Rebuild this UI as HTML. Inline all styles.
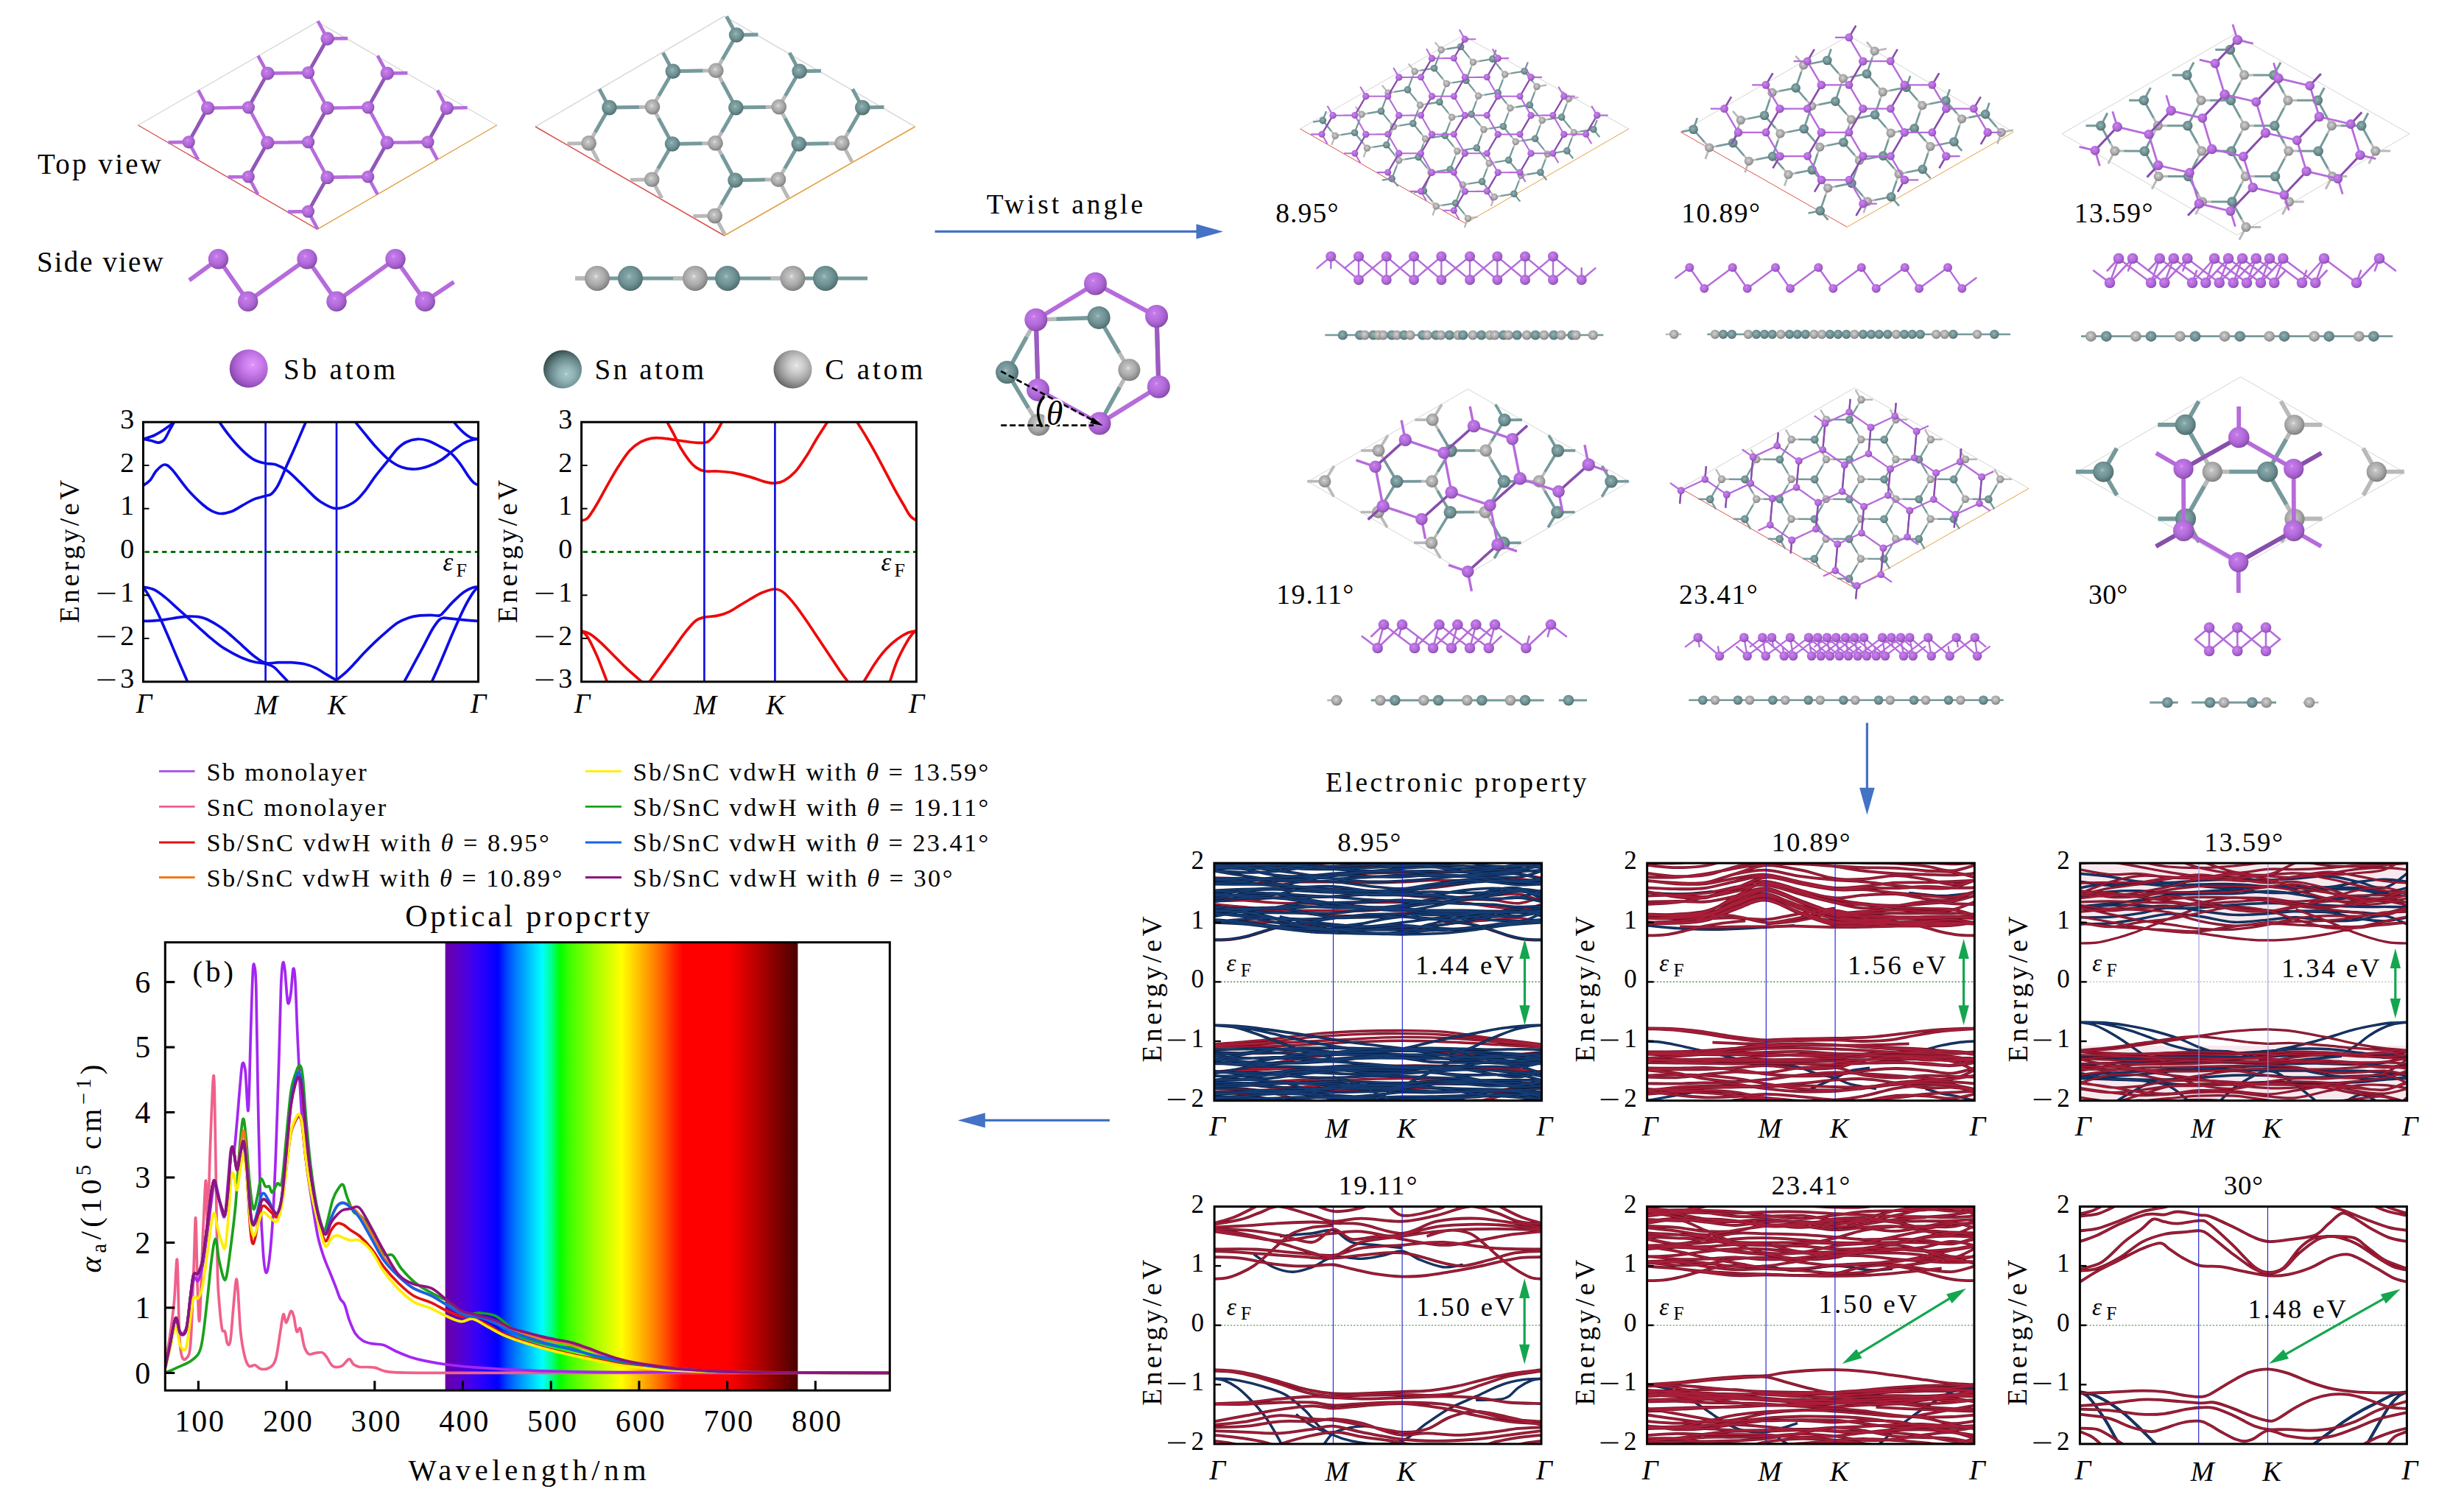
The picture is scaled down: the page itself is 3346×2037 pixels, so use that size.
<!DOCTYPE html>
<html><head><meta charset="utf-8"><title>Figure</title>
<style>html,body{margin:0;padding:0;background:#fff}svg{display:block}text{font-family:"Liberation Serif",serif;fill:#000}</style></head>
<body><svg width="3346" height="2037" viewBox="0 0 3346 2037"><defs>
<radialGradient id="gSb" cx="0.42" cy="0.40" r="0.62" fx="0.40" fy="0.36">
<stop offset="0" stop-color="#e6a8f8"/><stop offset="0.12" stop-color="#c47be8"/><stop offset="0.55" stop-color="#b36bdc"/><stop offset="0.85" stop-color="#9a58c0"/><stop offset="1" stop-color="#7e479f"/></radialGradient>
<radialGradient id="gSn" cx="0.45" cy="0.42" r="0.62" fx="0.45" fy="0.42">
<stop offset="0" stop-color="#a9c4c6"/><stop offset="0.15" stop-color="#86a6a8"/><stop offset="0.55" stop-color="#6f9294"/><stop offset="0.85" stop-color="#587678"/><stop offset="1" stop-color="#435c5e"/></radialGradient>
<radialGradient id="gC" cx="0.45" cy="0.42" r="0.62" fx="0.45" fy="0.42">
<stop offset="0" stop-color="#e8e8e8"/><stop offset="0.15" stop-color="#c4c4c4"/><stop offset="0.55" stop-color="#aaaaaa"/><stop offset="0.85" stop-color="#8a8a8a"/><stop offset="1" stop-color="#6c6c6c"/></radialGradient>

<radialGradient id="gSbL" cx="0.6" cy="0.4" r="0.66" fx="0.6" fy="0.4">
<stop offset="0" stop-color="#fff"/><stop offset="0.04" stop-color="#e092fa"/><stop offset="0.3" stop-color="#cf80f0"/><stop offset="0.6" stop-color="#b368d8"/><stop offset="0.85" stop-color="#9550ba"/><stop offset="1" stop-color="#7a3c9c"/></radialGradient>
<radialGradient id="gSnL" cx="0.6" cy="0.62" r="0.67" fx="0.6" fy="0.62">
<stop offset="0" stop-color="#fff"/><stop offset="0.04" stop-color="#a4c6c8"/><stop offset="0.3" stop-color="#8fb2b4"/><stop offset="0.6" stop-color="#6b8c8e"/><stop offset="0.85" stop-color="#46605f"/><stop offset="1" stop-color="#2c4042"/></radialGradient>
<radialGradient id="gCL" cx="0.6" cy="0.4" r="0.66" fx="0.6" fy="0.4">
<stop offset="0" stop-color="#fff"/><stop offset="0.04" stop-color="#e2e2e2"/><stop offset="0.3" stop-color="#cbcbcb"/><stop offset="0.6" stop-color="#a4a4a4"/><stop offset="0.85" stop-color="#7a7a7a"/><stop offset="1" stop-color="#585858"/></radialGradient>
</defs>
<rect width="3346" height="2037" fill="#fff"/>
<line x1="431" y1="29.7" x2="187.5" y2="170" stroke="#d8d8d8" stroke-width="1.4" stroke-linecap="butt" />
<line x1="674.7" y1="170" x2="431" y2="29.7" stroke="#d8d8d8" stroke-width="1.4" stroke-linecap="butt" />
<line x1="187.5" y1="170" x2="431" y2="311.3" stroke="#d9534f" stroke-width="1.4" stroke-linecap="butt" />
<line x1="431" y1="311.3" x2="674.7" y2="170" stroke="#e0a040" stroke-width="1.4" stroke-linecap="butt" />
<path d="M444.5 240.9L431.4 264.2M444.5 240.9L431.4 216.7M444.5 240.9L472.4 240.4M525.7 193.8L512.6 217.1M525.7 193.8L512.6 169.6M525.7 193.8L553.6 193.3M606.9 146.7L593.8 170M606.9 146.7L594 122.7M606.9 146.7L634.6 146.3M363.3 193.8L350.2 217.1M363.3 193.8L350.2 169.6M363.3 193.8L391.2 193.3M444.5 146.7L431.4 170M444.5 146.7L431.5 122.5M444.5 146.7L472.4 146.2M525.8 99.6L512.7 122.9M525.8 99.6L512.8 75.6M525.8 99.6L553.4 99.1M282.1 146.7L269 170M282.1 146.7L269.2 122.7M282.1 146.7L310 146.2M363.4 99.6L350.3 122.9M363.4 99.6L350.4 75.6M363.4 99.6L391.3 99.1M444.6 52.5L431.5 75.8M444.6 52.5L431.6 28.5M444.6 52.5L472.2 52.1M418.5 287.1L431.6 263.8M418.5 287.1L431.4 311.1M418.5 287.1L390.9 287.6M499.7 240L512.8 216.7M499.7 240L512.7 264M499.7 240L471.8 240.5M581 192.9L594.1 169.6M581 192.9L593.9 216.9M581 192.9L553.1 193.4M337.3 240L350.4 216.7M337.3 240L350.3 264M337.3 240L309.7 240.4M418.6 192.9L431.7 169.6M418.6 192.9L431.6 217.1M418.6 192.9L390.7 193.4M499.8 145.8L512.9 122.5M499.8 145.8L512.9 170M499.8 145.8L471.9 146.3M256.2 192.9L269.3 169.6M256.2 192.9L269.1 216.9M256.2 192.9L228.5 193.4M337.4 145.8L350.5 122.5M337.4 145.8L350.5 170M337.4 145.8L309.5 146.3M418.6 98.7L431.7 75.4M418.6 98.7L431.7 122.9M418.6 98.7L390.7 99.2" stroke="#b66bdb" stroke-width="4.6" fill="none" stroke-linecap="butt"/>
<path d="M444.5 240.9L431.4 264.2M525.7 193.8L512.6 217.1M606.9 146.7L593.8 170M363.3 193.8L350.2 217.1M444.5 146.7L431.4 170M525.8 99.6L512.7 122.9M282.1 146.7L269 170M363.4 99.6L350.3 122.9M444.6 52.5L431.5 75.8M418.5 287.1L431.6 263.8M499.7 240L512.8 216.7M581 192.9L594.1 169.6M337.3 240L350.4 216.7M418.6 192.9L431.7 169.6M499.8 145.8L512.9 122.5M256.2 192.9L269.3 169.6M337.4 145.8L350.5 122.5M418.6 98.7L431.7 75.4" stroke="#9058b6" stroke-width="4.6" fill="none"/>
<circle cx="418.5" cy="287.1" r="8.6" fill="url(#gSb)"/>
<circle cx="499.7" cy="240" r="8.6" fill="url(#gSb)"/>
<circle cx="581" cy="192.9" r="8.6" fill="url(#gSb)"/>
<circle cx="337.3" cy="240" r="8.6" fill="url(#gSb)"/>
<circle cx="418.6" cy="192.9" r="8.6" fill="url(#gSb)"/>
<circle cx="499.8" cy="145.8" r="8.6" fill="url(#gSb)"/>
<circle cx="256.2" cy="192.9" r="8.6" fill="url(#gSb)"/>
<circle cx="337.4" cy="145.8" r="8.6" fill="url(#gSb)"/>
<circle cx="418.6" cy="98.7" r="8.6" fill="url(#gSb)"/>
<circle cx="444.5" cy="240.9" r="9.2" fill="url(#gSb)"/>
<circle cx="525.7" cy="193.8" r="9.2" fill="url(#gSb)"/>
<circle cx="606.9" cy="146.7" r="9.2" fill="url(#gSb)"/>
<circle cx="363.3" cy="193.8" r="9.2" fill="url(#gSb)"/>
<circle cx="444.5" cy="146.7" r="9.2" fill="url(#gSb)"/>
<circle cx="525.8" cy="99.6" r="9.2" fill="url(#gSb)"/>
<circle cx="282.1" cy="146.7" r="9.2" fill="url(#gSb)"/>
<circle cx="363.4" cy="99.6" r="9.2" fill="url(#gSb)"/>
<circle cx="444.6" cy="52.5" r="9.2" fill="url(#gSb)"/>
<line x1="983.6" y1="22" x2="727" y2="172" stroke="#dcdcdc" stroke-width="1.6" stroke-linecap="butt" />
<line x1="1242.6" y1="172" x2="983.6" y2="22" stroke="#dcdcdc" stroke-width="1.6" stroke-linecap="butt" />
<line x1="727" y1="172" x2="983.6" y2="320" stroke="#d9534f" stroke-width="1.6" stroke-linecap="butt" />
<line x1="983.6" y1="320" x2="1242.6" y2="172" stroke="#e0a040" stroke-width="1.6" stroke-linecap="butt" />
<path d="M998.5 244.8L979 278.6M998.5 244.8L979.6 209.5M998.5 244.8L1039.5 244.1M1084.8 195.5L1065.4 229.3M1084.8 195.5L1065.9 160.2M1084.8 195.5L1125.8 194.7M1171.2 146.1L1151.7 179.9M1171.2 146.1L1157.7 120.9M1171.2 146.1L1200.4 145.6M913 195.5L893.5 229.3M913 195.5L894.1 160.2M913 195.5L953.9 194.7M999.3 146.1L979.8 179.9M999.3 146.1L980.4 110.9M999.3 146.1L1040.3 145.4M1085.6 96.8L1066.2 130.6M1085.6 96.8L1072.1 71.6M1085.6 96.8L1114.9 96.3M827.4 146.1L808 179.9M827.4 146.1L813.9 120.9M827.4 146.1L868.4 145.4M913.8 96.8L894.3 130.6M913.8 96.8L900.3 71.6M913.8 96.8L954.7 96.1M1000.1 47.5L980.6 81.3M1000.1 47.5L986.6 22.3M1000.1 47.5L1029.4 46.9" stroke="#769a9c" stroke-width="5" fill="none" stroke-linecap="butt"/>
<path d="M970.7 293.1L979.3 278.1M970.7 293.1L984.2 318.3M970.7 293.1L941.4 293.6M1057 243.8L1065.7 228.8M1057 243.8L1070.5 269M1057 243.8L1038.9 244.1M1143.4 194.4L1152 179.5M1143.4 194.4L1156.9 219.6M1143.4 194.4L1125.2 194.8M885.2 243.8L893.8 228.8M885.2 243.8L898.7 269M885.2 243.8L855.9 244.3M971.5 194.4L980.1 179.5M971.5 194.4L979.9 210M971.5 194.4L953.4 194.8M1057.8 145.1L1066.5 130.1M1057.8 145.1L1066.2 160.7M1057.8 145.1L1039.7 145.4M799.6 194.4L808.3 179.5M799.6 194.4L813.1 219.6M799.6 194.4L770.4 194.9M886 145.1L894.6 130.1M886 145.1L894.3 160.7M886 145.1L867.8 145.4M972.3 95.8L980.9 80.8M972.3 95.8L980.7 111.4M972.3 95.8L954.2 96.1" stroke="#b9b9b9" stroke-width="5" fill="none" stroke-linecap="butt"/>
<circle cx="970.7" cy="293.1" r="10.3" fill="url(#gC)"/>
<circle cx="1057" cy="243.8" r="10.3" fill="url(#gC)"/>
<circle cx="1143.4" cy="194.4" r="10.3" fill="url(#gC)"/>
<circle cx="885.2" cy="243.8" r="10.3" fill="url(#gC)"/>
<circle cx="971.5" cy="194.4" r="10.3" fill="url(#gC)"/>
<circle cx="1057.8" cy="145.1" r="10.3" fill="url(#gC)"/>
<circle cx="799.6" cy="194.4" r="10.3" fill="url(#gC)"/>
<circle cx="886" cy="145.1" r="10.3" fill="url(#gC)"/>
<circle cx="972.3" cy="95.8" r="10.3" fill="url(#gC)"/>
<circle cx="998.5" cy="244.8" r="10.3" fill="url(#gSn)"/>
<circle cx="1084.8" cy="195.5" r="10.3" fill="url(#gSn)"/>
<circle cx="1171.2" cy="146.1" r="10.3" fill="url(#gSn)"/>
<circle cx="913" cy="195.5" r="10.3" fill="url(#gSn)"/>
<circle cx="999.3" cy="146.1" r="10.3" fill="url(#gSn)"/>
<circle cx="1085.6" cy="96.8" r="10.3" fill="url(#gSn)"/>
<circle cx="827.4" cy="146.1" r="10.3" fill="url(#gSn)"/>
<circle cx="913.8" cy="96.8" r="10.3" fill="url(#gSn)"/>
<circle cx="1000.1" cy="47.5" r="10.3" fill="url(#gSn)"/>
<polyline points="257,380.7 296.5,351.7 336.7,409.2 417,351.7 457,409.2 537,351.7 577.3,409.2 616.4,382.8" fill="none" stroke="#b66bdb" stroke-width="5.8" stroke-linejoin="round"/>
<circle cx="336.7" cy="409.2" r="13.7" fill="url(#gSb)"/>
<circle cx="457" cy="409.2" r="13.7" fill="url(#gSb)"/>
<circle cx="577.3" cy="409.2" r="13.7" fill="url(#gSb)"/>
<circle cx="296.5" cy="351.7" r="13.7" fill="url(#gSb)"/>
<circle cx="417" cy="351.7" r="13.7" fill="url(#gSb)"/>
<circle cx="537" cy="351.7" r="13.7" fill="url(#gSb)"/>
<line x1="781" y1="378" x2="1178" y2="378" stroke="#769a9c" stroke-width="5" stroke-linecap="butt" />
<line x1="781" y1="378" x2="811" y2="378" stroke="#b9b9b9" stroke-width="5" stroke-linecap="butt" />
<line x1="914" y1="378" x2="944" y2="378" stroke="#b9b9b9" stroke-width="5" stroke-linecap="butt" />
<line x1="1046.5" y1="378" x2="1076.5" y2="378" stroke="#b9b9b9" stroke-width="5" stroke-linecap="butt" />
<line x1="781" y1="378" x2="811" y2="378" stroke="#b9b9b9" stroke-width="5" stroke-linecap="butt" />
<circle cx="811" cy="378" r="17" fill="url(#gC)"/>
<circle cx="944" cy="378" r="17" fill="url(#gC)"/>
<circle cx="1076.5" cy="378" r="17" fill="url(#gC)"/>
<circle cx="856" cy="378" r="17" fill="url(#gSn)"/>
<circle cx="988" cy="378" r="17" fill="url(#gSn)"/>
<circle cx="1121" cy="378" r="17" fill="url(#gSn)"/>
<circle cx="337.7" cy="500.5" r="26" fill="url(#gSbL)"/>
<circle cx="764" cy="501.6" r="26" fill="url(#gSnL)"/>
<circle cx="1076.5" cy="501.6" r="26" fill="url(#gCL)"/>
<text x="51" y="236" font-size="39" textLength="168" lengthAdjust="spacing" >Top view</text>
<text x="50" y="369" font-size="39" textLength="171.6" lengthAdjust="spacing" >Side view</text>
<text x="385" y="515" font-size="39" textLength="152" lengthAdjust="spacing" >Sb atom</text>
<text x="807.4" y="515" font-size="39" textLength="148.8" lengthAdjust="spacing" >Sn atom</text>
<text x="1120.3" y="515" font-size="39" textLength="133" lengthAdjust="spacing" >C atom</text>
<clipPath id="cpA"><rect x="194.5" y="573.2" width="455" height="352.6"/></clipPath>
<g clip-path="url(#cpA)" fill="none" stroke="#0d0de6" stroke-width="3.7">
<path d="M194.5 659.2C196 658.1 200.5 655.9 203.5 652.6C206.5 649.2 209.3 642.7 212.5 639.1C215.8 635.5 219.5 631.3 223 631C226.5 630.8 228.3 632 233.5 637.6C238.8 643.2 247.6 656.6 254.6 664.6C261.6 672.6 270.1 680.6 275.6 685.5C281.1 690.4 283.6 691.9 287.6 693.9C291.6 695.9 295.1 697.4 299.6 697.5C304.1 697.6 309.6 696.4 314.6 694.5C319.6 692.6 324.6 688.9 329.6 686.1C334.7 683.4 339.6 680.1 344.7 678.1C349.8 676 356.3 674.8 360.3 673.6C364.3 672.3 365.8 673.1 368.7 670.6C371.6 668.1 374.2 665.1 377.7 658.6C381.2 652.1 385.7 640.6 389.7 631.6C393.7 622.6 397.5 614.4 401.7 604.7C406 594.9 412.2 580.2 415.2 573.2C418.2 566.2 419 564.5 419.7 562.7"/>
<path d="M293.6 562.7C294.4 564.5 294.6 567.7 298.1 573.2C301.6 578.7 309.4 589.2 314.6 595.7C319.9 602.2 324.6 607.4 329.6 612.1C334.7 616.9 339.6 621.3 344.7 624.1C349.8 627 355.3 628.1 360.3 629.2C365.3 630.4 369.8 629.4 374.7 631C379.6 632.7 384.7 635.5 389.7 639.1C394.7 642.7 399.7 647.8 404.7 652.6C409.7 657.3 414.7 662.8 419.7 667.6C424.8 672.3 428.6 677.2 434.8 681C440.9 684.9 449.2 690.4 456.7 690.6C464.2 690.9 473.5 686.4 479.8 682.5C486.2 678.7 489.8 673.6 494.8 667.6C499.8 661.6 504.3 653.8 509.8 646.6C515.4 639.4 522.9 630.4 527.9 624.1C532.9 617.9 535.9 613.1 539.9 609.1C543.9 605.2 547.4 602.3 551.9 600.2C556.4 598 561.9 596.5 566.9 596.3C571.9 596 576.4 596.8 581.9 598.7C587.4 600.6 594.9 604.9 599.9 607.7C605 610.4 608 611.6 612 615.1C616 618.6 620 623.4 624 628.6C628 633.9 632.7 642.1 636 646.6C639.2 651.1 641.2 653.6 643.5 655.6C645.7 657.6 648.5 658.1 649.5 658.6"/>
<path d="M476.8 562.7C477.8 564.5 479.8 569 482.8 573.2C485.8 577.4 490.3 582.7 494.8 588.2C499.3 593.7 504.3 600.2 509.8 606.2C515.4 612.1 521.9 619.4 527.9 624.1C533.9 628.9 539.9 632.5 545.9 634.6C551.9 636.8 557.9 637.3 563.9 637C569.9 636.8 575.9 635.3 581.9 633.1C587.9 631 594.4 627.6 599.9 624.1C605.5 620.6 610 615.9 615 612.1C620 608.4 625.5 604.2 630 601.7C634.5 599.2 638.7 598.1 642 597.2C645.2 596.3 648.2 596.4 649.5 596.3"/>
<path d="M610.5 562.7C611.5 564.5 613.7 569.5 616.5 573.2C619.2 576.9 623.2 581.7 627 585.2C630.7 588.7 635.2 592.3 639 594.2C642.7 596 647.7 595.9 649.5 596.3"/>
<path d="M194.5 596.3C197 595.4 204.5 593.5 209.5 591.2C214.5 588.8 220 585.2 224.5 582.2C229 579.2 233.5 575.7 236.5 573.2C239.5 570.7 241.6 568.2 242.6 567.2"/>
<path d="M194.5 596.3C196.5 596.7 203 597.9 206.5 598.7C210 599.5 212.8 601.3 215.5 601.1C218.3 600.8 220.5 600.1 223 597.2C225.5 594.3 228.3 587.7 230.5 583.7C232.8 579.7 235 575.9 236.5 573.2C238 570.5 239 568.2 239.5 567.2"/>
<path d="M194.5 797C197 797.6 204.5 798.5 209.5 800.9C214.5 803.3 219.5 807.4 224.5 811.4C229.5 815.4 234.5 820.3 239.5 824.8C244.6 829.3 249.6 833.8 254.6 838.3C259.6 842.8 264.6 847.3 269.6 851.8C274.6 856.3 279.6 861 284.6 865.3C289.6 869.5 294.6 873.8 299.6 877.3C304.6 880.8 309.6 883.5 314.6 886.3C319.6 889 324.6 891.6 329.6 893.7C334.7 895.8 339.6 897.6 344.7 898.8C349.8 900.1 355.8 900.1 360.3 901.2C364.8 902.4 368.3 903.5 371.7 905.7C375.1 908 377.5 911.4 380.7 914.7C384 918.1 388.7 923.1 391.2 925.8C393.7 928.5 395 930.3 395.7 931.2"/>
<path d="M194.5 797C196 799.4 200 805 203.5 811.4C207 817.8 211.5 826.8 215.5 835.3C219.5 843.8 223.5 853.1 227.5 862.3C231.5 871.5 235 880.2 239.5 890.7C244.1 901.3 251.6 918.8 254.6 925.8C257.6 932.8 257.1 931.5 257.6 932.7"/>
<path d="M194.5 843.4C197 843.3 204.5 843.2 209.5 842.8C214.5 842.5 219.5 842 224.5 841.3C229.5 840.7 234.5 839.6 239.5 838.9C244.6 838.2 249.6 837.3 254.6 837.1C259.6 836.9 265.1 837 269.6 837.7C274.1 838.4 276.6 839 281.6 841.3C286.6 843.7 294.1 848.1 299.6 851.8C305.1 855.5 309.6 859.5 314.6 863.8C319.6 868 324.6 872.8 329.6 877.3C334.7 881.8 339.6 886.9 344.7 890.7C349.8 894.6 354.8 898.8 360.3 900.3C365.8 901.8 371.8 899.8 377.7 899.7C383.6 899.6 389.7 899.4 395.7 899.7C401.7 900.1 408.2 900.6 413.7 901.8C419.2 903.1 423.8 904.8 428.8 907.2C433.8 909.6 439.1 913.5 443.8 916.2C448.4 919 454.5 922.5 456.7 923.7"/>
<path d="M456.7 923.7C458.5 922.2 463.9 918.2 467.8 914.7C471.7 911.2 475.3 907.5 479.8 902.7C484.3 898 489.8 891.5 494.8 886.3C499.8 881 504.8 876 509.8 871.3C514.9 866.5 519.9 862 524.9 857.8C529.9 853.6 534.9 849 539.9 845.8C544.9 842.7 549.9 840.6 554.9 838.9C559.9 837.3 564.9 836.5 569.9 835.9C574.9 835.3 580.4 835.3 584.9 835.3C589.4 835.3 593.9 836.7 596.9 835.9C599.9 835.2 599.9 833.9 602.9 830.8C606 827.7 610.5 821.8 615 817.4C619.5 812.9 625.5 807.1 630 803.9C634.5 800.6 638.7 799 642 797.9C645.2 796.7 648.2 797.1 649.5 797"/>
<path d="M545.9 932.7C546.4 931.5 545.9 931.5 548.9 925.8C551.9 920.1 559.4 906.6 563.9 898.2C568.4 889.9 571.9 883.3 575.9 875.8C579.9 868.3 584.4 859 587.9 853.3C591.4 847.6 594.4 843.7 596.9 841.3C599.4 839 599.9 839.4 602.9 839.2C606 839.1 610.5 840 615 840.4C619.5 840.9 624.2 841.4 630 841.9C635.7 842.4 646.2 843.2 649.5 843.4"/>
<path d="M583.4 932.7C583.9 931.5 583.7 932 586.4 925.8C589.2 919.6 595.2 906.3 599.9 895.2C604.7 884.2 610 870.8 615 859.3C620 847.8 625.5 835.3 630 826.3C634.5 817.4 638.7 810.3 642 805.4C645.2 800.5 648.2 798.4 649.5 797"/>
</g>
<line x1="360.6" y1="573.2" x2="360.6" y2="925.8" stroke="#1010e0" stroke-width="2.7" stroke-linecap="butt" />
<line x1="457" y1="573.2" x2="457" y2="925.8" stroke="#1010e0" stroke-width="2.7" stroke-linecap="butt" />
<line x1="196.5" y1="749.5" x2="649.5" y2="749.5" stroke="#0a6e0a" stroke-width="3" stroke-dasharray="6.4 5.4"/>
<rect x="194.5" y="573.2" width="455" height="352.6" fill="none" stroke="#000" stroke-width="3"/>
<clipPath id="cpB"><rect x="789.6" y="573.2" width="454.8" height="352.6"/></clipPath>
<g clip-path="url(#cpB)" fill="none" stroke="#ee0a0a" stroke-width="3.7">
<path d="M789.6 707.1C791 706.5 794.6 707.1 798 703.5C801.4 699.9 805.5 693 810 685.5C814.5 678.1 820 667.3 825 658.6C830 649.8 835 640.9 840 633.1C845 625.4 850 617.6 855 612.1C860 606.7 865 603 870 600.2C875 597.3 880 595.9 885 595.1C890 594.2 895 594.7 900 595.1C905 595.4 910 596.5 915 597.2C920 597.9 925 598.6 930 599.3C935 599.9 940.6 600.8 945 601.1C949.4 601.4 953.4 601.5 956.4 601.1C959.4 600.7 960.4 600.8 963 598.7C965.6 596.5 969.1 592.4 972 588.2C974.9 583.9 978.4 576.9 980.4 573.2C982.4 569.5 983.4 567 984 565.7"/>
<path d="M902.4 565.7C903 567 903.9 569.2 906 573.2C908.1 577.2 912 583.9 915 589.7C918 595.4 920.5 601.7 924 607.7C927.5 613.6 932.5 621.1 936 625.6C939.5 630.1 941.6 632.3 945 634.6C948.4 637 951.4 638.8 956.4 639.7C961.4 640.6 968.4 639.6 975 640C981.6 640.4 988.5 640.8 996 642.1C1003.5 643.5 1013 646.1 1020 648.1C1027 650.1 1032.6 652.7 1038 654.1C1043.4 655.4 1047.9 656.4 1052.4 656.2C1056.9 655.9 1060.4 655.2 1065 652.6C1069.6 650 1075 646.1 1080 640.6C1085 635.1 1090 627.4 1095 619.6C1100 611.9 1105.2 601.9 1110 594.2C1114.8 586.4 1120.5 577.9 1123.5 573.2C1126.5 568.5 1127.2 567 1128 565.7"/>
<path d="M1160.4 565.7C1161 567 1161.4 568.7 1164 573.2C1166.6 577.7 1172 585.9 1176 592.7C1180 599.4 1184 606.4 1188 613.6C1192 620.9 1195.5 627.6 1200 636.1C1204.5 644.6 1210.5 656.3 1215 664.6C1219.5 672.8 1223.5 679.5 1227 685.5C1230.5 691.5 1233.1 696.9 1236 700.5C1238.9 704.1 1243 706 1244.4 707.1"/>
<path d="M789.6 856.9C791.5 857.5 796.6 858.1 801 860.8C805.4 863.4 810.5 867.8 816 872.8C821.5 877.8 828 884.8 834 890.7C840 896.7 845.8 902.9 852 908.7C858.2 914.6 867 921.8 871.5 925.8C876 929.8 877.8 931.5 879 932.7"/>
<path d="M789.6 856.9C791 858.3 794.6 859.9 798 865.3C801.4 870.7 806.5 881.5 810 889.3C813.5 897 816.6 905.6 819 911.7C821.4 917.8 823.1 922.3 824.4 925.8C825.7 929.3 826.4 931.5 826.8 932.7"/>
<path d="M877.5 932.7C878.2 931.5 878.2 931 882 925.8C885.8 920.6 894.5 908.8 900 901.2C905.5 893.6 910 887.3 915 880.3C920 873.3 925 865.5 930 859.3C935 853.1 940.6 846.3 945 842.8C949.4 839.3 951.4 839.5 956.4 838.3C961.4 837.2 969.4 837.2 975 835.9C980.6 834.7 985 833.2 990 830.8C995 828.5 1000 824.8 1005 821.8C1010 818.9 1015 815.7 1020 812.9C1025 810 1029.6 806.9 1035 804.8C1040.4 802.6 1047.4 799.9 1052.4 800C1057.4 800.1 1060.4 801.7 1065 805.4C1069.6 809 1075 815.6 1080 821.8C1085 828.1 1090 835.6 1095 842.8C1100 850.1 1105 857.8 1110 865.3C1115 872.8 1120 880.3 1125 887.8C1130 895.2 1135.6 903.9 1140 910.2C1144.4 916.6 1148.7 922.1 1151.4 925.8C1154.2 929.5 1155.7 931.5 1156.5 932.7"/>
<path d="M1168.5 932.7C1169.2 931.5 1169.8 931 1173 925.8C1176.2 920.6 1183 908.6 1188 901.2C1193 893.9 1198 887.3 1203 881.8C1208 876.3 1213 872 1218 868.3C1223 864.5 1228.6 861.2 1233 859.3C1237.4 857.4 1242.5 857.3 1244.4 856.9"/>
<path d="M1206 932.7C1206.4 931.5 1206.4 931.5 1208.4 925.8C1210.4 920.1 1214.4 906.8 1218 898.2C1221.6 889.7 1226.5 880.5 1230 874.3C1233.5 868 1236.6 863.7 1239 860.8C1241.4 857.9 1243.5 857.5 1244.4 856.9"/>
</g>
<line x1="956.4" y1="573.2" x2="956.4" y2="925.8" stroke="#1010e0" stroke-width="2.7" stroke-linecap="butt" />
<line x1="1052.4" y1="573.2" x2="1052.4" y2="925.8" stroke="#1010e0" stroke-width="2.7" stroke-linecap="butt" />
<line x1="791.6" y1="749.5" x2="1244.4" y2="749.5" stroke="#0a6e0a" stroke-width="3" stroke-dasharray="6.4 5.4"/>
<rect x="789.6" y="573.2" width="454.8" height="352.6" fill="none" stroke="#000" stroke-width="3"/>
<text x="182.2" y="581.8" font-size="38" text-anchor="end" >3</text>
<text x="182.2" y="640.6" font-size="38" text-anchor="end" >2</text>
<line x1="194.5" y1="632" x2="202.5" y2="632" stroke="#000" stroke-width="2" stroke-linecap="butt" />
<text x="182.2" y="699.3" font-size="38" text-anchor="end" >1</text>
<line x1="194.5" y1="690.7" x2="202.5" y2="690.7" stroke="#000" stroke-width="2" stroke-linecap="butt" />
<text x="182.2" y="758.1" font-size="38" text-anchor="end" >0</text>
<text x="182.2" y="816.9" font-size="38" text-anchor="end" >1</text>
<line x1="132.5" y1="805.8" x2="156.5" y2="805.8" stroke="#000" stroke-width="1.8" stroke-linecap="butt" />
<line x1="194.5" y1="808.3" x2="202.5" y2="808.3" stroke="#000" stroke-width="2" stroke-linecap="butt" />
<text x="182.2" y="875.6" font-size="38" text-anchor="end" >2</text>
<line x1="132.5" y1="864.5" x2="156.5" y2="864.5" stroke="#000" stroke-width="1.8" stroke-linecap="butt" />
<line x1="194.5" y1="867" x2="202.5" y2="867" stroke="#000" stroke-width="2" stroke-linecap="butt" />
<text x="182.2" y="934.4" font-size="38" text-anchor="end" >3</text>
<line x1="132.5" y1="923.3" x2="156.5" y2="923.3" stroke="#000" stroke-width="1.8" stroke-linecap="butt" />
<text x="195.5" y="968.3" font-size="37.8" text-anchor="middle" font-style="italic" >Γ</text>
<text x="361.6" y="970" font-size="37.8" text-anchor="middle" font-style="italic" >M</text>
<text x="457.5" y="970" font-size="37.8" text-anchor="middle" font-style="italic" >K</text>
<text x="649.5" y="968.3" font-size="37.8" text-anchor="middle" font-style="italic" >Γ</text>
<text transform="translate(106.5 749) rotate(-90)" font-size="37.5" text-anchor="middle" textLength="194" lengthAdjust="spacing">Energy/eV</text>
<text x="601.5" y="775" font-size="35" font-style="italic" >ε</text>
<text x="619.5" y="782.5" font-size="26" >F</text>
<text x="777.3" y="581.8" font-size="38" text-anchor="end" >3</text>
<text x="777.3" y="640.6" font-size="38" text-anchor="end" >2</text>
<line x1="789.6" y1="632" x2="797.6" y2="632" stroke="#000" stroke-width="2" stroke-linecap="butt" />
<text x="777.3" y="699.3" font-size="38" text-anchor="end" >1</text>
<line x1="789.6" y1="690.7" x2="797.6" y2="690.7" stroke="#000" stroke-width="2" stroke-linecap="butt" />
<text x="777.3" y="758.1" font-size="38" text-anchor="end" >0</text>
<text x="777.3" y="816.9" font-size="38" text-anchor="end" >1</text>
<line x1="727.6" y1="805.8" x2="751.6" y2="805.8" stroke="#000" stroke-width="1.8" stroke-linecap="butt" />
<line x1="789.6" y1="808.3" x2="797.6" y2="808.3" stroke="#000" stroke-width="2" stroke-linecap="butt" />
<text x="777.3" y="875.6" font-size="38" text-anchor="end" >2</text>
<line x1="727.6" y1="864.5" x2="751.6" y2="864.5" stroke="#000" stroke-width="1.8" stroke-linecap="butt" />
<line x1="789.6" y1="867" x2="797.6" y2="867" stroke="#000" stroke-width="2" stroke-linecap="butt" />
<text x="777.3" y="934.4" font-size="38" text-anchor="end" >3</text>
<line x1="727.6" y1="923.3" x2="751.6" y2="923.3" stroke="#000" stroke-width="1.8" stroke-linecap="butt" />
<text x="790.6" y="968.3" font-size="37.8" text-anchor="middle" font-style="italic" >Γ</text>
<text x="957.4" y="970" font-size="37.8" text-anchor="middle" font-style="italic" >M</text>
<text x="1052.9" y="970" font-size="37.8" text-anchor="middle" font-style="italic" >K</text>
<text x="1244.4" y="968.3" font-size="37.8" text-anchor="middle" font-style="italic" >Γ</text>
<text transform="translate(701.6 749) rotate(-90)" font-size="37.5" text-anchor="middle" textLength="194" lengthAdjust="spacing">Energy/eV</text>
<text x="1196.4" y="775" font-size="35" font-style="italic" >ε</text>
<text x="1214.4" y="782.5" font-size="26" >F</text>
<text x="1339.7" y="289.9" font-size="37.4" textLength="212.3" lengthAdjust="spacing" >Twist angle</text>
<line x1="1269.6" y1="314.4" x2="1628" y2="314.4" stroke="#4472c4" stroke-width="3.2" stroke-linecap="butt" />
<polygon points="1624.5,304.3 1661,314.4 1624.5,324.5" fill="#4472c4"/>
<line x1="1492.2" y1="431.4" x2="1434.2" y2="433.3" stroke="#769a9c" stroke-width="5.6" stroke-linecap="butt" />
<line x1="1434.2" y1="433.3" x2="1406.8" y2="434.2" stroke="#b9b9b9" stroke-width="5.6" stroke-linecap="butt" />
<line x1="1492.2" y1="431.4" x2="1520.2" y2="479.6" stroke="#769a9c" stroke-width="5.6" stroke-linecap="butt" />
<line x1="1520.2" y1="479.6" x2="1533.4" y2="502.3" stroke="#b9b9b9" stroke-width="5.6" stroke-linecap="butt" />
<line x1="1493.1" y1="575.1" x2="1520.5" y2="525.6" stroke="#769a9c" stroke-width="5.6" stroke-linecap="butt" />
<line x1="1520.5" y1="525.6" x2="1533.4" y2="502.3" stroke="#b9b9b9" stroke-width="5.6" stroke-linecap="butt" />
<line x1="1367.6" y1="505.6" x2="1394.3" y2="457.1" stroke="#769a9c" stroke-width="5.6" stroke-linecap="butt" />
<line x1="1394.3" y1="457.1" x2="1406.8" y2="434.2" stroke="#b9b9b9" stroke-width="5.6" stroke-linecap="butt" />
<line x1="1367.6" y1="505.6" x2="1396.7" y2="554.2" stroke="#769a9c" stroke-width="5.6" stroke-linecap="butt" />
<line x1="1396.7" y1="554.2" x2="1410.5" y2="577" stroke="#b9b9b9" stroke-width="5.6" stroke-linecap="butt" />
<circle cx="1533.4" cy="502.3" r="15" fill="url(#gC)"/>
<circle cx="1410.5" cy="577" r="15" fill="url(#gC)"/>
<circle cx="1492.2" cy="431.4" r="15.5" fill="url(#gSn)"/>
<circle cx="1367.6" cy="505.6" r="15.5" fill="url(#gSn)"/>
<polygon points="1487.5,385.2 1406.8,434.2 1409.6,529.4 1493.1,575.1 1573.4,525.2 1570.6,429.5" fill="none" stroke="#b66bdb" stroke-width="6" stroke-linejoin="round"/>
<line x1="1406.8" y1="434.2" x2="1409.6" y2="529.4" stroke="#9a5cc0" stroke-width="6" stroke-linecap="butt" />
<line x1="1573.4" y1="525.2" x2="1570.6" y2="429.5" stroke="#9a5cc0" stroke-width="6" stroke-linecap="butt" />
<circle cx="1487.5" cy="385.2" r="15.5" fill="url(#gSb)"/>
<circle cx="1406.8" cy="434.2" r="15.5" fill="url(#gSb)"/>
<circle cx="1409.6" cy="529.4" r="15.5" fill="url(#gSb)"/>
<circle cx="1493.1" cy="575.1" r="15.5" fill="url(#gSb)"/>
<circle cx="1573.4" cy="525.2" r="15.5" fill="url(#gSb)"/>
<circle cx="1570.6" cy="429.5" r="15.5" fill="url(#gSb)"/>
<polygon points="1418,535.6 1493.1,576.2 1418,577.6" fill="#ffffff" fill-opacity="0.75"/>
<line x1="1359.2" y1="504.2" x2="1488" y2="572.8" stroke="#000" stroke-width="2.6" stroke-dasharray="8 4"/>
<line x1="1359.2" y1="577.6" x2="1485.2" y2="577.6" stroke="#000" stroke-width="2.6" stroke-dasharray="8 4"/>
<polygon points="1497.8,577.9 1483.8,566.7 1480.2,575.1" fill="#000"/>
<path d="M1418 537.8Q1402.6 556 1415.2 579.8" fill="none" stroke="#000" stroke-width="3.4"/>
<text x="1432" y="577" font-size="46" font-style="italic" text-anchor="middle" stroke="#fff" stroke-width="5" stroke-linejoin="round">θ</text>
<text x="1432" y="577" font-size="46" font-style="italic" text-anchor="middle">θ</text>
<line x1="1986.7" y1="48.3" x2="1765.7" y2="175" stroke="#d4d4d4" stroke-width="1" stroke-linecap="butt" />
<line x1="2211.7" y1="175" x2="1986.7" y2="48.3" stroke="#d4d4d4" stroke-width="1" stroke-linecap="butt" />
<line x1="1765.7" y1="175" x2="1990" y2="303.3" stroke="#d9534f" stroke-width="1" stroke-linecap="butt" />
<line x1="1990" y1="303.3" x2="2211.7" y2="175" stroke="#e0a040" stroke-width="1" stroke-linecap="butt" />
<path d="M1796.3 163.6L1801 151.2M1796.3 163.6L1783 165.7M1796.3 163.6L1808 178.2M1839.5 180.2L1846.2 162.8M1839.5 180.2L1821 183.2M1839.5 180.2L1851.3 194.8M1875.5 151L1882.2 133.6M1875.5 151L1857 154M1875.5 151L1887.3 165.6M1911.5 121.9L1918.2 104.4M1911.5 121.9L1893 124.9M1911.5 121.9L1923.3 136.5M1947.5 92.7L1954.2 75.3M1947.5 92.7L1929 95.7M1947.5 92.7L1959.3 107.3M1983.5 63.5L1988.3 51.1M1983.5 63.5L1965 66.5M1983.5 63.5L1995.3 78.1M1882.8 196.8L1889.5 179.4M1882.8 196.8L1864.3 199.8M1882.8 196.8L1894.6 211.4M1918.8 167.6L1925.5 150.2M1918.8 167.6L1900.3 170.6M1918.8 167.6L1930.6 182.2M1954.8 138.5L1961.5 121M1954.8 138.5L1936.3 141.5M1954.8 138.5L1966.6 153.1M1990.8 109.3L1997.5 91.9M1990.8 109.3L1972.3 112.3M1990.8 109.3L2002.6 123.9M2026.8 80.1L2031.6 67.7M2026.8 80.1L2008.3 83.1M2026.8 80.1L2038.6 94.7M1890.1 242.6L1896.8 225.1M1890.1 242.6L1876.8 244.7M1890.1 242.6L1898.5 253M1926.1 213.4L1932.8 196M1926.1 213.4L1907.6 216.4M1926.1 213.4L1937.8 228M1962.1 184.2L1968.8 166.8M1962.1 184.2L1943.6 187.2M1962.1 184.2L1973.8 198.8M1998.1 155.1L2004.8 137.6M1998.1 155.1L1979.6 158.1M1998.1 155.1L2009.8 169.7M2034.1 125.9L2040.8 108.5M2034.1 125.9L2015.6 128.9M2034.1 125.9L2045.8 140.5M2070.1 96.7L2074.8 84.3M2070.1 96.7L2051.6 99.7M2070.1 96.7L2081.8 111.3M1933.3 259.2L1940 241.7M1933.3 259.2L1920.1 261.3M1933.3 259.2L1945.1 273.8M1969.3 230L1976 212.6M1969.3 230L1950.8 233M1969.3 230L1981.1 244.6M2005.3 200.8L2012 183.4M2005.3 200.8L1986.8 203.8M2005.3 200.8L2017.1 215.4M2041.3 171.7L2048 154.2M2041.3 171.7L2022.8 174.7M2041.3 171.7L2053.1 186.3M2077.3 142.5L2084 125.1M2077.3 142.5L2058.8 145.5M2077.3 142.5L2089.1 157.1M1976.6 275.8L1983.3 258.3M1976.6 275.8L1958.1 278.8M1976.6 275.8L1988.4 290.4M2012.6 246.6L2019.3 229.2M2012.6 246.6L1994.1 249.6M2012.6 246.6L2024.4 261.2M2048.6 217.4L2055.3 200M2048.6 217.4L2030.1 220.4M2048.6 217.4L2060.4 232M2084.6 188.3L2091.3 170.8M2084.6 188.3L2066.1 191.3M2084.6 188.3L2096.4 202.9M2120.6 159.1L2127.3 141.7M2120.6 159.1L2102.1 162.1M2120.6 159.1L2132.4 173.7M2055.9 263.2L2062.6 245.8M2055.9 263.2L2037.4 266.2M2055.9 263.2L2064.3 273.6M2091.9 234L2098.6 216.6M2091.9 234L2073.4 237M2091.9 234L2100.3 244.5M2127.9 204.9L2134.6 187.4M2127.9 204.9L2109.4 207.9M2127.9 204.9L2136.3 215.3M2163.9 175.7L2168.7 163.2M2163.9 175.7L2145.4 178.7M2163.9 175.7L2172.3 186.1" stroke="#769a9c" stroke-width="2.3" fill="none" stroke-linecap="butt"/>
<path d="M1813.1 184.5L1808.3 196.9M1813.1 184.5L1821.3 183.1M1813.1 184.5L1807.9 178M1849.1 155.3L1846.1 163M1849.1 155.3L1857.3 154M1849.1 155.3L1840.7 144.9M1885.1 126.1L1882.1 133.9M1885.1 126.1L1893.3 124.8M1885.1 126.1L1876.7 115.7M1921.1 97L1918.1 104.7M1921.1 97L1929.3 95.6M1921.1 97L1912.7 86.5M1957.1 67.8L1954.1 75.5M1957.1 67.8L1965.3 66.5M1957.1 67.8L1948.7 57.4M1856.4 201.1L1851.6 213.5M1856.4 201.1L1864.6 199.7M1856.4 201.1L1851.1 194.6M1892.4 171.9L1889.4 179.6M1892.4 171.9L1900.6 170.6M1892.4 171.9L1887.1 165.4M1928.4 142.7L1925.4 150.5M1928.4 142.7L1936.6 141.4M1928.4 142.7L1923.1 136.3M1964.4 113.6L1961.4 121.3M1964.4 113.6L1972.6 112.2M1964.4 113.6L1959.1 107.1M2000.4 84.4L1997.4 92.1M2000.4 84.4L2008.6 83.1M2000.4 84.4L1995.1 77.9M1899.6 217.7L1896.7 225.4M1899.6 217.7L1907.8 216.3M1899.6 217.7L1894.4 211.2M1935.6 188.5L1932.7 196.2M1935.6 188.5L1943.8 187.2M1935.6 188.5L1930.4 182M1971.6 159.3L1968.7 167.1M1971.6 159.3L1979.8 158M1971.6 159.3L1966.4 152.9M2007.6 130.2L2004.7 137.9M2007.6 130.2L2015.8 128.8M2007.6 130.2L2002.4 123.7M2043.6 101L2040.7 108.7M2043.6 101L2051.8 99.7M2043.6 101L2038.4 94.5M1942.9 234.3L1939.9 242M1942.9 234.3L1951.1 232.9M1942.9 234.3L1937.7 227.8M1978.9 205.1L1975.9 212.8M1978.9 205.1L1987.1 203.8M1978.9 205.1L1973.7 198.6M2014.9 175.9L2011.9 183.7M2014.9 175.9L2023.1 174.6M2014.9 175.9L2009.7 169.5M2050.9 146.8L2047.9 154.5M2050.9 146.8L2059.1 145.4M2050.9 146.8L2045.7 140.3M2086.9 117.6L2083.9 125.3M2086.9 117.6L2100.1 115.5M2086.9 117.6L2081.7 111.1M1950.2 280L1945.4 292.5M1950.2 280L1958.4 278.7M1950.2 280L1944.9 273.6M1986.2 250.9L1983.2 258.6M1986.2 250.9L1994.4 249.5M1986.2 250.9L1980.9 244.4M2022.2 221.7L2019.2 229.4M2022.2 221.7L2030.4 220.4M2022.2 221.7L2016.9 215.2M2058.2 192.5L2055.2 200.3M2058.2 192.5L2066.4 191.2M2058.2 192.5L2052.9 186.1M2094.2 163.4L2091.2 171.1M2094.2 163.4L2102.4 162M2094.2 163.4L2088.9 156.9M2130.2 134.2L2127.2 141.9M2130.2 134.2L2143.4 132.1M2130.2 134.2L2121.8 123.8M1993.4 296.6L1988.7 309.1M1993.4 296.6L2006.7 294.5M1993.4 296.6L1988.2 290.2M2029.4 267.5L2024.7 279.9M2029.4 267.5L2037.6 266.1M2029.4 267.5L2024.2 261M2065.4 238.3L2062.5 246M2065.4 238.3L2073.6 237M2065.4 238.3L2060.2 231.8M2101.4 209.1L2098.5 216.9M2101.4 209.1L2109.6 207.8M2101.4 209.1L2096.2 202.7M2137.4 180L2134.5 187.7M2137.4 180L2145.6 178.6M2137.4 180L2132.2 173.5" stroke="#b9b9b9" stroke-width="2.3" fill="none" stroke-linecap="butt"/>
<circle cx="1813.1" cy="184.5" r="4.7" fill="url(#gC)"/>
<circle cx="1849.1" cy="155.3" r="4.7" fill="url(#gC)"/>
<circle cx="1885.1" cy="126.1" r="4.7" fill="url(#gC)"/>
<circle cx="1921.1" cy="97" r="4.7" fill="url(#gC)"/>
<circle cx="1957.1" cy="67.8" r="4.7" fill="url(#gC)"/>
<circle cx="1856.4" cy="201.1" r="4.7" fill="url(#gC)"/>
<circle cx="1892.4" cy="171.9" r="4.7" fill="url(#gC)"/>
<circle cx="1928.4" cy="142.7" r="4.7" fill="url(#gC)"/>
<circle cx="1964.4" cy="113.6" r="4.7" fill="url(#gC)"/>
<circle cx="2000.4" cy="84.4" r="4.7" fill="url(#gC)"/>
<circle cx="1899.6" cy="217.7" r="4.7" fill="url(#gC)"/>
<circle cx="1935.6" cy="188.5" r="4.7" fill="url(#gC)"/>
<circle cx="1971.6" cy="159.3" r="4.7" fill="url(#gC)"/>
<circle cx="2007.6" cy="130.2" r="4.7" fill="url(#gC)"/>
<circle cx="2043.6" cy="101" r="4.7" fill="url(#gC)"/>
<circle cx="1942.9" cy="234.3" r="4.7" fill="url(#gC)"/>
<circle cx="1978.9" cy="205.1" r="4.7" fill="url(#gC)"/>
<circle cx="2014.9" cy="175.9" r="4.7" fill="url(#gC)"/>
<circle cx="2050.9" cy="146.8" r="4.7" fill="url(#gC)"/>
<circle cx="2086.9" cy="117.6" r="4.7" fill="url(#gC)"/>
<circle cx="1950.2" cy="280" r="4.7" fill="url(#gC)"/>
<circle cx="1986.2" cy="250.9" r="4.7" fill="url(#gC)"/>
<circle cx="2022.2" cy="221.7" r="4.7" fill="url(#gC)"/>
<circle cx="2058.2" cy="192.5" r="4.7" fill="url(#gC)"/>
<circle cx="2094.2" cy="163.4" r="4.7" fill="url(#gC)"/>
<circle cx="2130.2" cy="134.2" r="4.7" fill="url(#gC)"/>
<circle cx="1993.4" cy="296.6" r="4.7" fill="url(#gC)"/>
<circle cx="2029.4" cy="267.5" r="4.7" fill="url(#gC)"/>
<circle cx="2065.4" cy="238.3" r="4.7" fill="url(#gC)"/>
<circle cx="2101.4" cy="209.1" r="4.7" fill="url(#gC)"/>
<circle cx="2137.4" cy="180" r="4.7" fill="url(#gC)"/>
<circle cx="1796.3" cy="163.6" r="4.8" fill="url(#gSn)"/>
<circle cx="1839.5" cy="180.2" r="4.8" fill="url(#gSn)"/>
<circle cx="1875.5" cy="151" r="4.8" fill="url(#gSn)"/>
<circle cx="1911.5" cy="121.9" r="4.8" fill="url(#gSn)"/>
<circle cx="1947.5" cy="92.7" r="4.8" fill="url(#gSn)"/>
<circle cx="1983.5" cy="63.5" r="4.8" fill="url(#gSn)"/>
<circle cx="1882.8" cy="196.8" r="4.8" fill="url(#gSn)"/>
<circle cx="1918.8" cy="167.6" r="4.8" fill="url(#gSn)"/>
<circle cx="1954.8" cy="138.5" r="4.8" fill="url(#gSn)"/>
<circle cx="1990.8" cy="109.3" r="4.8" fill="url(#gSn)"/>
<circle cx="2026.8" cy="80.1" r="4.8" fill="url(#gSn)"/>
<circle cx="1890.1" cy="242.6" r="4.8" fill="url(#gSn)"/>
<circle cx="1926.1" cy="213.4" r="4.8" fill="url(#gSn)"/>
<circle cx="1962.1" cy="184.2" r="4.8" fill="url(#gSn)"/>
<circle cx="1998.1" cy="155.1" r="4.8" fill="url(#gSn)"/>
<circle cx="2034.1" cy="125.9" r="4.8" fill="url(#gSn)"/>
<circle cx="2070.1" cy="96.7" r="4.8" fill="url(#gSn)"/>
<circle cx="1933.3" cy="259.2" r="4.8" fill="url(#gSn)"/>
<circle cx="1969.3" cy="230" r="4.8" fill="url(#gSn)"/>
<circle cx="2005.3" cy="200.8" r="4.8" fill="url(#gSn)"/>
<circle cx="2041.3" cy="171.7" r="4.8" fill="url(#gSn)"/>
<circle cx="2077.3" cy="142.5" r="4.8" fill="url(#gSn)"/>
<circle cx="1976.6" cy="275.8" r="4.8" fill="url(#gSn)"/>
<circle cx="2012.6" cy="246.6" r="4.8" fill="url(#gSn)"/>
<circle cx="2048.6" cy="217.4" r="4.8" fill="url(#gSn)"/>
<circle cx="2084.6" cy="188.3" r="4.8" fill="url(#gSn)"/>
<circle cx="2120.6" cy="159.1" r="4.8" fill="url(#gSn)"/>
<circle cx="2055.9" cy="263.2" r="4.8" fill="url(#gSn)"/>
<circle cx="2091.9" cy="234" r="4.8" fill="url(#gSn)"/>
<circle cx="2127.9" cy="204.9" r="4.8" fill="url(#gSn)"/>
<circle cx="2163.9" cy="175.7" r="4.8" fill="url(#gSn)"/>
<path d="M1989.3 260L1981.8 273M1989.3 260L2004.4 259.9M1989.3 260L1981.8 246.9M2034.2 234.2L2026.6 247.1M2034.2 234.2L2049.2 234.1M2034.2 234.2L2026.6 221M2079 208.3L2071.4 221.3M2079 208.3L2094.1 208.2M2079 208.3L2071.4 195.2M2123.8 182.5L2116.3 195.5M2123.8 182.5L2138.9 182.4M2123.8 182.5L2116.3 169.4M2168.7 156.7L2161.1 169.6M2168.7 156.7L2183.6 156.6M2168.7 156.7L2161.2 143.7M1944.5 234.2L1936.9 247.1M1944.5 234.2L1959.6 234.1M1944.5 234.2L1936.9 221M1989.3 208.3L1981.8 221.3M1989.3 208.3L2004.4 208.2M1989.3 208.3L1981.8 195.2M2034.2 182.5L2026.6 195.5M2034.2 182.5L2049.2 182.4M2034.2 182.5L2026.6 169.4M2079 156.7L2071.4 169.6M2079 156.7L2094.1 156.6M2079 156.7L2071.4 143.5M2123.8 130.8L2116.3 143.8M2123.8 130.8L2138.8 130.7M2123.8 130.8L2116.3 117.8M1899.7 208.3L1892.1 221.3M1899.7 208.3L1914.7 208.2M1899.7 208.3L1892.1 195.2M1944.5 182.5L1936.9 195.5M1944.5 182.5L1959.6 182.4M1944.5 182.5L1936.9 169.4M1989.3 156.7L1981.8 169.6M1989.3 156.7L2004.4 156.6M1989.3 156.7L1981.8 143.5M2034.2 130.8L2026.6 143.8M2034.2 130.8L2049.2 130.7M2034.2 130.8L2026.6 117.7M2079 105L2071.4 118M2079 105L2093.9 104.9M2079 105L2071.5 92M1854.8 182.5L1847.3 195.5M1854.8 182.5L1869.9 182.4M1854.8 182.5L1847.3 169.4M1899.7 156.7L1892.1 169.6M1899.7 156.7L1914.7 156.6M1899.7 156.7L1892.1 143.5M1944.5 130.8L1936.9 143.8M1944.5 130.8L1959.6 130.7M1944.5 130.8L1936.9 117.7M1989.3 105L1981.8 118M1989.3 105L2004.4 104.9M1989.3 105L1981.8 91.9M2034.2 79.2L2026.6 92.1M2034.2 79.2L2049.1 79.1M2034.2 79.2L2026.7 66.2M1810 156.7L1802.4 169.6M1810 156.7L1825.1 156.6M1810 156.7L1802.5 143.7M1854.8 130.8L1847.3 143.8M1854.8 130.8L1869.9 130.7M1854.8 130.8L1847.3 117.8M1899.7 105L1892.1 118M1899.7 105L1914.7 104.9M1899.7 105L1892.2 92M1944.5 79.2L1936.9 92.1M1944.5 79.2L1959.6 79.1M1944.5 79.2L1937 66.2M1989.3 53.3L1981.8 66.3M1989.3 53.3L2004.2 53.3M1989.3 53.3L1981.8 40.3M1974.3 285.7L1981.9 272.7M1974.3 285.7L1959.4 285.8M1974.3 285.7L1981.8 298.7M2019.2 259.8L2026.7 246.9M2019.2 259.8L2004.1 259.9M2019.2 259.8L2026.7 272.8M2064 234L2071.6 221M2064 234L2048.9 234.1M2064 234L2071.5 247M2108.8 208.2L2116.4 195.2M2108.8 208.2L2093.8 208.3M2108.8 208.2L2116.3 221.2M2153.7 182.3L2161.2 169.4M2153.7 182.3L2138.6 182.4M2153.7 182.3L2161.2 195.3M1929.5 259.8L1937.1 246.9M1929.5 259.8L1914.6 259.9M1929.5 259.8L1937 272.8M1974.3 234L1981.9 221M1974.3 234L1959.3 234.1M1974.3 234L1981.9 247.1M2019.2 208.2L2026.7 195.2M2019.2 208.2L2004.1 208.3M2019.2 208.2L2026.7 221.3M2064 182.3L2071.6 169.4M2064 182.3L2048.9 182.4M2064 182.3L2071.6 195.5M2108.8 156.5L2116.4 143.5M2108.8 156.5L2093.8 156.6M2108.8 156.5L2116.4 169.6M1884.7 234L1892.2 221M1884.7 234L1869.7 234.1M1884.7 234L1892.2 247M1929.5 208.2L1937.1 195.2M1929.5 208.2L1914.4 208.3M1929.5 208.2L1937.1 221.3M1974.3 182.3L1981.9 169.4M1974.3 182.3L1959.3 182.4M1974.3 182.3L1981.9 195.5M2019.2 156.5L2026.7 143.5M2019.2 156.5L2004.1 156.6M2019.2 156.5L2026.7 169.6M2064 130.7L2071.6 117.7M2064 130.7L2048.9 130.8M2064 130.7L2071.6 143.8M1839.8 208.2L1847.4 195.2M1839.8 208.2L1824.9 208.2M1839.8 208.2L1847.3 221.2M1884.7 182.3L1892.2 169.4M1884.7 182.3L1869.6 182.4M1884.7 182.3L1892.2 195.5M1929.5 156.5L1937.1 143.5M1929.5 156.5L1914.4 156.6M1929.5 156.5L1937.1 169.6M1974.3 130.7L1981.9 117.7M1974.3 130.7L1959.3 130.8M1974.3 130.7L1981.9 143.8M2019.2 104.8L2026.7 91.9M2019.2 104.8L2004.1 104.9M2019.2 104.8L2026.7 118M1795 182.3L1802.6 169.4M1795 182.3L1780.1 182.4M1795 182.3L1802.5 195.3M1839.8 156.5L1847.4 143.5M1839.8 156.5L1824.8 156.6M1839.8 156.5L1847.4 169.6M1884.7 130.7L1892.2 117.7M1884.7 130.7L1869.6 130.8M1884.7 130.7L1892.2 143.8M1929.5 104.8L1937.1 91.9M1929.5 104.8L1914.4 104.9M1929.5 104.8L1937.1 118M1974.3 79L1981.9 66M1974.3 79L1959.3 79.1M1974.3 79L1981.9 92.1" stroke="#b66bdb" stroke-width="2.1" fill="none" stroke-linecap="butt"/>
<path d="M1989.3 260L1981.8 273M2034.2 234.2L2026.6 247.1M2079 208.3L2071.4 221.3M2123.8 182.5L2116.3 195.5M2168.7 156.7L2161.1 169.6M1944.5 234.2L1936.9 247.1M1989.3 208.3L1981.8 221.3M2034.2 182.5L2026.6 195.5M2079 156.7L2071.4 169.6M2123.8 130.8L2116.3 143.8M1899.7 208.3L1892.1 221.3M1944.5 182.5L1936.9 195.5M1989.3 156.7L1981.8 169.6M2034.2 130.8L2026.6 143.8M2079 105L2071.4 118M1854.8 182.5L1847.3 195.5M1899.7 156.7L1892.1 169.6M1944.5 130.8L1936.9 143.8M1989.3 105L1981.8 118M2034.2 79.2L2026.6 92.1M1810 156.7L1802.4 169.6M1854.8 130.8L1847.3 143.8M1899.7 105L1892.1 118M1944.5 79.2L1936.9 92.1M1989.3 53.3L1981.8 66.3M1974.3 285.7L1981.9 272.7M2019.2 259.8L2026.7 246.9M2064 234L2071.6 221M2108.8 208.2L2116.4 195.2M2153.7 182.3L2161.2 169.4M1929.5 259.8L1937.1 246.9M1974.3 234L1981.9 221M2019.2 208.2L2026.7 195.2M2064 182.3L2071.6 169.4M2108.8 156.5L2116.4 143.5M1884.7 234L1892.2 221M1929.5 208.2L1937.1 195.2M1974.3 182.3L1981.9 169.4M2019.2 156.5L2026.7 143.5M2064 130.7L2071.6 117.7M1839.8 208.2L1847.4 195.2M1884.7 182.3L1892.2 169.4M1929.5 156.5L1937.1 143.5M1974.3 130.7L1981.9 117.7M2019.2 104.8L2026.7 91.9M1795 182.3L1802.6 169.4M1839.8 156.5L1847.4 143.5M1884.7 130.7L1892.2 117.7M1929.5 104.8L1937.1 91.9M1974.3 79L1981.9 66" stroke="#8650aa" stroke-width="2.1" fill="none"/>
<circle cx="1974.3" cy="285.7" r="4.5" fill="url(#gSb)"/>
<circle cx="2019.2" cy="259.8" r="4.5" fill="url(#gSb)"/>
<circle cx="2064" cy="234" r="4.5" fill="url(#gSb)"/>
<circle cx="2108.8" cy="208.2" r="4.5" fill="url(#gSb)"/>
<circle cx="2153.7" cy="182.3" r="4.5" fill="url(#gSb)"/>
<circle cx="1929.5" cy="259.8" r="4.5" fill="url(#gSb)"/>
<circle cx="1974.3" cy="234" r="4.5" fill="url(#gSb)"/>
<circle cx="2019.2" cy="208.2" r="4.5" fill="url(#gSb)"/>
<circle cx="2064" cy="182.3" r="4.5" fill="url(#gSb)"/>
<circle cx="2108.8" cy="156.5" r="4.5" fill="url(#gSb)"/>
<circle cx="1884.7" cy="234" r="4.5" fill="url(#gSb)"/>
<circle cx="1929.5" cy="208.2" r="4.5" fill="url(#gSb)"/>
<circle cx="1974.3" cy="182.3" r="4.5" fill="url(#gSb)"/>
<circle cx="2019.2" cy="156.5" r="4.5" fill="url(#gSb)"/>
<circle cx="2064" cy="130.7" r="4.5" fill="url(#gSb)"/>
<circle cx="1839.8" cy="208.2" r="4.5" fill="url(#gSb)"/>
<circle cx="1884.7" cy="182.3" r="4.5" fill="url(#gSb)"/>
<circle cx="1929.5" cy="156.5" r="4.5" fill="url(#gSb)"/>
<circle cx="1974.3" cy="130.7" r="4.5" fill="url(#gSb)"/>
<circle cx="2019.2" cy="104.8" r="4.5" fill="url(#gSb)"/>
<circle cx="1795" cy="182.3" r="4.5" fill="url(#gSb)"/>
<circle cx="1839.8" cy="156.5" r="4.5" fill="url(#gSb)"/>
<circle cx="1884.7" cy="130.7" r="4.5" fill="url(#gSb)"/>
<circle cx="1929.5" cy="104.8" r="4.5" fill="url(#gSb)"/>
<circle cx="1974.3" cy="79" r="4.5" fill="url(#gSb)"/>
<circle cx="1989.3" cy="260" r="4.7" fill="url(#gSb)"/>
<circle cx="2034.2" cy="234.2" r="4.7" fill="url(#gSb)"/>
<circle cx="2079" cy="208.3" r="4.7" fill="url(#gSb)"/>
<circle cx="2123.8" cy="182.5" r="4.7" fill="url(#gSb)"/>
<circle cx="2168.7" cy="156.7" r="4.7" fill="url(#gSb)"/>
<circle cx="1944.5" cy="234.2" r="4.7" fill="url(#gSb)"/>
<circle cx="1989.3" cy="208.3" r="4.7" fill="url(#gSb)"/>
<circle cx="2034.2" cy="182.5" r="4.7" fill="url(#gSb)"/>
<circle cx="2079" cy="156.7" r="4.7" fill="url(#gSb)"/>
<circle cx="2123.8" cy="130.8" r="4.7" fill="url(#gSb)"/>
<circle cx="1899.7" cy="208.3" r="4.7" fill="url(#gSb)"/>
<circle cx="1944.5" cy="182.5" r="4.7" fill="url(#gSb)"/>
<circle cx="1989.3" cy="156.7" r="4.7" fill="url(#gSb)"/>
<circle cx="2034.2" cy="130.8" r="4.7" fill="url(#gSb)"/>
<circle cx="2079" cy="105" r="4.7" fill="url(#gSb)"/>
<circle cx="1854.8" cy="182.5" r="4.7" fill="url(#gSb)"/>
<circle cx="1899.7" cy="156.7" r="4.7" fill="url(#gSb)"/>
<circle cx="1944.5" cy="130.8" r="4.7" fill="url(#gSb)"/>
<circle cx="1989.3" cy="105" r="4.7" fill="url(#gSb)"/>
<circle cx="2034.2" cy="79.2" r="4.7" fill="url(#gSb)"/>
<circle cx="1810" cy="156.7" r="4.7" fill="url(#gSb)"/>
<circle cx="1854.8" cy="130.8" r="4.7" fill="url(#gSb)"/>
<circle cx="1899.7" cy="105" r="4.7" fill="url(#gSb)"/>
<circle cx="1944.5" cy="79.2" r="4.7" fill="url(#gSb)"/>
<circle cx="1989.3" cy="53.3" r="4.7" fill="url(#gSb)"/>
<path d="M1807.3 348.3L1807.3 364.2M1807.3 348.3L1845 380M1807.3 348.3L1788.5 364.2M1845 348.3L1845 380M1845 348.3L1882.7 380M1845 348.3L1826.2 364.2M1882.7 348.3L1882.7 380M1882.7 348.3L1920 380M1882.7 348.3L1845 380M1920 348.3L1920 380M1920 348.3L1957.3 380M1920 348.3L1882.7 380M1957.3 348.3L1957.3 380M1957.3 348.3L1996 380M1957.3 348.3L1920 380M1996 348.3L1996 380M1996 348.3L2033.3 380M1996 348.3L1957.3 380M2033.3 348.3L2033.3 380M2033.3 348.3L2071 380M2033.3 348.3L1996 380M2071 348.3L2071 380M2071 348.3L2109 380M2071 348.3L2033.3 380M2109 348.3L2109 380M2109 348.3L2147.7 380M2109 348.3L2071 380M2109 380L2127.8 364.2M2147.7 380L2147.7 364.2M2147.7 380L2166.5 364.2" stroke="#b66bdb" stroke-width="2.4" fill="none" stroke-linecap="round"/>
<circle cx="1845" cy="380" r="7" fill="url(#gSb)"/>
<circle cx="1882.7" cy="380" r="7" fill="url(#gSb)"/>
<circle cx="1920" cy="380" r="7" fill="url(#gSb)"/>
<circle cx="1957.3" cy="380" r="7" fill="url(#gSb)"/>
<circle cx="1996" cy="380" r="7" fill="url(#gSb)"/>
<circle cx="2033.3" cy="380" r="7" fill="url(#gSb)"/>
<circle cx="2071" cy="380" r="7" fill="url(#gSb)"/>
<circle cx="2109" cy="380" r="7" fill="url(#gSb)"/>
<circle cx="2147.7" cy="380" r="7" fill="url(#gSb)"/>
<circle cx="1807.3" cy="348.3" r="7" fill="url(#gSb)"/>
<circle cx="1845" cy="348.3" r="7" fill="url(#gSb)"/>
<circle cx="1882.7" cy="348.3" r="7" fill="url(#gSb)"/>
<circle cx="1920" cy="348.3" r="7" fill="url(#gSb)"/>
<circle cx="1957.3" cy="348.3" r="7" fill="url(#gSb)"/>
<circle cx="1996" cy="348.3" r="7" fill="url(#gSb)"/>
<circle cx="2033.3" cy="348.3" r="7" fill="url(#gSb)"/>
<circle cx="2071" cy="348.3" r="7" fill="url(#gSb)"/>
<circle cx="2109" cy="348.3" r="7" fill="url(#gSb)"/>
<line x1="1799.3" y1="455" x2="2177.3" y2="455" stroke="#769a9c" stroke-width="2.4" stroke-linecap="butt" />
<circle cx="1823.3" cy="455" r="6.6" fill="url(#gSn)"/>
<circle cx="1846.7" cy="455" r="6.6" fill="url(#gSn)"/>
<circle cx="1853.3" cy="455" r="6.6" fill="url(#gC)"/>
<circle cx="1865" cy="455" r="6.6" fill="url(#gSn)"/>
<circle cx="1871.7" cy="455" r="6.6" fill="url(#gC)"/>
<circle cx="1878.3" cy="455" r="6.6" fill="url(#gC)"/>
<circle cx="1890" cy="455" r="6.6" fill="url(#gSn)"/>
<circle cx="1896.7" cy="455" r="6.6" fill="url(#gC)"/>
<circle cx="1906.7" cy="455" r="6.6" fill="url(#gSn)"/>
<circle cx="1915" cy="455" r="6.6" fill="url(#gC)"/>
<circle cx="1931.7" cy="455" r="6.6" fill="url(#gSn)"/>
<circle cx="1938.3" cy="455" r="6.6" fill="url(#gC)"/>
<circle cx="1950" cy="455" r="6.6" fill="url(#gSn)"/>
<circle cx="1956.7" cy="455" r="6.6" fill="url(#gC)"/>
<circle cx="1968.3" cy="455" r="6.6" fill="url(#gSn)"/>
<circle cx="1980" cy="455" r="6.6" fill="url(#gC)"/>
<circle cx="1986.7" cy="455" r="6.6" fill="url(#gSn)"/>
<circle cx="2000" cy="455" r="6.6" fill="url(#gC)"/>
<circle cx="2011.7" cy="455" r="6.6" fill="url(#gSn)"/>
<circle cx="2023.3" cy="455" r="6.6" fill="url(#gC)"/>
<circle cx="2030" cy="455" r="6.6" fill="url(#gC)"/>
<circle cx="2041.7" cy="455" r="6.6" fill="url(#gSn)"/>
<circle cx="2048.3" cy="455" r="6.6" fill="url(#gC)"/>
<circle cx="2060" cy="455" r="6.6" fill="url(#gSn)"/>
<circle cx="2073.3" cy="455" r="6.6" fill="url(#gC)"/>
<circle cx="2085" cy="455" r="6.6" fill="url(#gSn)"/>
<circle cx="2096.7" cy="455" r="6.6" fill="url(#gC)"/>
<circle cx="2110" cy="455" r="6.6" fill="url(#gSn)"/>
<circle cx="2120" cy="455" r="6.6" fill="url(#gC)"/>
<circle cx="2135" cy="455" r="6.6" fill="url(#gSn)"/>
<circle cx="2140" cy="455" r="6.6" fill="url(#gC)"/>
<circle cx="2163.3" cy="455" r="6.6" fill="url(#gC)"/>
<text x="1732.2" y="301.6" font-size="37.5" textLength="85.2" lengthAdjust="spacing" >8.95°</text>
<line x1="2510.7" y1="48.3" x2="2282.3" y2="179.3" stroke="#d4d4d4" stroke-width="1" stroke-linecap="butt" />
<line x1="2734" y1="179.3" x2="2510.7" y2="48.3" stroke="#d4d4d4" stroke-width="1" stroke-linecap="butt" />
<line x1="2282.3" y1="179.3" x2="2508.3" y2="308.3" stroke="#d9534f" stroke-width="1" stroke-linecap="butt" />
<line x1="2508.3" y1="308.3" x2="2734" y2="179.3" stroke="#e0a040" stroke-width="1" stroke-linecap="butt" />
<path d="M2299.6 175.8L2283.5 179M2299.6 175.8L2304.8 160.3M2299.6 175.8L2314.7 193.1M2353.3 194.1L2330.8 198.6M2353.3 194.1L2360.7 172.4M2353.3 194.1L2368.4 211.4M2396 156.7L2373.5 161.2M2396 156.7L2403.3 135M2396 156.7L2411.1 174M2438.6 119.4L2416.2 123.8M2438.6 119.4L2446 97.7M2438.6 119.4L2453.7 136.6M2481.3 82L2458.8 86.5M2481.3 82L2486.6 66.5M2481.3 82L2496.4 99.3M2407 212.4L2384.5 216.8M2407 212.4L2414.4 190.7M2407 212.4L2422.1 229.6M2449.7 175L2427.2 179.5M2449.7 175L2457 153.3M2449.7 175L2464.8 192.3M2492.3 137.6L2469.9 142.1M2492.3 137.6L2499.7 115.9M2492.3 137.6L2507.4 154.9M2535 100.3L2512.5 104.7M2535 100.3L2542.4 78.6M2535 100.3L2550.1 117.5M2460.7 230.7L2438.2 235.1M2460.7 230.7L2468.1 209M2460.7 230.7L2475.8 247.9M2503.4 193.3L2480.9 197.8M2503.4 193.3L2510.7 171.6M2503.4 193.3L2518.5 210.6M2546 155.9L2523.6 160.4M2546 155.9L2553.4 134.2M2546 155.9L2561.1 173.2M2588.7 118.6L2566.2 123M2588.7 118.6L2594 103.1M2588.7 118.6L2603.8 135.8M2471.7 286.3L2455.6 289.5M2471.7 286.3L2479.1 264.6M2471.7 286.3L2482.5 298.6M2514.4 248.9L2491.9 253.4M2514.4 248.9L2521.8 227.2M2514.4 248.9L2529.5 266.2M2557.1 211.6L2534.6 216M2557.1 211.6L2564.4 189.9M2557.1 211.6L2572.2 228.8M2599.7 174.2L2577.3 178.7M2599.7 174.2L2607.1 152.5M2599.7 174.2L2614.8 191.5M2642.4 136.8L2619.9 141.3M2642.4 136.8L2647.7 121.3M2642.4 136.8L2657.5 154.1M2568.1 267.2L2545.6 271.7M2568.1 267.2L2575.5 245.5M2568.1 267.2L2578.9 279.6M2610.8 229.9L2588.3 234.3M2610.8 229.9L2618.1 208.2M2610.8 229.9L2621.5 242.2M2653.4 192.5L2631 197M2653.4 192.5L2660.8 170.8M2653.4 192.5L2664.2 204.8M2696.1 155.1L2673.6 159.6M2696.1 155.1L2701.4 139.6M2696.1 155.1L2711.2 172.4" stroke="#769a9c" stroke-width="2.7" fill="none" stroke-linecap="butt"/>
<path d="M2321.1 200.5L2331.1 198.5M2321.1 200.5L2315.9 216M2321.1 200.5L2314.5 192.8M2363.8 163.1L2373.8 161.1M2363.8 163.1L2360.6 172.7M2363.8 163.1L2353 150.8M2406.5 125.7L2416.5 123.8M2406.5 125.7L2403.2 135.3M2406.5 125.7L2395.7 113.4M2449.2 88.4L2459.2 86.4M2449.2 88.4L2445.9 98M2449.2 88.4L2438.4 76M2374.8 218.8L2384.8 216.8M2374.8 218.8L2369.6 234.2M2374.8 218.8L2368.2 211.1M2417.5 181.4L2427.5 179.4M2417.5 181.4L2414.3 191M2417.5 181.4L2410.8 173.7M2460.2 144L2470.2 142M2460.2 144L2456.9 153.6M2460.2 144L2453.5 136.4M2502.9 106.6L2512.9 104.7M2502.9 106.6L2499.6 116.3M2502.9 106.6L2496.2 99M2545.6 69.3L2561.7 66.1M2545.6 69.3L2542.3 78.9M2545.6 69.3L2534.8 57M2428.5 237L2438.5 235.1M2428.5 237L2423.3 252.5M2428.5 237L2421.9 229.4M2471.2 199.7L2481.2 197.7M2471.2 199.7L2468 209.3M2471.2 199.7L2464.5 192M2513.9 162.3L2523.9 160.3M2513.9 162.3L2510.6 171.9M2513.9 162.3L2507.2 154.7M2556.6 124.9L2566.6 123M2556.6 124.9L2553.3 134.5M2556.6 124.9L2549.9 117.3M2482.2 255.3L2492.2 253.3M2482.2 255.3L2479 264.9M2482.2 255.3L2475.6 247.7M2524.9 217.9L2534.9 216M2524.9 217.9L2521.7 227.6M2524.9 217.9L2518.2 210.3M2567.6 180.6L2577.6 178.6M2567.6 180.6L2564.3 190.2M2567.6 180.6L2560.9 172.9M2610.3 143.2L2620.3 141.2M2610.3 143.2L2607 152.8M2610.3 143.2L2603.6 135.6M2535.9 273.6L2545.9 271.6M2535.9 273.6L2530.7 289.1M2535.9 273.6L2529.3 266M2578.6 236.2L2588.6 234.3M2578.6 236.2L2575.4 245.8M2578.6 236.2L2571.9 228.6M2621.3 198.9L2631.3 196.9M2621.3 198.9L2618 208.5M2621.3 198.9L2614.6 191.2M2664 161.5L2674 159.5M2664 161.5L2660.7 171.1M2664 161.5L2657.3 153.9M2717.7 179.8L2733.8 176.6M2717.7 179.8L2712.4 195.3M2717.7 179.8L2711 172.1" stroke="#b9b9b9" stroke-width="2.7" fill="none" stroke-linecap="butt"/>
<circle cx="2321.1" cy="200.5" r="6.1" fill="url(#gC)"/>
<circle cx="2363.8" cy="163.1" r="6.1" fill="url(#gC)"/>
<circle cx="2406.5" cy="125.7" r="6.1" fill="url(#gC)"/>
<circle cx="2449.2" cy="88.4" r="6.1" fill="url(#gC)"/>
<circle cx="2374.8" cy="218.8" r="6.1" fill="url(#gC)"/>
<circle cx="2417.5" cy="181.4" r="6.1" fill="url(#gC)"/>
<circle cx="2460.2" cy="144" r="6.1" fill="url(#gC)"/>
<circle cx="2502.9" cy="106.6" r="6.1" fill="url(#gC)"/>
<circle cx="2545.6" cy="69.3" r="6.1" fill="url(#gC)"/>
<circle cx="2428.5" cy="237" r="6.1" fill="url(#gC)"/>
<circle cx="2471.2" cy="199.7" r="6.1" fill="url(#gC)"/>
<circle cx="2513.9" cy="162.3" r="6.1" fill="url(#gC)"/>
<circle cx="2556.6" cy="124.9" r="6.1" fill="url(#gC)"/>
<circle cx="2482.2" cy="255.3" r="6.1" fill="url(#gC)"/>
<circle cx="2524.9" cy="217.9" r="6.1" fill="url(#gC)"/>
<circle cx="2567.6" cy="180.6" r="6.1" fill="url(#gC)"/>
<circle cx="2610.3" cy="143.2" r="6.1" fill="url(#gC)"/>
<circle cx="2535.9" cy="273.6" r="6.1" fill="url(#gC)"/>
<circle cx="2578.6" cy="236.2" r="6.1" fill="url(#gC)"/>
<circle cx="2621.3" cy="198.9" r="6.1" fill="url(#gC)"/>
<circle cx="2664" cy="161.5" r="6.1" fill="url(#gC)"/>
<circle cx="2717.7" cy="179.8" r="6.1" fill="url(#gC)"/>
<circle cx="2299.6" cy="175.8" r="6.3" fill="url(#gSn)"/>
<circle cx="2353.3" cy="194.1" r="6.3" fill="url(#gSn)"/>
<circle cx="2396" cy="156.7" r="6.3" fill="url(#gSn)"/>
<circle cx="2438.6" cy="119.4" r="6.3" fill="url(#gSn)"/>
<circle cx="2481.3" cy="82" r="6.3" fill="url(#gSn)"/>
<circle cx="2407" cy="212.4" r="6.3" fill="url(#gSn)"/>
<circle cx="2449.7" cy="175" r="6.3" fill="url(#gSn)"/>
<circle cx="2492.3" cy="137.6" r="6.3" fill="url(#gSn)"/>
<circle cx="2535" cy="100.3" r="6.3" fill="url(#gSn)"/>
<circle cx="2460.7" cy="230.7" r="6.3" fill="url(#gSn)"/>
<circle cx="2503.4" cy="193.3" r="6.3" fill="url(#gSn)"/>
<circle cx="2546" cy="155.9" r="6.3" fill="url(#gSn)"/>
<circle cx="2588.7" cy="118.6" r="6.3" fill="url(#gSn)"/>
<circle cx="2471.7" cy="286.3" r="6.3" fill="url(#gSn)"/>
<circle cx="2514.4" cy="248.9" r="6.3" fill="url(#gSn)"/>
<circle cx="2557.1" cy="211.6" r="6.3" fill="url(#gSn)"/>
<circle cx="2599.7" cy="174.2" r="6.3" fill="url(#gSn)"/>
<circle cx="2642.4" cy="136.8" r="6.3" fill="url(#gSn)"/>
<circle cx="2568.1" cy="267.2" r="6.3" fill="url(#gSn)"/>
<circle cx="2610.8" cy="229.9" r="6.3" fill="url(#gSn)"/>
<circle cx="2653.4" cy="192.5" r="6.3" fill="url(#gSn)"/>
<circle cx="2696.1" cy="155.1" r="6.3" fill="url(#gSn)"/>
<path d="M2530 276.7L2520.5 292.8M2530 276.7L2548.8 276.6M2530 276.7L2520.4 260.3M2586.4 244.4L2577 260.5M2586.4 244.4L2605.2 244.4M2586.4 244.4L2576.8 228.1M2642.8 212.2L2633.4 228.3M2642.8 212.2L2661.6 212.1M2642.8 212.2L2633.2 195.8M2699.2 179.9L2689.8 196M2699.2 179.9L2718 179.9M2699.2 179.9L2689.7 163.6M2473.5 244.4L2464 260.5M2473.5 244.4L2492.4 244.4M2473.5 244.4L2463.9 228.1M2529.9 212.2L2520.4 228.4M2529.9 212.2L2548.9 212.1M2529.9 212.2L2520.3 195.8M2586.3 179.9L2576.8 196.2M2586.3 179.9L2605.3 179.9M2586.3 179.9L2576.7 163.6M2642.8 147.7L2633.2 163.9M2642.8 147.7L2661.7 147.6M2642.8 147.7L2633.2 131.3M2417 212.2L2407.5 228.3M2417 212.2L2435.9 212.1M2417 212.2L2407.4 195.8M2473.4 179.9L2463.9 196.2M2473.4 179.9L2492.4 179.9M2473.4 179.9L2463.8 163.6M2529.8 147.7L2520.3 163.9M2529.8 147.7L2548.8 147.6M2529.8 147.7L2520.2 131.3M2586.2 115.4L2576.7 131.7M2586.2 115.4L2605.2 115.4M2586.2 115.4L2576.7 99.1M2360.5 179.9L2351 196M2360.5 179.9L2379.4 179.9M2360.5 179.9L2350.9 163.6M2416.9 147.7L2407.4 163.9M2416.9 147.7L2435.9 147.6M2416.9 147.7L2407.3 131.3M2473.3 115.4L2463.8 131.7M2473.3 115.4L2492.3 115.4M2473.3 115.4L2463.7 99.1M2529.8 83.2L2520.2 99.4M2529.8 83.2L2548.7 83.1M2529.8 83.2L2520.2 66.8M2511 244.3L2520.6 228.1M2511 244.3L2492.1 244.4M2511 244.3L2520.6 260.7M2567.4 212.1L2577 195.8M2567.4 212.1L2548.5 212.1M2567.4 212.1L2577 228.4M2623.8 179.8L2633.4 163.6M2623.8 179.8L2604.9 179.9M2623.8 179.8L2633.4 196.2M2680.2 147.6L2689.7 131.5M2680.2 147.6L2661.3 147.6M2680.2 147.6L2689.8 163.9M2454.5 212.1L2464.1 195.8M2454.5 212.1L2435.6 212.1M2454.5 212.1L2464.1 228.4M2510.9 179.8L2520.5 163.6M2510.9 179.8L2492 179.9M2510.9 179.8L2520.5 196.2M2567.3 147.6L2576.9 131.3M2567.3 147.6L2548.4 147.6M2567.3 147.6L2576.9 163.9M2623.8 115.3L2633.2 99.3M2623.8 115.3L2604.8 115.4M2623.8 115.3L2633.3 131.7M2398 179.8L2407.6 163.6M2398 179.8L2379.1 179.9M2398 179.8L2407.6 196.2M2454.4 147.6L2464 131.3M2454.4 147.6L2435.5 147.6M2454.4 147.6L2464 163.9M2510.8 115.3L2520.4 99.1M2510.8 115.3L2491.9 115.4M2510.8 115.3L2520.4 131.7M2567.2 83.1L2576.7 67M2567.2 83.1L2548.3 83.1M2567.2 83.1L2576.8 99.4M2341.5 147.6L2351 131.5M2341.5 147.6L2322.8 147.6M2341.5 147.6L2351.1 163.9M2397.9 115.3L2407.4 99.3M2397.9 115.3L2379.2 115.4M2397.9 115.3L2407.5 131.7M2454.3 83.1L2463.8 67M2454.3 83.1L2435.6 83.1M2454.3 83.1L2463.9 99.4M2510.8 50.8L2520.2 34.8M2510.8 50.8L2492 50.9M2510.8 50.8L2520.3 67.2" stroke="#b66bdb" stroke-width="2.4" fill="none" stroke-linecap="butt"/>
<path d="M2530 276.7L2520.5 292.8M2586.4 244.4L2577 260.5M2642.8 212.2L2633.4 228.3M2699.2 179.9L2689.8 196M2473.5 244.4L2464 260.5M2529.9 212.2L2520.4 228.4M2586.3 179.9L2576.8 196.2M2642.8 147.7L2633.2 163.9M2417 212.2L2407.5 228.3M2473.4 179.9L2463.9 196.2M2529.8 147.7L2520.3 163.9M2586.2 115.4L2576.7 131.7M2360.5 179.9L2351 196M2416.9 147.7L2407.4 163.9M2473.3 115.4L2463.8 131.7M2529.8 83.2L2520.2 99.4M2511 244.3L2520.6 228.1M2567.4 212.1L2577 195.8M2623.8 179.8L2633.4 163.6M2680.2 147.6L2689.7 131.5M2454.5 212.1L2464.1 195.8M2510.9 179.8L2520.5 163.6M2567.3 147.6L2576.9 131.3M2623.8 115.3L2633.2 99.3M2398 179.8L2407.6 163.6M2454.4 147.6L2464 131.3M2510.8 115.3L2520.4 99.1M2567.2 83.1L2576.7 67M2341.5 147.6L2351 131.5M2397.9 115.3L2407.4 99.3M2454.3 83.1L2463.8 67M2510.8 50.8L2520.2 34.8" stroke="#8650aa" stroke-width="2.4" fill="none"/>
<circle cx="2511" cy="244.3" r="5.5" fill="url(#gSb)"/>
<circle cx="2567.4" cy="212.1" r="5.5" fill="url(#gSb)"/>
<circle cx="2623.8" cy="179.8" r="5.5" fill="url(#gSb)"/>
<circle cx="2680.2" cy="147.6" r="5.5" fill="url(#gSb)"/>
<circle cx="2454.5" cy="212.1" r="5.5" fill="url(#gSb)"/>
<circle cx="2510.9" cy="179.8" r="5.5" fill="url(#gSb)"/>
<circle cx="2567.3" cy="147.6" r="5.5" fill="url(#gSb)"/>
<circle cx="2623.8" cy="115.3" r="5.5" fill="url(#gSb)"/>
<circle cx="2398" cy="179.8" r="5.5" fill="url(#gSb)"/>
<circle cx="2454.4" cy="147.6" r="5.5" fill="url(#gSb)"/>
<circle cx="2510.8" cy="115.3" r="5.5" fill="url(#gSb)"/>
<circle cx="2567.2" cy="83.1" r="5.5" fill="url(#gSb)"/>
<circle cx="2341.5" cy="147.6" r="5.5" fill="url(#gSb)"/>
<circle cx="2397.9" cy="115.3" r="5.5" fill="url(#gSb)"/>
<circle cx="2454.3" cy="83.1" r="5.5" fill="url(#gSb)"/>
<circle cx="2510.8" cy="50.8" r="5.5" fill="url(#gSb)"/>
<circle cx="2530" cy="276.7" r="5.8" fill="url(#gSb)"/>
<circle cx="2586.4" cy="244.4" r="5.8" fill="url(#gSb)"/>
<circle cx="2642.8" cy="212.2" r="5.8" fill="url(#gSb)"/>
<circle cx="2699.2" cy="179.9" r="5.8" fill="url(#gSb)"/>
<circle cx="2473.5" cy="244.4" r="5.8" fill="url(#gSb)"/>
<circle cx="2529.9" cy="212.2" r="5.8" fill="url(#gSb)"/>
<circle cx="2586.3" cy="179.9" r="5.8" fill="url(#gSb)"/>
<circle cx="2642.8" cy="147.7" r="5.8" fill="url(#gSb)"/>
<circle cx="2417" cy="212.2" r="5.8" fill="url(#gSb)"/>
<circle cx="2473.4" cy="179.9" r="5.8" fill="url(#gSb)"/>
<circle cx="2529.8" cy="147.7" r="5.8" fill="url(#gSb)"/>
<circle cx="2586.2" cy="115.4" r="5.8" fill="url(#gSb)"/>
<circle cx="2360.5" cy="179.9" r="5.8" fill="url(#gSb)"/>
<circle cx="2416.9" cy="147.7" r="5.8" fill="url(#gSb)"/>
<circle cx="2473.3" cy="115.4" r="5.8" fill="url(#gSb)"/>
<circle cx="2529.8" cy="83.2" r="5.8" fill="url(#gSb)"/>
<path d="M2294.3 363.3L2314.3 391.7M2294.3 363.3L2275.2 377.5M2352.7 363.3L2372.7 391.7M2352.7 363.3L2314.3 391.7M2411 363.3L2431 391.7M2411 363.3L2372.7 391.7M2469.3 363.3L2489.3 391.7M2469.3 363.3L2431 391.7M2527.7 363.3L2547.7 391.7M2527.7 363.3L2489.3 391.7M2586.7 363.3L2606 391.7M2586.7 363.3L2547.7 391.7M2645 363.3L2664.3 391.7M2645 363.3L2606 391.7M2664.3 391.7L2683.5 377.5" stroke="#b66bdb" stroke-width="2.4" fill="none" stroke-linecap="round"/>
<circle cx="2314.3" cy="391.7" r="6" fill="url(#gSb)"/>
<circle cx="2372.7" cy="391.7" r="6" fill="url(#gSb)"/>
<circle cx="2431" cy="391.7" r="6" fill="url(#gSb)"/>
<circle cx="2489.3" cy="391.7" r="6" fill="url(#gSb)"/>
<circle cx="2547.7" cy="391.7" r="6" fill="url(#gSb)"/>
<circle cx="2606" cy="391.7" r="6" fill="url(#gSb)"/>
<circle cx="2664.3" cy="391.7" r="6" fill="url(#gSb)"/>
<circle cx="2294.3" cy="363.3" r="6" fill="url(#gSb)"/>
<circle cx="2352.7" cy="363.3" r="6" fill="url(#gSb)"/>
<circle cx="2411" cy="363.3" r="6" fill="url(#gSb)"/>
<circle cx="2469.3" cy="363.3" r="6" fill="url(#gSb)"/>
<circle cx="2527.7" cy="363.3" r="6" fill="url(#gSb)"/>
<circle cx="2586.7" cy="363.3" r="6" fill="url(#gSb)"/>
<circle cx="2645" cy="363.3" r="6" fill="url(#gSb)"/>
<line x1="2261.7" y1="454" x2="2283.3" y2="454" stroke="#b9b9b9" stroke-width="2.4" stroke-linecap="butt" />
<line x1="2318.3" y1="454" x2="2730" y2="454" stroke="#769a9c" stroke-width="2.4" stroke-linecap="butt" />
<circle cx="2273.3" cy="454" r="6.2" fill="url(#gC)"/>
<circle cx="2329" cy="454" r="6.2" fill="url(#gC)"/>
<circle cx="2340" cy="454" r="6.2" fill="url(#gSn)"/>
<circle cx="2351.7" cy="454" r="6.2" fill="url(#gSn)"/>
<circle cx="2374" cy="454" r="6.2" fill="url(#gC)"/>
<circle cx="2385" cy="454" r="6.2" fill="url(#gSn)"/>
<circle cx="2396" cy="454" r="6.2" fill="url(#gSn)"/>
<circle cx="2406.7" cy="454" r="6.2" fill="url(#gSn)"/>
<circle cx="2418.3" cy="454" r="6.2" fill="url(#gC)"/>
<circle cx="2430" cy="454" r="6.2" fill="url(#gSn)"/>
<circle cx="2440.7" cy="454" r="6.2" fill="url(#gSn)"/>
<circle cx="2451.7" cy="454" r="6.2" fill="url(#gSn)"/>
<circle cx="2463.3" cy="454" r="6.2" fill="url(#gC)"/>
<circle cx="2474" cy="454" r="6.2" fill="url(#gC)"/>
<circle cx="2485" cy="454" r="6.2" fill="url(#gSn)"/>
<circle cx="2496" cy="454" r="6.2" fill="url(#gSn)"/>
<circle cx="2507.3" cy="454" r="6.2" fill="url(#gSn)"/>
<circle cx="2518.3" cy="454" r="6.2" fill="url(#gC)"/>
<circle cx="2530" cy="454" r="6.2" fill="url(#gSn)"/>
<circle cx="2541" cy="454" r="6.2" fill="url(#gSn)"/>
<circle cx="2551.7" cy="454" r="6.2" fill="url(#gSn)"/>
<circle cx="2563.3" cy="454" r="6.2" fill="url(#gSn)"/>
<circle cx="2575" cy="454" r="6.2" fill="url(#gC)"/>
<circle cx="2586" cy="454" r="6.2" fill="url(#gSn)"/>
<circle cx="2596.7" cy="454" r="6.2" fill="url(#gSn)"/>
<circle cx="2607.7" cy="454" r="6.2" fill="url(#gSn)"/>
<circle cx="2629.3" cy="454" r="6.2" fill="url(#gC)"/>
<circle cx="2640.7" cy="454" r="6.2" fill="url(#gC)"/>
<circle cx="2652.3" cy="454" r="6.2" fill="url(#gSn)"/>
<circle cx="2685" cy="454" r="6.2" fill="url(#gC)"/>
<circle cx="2708.3" cy="454" r="6.2" fill="url(#gSn)"/>
<text x="2283.3" y="301.6" font-size="37.5" textLength="106.7" lengthAdjust="spacing" >10.89°</text>
<line x1="3034.3" y1="46.7" x2="2800" y2="181.7" stroke="#d4d4d4" stroke-width="1" stroke-linecap="butt" />
<line x1="3272" y1="181.7" x2="3034.3" y2="46.7" stroke="#d4d4d4" stroke-width="1" stroke-linecap="butt" />
<line x1="2800" y1="181.7" x2="3037.7" y2="319.3" stroke="#d4d4d4" stroke-width="1" stroke-linecap="butt" />
<line x1="3037.7" y1="319.3" x2="3272" y2="181.7" stroke="#d4d4d4" stroke-width="1" stroke-linecap="butt" />
<path d="M3031 274L3043.7 249.8M3031 274L3044.3 298M3031 274L3002.7 273.9M3089.6 239.6L3102.3 215.4M3089.6 239.6L3102.9 263.6M3089.6 239.6L3061.3 239.5M3148.2 205.2L3160.9 181M3148.2 205.2L3161.5 229.2M3148.2 205.2L3119.9 205.1M3206.8 170.8L3215.8 153.5M3206.8 170.8L3220.1 194.8M3206.8 170.8L3178.5 170.7M2971.6 239.6L2984.3 215.4M2971.6 239.6L2984.9 263.6M2971.6 239.6L2943.3 239.5M3030.2 205.2L3042.9 181M3030.2 205.2L3043.5 229.2M3030.2 205.2L3001.9 205.1M3088.8 170.8L3101.5 146.6M3088.8 170.8L3102.1 194.8M3088.8 170.8L3060.5 170.7M3147.3 136.3L3156.4 119.1M3147.3 136.3L3160.6 160.4M3147.3 136.3L3119 136.3M2912.2 205.2L2924.9 181M2912.2 205.2L2925.5 229.2M2912.2 205.2L2883.9 205.1M2970.8 170.8L2983.5 146.6M2970.8 170.8L2984.1 194.8M2970.8 170.8L2942.5 170.7M3029.3 136.3L3042 112.2M3029.3 136.3L3042.6 160.4M3029.3 136.3L3001 136.3M3087.9 101.9L3097 84.7M3087.9 101.9L3101.2 126M3087.9 101.9L3059.6 101.9M2852.8 170.8L2861.8 153.5M2852.8 170.8L2866.1 194.8M2852.8 170.8L2832.5 170.7M2911.3 136.3L2920.4 119.1M2911.3 136.3L2924.6 160.4M2911.3 136.3L2891.1 136.3M2969.9 101.9L2979 84.7M2969.9 101.9L2983.2 126M2969.9 101.9L2949.7 101.9M3028.5 67.5L3037.6 50.2M3028.5 67.5L3041.8 91.5M3028.5 67.5L3008.3 67.5" stroke="#769a9c" stroke-width="3" fill="none" stroke-linecap="butt"/>
<path d="M3050 308.3L3040.9 325.6M3050 308.3L3044.1 297.7M3050 308.3L3070.2 308.4M3108.6 273.9L3099.5 291.2M3108.6 273.9L3102.7 263.3M3108.6 273.9L3128.8 274M3167.2 239.5L3158.1 256.8M3167.2 239.5L3161.3 228.9M3167.2 239.5L3187.4 239.5M3225.8 205.1L3216.7 222.3M3225.8 205.1L3219.9 194.4M3225.8 205.1L3246 205.1M2990.6 273.9L2981.5 291.2M2990.6 273.9L2984.7 263.3M2990.6 273.9L3003.1 273.9M3049.2 239.5L3043.5 250.2M3049.2 239.5L3043.3 228.9M3049.2 239.5L3061.7 239.5M3107.8 205.1L3102.1 215.8M3107.8 205.1L3101.9 194.4M3107.8 205.1L3120.3 205.1M3166.3 170.7L3160.7 181.4M3166.3 170.7L3160.4 160M3166.3 170.7L3178.9 170.7M2931.2 239.5L2922.1 256.8M2931.2 239.5L2925.3 228.9M2931.2 239.5L2943.7 239.5M2989.8 205.1L2984.1 215.8M2989.8 205.1L2983.9 194.4M2989.8 205.1L3002.3 205.1M3048.3 170.7L3042.7 181.4M3048.3 170.7L3042.4 160M3048.3 170.7L3060.9 170.7M3106.9 136.3L3101.3 146.9M3106.9 136.3L3101 125.6M3106.9 136.3L3119.4 136.3M2871.8 205.1L2862.7 222.3M2871.8 205.1L2865.9 194.4M2871.8 205.1L2884.3 205.1M2930.3 170.7L2924.7 181.4M2930.3 170.7L2924.4 160M2930.3 170.7L2942.9 170.7M2988.9 136.2L2983.3 146.9M2988.9 136.2L2983 125.6M2988.9 136.2L3001.4 136.3M3047.5 101.8L3041.9 112.5M3047.5 101.8L3041.6 91.2M3047.5 101.8L3060 101.9" stroke="#b9b9b9" stroke-width="3" fill="none" stroke-linecap="butt"/>
<circle cx="3050" cy="308.3" r="6.5" fill="url(#gC)"/>
<circle cx="3108.6" cy="273.9" r="6.5" fill="url(#gC)"/>
<circle cx="3167.2" cy="239.5" r="6.5" fill="url(#gC)"/>
<circle cx="3225.8" cy="205.1" r="6.5" fill="url(#gC)"/>
<circle cx="2990.6" cy="273.9" r="6.5" fill="url(#gC)"/>
<circle cx="3049.2" cy="239.5" r="6.5" fill="url(#gC)"/>
<circle cx="3107.8" cy="205.1" r="6.5" fill="url(#gC)"/>
<circle cx="3166.3" cy="170.7" r="6.5" fill="url(#gC)"/>
<circle cx="2931.2" cy="239.5" r="6.5" fill="url(#gC)"/>
<circle cx="2989.8" cy="205.1" r="6.5" fill="url(#gC)"/>
<circle cx="3048.3" cy="170.7" r="6.5" fill="url(#gC)"/>
<circle cx="3106.9" cy="136.3" r="6.5" fill="url(#gC)"/>
<circle cx="2871.8" cy="205.1" r="6.5" fill="url(#gC)"/>
<circle cx="2930.3" cy="170.7" r="6.5" fill="url(#gC)"/>
<circle cx="2988.9" cy="136.2" r="6.5" fill="url(#gC)"/>
<circle cx="3047.5" cy="101.8" r="6.5" fill="url(#gC)"/>
<circle cx="3031" cy="274" r="6.7" fill="url(#gSn)"/>
<circle cx="3089.6" cy="239.6" r="6.7" fill="url(#gSn)"/>
<circle cx="3148.2" cy="205.2" r="6.7" fill="url(#gSn)"/>
<circle cx="3206.8" cy="170.8" r="6.7" fill="url(#gSn)"/>
<circle cx="2971.6" cy="239.6" r="6.7" fill="url(#gSn)"/>
<circle cx="3030.2" cy="205.2" r="6.7" fill="url(#gSn)"/>
<circle cx="3088.8" cy="170.8" r="6.7" fill="url(#gSn)"/>
<circle cx="3147.3" cy="136.3" r="6.7" fill="url(#gSn)"/>
<circle cx="2912.2" cy="205.2" r="6.7" fill="url(#gSn)"/>
<circle cx="2970.8" cy="170.8" r="6.7" fill="url(#gSn)"/>
<circle cx="3029.3" cy="136.3" r="6.7" fill="url(#gSn)"/>
<circle cx="3087.9" cy="101.9" r="6.7" fill="url(#gSn)"/>
<circle cx="2852.8" cy="170.8" r="6.7" fill="url(#gSn)"/>
<circle cx="2911.3" cy="136.3" r="6.7" fill="url(#gSn)"/>
<circle cx="2969.9" cy="101.9" r="6.7" fill="url(#gSn)"/>
<circle cx="3028.5" cy="67.5" r="6.7" fill="url(#gSn)"/>
<path d="M3038.4 54.2L3059.7 59.2M3038.4 54.2L3023.1 70.4M3038.4 54.2L3031.9 33.1M2875.2 172.3L2896.7 177.4M2875.2 172.3L2859.9 188.5M2875.2 172.3L2868.8 151.3M2948.1 150.3L2969.6 155.4M2948.1 150.3L2932.8 166.5M2948.1 150.3L2941.7 129.3M3021 128.3L3042.5 133.4M3021 128.3L3005.7 144.5M3021 128.3L3014.5 107.1M3093.9 106.3L3115.4 111.4M3093.9 106.3L3078.6 122.5M3093.9 106.3L3087.5 85.3M2930.7 224.5L2952.3 229.5M2930.7 224.5L2915.6 240.5M2930.7 224.5L2924.2 203.2M3003.6 202.5L3025.2 207.5M3003.6 202.5L2988.4 218.6M3003.6 202.5L2997.1 181.2M3076.5 180.5L3098.1 185.5M3076.5 180.5L3061.3 196.6M3076.5 180.5L3070 159.2M3149.4 158.5L3171 163.5M3149.4 158.5L3134.2 174.6M3149.4 158.5L3142.9 137.2M2986.3 276.6L3007.8 281.7M2986.3 276.6L2971.1 292.6M2986.3 276.6L2979.8 255.3M3059.2 254.6L3080.7 259.7M3059.2 254.6L3043.9 270.8M3059.2 254.6L3052.7 233.3M3132.1 232.6L3153.6 237.7M3132.1 232.6L3116.8 248.8M3132.1 232.6L3125.6 211.3M3205 210.6L3226.3 215.6M3205 210.6L3189.7 226.8M3205 210.6L3198.5 189.3M3008.1 86.2L2986.8 81.2M3008.1 86.2L3023.4 70M3008.1 86.2L3014.6 107.5M2845 204.3L2823.6 199.3M2845 204.3L2860.2 188.2M2845 204.3L2851.4 225.4M2917.9 182.3L2896.3 177.3M2917.9 182.3L2933.1 166.2M2917.9 182.3L2924.4 203.6M2990.8 160.3L2969.2 155.3M2990.8 160.3L3006 144.2M2990.8 160.3L2997.3 181.6M3063.7 138.3L3042.1 133.3M3063.7 138.3L3078.9 122.2M3063.7 138.3L3070.2 159.6M3136.6 116.3L3115 111.3M3136.6 116.3L3151.7 100.3M3136.6 116.3L3143.1 137.6M2973.4 234.5L2951.9 229.4M2973.4 234.5L2988.7 218.3M2973.4 234.5L2979.9 255.7M3046.3 212.5L3024.8 207.4M3046.3 212.5L3061.6 196.3M3046.3 212.5L3052.8 233.7M3119.2 190.5L3097.7 185.4M3119.2 190.5L3134.5 174.3M3119.2 190.5L3125.7 211.7M3192.1 168.5L3170.6 163.4M3192.1 168.5L3207.2 152.5M3192.1 168.5L3198.6 189.7M3028.9 286.6L3007.4 281.6M3028.9 286.6L3044.2 270.4M3028.9 286.6L3035.4 307.7M3101.8 264.6L3080.3 259.6M3101.8 264.6L3117.1 248.4M3101.8 264.6L3108.3 285.7M3174.7 242.6L3153.2 237.6M3174.7 242.6L3190 226.4M3174.7 242.6L3181.2 263.7" stroke="#b66bdb" stroke-width="2.8" fill="none" stroke-linecap="butt"/>
<path d="M3038.4 54.2L3023.1 70.4M2875.2 172.3L2859.9 188.5M2948.1 150.3L2932.8 166.5M3021 128.3L3005.7 144.5M3093.9 106.3L3078.6 122.5M2930.7 224.5L2915.6 240.5M3003.6 202.5L2988.4 218.6M3076.5 180.5L3061.3 196.6M3149.4 158.5L3134.2 174.6M2986.3 276.6L2971.1 292.6M3059.2 254.6L3043.9 270.8M3132.1 232.6L3116.8 248.8M3205 210.6L3189.7 226.8M3008.1 86.2L3023.4 70M2845 204.3L2860.2 188.2M2917.9 182.3L2933.1 166.2M2990.8 160.3L3006 144.2M3063.7 138.3L3078.9 122.2M3136.6 116.3L3151.7 100.3M2973.4 234.5L2988.7 218.3M3046.3 212.5L3061.6 196.3M3119.2 190.5L3134.5 174.3M3192.1 168.5L3207.2 152.5M3028.9 286.6L3044.2 270.4M3101.8 264.6L3117.1 248.4M3174.7 242.6L3190 226.4" stroke="#8650aa" stroke-width="2.8" fill="none"/>
<circle cx="3008.1" cy="86.2" r="6.4" fill="url(#gSb)"/>
<circle cx="2845" cy="204.3" r="6.4" fill="url(#gSb)"/>
<circle cx="2917.9" cy="182.3" r="6.4" fill="url(#gSb)"/>
<circle cx="2990.8" cy="160.3" r="6.4" fill="url(#gSb)"/>
<circle cx="3063.7" cy="138.3" r="6.4" fill="url(#gSb)"/>
<circle cx="3136.6" cy="116.3" r="6.4" fill="url(#gSb)"/>
<circle cx="2973.4" cy="234.5" r="6.4" fill="url(#gSb)"/>
<circle cx="3046.3" cy="212.5" r="6.4" fill="url(#gSb)"/>
<circle cx="3119.2" cy="190.5" r="6.4" fill="url(#gSb)"/>
<circle cx="3192.1" cy="168.5" r="6.4" fill="url(#gSb)"/>
<circle cx="3028.9" cy="286.6" r="6.4" fill="url(#gSb)"/>
<circle cx="3101.8" cy="264.6" r="6.4" fill="url(#gSb)"/>
<circle cx="3174.7" cy="242.6" r="6.4" fill="url(#gSb)"/>
<circle cx="3038.4" cy="54.2" r="6.7" fill="url(#gSb)"/>
<circle cx="2875.2" cy="172.3" r="6.7" fill="url(#gSb)"/>
<circle cx="2948.1" cy="150.3" r="6.7" fill="url(#gSb)"/>
<circle cx="3021" cy="128.3" r="6.7" fill="url(#gSb)"/>
<circle cx="3093.9" cy="106.3" r="6.7" fill="url(#gSb)"/>
<circle cx="2930.7" cy="224.5" r="6.7" fill="url(#gSb)"/>
<circle cx="3003.6" cy="202.5" r="6.7" fill="url(#gSb)"/>
<circle cx="3076.5" cy="180.5" r="6.7" fill="url(#gSb)"/>
<circle cx="3149.4" cy="158.5" r="6.7" fill="url(#gSb)"/>
<circle cx="2986.3" cy="276.6" r="6.7" fill="url(#gSb)"/>
<circle cx="3059.2" cy="254.6" r="6.7" fill="url(#gSb)"/>
<circle cx="3132.1" cy="232.6" r="6.7" fill="url(#gSb)"/>
<circle cx="3205" cy="210.6" r="6.7" fill="url(#gSb)"/>
<path d="M2877 351L2865 384M2877 351L2921 384M2877 351L2861.7 367.5M2896 351L2890 367.5M2896 351L2939.3 384M2896 351L2865 384M2932.7 351L2921 384M2932.7 351L2977 384M2932.7 351L2917.3 367.5M2951.7 351L2939.3 384M2951.7 351L2995.3 384M2951.7 351L2921 384M2970.3 351L2964.3 367.5M2970.3 351L3013.7 384M2970.3 351L2939.3 384M3007 351L2995.3 384M3007 351L3051 384M3007 351L2977 384M3026 351L3013.7 384M3026 351L3070 384M3026 351L2995.3 384M3045 351L3032.7 384M3045 351L3088.3 384M3045 351L3013.7 384M3063.7 351L3051 384M3063.7 351L3085.7 367.5M3063.7 351L3032.7 384M3082 351L3070 384M3082 351L3126 384M3082 351L3051 384M3100.3 351L3088.3 384M3100.3 351L3144.3 384M3100.3 351L3070 384M3156 351L3144.3 384M3156 351L3200 384M3156 351L3126 384M3231 351L3225 367.5M3231 351L3253 367.5M3231 351L3200 384M2865 384L2843 367.5M2977 384L2983 367.5M3032.7 384L3010.7 367.5M3088.3 384L3103.7 367.5M3126 384L3132 367.5M3144.3 384L3159.7 367.5M3200 384L3206 367.5" stroke="#b66bdb" stroke-width="2.6" fill="none" stroke-linecap="round"/>
<circle cx="2865" cy="384" r="7.3" fill="url(#gSb)"/>
<circle cx="2921" cy="384" r="7.3" fill="url(#gSb)"/>
<circle cx="2939.3" cy="384" r="7.3" fill="url(#gSb)"/>
<circle cx="2977" cy="384" r="7.3" fill="url(#gSb)"/>
<circle cx="2995.3" cy="384" r="7.3" fill="url(#gSb)"/>
<circle cx="3013.7" cy="384" r="7.3" fill="url(#gSb)"/>
<circle cx="3032.7" cy="384" r="7.3" fill="url(#gSb)"/>
<circle cx="3051" cy="384" r="7.3" fill="url(#gSb)"/>
<circle cx="3070" cy="384" r="7.3" fill="url(#gSb)"/>
<circle cx="3088.3" cy="384" r="7.3" fill="url(#gSb)"/>
<circle cx="3126" cy="384" r="7.3" fill="url(#gSb)"/>
<circle cx="3144.3" cy="384" r="7.3" fill="url(#gSb)"/>
<circle cx="3200" cy="384" r="7.3" fill="url(#gSb)"/>
<circle cx="2877" cy="351" r="7.3" fill="url(#gSb)"/>
<circle cx="2896" cy="351" r="7.3" fill="url(#gSb)"/>
<circle cx="2932.7" cy="351" r="7.3" fill="url(#gSb)"/>
<circle cx="2951.7" cy="351" r="7.3" fill="url(#gSb)"/>
<circle cx="2970.3" cy="351" r="7.3" fill="url(#gSb)"/>
<circle cx="3007" cy="351" r="7.3" fill="url(#gSb)"/>
<circle cx="3026" cy="351" r="7.3" fill="url(#gSb)"/>
<circle cx="3045" cy="351" r="7.3" fill="url(#gSb)"/>
<circle cx="3063.7" cy="351" r="7.3" fill="url(#gSb)"/>
<circle cx="3082" cy="351" r="7.3" fill="url(#gSb)"/>
<circle cx="3100.3" cy="351" r="7.3" fill="url(#gSb)"/>
<circle cx="3156" cy="351" r="7.3" fill="url(#gSb)"/>
<circle cx="3231" cy="351" r="7.3" fill="url(#gSb)"/>
<line x1="2826" y1="456.7" x2="3249.3" y2="456.7" stroke="#769a9c" stroke-width="2.8" stroke-linecap="butt" />
<circle cx="2839.3" cy="456.7" r="7.3" fill="url(#gC)"/>
<circle cx="2860.3" cy="456.7" r="7.3" fill="url(#gSn)"/>
<circle cx="2900.3" cy="456.7" r="7.3" fill="url(#gC)"/>
<circle cx="2921" cy="456.7" r="7.3" fill="url(#gSn)"/>
<circle cx="2960.3" cy="456.7" r="7.3" fill="url(#gC)"/>
<circle cx="2981" cy="456.7" r="7.3" fill="url(#gSn)"/>
<circle cx="3021" cy="456.7" r="7.3" fill="url(#gC)"/>
<circle cx="3041.7" cy="456.7" r="7.3" fill="url(#gSn)"/>
<circle cx="3081.7" cy="456.7" r="7.3" fill="url(#gC)"/>
<circle cx="3102" cy="456.7" r="7.3" fill="url(#gSn)"/>
<circle cx="3142.7" cy="456.7" r="7.3" fill="url(#gC)"/>
<circle cx="3162.7" cy="456.7" r="7.3" fill="url(#gSn)"/>
<circle cx="3203.3" cy="456.7" r="7.3" fill="url(#gC)"/>
<circle cx="3223.3" cy="456.7" r="7.3" fill="url(#gSn)"/>
<text x="2816.7" y="301.6" font-size="37.5" textLength="106.7" lengthAdjust="spacing" >13.59°</text>
<line x1="1993.3" y1="528.3" x2="1776" y2="654" stroke="#d4d4d4" stroke-width="1" stroke-linecap="butt" />
<line x1="2212.7" y1="654" x2="1993.3" y2="528.3" stroke="#d4d4d4" stroke-width="1" stroke-linecap="butt" />
<line x1="1776" y1="654" x2="1993.3" y2="779.3" stroke="#d4d4d4" stroke-width="1" stroke-linecap="butt" />
<line x1="1993.3" y1="779.3" x2="2212.7" y2="654" stroke="#d4d4d4" stroke-width="1" stroke-linecap="butt" />
<path d="M2041.7 737.3L2065.6 737.2M2041.7 737.3L2029 758.1M2041.7 737.3L2024.4 707.9M2114.8 695.6L2138.7 695.5M2114.8 695.6L2102.1 716.3M2114.8 695.6L2097.5 666.2M2187.9 653.8L2211.8 653.7M2187.9 653.8L2175.2 674.6M2187.9 653.8L2175.5 632.8M1969.2 695.6L2002.7 695.4M1969.2 695.6L1951.5 724.6M1969.2 695.6L1952 666.2M2042.3 653.8L2075.8 653.6M2042.3 653.8L2024.6 682.9M2042.3 653.8L2025.1 624.4M2115.4 612L2139.3 611.9M2115.4 612L2097.7 641.1M2115.4 612L2103.1 591M1896.8 653.8L1930.2 653.6M1896.8 653.8L1879.1 682.9M1896.8 653.8L1879.5 624.4M1969.9 612L2003.3 611.9M1969.9 612L1952.2 641.1M1969.9 612L1952.6 582.6M2043 570.3L2066.9 570.2M2043 570.3L2025.3 599.3M2043 570.3L2030.7 549.3" stroke="#769a9c" stroke-width="3.7" fill="none" stroke-linecap="butt"/>
<path d="M1943.9 737.1L1920 737.2M1943.9 737.1L1951.8 724.2M1943.9 737.1L1956.2 758.1M2017 695.3L2002.2 695.4M2017 695.3L2024.9 682.5M2017 695.3L2024.6 708.4M2090.1 653.6L2075.3 653.6M2090.1 653.6L2098 640.7M2090.1 653.6L2097.7 666.6M1871.5 695.3L1847.6 695.5M1871.5 695.3L1879.3 682.5M1871.5 695.3L1883.8 716.3M1944.6 653.6L1929.8 653.6M1944.6 653.6L1952.4 640.7M1944.6 653.6L1952.2 666.6M2017.7 611.8L2002.9 611.9M2017.7 611.8L2025.5 598.9M2017.7 611.8L2025.3 624.8M1799 653.6L1775.2 653.7M1799 653.6L1811.7 632.8M1799 653.6L1811.4 674.6M1872.1 611.8L1848.2 611.9M1872.1 611.8L1884.8 591M1872.1 611.8L1879.8 624.8M1945.2 570L1921.3 570.2M1945.2 570L1957.9 549.3M1945.2 570L1952.9 583.1" stroke="#b9b9b9" stroke-width="3.7" fill="none" stroke-linecap="butt"/>
<circle cx="1943.9" cy="737.1" r="8.4" fill="url(#gC)"/>
<circle cx="2017" cy="695.3" r="8.4" fill="url(#gC)"/>
<circle cx="2090.1" cy="653.6" r="8.4" fill="url(#gC)"/>
<circle cx="1871.5" cy="695.3" r="8.4" fill="url(#gC)"/>
<circle cx="1944.6" cy="653.6" r="8.4" fill="url(#gC)"/>
<circle cx="2017.7" cy="611.8" r="8.4" fill="url(#gC)"/>
<circle cx="1799" cy="653.6" r="8.4" fill="url(#gC)"/>
<circle cx="1872.1" cy="611.8" r="8.4" fill="url(#gC)"/>
<circle cx="1945.2" cy="570" r="8.4" fill="url(#gC)"/>
<circle cx="2041.7" cy="737.3" r="8.7" fill="url(#gSn)"/>
<circle cx="2114.8" cy="695.6" r="8.7" fill="url(#gSn)"/>
<circle cx="2187.9" cy="653.8" r="8.7" fill="url(#gSn)"/>
<circle cx="1969.2" cy="695.6" r="8.7" fill="url(#gSn)"/>
<circle cx="2042.3" cy="653.8" r="8.7" fill="url(#gSn)"/>
<circle cx="2115.4" cy="612" r="8.7" fill="url(#gSn)"/>
<circle cx="1896.8" cy="653.8" r="8.7" fill="url(#gSn)"/>
<circle cx="1969.9" cy="612" r="8.7" fill="url(#gSn)"/>
<circle cx="2043" cy="570.3" r="8.7" fill="url(#gSn)"/>
<path d="M1908.3 597.3L1903.1 570.6M1908.3 597.3L1887.8 615.7M1908.3 597.3L1934.8 606.3M2001.4 578.6L1996.1 551.8M2001.4 578.6L1980.8 597M2001.4 578.6L2027.8 587.5M1878.1 687.3L1872.8 660.3M1878.1 687.3L1857.7 705.5M1878.1 687.3L1904.5 696.2M1971.1 668.5L1965.8 641.5M1971.1 668.5L1950.5 686.9M1971.1 668.5L1997.5 677.5M2064.1 649.8L2058.9 622.7M2064.1 649.8L2043.6 668.2M2064.1 649.8L2090.6 658.7M2157.2 631L2151.9 604.2M2157.2 631L2136.6 649.4M2157.2 631L2183.3 639.8M2033.9 739.7L2028.6 712.7M2033.9 739.7L2013.3 758.1M2033.9 739.7L2060 748.6M1867.6 633.8L1872.9 660.8M1867.6 633.8L1888.2 615.4M1867.6 633.8L1841.5 624.9M1960.7 615L1965.9 642M1960.7 615L1981.2 596.6M1960.7 615L1934.2 606.1M2053.7 596.2L2059 623.3M2053.7 596.2L2074 578M2053.7 596.2L2027.3 587.3M1930.4 705L1935.6 731.7M1930.4 705L1951 686.6M1930.4 705L1904 696M2023.4 686.2L2028.7 713.2M2023.4 686.2L2044 667.8M2023.4 686.2L1997 677.3M2116.5 667.4L2121.7 694.2M2116.5 667.4L2137 649M2116.5 667.4L2090 658.5M1993.2 776.2L1998.4 802.9M1993.2 776.2L2013.7 757.8M1993.2 776.2L1967 767.3" stroke="#b66bdb" stroke-width="3.4" fill="none" stroke-linecap="butt"/>
<path d="M1908.3 597.3L1887.8 615.7M2001.4 578.6L1980.8 597M1878.1 687.3L1857.7 705.5M1971.1 668.5L1950.5 686.9M2064.1 649.8L2043.6 668.2M2157.2 631L2136.6 649.4M2033.9 739.7L2013.3 758.1M1867.6 633.8L1888.2 615.4M1960.7 615L1981.2 596.6M2053.7 596.2L2074 578M1930.4 705L1951 686.6M2023.4 686.2L2044 667.8M2116.5 667.4L2137 649M1993.2 776.2L2013.7 757.8" stroke="#8650aa" stroke-width="3.4" fill="none"/>
<circle cx="1867.6" cy="633.8" r="8.3" fill="url(#gSb)"/>
<circle cx="1960.7" cy="615" r="8.3" fill="url(#gSb)"/>
<circle cx="2053.7" cy="596.2" r="8.3" fill="url(#gSb)"/>
<circle cx="1930.4" cy="705" r="8.3" fill="url(#gSb)"/>
<circle cx="2023.4" cy="686.2" r="8.3" fill="url(#gSb)"/>
<circle cx="2116.5" cy="667.4" r="8.3" fill="url(#gSb)"/>
<circle cx="1993.2" cy="776.2" r="8.3" fill="url(#gSb)"/>
<circle cx="1908.3" cy="597.3" r="8.7" fill="url(#gSb)"/>
<circle cx="2001.4" cy="578.6" r="8.7" fill="url(#gSb)"/>
<circle cx="1878.1" cy="687.3" r="8.7" fill="url(#gSb)"/>
<circle cx="1971.1" cy="668.5" r="8.7" fill="url(#gSb)"/>
<circle cx="2064.1" cy="649.8" r="8.7" fill="url(#gSb)"/>
<circle cx="2157.2" cy="631" r="8.7" fill="url(#gSb)"/>
<circle cx="2033.9" cy="739.7" r="8.7" fill="url(#gSb)"/>
<path d="M1879 848.3L1870.7 880M1879 848.3L1921 880M1879 848.3L1862.2 864.2M1904 848.3L1899.8 864.2M1904 848.3L1946 880M1904 848.3L1870.7 880M1954.3 848.3L1946 880M1954.3 848.3L1996 880M1954.3 848.3L1921 880M1979.3 848.3L1971 880M1979.3 848.3L2021.7 880M1979.3 848.3L1946 880M2004.3 848.3L1996 880M2004.3 848.3L2025.3 864.2M2004.3 848.3L1971 880M2030 848.3L2021.7 880M2030 848.3L2072.3 880M2030 848.3L1996 880M2106 848.3L2101.8 864.2M2106 848.3L2127 864.2M2106 848.3L2072.3 880M1870.7 880L1849.7 864.2M1921 880L1925.2 864.2M1971 880L1950 864.2M2021.7 880L2038.5 864.2M2072.3 880L2076.5 864.2" stroke="#b66bdb" stroke-width="2.6" fill="none" stroke-linecap="round"/>
<circle cx="1870.7" cy="880" r="7.3" fill="url(#gSb)"/>
<circle cx="1921" cy="880" r="7.3" fill="url(#gSb)"/>
<circle cx="1946" cy="880" r="7.3" fill="url(#gSb)"/>
<circle cx="1971" cy="880" r="7.3" fill="url(#gSb)"/>
<circle cx="1996" cy="880" r="7.3" fill="url(#gSb)"/>
<circle cx="2021.7" cy="880" r="7.3" fill="url(#gSb)"/>
<circle cx="2072.3" cy="880" r="7.3" fill="url(#gSb)"/>
<circle cx="1879" cy="848.3" r="7.3" fill="url(#gSb)"/>
<circle cx="1904" cy="848.3" r="7.3" fill="url(#gSb)"/>
<circle cx="1954.3" cy="848.3" r="7.3" fill="url(#gSb)"/>
<circle cx="1979.3" cy="848.3" r="7.3" fill="url(#gSb)"/>
<circle cx="2004.3" cy="848.3" r="7.3" fill="url(#gSb)"/>
<circle cx="2030" cy="848.3" r="7.3" fill="url(#gSb)"/>
<circle cx="2106" cy="848.3" r="7.3" fill="url(#gSb)"/>
<line x1="1802.3" y1="951" x2="1823.3" y2="951" stroke="#b9b9b9" stroke-width="2.8" stroke-linecap="butt" />
<line x1="1861.7" y1="951" x2="2096.7" y2="951" stroke="#769a9c" stroke-width="2.8" stroke-linecap="butt" />
<line x1="2116.7" y1="951" x2="2155" y2="951" stroke="#769a9c" stroke-width="2.8" stroke-linecap="butt" />
<circle cx="1815" cy="951" r="7.3" fill="url(#gC)"/>
<circle cx="1874.3" cy="951" r="7.3" fill="url(#gC)"/>
<circle cx="1894.3" cy="951" r="7.3" fill="url(#gSn)"/>
<circle cx="1933.3" cy="951" r="7.3" fill="url(#gC)"/>
<circle cx="1953.3" cy="951" r="7.3" fill="url(#gSn)"/>
<circle cx="1992.3" cy="951" r="7.3" fill="url(#gC)"/>
<circle cx="2012.3" cy="951" r="7.3" fill="url(#gSn)"/>
<circle cx="2051" cy="951" r="7.3" fill="url(#gC)"/>
<circle cx="2071" cy="951" r="7.3" fill="url(#gSn)"/>
<circle cx="2130" cy="951" r="7.3" fill="url(#gSn)"/>
<text x="1733.3" y="819.6" font-size="37.5" textLength="105" lengthAdjust="spacing" >19.11°</text>
<line x1="2518.3" y1="526.7" x2="2282.3" y2="663.3" stroke="#d4d4d4" stroke-width="1" stroke-linecap="butt" />
<line x1="2755" y1="663.3" x2="2518.3" y2="526.7" stroke="#d4d4d4" stroke-width="1" stroke-linecap="butt" />
<line x1="2282.3" y1="663.3" x2="2518.3" y2="798.3" stroke="#d9534f" stroke-width="1" stroke-linecap="butt" />
<line x1="2518.3" y1="798.3" x2="2755" y2="663.3" stroke="#e0a040" stroke-width="1" stroke-linecap="butt" />
<path d="M2511 786L2518.8 799.3M2511 786L2495.2 785.8M2511 786L2522.1 766.9M2558.3 759L2566.2 772.3M2558.3 759L2536.3 758.8M2558.3 759L2569.4 739.9M2605.7 732L2613.5 745.3M2605.7 732L2583.6 731.8M2605.7 732L2616.8 712.9M2653 705L2660.8 718.3M2653 705L2630.9 704.8M2653 705L2664.1 685.9M2700.3 678L2708.2 691.3M2700.3 678L2678.3 677.8M2700.3 678L2711.4 658.9M2463.8 759L2471.7 772.3M2463.8 759L2448.1 758.8M2463.8 759L2474.9 739.9M2511.1 732L2522.1 750.7M2511.1 732L2489.1 731.8M2511.1 732L2522.2 712.9M2558.5 705L2569.5 723.7M2558.5 705L2536.4 704.8M2558.5 705L2569.6 685.9M2605.8 678L2616.8 696.7M2605.8 678L2583.8 677.8M2605.8 678L2616.9 658.9M2653.1 651L2664.1 669.7M2653.1 651L2631.1 650.8M2653.1 651L2664.2 631.9M2416.6 732L2424.4 745.3M2416.6 732L2400.8 731.8M2416.6 732L2427.7 712.9M2463.9 705L2474.9 723.7M2463.9 705L2441.9 704.8M2463.9 705L2475 685.9M2511.3 678L2522.3 696.7M2511.3 678L2489.2 677.8M2511.3 678L2522.3 658.9M2558.6 651L2569.6 669.7M2558.6 651L2536.5 650.8M2558.6 651L2569.7 631.9M2605.9 624L2616.9 642.7M2605.9 624L2583.9 623.8M2605.9 624L2617 604.9M2369.4 705L2377.2 718.3M2369.4 705L2353.7 704.8M2369.4 705L2380.5 685.9M2416.7 678L2427.7 696.7M2416.7 678L2394.7 677.8M2416.7 678L2427.8 658.9M2464.1 651L2475.1 669.7M2464.1 651L2442 650.8M2464.1 651L2475.2 631.9M2511.4 624L2522.4 642.7M2511.4 624L2489.3 623.8M2511.4 624L2522.5 604.9M2558.7 597L2569.7 615.7M2558.7 597L2536.7 596.8M2558.7 597L2569.8 577.9M2322.2 678L2330 691.3M2322.2 678L2306.4 677.8M2322.2 678L2333.3 658.9M2369.5 651L2380.5 669.7M2369.5 651L2347.5 650.8M2369.5 651L2380.6 631.9M2416.9 624L2427.9 642.7M2416.9 624L2394.8 623.8M2416.9 624L2427.9 604.9M2464.2 597L2475.2 615.7M2464.2 597L2442.1 596.8M2464.2 597L2475.3 577.9M2511.5 570L2522.5 588.7M2511.5 570L2489.5 569.8M2511.5 570L2522.6 550.9" stroke="#769a9c" stroke-width="2.4" fill="none" stroke-linecap="butt"/>
<path d="M2526.8 758.7L2522 750.4M2526.8 758.7L2536.6 758.8M2526.8 758.7L2521.9 767.1M2574.2 731.7L2569.3 723.4M2574.2 731.7L2583.9 731.8M2574.2 731.7L2569.3 740.1M2621.5 704.7L2616.6 696.4M2621.5 704.7L2631.3 704.8M2621.5 704.7L2616.6 713.1M2668.8 677.7L2664 669.4M2668.8 677.7L2678.6 677.8M2668.8 677.7L2663.9 686.1M2716.2 650.7L2708.3 637.3M2716.2 650.7L2731.9 650.8M2716.2 650.7L2711.3 659.1M2479.6 731.7L2474.8 723.4M2479.6 731.7L2489.4 731.8M2479.6 731.7L2474.7 740.1M2527 704.7L2522.1 696.4M2527 704.7L2536.7 704.8M2527 704.7L2522.1 713.1M2574.3 677.7L2569.4 669.4M2574.3 677.7L2584.1 677.8M2574.3 677.7L2569.4 686.1M2621.6 650.7L2616.8 642.4M2621.6 650.7L2631.4 650.8M2621.6 650.7L2616.7 659.1M2669 623.7L2661.1 610.3M2669 623.7L2684.7 623.8M2669 623.7L2664.1 632.1M2432.4 704.7L2427.6 696.4M2432.4 704.7L2442.2 704.8M2432.4 704.7L2427.5 713.1M2479.8 677.7L2474.9 669.4M2479.8 677.7L2489.5 677.8M2479.8 677.7L2474.9 686.1M2527.1 650.7L2522.2 642.4M2527.1 650.7L2536.9 650.8M2527.1 650.7L2522.2 659.1M2574.4 623.7L2569.6 615.4M2574.4 623.7L2584.2 623.8M2574.4 623.7L2569.5 632.1M2621.8 596.7L2613.9 583.3M2621.8 596.7L2637.5 596.8M2621.8 596.7L2616.9 605.1M2385.2 677.7L2380.4 669.4M2385.2 677.7L2395 677.8M2385.2 677.7L2380.3 686.1M2432.6 650.7L2427.7 642.4M2432.6 650.7L2442.3 650.8M2432.6 650.7L2427.7 659.1M2479.9 623.7L2475 615.4M2479.9 623.7L2489.7 623.8M2479.9 623.7L2475 632.1M2527.2 596.7L2522.4 588.4M2527.2 596.7L2537 596.8M2527.2 596.7L2522.3 605.1M2574.6 569.7L2566.7 556.3M2574.6 569.7L2590.3 569.8M2574.6 569.7L2569.7 578.1M2338 650.7L2330.2 637.3M2338 650.7L2347.8 650.8M2338 650.7L2333.1 659.1M2385.4 623.7L2377.5 610.3M2385.4 623.7L2395.1 623.8M2385.4 623.7L2380.5 632.1M2432.7 596.7L2424.8 583.3M2432.7 596.7L2442.5 596.8M2432.7 596.7L2427.8 605.1M2480 569.7L2472.2 556.3M2480 569.7L2489.8 569.8M2480 569.7L2475.1 578.1M2527.4 542.7L2519.5 529.3M2527.4 542.7L2543.1 542.8M2527.4 542.7L2522.5 551.1" stroke="#b9b9b9" stroke-width="2.4" fill="none" stroke-linecap="butt"/>
<circle cx="2526.8" cy="758.7" r="5.2" fill="url(#gC)"/>
<circle cx="2574.2" cy="731.7" r="5.2" fill="url(#gC)"/>
<circle cx="2621.5" cy="704.7" r="5.2" fill="url(#gC)"/>
<circle cx="2668.8" cy="677.7" r="5.2" fill="url(#gC)"/>
<circle cx="2716.2" cy="650.7" r="5.2" fill="url(#gC)"/>
<circle cx="2479.6" cy="731.7" r="5.2" fill="url(#gC)"/>
<circle cx="2527" cy="704.7" r="5.2" fill="url(#gC)"/>
<circle cx="2574.3" cy="677.7" r="5.2" fill="url(#gC)"/>
<circle cx="2621.6" cy="650.7" r="5.2" fill="url(#gC)"/>
<circle cx="2669" cy="623.7" r="5.2" fill="url(#gC)"/>
<circle cx="2432.4" cy="704.7" r="5.2" fill="url(#gC)"/>
<circle cx="2479.8" cy="677.7" r="5.2" fill="url(#gC)"/>
<circle cx="2527.1" cy="650.7" r="5.2" fill="url(#gC)"/>
<circle cx="2574.4" cy="623.7" r="5.2" fill="url(#gC)"/>
<circle cx="2621.8" cy="596.7" r="5.2" fill="url(#gC)"/>
<circle cx="2385.2" cy="677.7" r="5.2" fill="url(#gC)"/>
<circle cx="2432.6" cy="650.7" r="5.2" fill="url(#gC)"/>
<circle cx="2479.9" cy="623.7" r="5.2" fill="url(#gC)"/>
<circle cx="2527.2" cy="596.7" r="5.2" fill="url(#gC)"/>
<circle cx="2574.6" cy="569.7" r="5.2" fill="url(#gC)"/>
<circle cx="2338" cy="650.7" r="5.2" fill="url(#gC)"/>
<circle cx="2385.4" cy="623.7" r="5.2" fill="url(#gC)"/>
<circle cx="2432.7" cy="596.7" r="5.2" fill="url(#gC)"/>
<circle cx="2480" cy="569.7" r="5.2" fill="url(#gC)"/>
<circle cx="2527.4" cy="542.7" r="5.2" fill="url(#gC)"/>
<circle cx="2511" cy="786" r="5.4" fill="url(#gSn)"/>
<circle cx="2558.3" cy="759" r="5.4" fill="url(#gSn)"/>
<circle cx="2605.7" cy="732" r="5.4" fill="url(#gSn)"/>
<circle cx="2653" cy="705" r="5.4" fill="url(#gSn)"/>
<circle cx="2700.3" cy="678" r="5.4" fill="url(#gSn)"/>
<circle cx="2463.8" cy="759" r="5.4" fill="url(#gSn)"/>
<circle cx="2511.1" cy="732" r="5.4" fill="url(#gSn)"/>
<circle cx="2558.5" cy="705" r="5.4" fill="url(#gSn)"/>
<circle cx="2605.8" cy="678" r="5.4" fill="url(#gSn)"/>
<circle cx="2653.1" cy="651" r="5.4" fill="url(#gSn)"/>
<circle cx="2416.6" cy="732" r="5.4" fill="url(#gSn)"/>
<circle cx="2463.9" cy="705" r="5.4" fill="url(#gSn)"/>
<circle cx="2511.3" cy="678" r="5.4" fill="url(#gSn)"/>
<circle cx="2558.6" cy="651" r="5.4" fill="url(#gSn)"/>
<circle cx="2605.9" cy="624" r="5.4" fill="url(#gSn)"/>
<circle cx="2369.4" cy="705" r="5.4" fill="url(#gSn)"/>
<circle cx="2416.7" cy="678" r="5.4" fill="url(#gSn)"/>
<circle cx="2464.1" cy="651" r="5.4" fill="url(#gSn)"/>
<circle cx="2511.4" cy="624" r="5.4" fill="url(#gSn)"/>
<circle cx="2558.7" cy="597" r="5.4" fill="url(#gSn)"/>
<circle cx="2322.2" cy="678" r="5.4" fill="url(#gSn)"/>
<circle cx="2369.5" cy="651" r="5.4" fill="url(#gSn)"/>
<circle cx="2416.9" cy="624" r="5.4" fill="url(#gSn)"/>
<circle cx="2464.2" cy="597" r="5.4" fill="url(#gSn)"/>
<circle cx="2511.5" cy="570" r="5.4" fill="url(#gSn)"/>
<path d="M2282.7 666.2L2268 655.9M2282.7 666.2L2299.2 658.5M2282.7 666.2L2281.1 684.1M2344.8 671.6L2329.9 661.2M2344.8 671.6L2361.3 664M2344.8 671.6L2343.2 689.6M2380.6 620.6L2365.8 610.2M2380.6 620.6L2397 612.9M2380.6 620.6L2379 638.7M2406.9 677.1L2392 666.6M2406.9 677.1L2423.4 669.4M2406.9 677.1L2405.3 695.2M2442.7 626L2427.8 615.6M2442.7 626L2459.1 618.3M2442.7 626L2441.1 644.1M2478.4 574.9L2463.7 564.6M2478.4 574.9L2494.9 567.3M2478.4 574.9L2476.9 593M2433.2 733.6L2418.4 723.1M2433.2 733.6L2449.7 725.9M2433.2 733.6L2431.7 751.5M2469 682.5L2454.1 672.1M2469 682.5L2485.5 674.8M2469 682.5L2467.4 700.6M2504.8 631.4L2489.9 621M2504.8 631.4L2521.2 623.8M2504.8 631.4L2503.2 649.5M2540.5 580.4L2525.7 569.9M2540.5 580.4L2557 572.7M2540.5 580.4L2539 598.5M2495.3 739L2480.5 728.6M2495.3 739L2511.8 731.3M2495.3 739L2493.8 757.1M2531.1 687.9L2516.2 677.5M2531.1 687.9L2547.6 680.3M2531.1 687.9L2529.5 706M2566.9 636.9L2552 626.4M2566.9 636.9L2583.3 629.2M2566.9 636.9L2565.3 655M2602.6 585.8L2587.8 575.4M2602.6 585.8L2618.9 578.2M2602.6 585.8L2601.1 603.9M2521.7 795.5L2506.8 785.1M2521.7 795.5L2538.1 787.8M2521.7 795.5L2520.1 813.4M2557.4 744.4L2542.6 734M2557.4 744.4L2573.9 736.8M2557.4 744.4L2555.9 762.5M2593.2 693.4L2578.3 682.9M2593.2 693.4L2609.7 685.7M2593.2 693.4L2591.6 711.5M2629 642.3L2614.1 631.9M2629 642.3L2645.4 634.6M2629 642.3L2627.4 660.4M2655.3 698.8L2640.4 688.4M2655.3 698.8L2671.8 691.1M2655.3 698.8L2653.7 716.7M2691.1 647.7L2676.2 637.3M2691.1 647.7L2707.4 640.1M2691.1 647.7L2689.5 665.8M2315.3 651L2330.2 661.4M2315.3 651L2298.9 658.7M2315.3 651L2316.9 633.1M2377.4 656.4L2392.3 666.9M2377.4 656.4L2361 664.1M2377.4 656.4L2379 638.3M2413.2 605.4L2428.1 615.8M2413.2 605.4L2396.7 613M2413.2 605.4L2414.8 587.4M2403.8 712.9L2418.6 723.4M2403.8 712.9L2387.4 720.5M2403.8 712.9L2405.3 694.8M2439.5 661.9L2454.4 672.3M2439.5 661.9L2423.1 669.5M2439.5 661.9L2441.1 643.8M2475.3 610.8L2490.2 621.2M2475.3 610.8L2458.8 618.5M2475.3 610.8L2476.9 592.7M2511.1 559.7L2525.9 570.2M2511.1 559.7L2494.6 567.4M2511.1 559.7L2512.6 541.8M2465.9 718.4L2480.7 728.8M2465.9 718.4L2449.4 726M2465.9 718.4L2467.4 700.3M2501.6 667.3L2516.5 677.7M2501.6 667.3L2485.2 675M2501.6 667.3L2503.2 649.2M2537.4 616.2L2552.3 626.7M2537.4 616.2L2520.9 623.9M2537.4 616.2L2539 598.1M2573.2 565.2L2588 575.6M2573.2 565.2L2556.7 572.8M2573.2 565.2L2574.7 547.2M2492.2 774.9L2507.1 785.3M2492.2 774.9L2475.9 782.5M2492.2 774.9L2493.8 756.8M2528 723.8L2542.8 734.2M2528 723.8L2511.5 731.5M2528 723.8L2529.5 705.7M2563.7 672.7L2578.6 683.2M2563.7 672.7L2547.3 680.4M2563.7 672.7L2565.3 654.6M2599.5 621.7L2614.4 632.1M2599.5 621.7L2583 629.3M2599.5 621.7L2601.1 603.6M2554.3 780.3L2569 790.6M2554.3 780.3L2537.8 788M2554.3 780.3L2555.9 762.2M2590.1 729.2L2604.8 739.5M2590.1 729.2L2573.6 736.9M2590.1 729.2L2591.6 711.1M2625.8 678.2L2640.7 688.6M2625.8 678.2L2609.4 685.8M2625.8 678.2L2627.4 660.1M2661.6 627.1L2676.5 637.5M2661.6 627.1L2645.1 634.8M2661.6 627.1L2663.2 609.2M2687.9 683.6L2702.7 693.9M2687.9 683.6L2671.5 691.3M2687.9 683.6L2689.5 665.5" stroke="#b66bdb" stroke-width="2.3" fill="none" stroke-linecap="butt"/>
<path d="M2282.7 666.2L2281.1 684.1M2344.8 671.6L2343.2 689.6M2380.6 620.6L2379 638.7M2406.9 677.1L2405.3 695.2M2442.7 626L2441.1 644.1M2478.4 574.9L2476.9 593M2433.2 733.6L2431.7 751.5M2469 682.5L2467.4 700.6M2504.8 631.4L2503.2 649.5M2540.5 580.4L2539 598.5M2495.3 739L2493.8 757.1M2531.1 687.9L2529.5 706M2566.9 636.9L2565.3 655M2602.6 585.8L2601.1 603.9M2521.7 795.5L2520.1 813.4M2557.4 744.4L2555.9 762.5M2593.2 693.4L2591.6 711.5M2629 642.3L2627.4 660.4M2655.3 698.8L2653.7 716.7M2691.1 647.7L2689.5 665.8M2315.3 651L2316.9 633.1M2377.4 656.4L2379 638.3M2413.2 605.4L2414.8 587.4M2403.8 712.9L2405.3 694.8M2439.5 661.9L2441.1 643.8M2475.3 610.8L2476.9 592.7M2511.1 559.7L2512.6 541.8M2465.9 718.4L2467.4 700.3M2501.6 667.3L2503.2 649.2M2537.4 616.2L2539 598.1M2573.2 565.2L2574.7 547.2M2492.2 774.9L2493.8 756.8M2528 723.8L2529.5 705.7M2563.7 672.7L2565.3 654.6M2599.5 621.7L2601.1 603.6M2554.3 780.3L2555.9 762.2M2590.1 729.2L2591.6 711.1M2625.8 678.2L2627.4 660.1M2661.6 627.1L2663.2 609.2M2687.9 683.6L2689.5 665.5" stroke="#8650aa" stroke-width="2.3" fill="none"/>
<circle cx="2315.3" cy="651" r="4.8" fill="url(#gSb)"/>
<circle cx="2377.4" cy="656.4" r="4.8" fill="url(#gSb)"/>
<circle cx="2413.2" cy="605.4" r="4.8" fill="url(#gSb)"/>
<circle cx="2403.8" cy="712.9" r="4.8" fill="url(#gSb)"/>
<circle cx="2439.5" cy="661.9" r="4.8" fill="url(#gSb)"/>
<circle cx="2475.3" cy="610.8" r="4.8" fill="url(#gSb)"/>
<circle cx="2511.1" cy="559.7" r="4.8" fill="url(#gSb)"/>
<circle cx="2465.9" cy="718.4" r="4.8" fill="url(#gSb)"/>
<circle cx="2501.6" cy="667.3" r="4.8" fill="url(#gSb)"/>
<circle cx="2537.4" cy="616.2" r="4.8" fill="url(#gSb)"/>
<circle cx="2573.2" cy="565.2" r="4.8" fill="url(#gSb)"/>
<circle cx="2492.2" cy="774.9" r="4.8" fill="url(#gSb)"/>
<circle cx="2528" cy="723.8" r="4.8" fill="url(#gSb)"/>
<circle cx="2563.7" cy="672.7" r="4.8" fill="url(#gSb)"/>
<circle cx="2599.5" cy="621.7" r="4.8" fill="url(#gSb)"/>
<circle cx="2554.3" cy="780.3" r="4.8" fill="url(#gSb)"/>
<circle cx="2590.1" cy="729.2" r="4.8" fill="url(#gSb)"/>
<circle cx="2625.8" cy="678.2" r="4.8" fill="url(#gSb)"/>
<circle cx="2661.6" cy="627.1" r="4.8" fill="url(#gSb)"/>
<circle cx="2687.9" cy="683.6" r="4.8" fill="url(#gSb)"/>
<circle cx="2282.7" cy="666.2" r="5" fill="url(#gSb)"/>
<circle cx="2344.8" cy="671.6" r="5" fill="url(#gSb)"/>
<circle cx="2380.6" cy="620.6" r="5" fill="url(#gSb)"/>
<circle cx="2406.9" cy="677.1" r="5" fill="url(#gSb)"/>
<circle cx="2442.7" cy="626" r="5" fill="url(#gSb)"/>
<circle cx="2478.4" cy="574.9" r="5" fill="url(#gSb)"/>
<circle cx="2433.2" cy="733.6" r="5" fill="url(#gSb)"/>
<circle cx="2469" cy="682.5" r="5" fill="url(#gSb)"/>
<circle cx="2504.8" cy="631.4" r="5" fill="url(#gSb)"/>
<circle cx="2540.5" cy="580.4" r="5" fill="url(#gSb)"/>
<circle cx="2495.3" cy="739" r="5" fill="url(#gSb)"/>
<circle cx="2531.1" cy="687.9" r="5" fill="url(#gSb)"/>
<circle cx="2566.9" cy="636.9" r="5" fill="url(#gSb)"/>
<circle cx="2602.6" cy="585.8" r="5" fill="url(#gSb)"/>
<circle cx="2521.7" cy="795.5" r="5" fill="url(#gSb)"/>
<circle cx="2557.4" cy="744.4" r="5" fill="url(#gSb)"/>
<circle cx="2593.2" cy="693.4" r="5" fill="url(#gSb)"/>
<circle cx="2629" cy="642.3" r="5" fill="url(#gSb)"/>
<circle cx="2655.3" cy="698.8" r="5" fill="url(#gSb)"/>
<circle cx="2691.1" cy="647.7" r="5" fill="url(#gSb)"/>
<path d="M2305.7 865.7L2335 890.7M2305.7 865.7L2289 878.2M2305.7 865.7L2307.7 878.2M2368.3 865.7L2397.7 890.7M2368.3 865.7L2335 890.7M2368.3 865.7L2372.7 890.7M2393.3 865.7L2422.7 890.7M2393.3 865.7L2376.7 878.2M2393.3 865.7L2397.7 890.7M2406 865.7L2435 890.7M2406 865.7L2372.7 890.7M2406 865.7L2408 878.2M2431 865.7L2460 890.7M2431 865.7L2397.7 890.7M2431 865.7L2435 890.7M2456 865.7L2485 890.7M2456 865.7L2422.7 890.7M2456 865.7L2460 890.7M2468.3 865.7L2497.7 890.7M2468.3 865.7L2435 890.7M2468.3 865.7L2472.7 890.7M2481 865.7L2510 890.7M2481 865.7L2464.3 878.2M2481 865.7L2485 890.7M2493.3 865.7L2522.7 890.7M2493.3 865.7L2460 890.7M2493.3 865.7L2497.7 890.7M2506 865.7L2535 890.7M2506 865.7L2472.7 890.7M2506 865.7L2510 890.7M2518.3 865.7L2547.7 890.7M2518.3 865.7L2485 890.7M2518.3 865.7L2522.7 890.7M2531 865.7L2560 890.7M2531 865.7L2497.7 890.7M2531 865.7L2535 890.7M2556 865.7L2585 890.7M2556 865.7L2522.7 890.7M2556 865.7L2560 890.7M2568.3 865.7L2597.7 890.7M2568.3 865.7L2535 890.7M2568.3 865.7L2570.3 878.2M2581 865.7L2595.7 878.2M2581 865.7L2547.7 890.7M2581 865.7L2585 890.7M2593.3 865.7L2622.7 890.7M2593.3 865.7L2560 890.7M2593.3 865.7L2597.7 890.7M2618.3 865.7L2647.7 890.7M2618.3 865.7L2585 890.7M2618.3 865.7L2622.7 890.7M2656.7 865.7L2685 890.7M2656.7 865.7L2622.7 890.7M2656.7 865.7L2658.7 878.2M2681.7 865.7L2696.3 878.2M2681.7 865.7L2647.7 890.7M2681.7 865.7L2685 890.7M2335 890.7L2333 878.2M2372.7 890.7L2358 878.2M2422.7 890.7L2420.7 878.2M2472.7 890.7L2458 878.2M2510 890.7L2526.7 878.2M2547.7 890.7L2545.7 878.2M2597.7 890.7L2614.3 878.2M2647.7 890.7L2645.7 878.2M2685 890.7L2701.7 878.2" stroke="#b66bdb" stroke-width="2.3" fill="none" stroke-linecap="round"/>
<circle cx="2335" cy="890.7" r="6.3" fill="url(#gSb)"/>
<circle cx="2372.7" cy="890.7" r="6.3" fill="url(#gSb)"/>
<circle cx="2397.7" cy="890.7" r="6.3" fill="url(#gSb)"/>
<circle cx="2422.7" cy="890.7" r="6.3" fill="url(#gSb)"/>
<circle cx="2435" cy="890.7" r="6.3" fill="url(#gSb)"/>
<circle cx="2460" cy="890.7" r="6.3" fill="url(#gSb)"/>
<circle cx="2472.7" cy="890.7" r="6.3" fill="url(#gSb)"/>
<circle cx="2485" cy="890.7" r="6.3" fill="url(#gSb)"/>
<circle cx="2497.7" cy="890.7" r="6.3" fill="url(#gSb)"/>
<circle cx="2510" cy="890.7" r="6.3" fill="url(#gSb)"/>
<circle cx="2522.7" cy="890.7" r="6.3" fill="url(#gSb)"/>
<circle cx="2535" cy="890.7" r="6.3" fill="url(#gSb)"/>
<circle cx="2547.7" cy="890.7" r="6.3" fill="url(#gSb)"/>
<circle cx="2560" cy="890.7" r="6.3" fill="url(#gSb)"/>
<circle cx="2585" cy="890.7" r="6.3" fill="url(#gSb)"/>
<circle cx="2597.7" cy="890.7" r="6.3" fill="url(#gSb)"/>
<circle cx="2622.7" cy="890.7" r="6.3" fill="url(#gSb)"/>
<circle cx="2647.7" cy="890.7" r="6.3" fill="url(#gSb)"/>
<circle cx="2685" cy="890.7" r="6.3" fill="url(#gSb)"/>
<circle cx="2305.7" cy="865.7" r="6.3" fill="url(#gSb)"/>
<circle cx="2368.3" cy="865.7" r="6.3" fill="url(#gSb)"/>
<circle cx="2393.3" cy="865.7" r="6.3" fill="url(#gSb)"/>
<circle cx="2406" cy="865.7" r="6.3" fill="url(#gSb)"/>
<circle cx="2431" cy="865.7" r="6.3" fill="url(#gSb)"/>
<circle cx="2456" cy="865.7" r="6.3" fill="url(#gSb)"/>
<circle cx="2468.3" cy="865.7" r="6.3" fill="url(#gSb)"/>
<circle cx="2481" cy="865.7" r="6.3" fill="url(#gSb)"/>
<circle cx="2493.3" cy="865.7" r="6.3" fill="url(#gSb)"/>
<circle cx="2506" cy="865.7" r="6.3" fill="url(#gSb)"/>
<circle cx="2518.3" cy="865.7" r="6.3" fill="url(#gSb)"/>
<circle cx="2531" cy="865.7" r="6.3" fill="url(#gSb)"/>
<circle cx="2556" cy="865.7" r="6.3" fill="url(#gSb)"/>
<circle cx="2568.3" cy="865.7" r="6.3" fill="url(#gSb)"/>
<circle cx="2581" cy="865.7" r="6.3" fill="url(#gSb)"/>
<circle cx="2593.3" cy="865.7" r="6.3" fill="url(#gSb)"/>
<circle cx="2618.3" cy="865.7" r="6.3" fill="url(#gSb)"/>
<circle cx="2656.7" cy="865.7" r="6.3" fill="url(#gSb)"/>
<circle cx="2681.7" cy="865.7" r="6.3" fill="url(#gSb)"/>
<line x1="2293.3" y1="950.7" x2="2720.7" y2="950.7" stroke="#769a9c" stroke-width="2.4" stroke-linecap="butt" />
<circle cx="2312.3" cy="950.7" r="6.3" fill="url(#gSn)"/>
<circle cx="2329" cy="950.7" r="6.3" fill="url(#gC)"/>
<circle cx="2360" cy="950.7" r="6.3" fill="url(#gSn)"/>
<circle cx="2376" cy="950.7" r="6.3" fill="url(#gC)"/>
<circle cx="2407.3" cy="950.7" r="6.3" fill="url(#gSn)"/>
<circle cx="2424.3" cy="950.7" r="6.3" fill="url(#gC)"/>
<circle cx="2455.7" cy="950.7" r="6.3" fill="url(#gSn)"/>
<circle cx="2471.7" cy="950.7" r="6.3" fill="url(#gC)"/>
<circle cx="2503.3" cy="950.7" r="6.3" fill="url(#gSn)"/>
<circle cx="2519.3" cy="950.7" r="6.3" fill="url(#gC)"/>
<circle cx="2551" cy="950.7" r="6.3" fill="url(#gSn)"/>
<circle cx="2566.7" cy="950.7" r="6.3" fill="url(#gC)"/>
<circle cx="2599" cy="950.7" r="6.3" fill="url(#gSn)"/>
<circle cx="2615" cy="950.7" r="6.3" fill="url(#gC)"/>
<circle cx="2646" cy="950.7" r="6.3" fill="url(#gSn)"/>
<circle cx="2662.3" cy="950.7" r="6.3" fill="url(#gC)"/>
<circle cx="2693.3" cy="950.7" r="6.3" fill="url(#gSn)"/>
<circle cx="2710" cy="950.7" r="6.3" fill="url(#gC)"/>
<text x="2280" y="819.6" font-size="37.5" textLength="106.7" lengthAdjust="spacing" >23.41°</text>
<line x1="3042.7" y1="511.7" x2="2819.3" y2="641.7" stroke="#d4d4d4" stroke-width="1" stroke-linecap="butt" />
<line x1="3265.3" y1="641.7" x2="3042.7" y2="511.7" stroke="#d4d4d4" stroke-width="1" stroke-linecap="butt" />
<line x1="2819.3" y1="641.7" x2="3042.7" y2="769.3" stroke="#d4d4d4" stroke-width="1" stroke-linecap="butt" />
<line x1="3042.7" y1="769.3" x2="3265.3" y2="641.7" stroke="#d4d4d4" stroke-width="1" stroke-linecap="butt" />
<path d="M2968 704.5L2993.4 659.8M2968 704.5L2986.3 736.4M2968 704.5L2930.5 704.5M3079.3 640.7L3104.8 596M3079.3 640.7L3105 685.3M3079.3 640.7L3026.8 640.7M2856.3 640.7L2874.5 608.8M2856.3 640.7L2874.7 672.6M2856.3 640.7L2818.8 640.7M2967.7 576.8L2985.8 544.9M2967.7 576.8L2993.3 621.5M2967.7 576.8L2930.2 576.8" stroke="#769a9c" stroke-width="5.8" fill="none" stroke-linecap="butt"/>
<path d="M3116 704.5L3097.8 736.4M3116 704.5L3104.6 684.7M3116 704.5L3153.5 704.5M3227.3 640.7L3209.2 672.6M3227.3 640.7L3209 608.8M3227.3 640.7L3264.8 640.7M3004.3 640.7L2993.1 660.5M3004.3 640.7L2993 620.9M3004.3 640.7L3027.6 640.7M3115.7 576.8L3104.4 596.6M3115.7 576.8L3097.3 544.9M3115.7 576.8L3153.2 576.8" stroke="#b9b9b9" stroke-width="5.8" fill="none" stroke-linecap="butt"/>
<circle cx="3116" cy="704.5" r="13.6" fill="url(#gC)"/>
<circle cx="3227.3" cy="640.7" r="13.6" fill="url(#gC)"/>
<circle cx="3004.3" cy="640.7" r="13.6" fill="url(#gC)"/>
<circle cx="3115.7" cy="576.8" r="13.6" fill="url(#gC)"/>
<circle cx="2968" cy="704.5" r="14" fill="url(#gSn)"/>
<circle cx="3079.3" cy="640.7" r="14" fill="url(#gSn)"/>
<circle cx="2856.3" cy="640.7" r="14" fill="url(#gSn)"/>
<circle cx="2967.7" cy="576.8" r="14" fill="url(#gSn)"/>
<path d="M3040.3 594L3040.2 552M3040.3 594L3077.9 615.5M3040.3 594L3002.3 615.5M2965.3 720.7L2965.2 678.2M2965.3 720.7L3002.9 742.2M2965.3 720.7L2927.7 742M3115 720.7L3114.8 678.2M3115 720.7L3152.2 742M3115 720.7L3077 742.2M2965 636.7L2965.2 679.1M2965 636.7L2927.8 615.3M2965 636.7L3003 615.1M3114.7 636.7L3114.8 679.1M3114.7 636.7L3077.1 615.1M3114.7 636.7L3152.3 615.3M3039.7 763.3L3039.8 805.3M3039.7 763.3L3002.1 741.8M3039.7 763.3L3077.7 741.8" stroke="#b66bdb" stroke-width="5.8" fill="none" stroke-linecap="butt"/>
<path d="M3040.3 594L3002.3 615.5M2965.3 720.7L2927.7 742M3115 720.7L3077 742.2M2965 636.7L3003 615.1M3114.7 636.7L3152.3 615.3M3039.7 763.3L3077.7 741.8" stroke="#8650aa" stroke-width="5.8" fill="none"/>
<circle cx="2965" cy="636.7" r="13.6" fill="url(#gSb)"/>
<circle cx="3114.7" cy="636.7" r="13.6" fill="url(#gSb)"/>
<circle cx="3039.7" cy="763.3" r="13.6" fill="url(#gSb)"/>
<circle cx="3040.3" cy="594" r="14.3" fill="url(#gSb)"/>
<circle cx="2965.3" cy="720.7" r="14.3" fill="url(#gSb)"/>
<circle cx="3115" cy="720.7" r="14.3" fill="url(#gSb)"/>
<path d="M3000 852.3L3000 884M3000 852.3L3038.3 884M3000 852.3L2980.8 868.2M3038.3 852.3L3038.3 884M3038.3 852.3L3077 884M3038.3 852.3L3000 884M3077 852.3L3077 884M3077 852.3L3096.2 868.2M3077 852.3L3038.3 884M3000 884L2980.8 868.2M3077 884L3096.2 868.2" stroke="#b66bdb" stroke-width="2.6" fill="none" stroke-linecap="round"/>
<circle cx="3000" cy="884" r="7.3" fill="url(#gSb)"/>
<circle cx="3038.3" cy="884" r="7.3" fill="url(#gSb)"/>
<circle cx="3077" cy="884" r="7.3" fill="url(#gSb)"/>
<circle cx="3000" cy="852.3" r="7.3" fill="url(#gSb)"/>
<circle cx="3038.3" cy="852.3" r="7.3" fill="url(#gSb)"/>
<circle cx="3077" cy="852.3" r="7.3" fill="url(#gSb)"/>
<line x1="2919.3" y1="954" x2="2957.7" y2="954" stroke="#769a9c" stroke-width="2.8" stroke-linecap="butt" />
<line x1="2976" y1="954" x2="3091" y2="954" stroke="#769a9c" stroke-width="2.8" stroke-linecap="butt" />
<line x1="3127.7" y1="954" x2="3148.7" y2="954" stroke="#b9b9b9" stroke-width="2.8" stroke-linecap="butt" />
<circle cx="2943.3" cy="954" r="7.3" fill="url(#gSn)"/>
<circle cx="3001" cy="954" r="7.3" fill="url(#gSn)"/>
<circle cx="3020" cy="954" r="7.3" fill="url(#gC)"/>
<circle cx="3058.3" cy="954" r="7.3" fill="url(#gSn)"/>
<circle cx="3077.7" cy="954" r="7.3" fill="url(#gC)"/>
<circle cx="3136" cy="954" r="7.3" fill="url(#gC)"/>
<text x="2836" y="819.6" font-size="37.5" textLength="53.3" lengthAdjust="spacing" >30°</text>
<text x="1800" y="1075" font-size="37.4" textLength="354.4" lengthAdjust="spacing" >Electronic property</text>
<line x1="2535.4" y1="981.6" x2="2535.4" y2="1072" stroke="#4472c4" stroke-width="3.2" stroke-linecap="butt" />
<polygon points="2525.1,1069.8 2545.7,1069.8 2535.4,1106.5" fill="#4472c4"/>
<line x1="1506.9" y1="1521.4" x2="1336" y2="1521.4" stroke="#4472c4" stroke-width="3.2" stroke-linecap="butt" />
<polygon points="1337.8,1511.3 1337.8,1531.4 1300.6,1521.4" fill="#4472c4"/>
<clipPath id="cp1"><rect x="1648.9" y="1172.1" width="444.6" height="322.6"/></clipPath>
<g clip-path="url(#cp1)" fill="none"><g stroke="#6e1226" stroke-width="3.4"><path id="b1_0" d="M1648.9 1252.9C1655.6 1252.7 1675.6 1251.8 1688.9 1251.7C1702.3 1251.6 1715.6 1252 1728.9 1252.5C1742.3 1253 1755.4 1253.6 1768.9 1254.6C1782.5 1255.5 1795.6 1256.9 1810.5 1258.2C1825.3 1259.4 1842.2 1261.2 1857.9 1261.9C1873.5 1262.5 1890.2 1262.6 1904.3 1261.9C1918.4 1261.2 1928.6 1259.3 1942.3 1257.7C1956.1 1256.1 1972.7 1253.8 1986.8 1252.4C2000.9 1251 2014.2 1250.3 2026.8 1249.4C2039.4 1248.4 2051.3 1246 2062.4 1246.6C2073.5 1247.2 2088.3 1251.8 2093.5 1252.9M1648.9 1228C1655.6 1228.6 1675.6 1230.6 1688.9 1231.8C1702.3 1233.1 1715.6 1234.1 1728.9 1235.5C1742.3 1236.8 1755.4 1238.7 1768.9 1240C1782.5 1241.4 1795.6 1243.1 1810.5 1243.6C1825.3 1244.1 1842.2 1243.5 1857.9 1242.9C1873.5 1242.4 1890.2 1241.1 1904.3 1240.5C1918.4 1239.9 1928.6 1239.9 1942.3 1239.5C1956.1 1239.2 1972.7 1238.7 1986.8 1238.3C2000.9 1237.9 2014.2 1237.4 2026.8 1237.2C2039.4 1236.9 2051.3 1238.3 2062.4 1236.8C2073.5 1235.3 2088.3 1229.5 2093.5 1228M1648.9 1231.9C1655.6 1232.4 1675.6 1234.3 1688.9 1235C1702.3 1235.8 1715.6 1236.3 1728.9 1236.5C1742.3 1236.8 1755.4 1236.5 1768.9 1236.5C1782.5 1236.5 1795.6 1236.5 1810.5 1236.6C1825.3 1236.6 1842.2 1237.5 1857.9 1236.8C1873.5 1236.1 1890.2 1234.3 1904.3 1232.4C1918.4 1230.5 1928.6 1226.4 1942.3 1225.3C1956.1 1224.2 1972.7 1225 1986.8 1226C2000.9 1227 2014.2 1230.1 2026.8 1231.4C2039.4 1232.8 2051.3 1234.2 2062.4 1234.2C2073.5 1234.3 2088.3 1232.3 2093.5 1231.9M1648.9 1218.2C1655.6 1218.9 1675.6 1221.2 1688.9 1222.5C1702.3 1223.7 1715.6 1225.2 1728.9 1225.9C1742.3 1226.6 1755.4 1226.5 1768.9 1226.8C1782.5 1227.1 1795.6 1227.7 1810.5 1227.5C1825.3 1227.3 1842.2 1226 1857.9 1225.6C1873.5 1225.3 1890.2 1225.2 1904.3 1225.2C1918.4 1225.3 1928.6 1226.3 1942.3 1225.8C1956.1 1225.2 1972.7 1222.6 1986.8 1222C2000.9 1221.4 2014.2 1221.5 2026.8 1222.3C2039.4 1223.1 2051.3 1227.3 2062.4 1226.7C2073.5 1226 2088.3 1219.6 2093.5 1218.2M1648.9 1223.8C1655.6 1223.6 1675.6 1223.3 1688.9 1222.6C1702.3 1221.9 1715.6 1220.1 1728.9 1219.4C1742.3 1218.8 1755.4 1218.9 1768.9 1218.6C1782.5 1218.3 1795.6 1218.4 1810.5 1217.6C1825.3 1216.9 1842.2 1214.6 1857.9 1214.3C1873.5 1213.9 1890.2 1215 1904.3 1215.8C1918.4 1216.5 1928.6 1218.4 1942.3 1218.8C1956.1 1219.2 1972.7 1218.7 1986.8 1218.3C2000.9 1217.8 2014.2 1216.6 2026.8 1216C2039.4 1215.3 2051.3 1213 2062.4 1214.3C2073.5 1215.6 2088.3 1222.2 2093.5 1223.8M1648.9 1199C1655.6 1198.9 1675.6 1198.1 1688.9 1198.5C1702.3 1198.8 1715.6 1199.9 1728.9 1201C1742.3 1202 1755.4 1203.8 1768.9 1205C1782.5 1206.2 1795.6 1207.2 1810.5 1208C1825.3 1208.8 1842.2 1209.8 1857.9 1210C1873.5 1210.2 1890.2 1209.7 1904.3 1209.1C1918.4 1208.4 1928.6 1207.6 1942.3 1206.1C1956.1 1204.6 1972.7 1202.1 1986.8 1200.2C2000.9 1198.2 2014.2 1195.1 2026.8 1194.4C2039.4 1193.6 2051.3 1194.7 2062.4 1195.5C2073.5 1196.2 2088.3 1198.4 2093.5 1199M1648.9 1198.3C1655.6 1197.7 1675.6 1195.1 1688.9 1194.7C1702.3 1194.3 1715.6 1195.4 1728.9 1196C1742.3 1196.5 1755.4 1197.5 1768.9 1197.8C1782.5 1198.2 1795.6 1197.6 1810.5 1197.8C1825.3 1198 1842.2 1199 1857.9 1199C1873.5 1199 1890.2 1198.4 1904.3 1197.8C1918.4 1197.2 1928.6 1195.9 1942.3 1195.5C1956.1 1195.1 1972.7 1195.6 1986.8 1195.4C2000.9 1195.2 2014.2 1194.7 2026.8 1194.4C2039.4 1194 2051.3 1192.7 2062.4 1193.4C2073.5 1194 2088.3 1197.5 2093.5 1198.3M1648.9 1192C1655.6 1192.2 1675.6 1193 1688.9 1193.1C1702.3 1193.3 1715.6 1193.3 1728.9 1192.7C1742.3 1192 1755.4 1190.1 1768.9 1189.2C1782.5 1188.4 1795.6 1188.3 1810.5 1187.7C1825.3 1187.2 1842.2 1186.4 1857.9 1186C1873.5 1185.5 1890.2 1185.1 1904.3 1185C1918.4 1184.9 1928.6 1185.7 1942.3 1185.5C1956.1 1185.2 1972.7 1183.9 1986.8 1183.5C2000.9 1183.1 2014.2 1182.5 2026.8 1183.1C2039.4 1183.7 2051.3 1185.6 2062.4 1187.1C2073.5 1188.6 2088.3 1191.2 2093.5 1192M1648.9 1166.5C1655.6 1166.5 1675.6 1166.5 1688.9 1166.6C1702.3 1166.7 1715.6 1166.2 1728.9 1167.1C1742.3 1168.1 1755.4 1170.7 1768.9 1172.3C1782.5 1174 1795.6 1176.3 1810.5 1177.1C1825.3 1177.9 1842.2 1177.5 1857.9 1177.2C1873.5 1176.8 1890.2 1175.8 1904.3 1175C1918.4 1174.2 1928.6 1173.2 1942.3 1172.4C1956.1 1171.6 1972.7 1170.6 1986.8 1170.1C2000.9 1169.6 2014.2 1169.5 2026.8 1169.5C2039.4 1169.4 2051.3 1170.3 2062.4 1169.8C2073.5 1169.3 2088.3 1167.1 2093.5 1166.5M1648.9 1165.7C1655.6 1165.5 1675.6 1164.7 1688.9 1164.5C1702.3 1164.3 1715.6 1164.6 1728.9 1164.5C1742.3 1164.5 1755.4 1164.7 1768.9 1164.1C1782.5 1163.5 1795.6 1162.1 1810.5 1161.1C1825.3 1160.1 1842.2 1158.3 1857.9 1158.1C1873.5 1157.9 1890.2 1159 1904.3 1160C1918.4 1161.1 1928.6 1163.8 1942.3 1164.4C1956.1 1165 1972.7 1164.2 1986.8 1163.6C2000.9 1163 2014.2 1161 2026.8 1160.9C2039.4 1160.8 2051.3 1162.3 2062.4 1163.1C2073.5 1163.9 2088.3 1165.3 2093.5 1165.7M1648.9 1501.1C1655.6 1501.2 1675.6 1502 1688.9 1502C1702.3 1502 1715.6 1501.8 1728.9 1501C1742.3 1500.2 1755.4 1498.3 1768.9 1497.2C1782.5 1496 1795.6 1495 1810.5 1494.2C1825.3 1493.3 1842.2 1492.1 1857.9 1491.9C1873.5 1491.7 1890.2 1491.9 1904.3 1493C1918.4 1494.2 1928.6 1497.1 1942.3 1498.8C1956.1 1500.4 1972.7 1502.1 1986.8 1503C2000.9 1503.9 2014.2 1504 2026.8 1504.3C2039.4 1504.5 2051.3 1504.9 2062.4 1504.3C2073.5 1503.8 2088.3 1501.6 2093.5 1501.1M1648.9 1489.3C1655.6 1489.8 1675.6 1491.6 1688.9 1492.4C1702.3 1493.1 1715.6 1493.3 1728.9 1493.9C1742.3 1494.4 1755.4 1494.8 1768.9 1495.6C1782.5 1496.4 1795.6 1497.9 1810.5 1498.6C1825.3 1499.2 1842.2 1499.6 1857.9 1499.6C1873.5 1499.7 1890.2 1499.2 1904.3 1498.9C1918.4 1498.5 1928.6 1498.1 1942.3 1497.4C1956.1 1496.7 1972.7 1495.2 1986.8 1494.6C2000.9 1494 2014.2 1493.9 2026.8 1494C2039.4 1494 2051.3 1495.8 2062.4 1495C2073.5 1494.2 2088.3 1490.3 2093.5 1489.3M1648.9 1482.6C1655.6 1482.5 1675.6 1482.7 1688.9 1482.2C1702.3 1481.7 1715.6 1480.1 1728.9 1479.6C1742.3 1479 1755.4 1478.8 1768.9 1479C1782.5 1479.3 1795.6 1480.6 1810.5 1480.8C1825.3 1481 1842.2 1480.7 1857.9 1480.2C1873.5 1479.8 1890.2 1478.5 1904.3 1478.1C1918.4 1477.7 1928.6 1477.5 1942.3 1477.8C1956.1 1478.1 1972.7 1479 1986.8 1479.9C2000.9 1480.8 2014.2 1482.4 2026.8 1483.1C2039.4 1483.7 2051.3 1484 2062.4 1483.9C2073.5 1483.8 2088.3 1482.8 2093.5 1482.6M1648.9 1471.2C1655.6 1471.4 1675.6 1471.8 1688.9 1472.7C1702.3 1473.5 1715.6 1475.7 1728.9 1476.3C1742.3 1476.8 1755.4 1476.6 1768.9 1476.1C1782.5 1475.5 1795.6 1473.3 1810.5 1473C1825.3 1472.7 1842.2 1474 1857.9 1474.3C1873.5 1474.5 1890.2 1474.8 1904.3 1474.4C1918.4 1474 1928.6 1472.3 1942.3 1472C1956.1 1471.7 1972.7 1472.3 1986.8 1472.3C2000.9 1472.4 2014.2 1472.4 2026.8 1472.1C2039.4 1471.8 2051.3 1470.8 2062.4 1470.6C2073.5 1470.5 2088.3 1471.1 2093.5 1471.2M1648.9 1474.6C1655.6 1474.3 1675.6 1473.9 1688.9 1473C1702.3 1472 1715.6 1469.9 1728.9 1468.8C1742.3 1467.8 1755.4 1466.7 1768.9 1466.4C1782.5 1466.1 1795.6 1467.2 1810.5 1467.1C1825.3 1466.9 1842.2 1466 1857.9 1465.5C1873.5 1465.1 1890.2 1464.4 1904.3 1464.5C1918.4 1464.6 1928.6 1465.4 1942.3 1465.9C1956.1 1466.4 1972.7 1466.8 1986.8 1467.5C2000.9 1468.1 2014.2 1469 2026.8 1469.9C2039.4 1470.7 2051.3 1471.6 2062.4 1472.4C2073.5 1473.2 2088.3 1474.2 2093.5 1474.6M1648.9 1455.4C1655.6 1455.2 1675.6 1454.8 1688.9 1454.2C1702.3 1453.6 1715.6 1452.3 1728.9 1451.7C1742.3 1451.1 1755.4 1451 1768.9 1450.7C1782.5 1450.5 1795.6 1450.2 1810.5 1450.1C1825.3 1450 1842.2 1450.2 1857.9 1450.3C1873.5 1450.3 1890.2 1450.9 1904.3 1450.5C1918.4 1450.1 1928.6 1448.1 1942.3 1447.6C1956.1 1447.2 1972.7 1447.1 1986.8 1448C2000.9 1448.9 2014.2 1452 2026.8 1453.2C2039.4 1454.3 2051.3 1454.3 2062.4 1454.7C2073.5 1455.1 2088.3 1455.2 2093.5 1455.4M1648.9 1455.8C1655.6 1455.1 1675.6 1452.7 1688.9 1451.7C1702.3 1450.7 1715.6 1450.1 1728.9 1449.9C1742.3 1449.7 1755.4 1450.5 1768.9 1450.3C1782.5 1450.2 1795.6 1449.3 1810.5 1448.9C1825.3 1448.4 1842.2 1448.1 1857.9 1447.8C1873.5 1447.5 1890.2 1447.2 1904.3 1447.1C1918.4 1447 1928.6 1446.9 1942.3 1447.2C1956.1 1447.4 1972.7 1448.2 1986.8 1448.7C2000.9 1449.3 2014.2 1450 2026.8 1450.6C2039.4 1451.1 2051.3 1451 2062.4 1451.9C2073.5 1452.7 2088.3 1455.1 2093.5 1455.8M1648.9 1441.9C1655.6 1442.6 1675.6 1445.6 1688.9 1445.9C1702.3 1446.2 1715.6 1445 1728.9 1443.5C1742.3 1442.1 1755.4 1438.9 1768.9 1437.1C1782.5 1435.3 1795.6 1433.6 1810.5 1432.6C1825.3 1431.7 1842.2 1431.4 1857.9 1431.3C1873.5 1431.2 1890.2 1431.4 1904.3 1432.1C1918.4 1432.8 1928.6 1434.1 1942.3 1435.5C1956.1 1437 1972.7 1439.4 1986.8 1440.7C2000.9 1441.9 2014.2 1442.5 2026.8 1443C2039.4 1443.5 2051.3 1443.7 2062.4 1443.6C2073.5 1443.4 2088.3 1442.2 2093.5 1441.9M1648.9 1428.5C1655.6 1428.8 1675.6 1430.3 1688.9 1430.5C1702.3 1430.8 1715.6 1430.7 1728.9 1430C1742.3 1429.3 1755.4 1427.6 1768.9 1426.4C1782.5 1425.3 1795.6 1423.6 1810.5 1423.3C1825.3 1422.9 1842.2 1423.6 1857.9 1424.2C1873.5 1424.7 1890.2 1426 1904.3 1426.6C1918.4 1427.3 1928.6 1427 1942.3 1427.9C1956.1 1428.7 1972.7 1430.8 1986.8 1431.7C2000.9 1432.7 2014.2 1433.5 2026.8 1433.5C2039.4 1433.6 2051.3 1432.8 2062.4 1432C2073.5 1431.1 2088.3 1429 2093.5 1428.5M1648.9 1418.1C1660 1417.1 1693.4 1414.7 1715.6 1412.4C1737.8 1410.2 1760 1406.4 1782.3 1404.4C1804.5 1402.4 1828.6 1401.1 1849 1400.3C1869.3 1399.5 1885.8 1399.4 1904.3 1399.5C1922.8 1399.7 1939.7 1399.4 1960.1 1401.1C1980.5 1402.9 2004.6 1407.2 2026.8 1410C2049 1412.8 2082.4 1416.7 2093.5 1418.1M1648.9 1419.7C1660 1419 1693.4 1417.5 1715.6 1415.7C1737.8 1413.8 1760 1410.3 1782.3 1408.4C1804.5 1406.5 1828.6 1405.2 1849 1404.4C1869.3 1403.6 1885.8 1403.4 1904.3 1403.6C1922.8 1403.7 1939.7 1403.7 1960.1 1405.2C1980.5 1406.7 2004.6 1410 2026.8 1412.4C2049 1414.9 2082.4 1418.5 2093.5 1419.7M1648.9 1420.5C1663.7 1419.8 1708.2 1417.9 1737.8 1416.5C1767.5 1415 1799 1413 1826.7 1411.6C1854.5 1410.3 1878.4 1408.5 1904.3 1408.4C1930.3 1408.3 1958.2 1409.5 1982.3 1410.8C2006.5 1412.2 2030.5 1414.9 2049 1416.5C2067.6 1418.1 2086.1 1419.8 2093.5 1420.5M1648.9 1422.1C1663.7 1421.8 1708.2 1421.6 1737.8 1420.5C1767.5 1419.4 1799 1416.9 1826.7 1415.7C1854.5 1414.5 1878.4 1413.2 1904.3 1413.2C1930.3 1413.2 1958.2 1414.6 1982.3 1415.7C2006.5 1416.7 2030.5 1418.6 2049 1419.7C2067.6 1420.8 2086.1 1421.7 2093.5 1422.1M1648.9 1276.9C1652.6 1276.8 1663.7 1276.9 1671.1 1276.1C1678.5 1275.3 1685.2 1274.1 1693.4 1272.1C1701.5 1270.1 1711.1 1266.6 1720 1264C1728.9 1261.5 1736.3 1258.7 1746.7 1256.8C1757.1 1254.9 1776.4 1253.4 1782.3 1252.8M2093.5 1276.9C2089.8 1276.8 2078.7 1277.1 2071.3 1276.1C2063.9 1275.2 2057.2 1273.6 2049 1271.3C2040.9 1269 2031.3 1265.1 2022.4 1262.4C2013.5 1259.7 2006.1 1257.1 1995.7 1255.2C1985.3 1253.3 1966 1251.8 1960.1 1251.1M1648.9 1477C1656.3 1477.2 1678.5 1477 1693.4 1478.6C1708.2 1480.2 1723 1483.3 1737.8 1486.6C1752.6 1490 1774.9 1496.7 1782.3 1498.7M1648.9 1483.4C1656.3 1483.9 1678.5 1484.5 1693.4 1486.6C1708.2 1488.8 1726.7 1493.6 1737.8 1496.3C1748.9 1499 1756.3 1501.7 1760.1 1502.8M2093.5 1477C2086.1 1477.2 2063.9 1477 2049 1478.6C2034.2 1480.2 2019.4 1483.3 2004.6 1486.6C1989.8 1490 1967.5 1496.7 1960.1 1498.7M2093.5 1483.4C2086.1 1483.9 2063.9 1484.5 2049 1486.6C2034.2 1488.8 2015.7 1493.6 2004.6 1496.3C1993.5 1499 1986.1 1501.7 1982.3 1502.8"/></g><use href="#b1_0" stroke="#a91d38" stroke-width="1.7"/></g>
<g clip-path="url(#cp1)" fill="none"><g stroke="#0b2146" stroke-width="3.6"><path id="b1_1" d="M1648.9 1249.5C1655.6 1250.1 1675.6 1251.5 1688.9 1253.1C1702.3 1254.7 1715.6 1257.7 1728.9 1259C1742.3 1260.3 1755.4 1260.5 1768.9 1261.1C1782.5 1261.7 1795.6 1261.7 1810.5 1262.6C1825.3 1263.6 1842.2 1266 1857.9 1266.7C1873.5 1267.4 1890.2 1267.4 1904.3 1266.9C1918.4 1266.3 1928.6 1264.5 1942.3 1263.5C1956.1 1262.5 1972.7 1262 1986.8 1260.8C2000.9 1259.6 2014.2 1257.5 2026.8 1256.1C2039.4 1254.7 2051.3 1253.4 2062.4 1252.3C2073.5 1251.3 2088.3 1250 2093.5 1249.5M1648.9 1240.1C1655.6 1240.9 1675.6 1242.9 1688.9 1244.8C1702.3 1246.8 1715.6 1249.8 1728.9 1252.1C1742.3 1254.4 1755.4 1257.2 1768.9 1258.7C1782.5 1260.3 1795.6 1261.6 1810.5 1261.5C1825.3 1261.5 1842.2 1259.5 1857.9 1258.6C1873.5 1257.8 1890.2 1256.3 1904.3 1256.5C1918.4 1256.7 1928.6 1259.2 1942.3 1260C1956.1 1260.9 1972.7 1262.3 1986.8 1261.6C2000.9 1261 2014.2 1257.6 2026.8 1256.2C2039.4 1254.7 2051.3 1255.8 2062.4 1253.2C2073.5 1250.5 2088.3 1242.3 2093.5 1240.1M1648.9 1238.2C1655.6 1238.2 1675.6 1236.8 1688.9 1238.1C1702.3 1239.4 1715.6 1243.1 1728.9 1246.2C1742.3 1249.4 1755.4 1254.3 1768.9 1257C1782.5 1259.8 1795.6 1261.9 1810.5 1262.7C1825.3 1263.5 1842.2 1262.4 1857.9 1261.8C1873.5 1261.2 1890.2 1259.5 1904.3 1258.8C1918.4 1258.2 1928.6 1259.2 1942.3 1258C1956.1 1256.7 1972.7 1253.3 1986.8 1251.1C2000.9 1249 2014.2 1246.2 2026.8 1245C2039.4 1243.9 2051.3 1245.2 2062.4 1244.1C2073.5 1243 2088.3 1239.2 2093.5 1238.2M1648.9 1241.1C1655.6 1241.4 1675.6 1241.8 1688.9 1242.9C1702.3 1244 1715.6 1246.4 1728.9 1247.7C1742.3 1248.9 1755.4 1249.1 1768.9 1250.3C1782.5 1251.6 1795.6 1254 1810.5 1255.3C1825.3 1256.6 1842.2 1258.4 1857.9 1258C1873.5 1257.6 1890.2 1254.5 1904.3 1252.8C1918.4 1251.1 1928.6 1249.6 1942.3 1247.9C1956.1 1246.2 1972.7 1243.9 1986.8 1242.5C2000.9 1241 2014.2 1239.9 2026.8 1239.2C2039.4 1238.4 2051.3 1237.7 2062.4 1238.1C2073.5 1238.4 2088.3 1240.6 2093.5 1241.1M1648.9 1236.6C1655.6 1237 1675.6 1237 1688.9 1238.9C1702.3 1240.7 1715.6 1244.6 1728.9 1247.6C1742.3 1250.6 1755.4 1254.3 1768.9 1256.7C1782.5 1259.1 1795.6 1260.3 1810.5 1262.1C1825.3 1263.9 1842.2 1266.7 1857.9 1267.3C1873.5 1267.9 1890.2 1267.5 1904.3 1265.5C1918.4 1263.4 1928.6 1258.4 1942.3 1255.1C1956.1 1251.8 1972.7 1247.8 1986.8 1245.8C2000.9 1243.9 2014.2 1243.8 2026.8 1243.4C2039.4 1243.1 2051.3 1244.8 2062.4 1243.7C2073.5 1242.5 2088.3 1237.8 2093.5 1236.6M1648.9 1252.2C1655.6 1251.6 1675.6 1249.3 1688.9 1248.4C1702.3 1247.6 1715.6 1247.1 1728.9 1247.1C1742.3 1247 1755.4 1248.2 1768.9 1248.2C1782.5 1248.1 1795.6 1247.9 1810.5 1246.9C1825.3 1245.8 1842.2 1242.8 1857.9 1241.9C1873.5 1241 1890.2 1241.4 1904.3 1241.5C1918.4 1241.6 1928.6 1242.1 1942.3 1242.4C1956.1 1242.7 1972.7 1242 1986.8 1243.2C2000.9 1244.4 2014.2 1248.3 2026.8 1249.5C2039.4 1250.7 2051.3 1250.2 2062.4 1250.7C2073.5 1251.2 2088.3 1252 2093.5 1252.2M1648.9 1244.3C1655.6 1243.1 1675.6 1239.3 1688.9 1237.3C1702.3 1235.3 1715.6 1232.1 1728.9 1232.3C1742.3 1232.5 1755.4 1236.1 1768.9 1238.4C1782.5 1240.7 1795.6 1244.7 1810.5 1245.9C1825.3 1247.1 1842.2 1245.8 1857.9 1245.7C1873.5 1245.6 1890.2 1244.6 1904.3 1245C1918.4 1245.4 1928.6 1247.9 1942.3 1248.2C1956.1 1248.6 1972.7 1248.6 1986.8 1247.3C2000.9 1245.9 2014.2 1242.2 2026.8 1240.1C2039.4 1238 2051.3 1234 2062.4 1234.7C2073.5 1235.4 2088.3 1242.7 2093.5 1244.3M1648.9 1235.8C1655.6 1236.3 1675.6 1238.2 1688.9 1238.8C1702.3 1239.5 1715.6 1239.3 1728.9 1239.5C1742.3 1239.7 1755.4 1239.8 1768.9 1239.9C1782.5 1240 1795.6 1240.9 1810.5 1240.1C1825.3 1239.3 1842.2 1236.3 1857.9 1235.2C1873.5 1234.1 1890.2 1233.2 1904.3 1233.6C1918.4 1234 1928.6 1236.9 1942.3 1237.6C1956.1 1238.4 1972.7 1237.9 1986.8 1238.1C2000.9 1238.3 2014.2 1237.9 2026.8 1238.9C2039.4 1239.9 2051.3 1244.7 2062.4 1244.2C2073.5 1243.7 2088.3 1237.2 2093.5 1235.8M1648.9 1232.3C1655.6 1232.5 1675.6 1233.7 1688.9 1233.6C1702.3 1233.6 1715.6 1232.6 1728.9 1232.2C1742.3 1231.7 1755.4 1230.9 1768.9 1230.9C1782.5 1231 1795.6 1232.2 1810.5 1232.6C1825.3 1233.1 1842.2 1233 1857.9 1233.4C1873.5 1233.8 1890.2 1234.5 1904.3 1235C1918.4 1235.5 1928.6 1236.1 1942.3 1236.3C1956.1 1236.5 1972.7 1236.1 1986.8 1236.3C2000.9 1236.5 2014.2 1237.4 2026.8 1237.7C2039.4 1238 2051.3 1239 2062.4 1238.1C2073.5 1237.2 2088.3 1233.2 2093.5 1232.3M1648.9 1236C1655.6 1235.8 1675.6 1234.8 1688.9 1234.5C1702.3 1234.2 1715.6 1234.8 1728.9 1234.4C1742.3 1234 1755.4 1232.8 1768.9 1232.1C1782.5 1231.4 1795.6 1230.3 1810.5 1230.3C1825.3 1230.3 1842.2 1231.3 1857.9 1232.3C1873.5 1233.3 1890.2 1235.2 1904.3 1236.5C1918.4 1237.8 1928.6 1239.4 1942.3 1240C1956.1 1240.7 1972.7 1240.5 1986.8 1240.3C2000.9 1240.1 2014.2 1238.9 2026.8 1238.7C2039.4 1238.5 2051.3 1239.8 2062.4 1239.3C2073.5 1238.9 2088.3 1236.6 2093.5 1236M1648.9 1230.6C1655.6 1231.5 1675.6 1235.6 1688.9 1235.9C1702.3 1236.3 1715.6 1234.4 1728.9 1232.8C1742.3 1231.2 1755.4 1227.6 1768.9 1226.5C1782.5 1225.3 1795.6 1226 1810.5 1225.7C1825.3 1225.4 1842.2 1225.1 1857.9 1224.6C1873.5 1224 1890.2 1222.2 1904.3 1222.2C1918.4 1222.3 1928.6 1223.9 1942.3 1224.7C1956.1 1225.6 1972.7 1226.7 1986.8 1227.3C2000.9 1227.9 2014.2 1227.6 2026.8 1228.3C2039.4 1229.1 2051.3 1231.3 2062.4 1231.6C2073.5 1232 2088.3 1230.8 2093.5 1230.6M1648.9 1224.6C1655.6 1223.7 1675.6 1220.1 1688.9 1219.1C1702.3 1218.2 1715.6 1218.1 1728.9 1219C1742.3 1219.8 1755.4 1222.2 1768.9 1224C1782.5 1225.9 1795.6 1228.6 1810.5 1230.1C1825.3 1231.5 1842.2 1233 1857.9 1232.9C1873.5 1232.7 1890.2 1231 1904.3 1229.2C1918.4 1227.4 1928.6 1223.6 1942.3 1221.9C1956.1 1220.3 1972.7 1219.4 1986.8 1219.3C2000.9 1219.2 2014.2 1221.8 2026.8 1221.6C2039.4 1221.4 2051.3 1217.7 2062.4 1218.2C2073.5 1218.7 2088.3 1223.6 2093.5 1224.6M1648.9 1216.3C1655.6 1216.5 1675.6 1216.9 1688.9 1217.4C1702.3 1217.9 1715.6 1218.6 1728.9 1219.5C1742.3 1220.4 1755.4 1221.5 1768.9 1222.7C1782.5 1223.9 1795.6 1224.9 1810.5 1226.7C1825.3 1228.5 1842.2 1231.7 1857.9 1233.4C1873.5 1235.1 1890.2 1237 1904.3 1236.7C1918.4 1236.3 1928.6 1233.8 1942.3 1231.3C1956.1 1228.9 1972.7 1224.7 1986.8 1222.1C2000.9 1219.5 2014.2 1217.7 2026.8 1215.8C2039.4 1213.8 2051.3 1210.4 2062.4 1210.5C2073.5 1210.6 2088.3 1215.4 2093.5 1216.3M1648.9 1210.7C1655.6 1210.8 1675.6 1210.5 1688.9 1211C1702.3 1211.5 1715.6 1212.4 1728.9 1213.9C1742.3 1215.5 1755.4 1218.2 1768.9 1220.3C1782.5 1222.4 1795.6 1224.7 1810.5 1226.6C1825.3 1228.5 1842.2 1230.9 1857.9 1231.7C1873.5 1232.4 1890.2 1232 1904.3 1231.2C1918.4 1230.4 1928.6 1228.4 1942.3 1226.9C1956.1 1225.3 1972.7 1224.1 1986.8 1221.8C2000.9 1219.6 2014.2 1215.8 2026.8 1213.4C2039.4 1211 2051.3 1208.1 2062.4 1207.7C2073.5 1207.2 2088.3 1210.2 2093.5 1210.7M1648.9 1223.9C1655.6 1223.3 1675.6 1220.7 1688.9 1219.9C1702.3 1219.1 1715.6 1219.5 1728.9 1219.3C1742.3 1219.1 1755.4 1219.2 1768.9 1218.8C1782.5 1218.5 1795.6 1217.9 1810.5 1217.2C1825.3 1216.5 1842.2 1215.3 1857.9 1214.7C1873.5 1214.1 1890.2 1213.3 1904.3 1213.6C1918.4 1213.9 1928.6 1215.4 1942.3 1216.4C1956.1 1217.5 1972.7 1219.3 1986.8 1220C2000.9 1220.7 2014.2 1221 2026.8 1220.9C2039.4 1220.7 2051.3 1218.7 2062.4 1219.2C2073.5 1219.7 2088.3 1223.2 2093.5 1223.9M1648.9 1221.1C1655.6 1219.9 1675.6 1215.2 1688.9 1213.8C1702.3 1212.5 1715.6 1212.7 1728.9 1213C1742.3 1213.4 1755.4 1215.1 1768.9 1215.9C1782.5 1216.7 1795.6 1216.9 1810.5 1217.9C1825.3 1218.9 1842.2 1220.8 1857.9 1221.8C1873.5 1222.8 1890.2 1223.3 1904.3 1224C1918.4 1224.7 1928.6 1226.5 1942.3 1226C1956.1 1225.5 1972.7 1223.7 1986.8 1220.8C2000.9 1218 2014.2 1211.6 2026.8 1209.2C2039.4 1206.7 2051.3 1204.2 2062.4 1206.2C2073.5 1208.2 2088.3 1218.6 2093.5 1221.1M1648.9 1215.9C1655.6 1214.8 1675.6 1211.1 1688.9 1209.7C1702.3 1208.4 1715.6 1207.6 1728.9 1207.6C1742.3 1207.6 1755.4 1209.2 1768.9 1209.9C1782.5 1210.7 1795.6 1211.4 1810.5 1212C1825.3 1212.7 1842.2 1213.6 1857.9 1213.7C1873.5 1213.9 1890.2 1213.7 1904.3 1213.2C1918.4 1212.7 1928.6 1211.1 1942.3 1211C1956.1 1210.9 1972.7 1212.4 1986.8 1212.5C2000.9 1212.7 2014.2 1212.5 2026.8 1211.9C2039.4 1211.3 2051.3 1208.4 2062.4 1209C2073.5 1209.7 2088.3 1214.7 2093.5 1215.9M1648.9 1213.7C1655.6 1214.1 1675.6 1215.9 1688.9 1216.1C1702.3 1216.3 1715.6 1216.4 1728.9 1215.1C1742.3 1213.7 1755.4 1208.6 1768.9 1207.9C1782.5 1207.2 1795.6 1209.6 1810.5 1210.8C1825.3 1212 1842.2 1214.3 1857.9 1215.1C1873.5 1215.9 1890.2 1215.4 1904.3 1215.5C1918.4 1215.6 1928.6 1216.8 1942.3 1215.7C1956.1 1214.6 1972.7 1210.7 1986.8 1209.1C2000.9 1207.6 2014.2 1206.3 2026.8 1206.3C2039.4 1206.3 2051.3 1208.1 2062.4 1209.3C2073.5 1210.5 2088.3 1213 2093.5 1213.7M1648.9 1209.2C1655.6 1209 1675.6 1208 1688.9 1207.5C1702.3 1207 1715.6 1206.9 1728.9 1206.4C1742.3 1205.9 1755.4 1205.1 1768.9 1204.6C1782.5 1204.2 1795.6 1203.1 1810.5 1203.9C1825.3 1204.8 1842.2 1207.9 1857.9 1209.6C1873.5 1211.4 1890.2 1213.4 1904.3 1214.3C1918.4 1215.2 1928.6 1214.3 1942.3 1215.1C1956.1 1216 1972.7 1218.5 1986.8 1219.3C2000.9 1220.2 2014.2 1220.3 2026.8 1220.2C2039.4 1220.2 2051.3 1220.6 2062.4 1218.8C2073.5 1217 2088.3 1210.8 2093.5 1209.2M1648.9 1200.7C1655.6 1200.7 1675.6 1200.8 1688.9 1201C1702.3 1201.1 1715.6 1200.9 1728.9 1201.6C1742.3 1202.3 1755.4 1204 1768.9 1205.1C1782.5 1206.2 1795.6 1207.3 1810.5 1208.1C1825.3 1208.9 1842.2 1209.4 1857.9 1209.8C1873.5 1210.3 1890.2 1211.6 1904.3 1210.7C1918.4 1209.8 1928.6 1206.9 1942.3 1204.4C1956.1 1202 1972.7 1197.1 1986.8 1196C2000.9 1194.9 2014.2 1196.7 2026.8 1197.7C2039.4 1198.6 2051.3 1201.2 2062.4 1201.7C2073.5 1202.2 2088.3 1200.8 2093.5 1200.7M1648.9 1193.7C1655.6 1193.6 1675.6 1192.1 1688.9 1193C1702.3 1193.9 1715.6 1197.2 1728.9 1199.2C1742.3 1201.2 1755.4 1203.3 1768.9 1204.9C1782.5 1206.5 1795.6 1207.8 1810.5 1208.8C1825.3 1209.7 1842.2 1210.9 1857.9 1210.7C1873.5 1210.4 1890.2 1208.6 1904.3 1207.4C1918.4 1206.3 1928.6 1205.1 1942.3 1203.8C1956.1 1202.4 1972.7 1200.7 1986.8 1199.4C2000.9 1198.1 2014.2 1196.7 2026.8 1196.1C2039.4 1195.6 2051.3 1196.5 2062.4 1196.1C2073.5 1195.7 2088.3 1194.1 2093.5 1193.7M1648.9 1182.8C1655.6 1183.8 1675.6 1187.2 1688.9 1189.2C1702.3 1191.2 1715.6 1193.6 1728.9 1194.8C1742.3 1196 1755.4 1196 1768.9 1196.4C1782.5 1196.8 1795.6 1195.9 1810.5 1197.1C1825.3 1198.2 1842.2 1201.6 1857.9 1203.2C1873.5 1204.8 1890.2 1207.1 1904.3 1206.7C1918.4 1206.3 1928.6 1202.9 1942.3 1201C1956.1 1199.1 1972.7 1196.8 1986.8 1195.1C2000.9 1193.5 2014.2 1191.8 2026.8 1191.1C2039.4 1190.5 2051.3 1192.6 2062.4 1191.3C2073.5 1189.9 2088.3 1184.2 2093.5 1182.8M1648.9 1194.9C1655.6 1195.1 1675.6 1196.9 1688.9 1196.5C1702.3 1196 1715.6 1193 1728.9 1192.1C1742.3 1191.1 1755.4 1190.4 1768.9 1190.5C1782.5 1190.7 1795.6 1193.1 1810.5 1193.2C1825.3 1193.3 1842.2 1191.9 1857.9 1191.2C1873.5 1190.4 1890.2 1188.8 1904.3 1188.4C1918.4 1188.1 1928.6 1189 1942.3 1189.3C1956.1 1189.5 1972.7 1189.7 1986.8 1190.2C2000.9 1190.7 2014.2 1191.2 2026.8 1192.3C2039.4 1193.5 2051.3 1196.7 2062.4 1197.1C2073.5 1197.5 2088.3 1195.2 2093.5 1194.9M1648.9 1199.1C1655.6 1199 1675.6 1197.7 1688.9 1198.2C1702.3 1198.8 1715.6 1202.7 1728.9 1202.4C1742.3 1202.2 1755.4 1199 1768.9 1196.7C1782.5 1194.4 1795.6 1189.8 1810.5 1188.6C1825.3 1187.5 1842.2 1189.7 1857.9 1190C1873.5 1190.4 1890.2 1191.2 1904.3 1190.9C1918.4 1190.6 1928.6 1188.5 1942.3 1188.2C1956.1 1188 1972.7 1188.3 1986.8 1189.5C2000.9 1190.7 2014.2 1193.9 2026.8 1195.4C2039.4 1196.8 2051.3 1197.5 2062.4 1198.1C2073.5 1198.7 2088.3 1199 2093.5 1199.1M1648.9 1194.7C1655.6 1194.5 1675.6 1193.6 1688.9 1193.6C1702.3 1193.6 1715.6 1194.6 1728.9 1194.7C1742.3 1194.7 1755.4 1194.8 1768.9 1193.9C1782.5 1193 1795.6 1191 1810.5 1189.4C1825.3 1187.8 1842.2 1185.2 1857.9 1184.1C1873.5 1183 1890.2 1182.3 1904.3 1182.7C1918.4 1183.2 1928.6 1185.7 1942.3 1186.8C1956.1 1187.9 1972.7 1189 1986.8 1189.2C2000.9 1189.5 2014.2 1188.6 2026.8 1188.1C2039.4 1187.7 2051.3 1185.5 2062.4 1186.6C2073.5 1187.7 2088.3 1193.3 2093.5 1194.7M1648.9 1175.3C1655.6 1175.7 1675.6 1176.4 1688.9 1177.5C1702.3 1178.5 1715.6 1180 1728.9 1181.6C1742.3 1183.2 1755.4 1185 1768.9 1187C1782.5 1188.9 1795.6 1191.6 1810.5 1193.3C1825.3 1195 1842.2 1196.7 1857.9 1197.2C1873.5 1197.7 1890.2 1196.8 1904.3 1196.2C1918.4 1195.6 1928.6 1194.7 1942.3 1193.5C1956.1 1192.3 1972.7 1190.3 1986.8 1188.9C2000.9 1187.5 2014.2 1186.2 2026.8 1185C2039.4 1183.8 2051.3 1183.3 2062.4 1181.7C2073.5 1180.1 2088.3 1176.4 2093.5 1175.3M1648.9 1176.2C1655.6 1176.9 1675.6 1178.3 1688.9 1180.2C1702.3 1182.2 1715.6 1186.4 1728.9 1188.1C1742.3 1189.8 1755.4 1190.8 1768.9 1190.5C1782.5 1190.2 1795.6 1187.4 1810.5 1186.3C1825.3 1185.3 1842.2 1184.8 1857.9 1184.3C1873.5 1183.8 1890.2 1183.7 1904.3 1183.4C1918.4 1183.2 1928.6 1182.8 1942.3 1182.9C1956.1 1183 1972.7 1184.3 1986.8 1184.1C2000.9 1183.9 2014.2 1182.2 2026.8 1181.5C2039.4 1180.8 2051.3 1180.8 2062.4 1179.9C2073.5 1179 2088.3 1176.8 2093.5 1176.2M1648.9 1181.9C1655.6 1182.4 1675.6 1184.6 1688.9 1184.9C1702.3 1185.2 1715.6 1184.5 1728.9 1183.5C1742.3 1182.4 1755.4 1180 1768.9 1178.8C1782.5 1177.6 1795.6 1177 1810.5 1176.3C1825.3 1175.6 1842.2 1175.1 1857.9 1174.4C1873.5 1173.8 1890.2 1172 1904.3 1172.4C1918.4 1172.7 1928.6 1174.6 1942.3 1176.5C1956.1 1178.4 1972.7 1182.3 1986.8 1183.8C2000.9 1185.3 2014.2 1185.6 2026.8 1185.6C2039.4 1185.6 2051.3 1184.2 2062.4 1183.6C2073.5 1183 2088.3 1182.2 2093.5 1181.9M1648.9 1178.8C1655.6 1179 1675.6 1179.8 1688.9 1179.8C1702.3 1179.7 1715.6 1178.9 1728.9 1178.3C1742.3 1177.8 1755.4 1176.1 1768.9 1176.4C1782.5 1176.7 1795.6 1179.1 1810.5 1180.2C1825.3 1181.3 1842.2 1183 1857.9 1182.8C1873.5 1182.7 1890.2 1180.2 1904.3 1179.3C1918.4 1178.4 1928.6 1177.5 1942.3 1177.5C1956.1 1177.6 1972.7 1179.5 1986.8 1179.8C2000.9 1180.2 2014.2 1180.4 2026.8 1179.4C2039.4 1178.5 2051.3 1174.3 2062.4 1174.2C2073.5 1174.1 2088.3 1178.1 2093.5 1178.8M1648.9 1167.6C1655.6 1169.1 1675.6 1174.8 1688.9 1176.7C1702.3 1178.7 1715.6 1179.7 1728.9 1179.4C1742.3 1179 1755.4 1175.9 1768.9 1174.6C1782.5 1173.4 1795.6 1172 1810.5 1171.8C1825.3 1171.7 1842.2 1172.9 1857.9 1173.5C1873.5 1174 1890.2 1175.4 1904.3 1175.1C1918.4 1174.7 1928.6 1171.9 1942.3 1171.2C1956.1 1170.5 1972.7 1170.2 1986.8 1171C2000.9 1171.8 2014.2 1175.1 2026.8 1176C2039.4 1176.9 2051.3 1177.8 2062.4 1176.4C2073.5 1175 2088.3 1169.1 2093.5 1167.6M1648.9 1173.6C1655.6 1173.7 1675.6 1173.4 1688.9 1174C1702.3 1174.7 1715.6 1176.6 1728.9 1177.6C1742.3 1178.5 1755.4 1179.4 1768.9 1179.9C1782.5 1180.3 1795.6 1180.5 1810.5 1180.2C1825.3 1180 1842.2 1179.1 1857.9 1178.4C1873.5 1177.7 1890.2 1176.8 1904.3 1176.2C1918.4 1175.6 1928.6 1174.7 1942.3 1174.6C1956.1 1174.5 1972.7 1175.2 1986.8 1175.7C2000.9 1176.3 2014.2 1178.3 2026.8 1178.1C2039.4 1178 2051.3 1175.7 2062.4 1174.9C2073.5 1174.2 2088.3 1173.8 2093.5 1173.6M1648.9 1178.8C1655.6 1178.3 1675.6 1176.1 1688.9 1175.5C1702.3 1174.9 1715.6 1175.4 1728.9 1175.1C1742.3 1174.8 1755.4 1174.8 1768.9 1173.7C1782.5 1172.7 1795.6 1169.9 1810.5 1169C1825.3 1168.1 1842.2 1168.1 1857.9 1168.5C1873.5 1168.8 1890.2 1170.8 1904.3 1171C1918.4 1171.2 1928.6 1170.7 1942.3 1169.6C1956.1 1168.6 1972.7 1165.8 1986.8 1164.8C2000.9 1163.7 2014.2 1163.3 2026.8 1163.4C2039.4 1163.6 2051.3 1163.2 2062.4 1165.8C2073.5 1168.3 2088.3 1176.7 2093.5 1178.8M1648.9 1169.4C1655.6 1169.7 1675.6 1171.5 1688.9 1171.4C1702.3 1171.3 1715.6 1169.5 1728.9 1168.6C1742.3 1167.7 1755.4 1165.8 1768.9 1165.9C1782.5 1165.9 1795.6 1167.9 1810.5 1168.9C1825.3 1169.9 1842.2 1171.4 1857.9 1171.9C1873.5 1172.3 1890.2 1171.4 1904.3 1171.5C1918.4 1171.7 1928.6 1173.3 1942.3 1173C1956.1 1172.8 1972.7 1171.6 1986.8 1170.1C2000.9 1168.5 2014.2 1164.4 2026.8 1163.9C2039.4 1163.4 2051.3 1166.2 2062.4 1167.1C2073.5 1168 2088.3 1169 2093.5 1169.4M1648.9 1165.7C1655.6 1166.4 1675.6 1169.4 1688.9 1169.8C1702.3 1170.1 1715.6 1168.9 1728.9 1168C1742.3 1167 1755.4 1164.1 1768.9 1164.3C1782.5 1164.4 1795.6 1167.6 1810.5 1168.7C1825.3 1169.9 1842.2 1171.2 1857.9 1171.2C1873.5 1171.2 1890.2 1169.6 1904.3 1168.7C1918.4 1167.9 1928.6 1167.1 1942.3 1166C1956.1 1165 1972.7 1162.6 1986.8 1162.3C2000.9 1162 2014.2 1163.7 2026.8 1164.4C2039.4 1165 2051.3 1166.1 2062.4 1166.3C2073.5 1166.5 2088.3 1165.8 2093.5 1165.7M1648.9 1276.1C1652.6 1276 1663.7 1276.1 1671.1 1275.3C1678.5 1274.5 1685.2 1273.3 1693.4 1271.3C1701.5 1269.3 1711.1 1265.8 1720 1263.2C1728.9 1260.7 1736.3 1258 1746.7 1256C1757.1 1254 1768.9 1253 1782.3 1251.1C1795.6 1249.3 1819.3 1245.8 1826.7 1244.7M2093.5 1276.1C2089.8 1276 2078.7 1276.3 2071.3 1275.3C2063.9 1274.4 2057.2 1272.8 2049 1270.5C2040.9 1268.2 2031.3 1264.3 2022.4 1261.6C2013.5 1258.9 2006.1 1256.4 1995.7 1254.4C1985.3 1252.3 1973.5 1251.1 1960.1 1249.5C1946.8 1247.9 1923.1 1245.5 1915.7 1244.7M1648.9 1252.8C1656.3 1253.2 1678.5 1253.8 1693.4 1255.2C1708.2 1256.5 1723 1259.1 1737.8 1260.8C1752.6 1262.6 1767.5 1264.6 1782.3 1265.7C1797.1 1266.7 1811.9 1266.9 1826.7 1267.3C1841.6 1267.7 1858.3 1267.8 1871.2 1268.1C1884.1 1268.3 1889.5 1269 1904.3 1268.9C1919.1 1268.7 1943.4 1268.3 1960.1 1267.3C1976.8 1266.2 1989.8 1264.3 2004.6 1262.4C2019.4 1260.5 2034.2 1257.6 2049 1256C2063.9 1254.4 2086.1 1253.3 2093.5 1252.8M1648.9 1248.7C1656.3 1249.4 1678.5 1251.1 1693.4 1252.8C1708.2 1254.4 1723 1256.8 1737.8 1258.4C1752.6 1260 1767.5 1261.6 1782.3 1262.4C1797.1 1263.2 1806.4 1263.2 1826.7 1263.2C1847.1 1263.2 1882.1 1262.4 1904.3 1262.4C1926.6 1262.4 1943.4 1263.8 1960.1 1263.2C1976.8 1262.7 1989.8 1260.9 2004.6 1259.2C2019.4 1257.5 2034.2 1254.5 2049 1252.8C2063.9 1251 2086.1 1249.4 2093.5 1248.7M1737.8 1244.7C1745.2 1246.3 1770.2 1252.2 1782.3 1254.4C1794.4 1256.5 1799.4 1257.6 1810.5 1257.6C1821.6 1257.6 1837.4 1256 1849 1254.4C1860.6 1252.7 1870.9 1249.5 1880.1 1247.9C1889.3 1246.3 1900.3 1245.2 1904.3 1244.7M1648.9 1507.2C1655.6 1506.4 1675.6 1504.2 1688.9 1502.8C1702.3 1501.4 1715.6 1499.6 1728.9 1498.5C1742.3 1497.5 1755.4 1496.6 1768.9 1496.4C1782.5 1496.1 1795.6 1496.5 1810.5 1496.9C1825.3 1497.2 1842.2 1498.2 1857.9 1498.5C1873.5 1498.8 1890.2 1498.5 1904.3 1498.7C1918.4 1499 1928.6 1499.3 1942.3 1500C1956.1 1500.8 1972.7 1502.4 1986.8 1502.9C2000.9 1503.5 2014.2 1503.1 2026.8 1503.1C2039.4 1503.1 2051.3 1502.3 2062.4 1503C2073.5 1503.7 2088.3 1506.5 2093.5 1507.2M1648.9 1504.7C1655.6 1504.6 1675.6 1504.6 1688.9 1504C1702.3 1503.5 1715.6 1501.8 1728.9 1501.6C1742.3 1501.3 1755.4 1501.9 1768.9 1502.6C1782.5 1503.3 1795.6 1505.3 1810.5 1505.7C1825.3 1506 1842.2 1505.1 1857.9 1504.6C1873.5 1504.2 1890.2 1503.5 1904.3 1503.2C1918.4 1502.8 1928.6 1503.1 1942.3 1502.6C1956.1 1502 1972.7 1500.7 1986.8 1500.1C2000.9 1499.4 2014.2 1498.9 2026.8 1498.5C2039.4 1498.1 2051.3 1496.7 2062.4 1497.8C2073.5 1498.8 2088.3 1503.5 2093.5 1504.7M1648.9 1498.5C1655.6 1498.4 1675.6 1498 1688.9 1497.8C1702.3 1497.6 1715.6 1497.6 1728.9 1497.3C1742.3 1497 1755.4 1496.2 1768.9 1496.1C1782.5 1496 1795.6 1496 1810.5 1496.7C1825.3 1497.3 1842.2 1499.1 1857.9 1500C1873.5 1500.9 1890.2 1501.8 1904.3 1502C1918.4 1502.2 1928.6 1501.4 1942.3 1501.1C1956.1 1500.8 1972.7 1500.9 1986.8 1500.3C2000.9 1499.7 2014.2 1498 2026.8 1497.5C2039.4 1496.9 2051.3 1496.8 2062.4 1497C2073.5 1497.2 2088.3 1498.2 2093.5 1498.5M1648.9 1494.8C1655.6 1495.2 1675.6 1497 1688.9 1497.3C1702.3 1497.6 1715.6 1497.4 1728.9 1496.5C1742.3 1495.6 1755.4 1493.2 1768.9 1492C1782.5 1490.9 1795.6 1489.4 1810.5 1489.5C1825.3 1489.6 1842.2 1491.9 1857.9 1492.7C1873.5 1493.5 1890.2 1494.3 1904.3 1494.5C1918.4 1494.6 1928.6 1493.4 1942.3 1493.8C1956.1 1494.1 1972.7 1496.1 1986.8 1496.6C2000.9 1497 2014.2 1496.8 2026.8 1496.6C2039.4 1496.3 2051.3 1495.1 2062.4 1494.8C2073.5 1494.5 2088.3 1494.8 2093.5 1494.8M1648.9 1492C1655.6 1491.7 1675.6 1489.8 1688.9 1489.9C1702.3 1489.9 1715.6 1491.1 1728.9 1492.5C1742.3 1494 1755.4 1497.3 1768.9 1498.8C1782.5 1500.3 1795.6 1501.1 1810.5 1501.5C1825.3 1501.8 1842.2 1501.4 1857.9 1500.8C1873.5 1500.2 1890.2 1498.7 1904.3 1497.8C1918.4 1496.9 1928.6 1496.3 1942.3 1495.2C1956.1 1494.1 1972.7 1492.2 1986.8 1491C2000.9 1489.8 2014.2 1488.2 2026.8 1488.1C2039.4 1488 2051.3 1489.8 2062.4 1490.5C2073.5 1491.1 2088.3 1491.8 2093.5 1492M1648.9 1493.8C1655.6 1493.5 1675.6 1492.9 1688.9 1492.5C1702.3 1492.1 1715.6 1491.9 1728.9 1491.5C1742.3 1491.1 1755.4 1490.2 1768.9 1490.1C1782.5 1490 1795.6 1490.3 1810.5 1490.9C1825.3 1491.5 1842.2 1493.3 1857.9 1493.6C1873.5 1493.9 1890.2 1493.1 1904.3 1492.8C1918.4 1492.5 1928.6 1492.2 1942.3 1491.7C1956.1 1491.3 1972.7 1491 1986.8 1490.1C2000.9 1489.3 2014.2 1487.3 2026.8 1486.7C2039.4 1486.1 2051.3 1485.4 2062.4 1486.6C2073.5 1487.8 2088.3 1492.6 2093.5 1493.8M1648.9 1490.1C1655.6 1489.9 1675.6 1489.3 1688.9 1488.6C1702.3 1487.8 1715.6 1485.9 1728.9 1485.5C1742.3 1485.1 1755.4 1485.1 1768.9 1485.9C1782.5 1486.7 1795.6 1489.8 1810.5 1490.2C1825.3 1490.5 1842.2 1488.9 1857.9 1487.8C1873.5 1486.7 1890.2 1484 1904.3 1483.3C1918.4 1482.7 1928.6 1483.8 1942.3 1483.7C1956.1 1483.6 1972.7 1483.1 1986.8 1482.7C2000.9 1482.4 2014.2 1481.6 2026.8 1481.7C2039.4 1481.7 2051.3 1481.8 2062.4 1483.2C2073.5 1484.6 2088.3 1489 2093.5 1490.1M1648.9 1484.3C1655.6 1484.3 1675.6 1484.3 1688.9 1484.3C1702.3 1484.3 1715.6 1484.4 1728.9 1484.4C1742.3 1484.4 1755.4 1483.8 1768.9 1484.2C1782.5 1484.7 1795.6 1486.3 1810.5 1487.2C1825.3 1488.2 1842.2 1489.8 1857.9 1490.1C1873.5 1490.5 1890.2 1489.6 1904.3 1489.4C1918.4 1489.2 1928.6 1489.4 1942.3 1489.1C1956.1 1488.8 1972.7 1488.7 1986.8 1487.6C2000.9 1486.4 2014.2 1483.4 2026.8 1482.1C2039.4 1480.8 2051.3 1479.2 2062.4 1479.6C2073.5 1480 2088.3 1483.6 2093.5 1484.3M1648.9 1486.7C1655.6 1486 1675.6 1483.6 1688.9 1482.6C1702.3 1481.6 1715.6 1481.2 1728.9 1481C1742.3 1480.8 1755.4 1480.8 1768.9 1481.2C1782.5 1481.6 1795.6 1482.9 1810.5 1483.1C1825.3 1483.3 1842.2 1482.9 1857.9 1482.4C1873.5 1481.9 1890.2 1480.3 1904.3 1480.2C1918.4 1480.1 1928.6 1481.7 1942.3 1482C1956.1 1482.3 1972.7 1482 1986.8 1481.8C2000.9 1481.6 2014.2 1480.7 2026.8 1480.7C2039.4 1480.7 2051.3 1480.8 2062.4 1481.8C2073.5 1482.8 2088.3 1485.9 2093.5 1486.7M1648.9 1486.6C1655.6 1486.2 1675.6 1484.5 1688.9 1484C1702.3 1483.5 1715.6 1484 1728.9 1483.6C1742.3 1483.2 1755.4 1483.1 1768.9 1481.7C1782.5 1480.3 1795.6 1476.7 1810.5 1475.3C1825.3 1473.8 1842.2 1473.1 1857.9 1473C1873.5 1472.9 1890.2 1474.2 1904.3 1474.7C1918.4 1475.3 1928.6 1474.9 1942.3 1476.2C1956.1 1477.6 1972.7 1480.9 1986.8 1482.9C2000.9 1484.9 2014.2 1487.6 2026.8 1488.1C2039.4 1488.7 2051.3 1486.6 2062.4 1486.3C2073.5 1486.1 2088.3 1486.6 2093.5 1486.6M1648.9 1478.4C1655.6 1478.6 1675.6 1479.4 1688.9 1479.8C1702.3 1480.2 1715.6 1480.8 1728.9 1481.1C1742.3 1481.4 1755.4 1482.1 1768.9 1481.6C1782.5 1481.2 1795.6 1479.9 1810.5 1478.5C1825.3 1477.1 1842.2 1474.1 1857.9 1473.3C1873.5 1472.5 1890.2 1473.3 1904.3 1473.9C1918.4 1474.5 1928.6 1476.1 1942.3 1476.9C1956.1 1477.6 1972.7 1478 1986.8 1478.5C2000.9 1478.9 2014.2 1479.2 2026.8 1479.4C2039.4 1479.7 2051.3 1480.3 2062.4 1480.1C2073.5 1480 2088.3 1478.7 2093.5 1478.4M1648.9 1474C1655.6 1473.8 1675.6 1472.2 1688.9 1472.5C1702.3 1472.8 1715.6 1475.1 1728.9 1476C1742.3 1477 1755.4 1478 1768.9 1478.2C1782.5 1478.5 1795.6 1477.4 1810.5 1477.5C1825.3 1477.7 1842.2 1479 1857.9 1479.1C1873.5 1479.1 1890.2 1478.8 1904.3 1477.8C1918.4 1476.7 1928.6 1474 1942.3 1472.7C1956.1 1471.4 1972.7 1470.2 1986.8 1470C2000.9 1469.8 2014.2 1470.6 2026.8 1471.6C2039.4 1472.7 2051.3 1475.9 2062.4 1476.3C2073.5 1476.7 2088.3 1474.4 2093.5 1474M1648.9 1470C1655.6 1470.1 1675.6 1470.5 1688.9 1470.7C1702.3 1470.9 1715.6 1471 1728.9 1471.1C1742.3 1471.3 1755.4 1470.9 1768.9 1471.4C1782.5 1471.8 1795.6 1473.1 1810.5 1474.1C1825.3 1475 1842.2 1476.8 1857.9 1477.1C1873.5 1477.4 1890.2 1476.9 1904.3 1476.1C1918.4 1475.2 1928.6 1472.7 1942.3 1472C1956.1 1471.4 1972.7 1471.5 1986.8 1472C2000.9 1472.5 2014.2 1474.6 2026.8 1474.8C2039.4 1475 2051.3 1474.1 2062.4 1473.3C2073.5 1472.5 2088.3 1470.5 2093.5 1470M1648.9 1476.2C1655.6 1475.9 1675.6 1475.1 1688.9 1474.5C1702.3 1473.8 1715.6 1472.9 1728.9 1472.1C1742.3 1471.3 1755.4 1469.9 1768.9 1469.8C1782.5 1469.7 1795.6 1470.5 1810.5 1471.3C1825.3 1472.2 1842.2 1474.4 1857.9 1474.6C1873.5 1474.9 1890.2 1473.8 1904.3 1472.8C1918.4 1471.8 1928.6 1469.2 1942.3 1468.6C1956.1 1468 1972.7 1468.8 1986.8 1469.1C2000.9 1469.4 2014.2 1470.2 2026.8 1470.4C2039.4 1470.6 2051.3 1469.4 2062.4 1470.3C2073.5 1471.3 2088.3 1475.2 2093.5 1476.2M1648.9 1466.6C1655.6 1466.5 1675.6 1465.2 1688.9 1465.6C1702.3 1465.9 1715.6 1468 1728.9 1468.7C1742.3 1469.5 1755.4 1470.2 1768.9 1470.1C1782.5 1470.1 1795.6 1468.5 1810.5 1468.4C1825.3 1468.3 1842.2 1469.3 1857.9 1469.6C1873.5 1470 1890.2 1470.8 1904.3 1470.6C1918.4 1470.4 1928.6 1469.1 1942.3 1468.6C1956.1 1468.1 1972.7 1467.7 1986.8 1467.4C2000.9 1467.1 2014.2 1466.9 2026.8 1466.9C2039.4 1466.8 2051.3 1466.9 2062.4 1466.9C2073.5 1466.9 2088.3 1466.7 2093.5 1466.6M1648.9 1466.9C1655.6 1465.9 1675.6 1462.1 1688.9 1460.9C1702.3 1459.7 1715.6 1459.2 1728.9 1459.5C1742.3 1459.8 1755.4 1462 1768.9 1462.7C1782.5 1463.4 1795.6 1463.8 1810.5 1463.6C1825.3 1463.4 1842.2 1461.9 1857.9 1461.5C1873.5 1461.2 1890.2 1461.2 1904.3 1461.5C1918.4 1461.8 1928.6 1462.6 1942.3 1463.2C1956.1 1463.8 1972.7 1463.9 1986.8 1465C2000.9 1466 2014.2 1468 2026.8 1469.5C2039.4 1471 2051.3 1474.5 2062.4 1474C2073.5 1473.6 2088.3 1468.1 2093.5 1466.9M1648.9 1467.3C1655.6 1467 1675.6 1466.7 1688.9 1465.3C1702.3 1463.8 1715.6 1460.6 1728.9 1458.4C1742.3 1456.2 1755.4 1452.9 1768.9 1451.9C1782.5 1450.9 1795.6 1451.6 1810.5 1452.4C1825.3 1453.2 1842.2 1455.8 1857.9 1456.6C1873.5 1457.4 1890.2 1457.1 1904.3 1457.1C1918.4 1457.1 1928.6 1455.5 1942.3 1456.4C1956.1 1457.2 1972.7 1460 1986.8 1462.3C2000.9 1464.6 2014.2 1468.2 2026.8 1470.1C2039.4 1472 2051.3 1474.2 2062.4 1473.7C2073.5 1473.3 2088.3 1468.4 2093.5 1467.3M1648.9 1467.1C1655.6 1467 1675.6 1466.7 1688.9 1466.2C1702.3 1465.6 1715.6 1465.2 1728.9 1463.9C1742.3 1462.6 1755.4 1460.3 1768.9 1458.6C1782.5 1457 1795.6 1455 1810.5 1454.1C1825.3 1453.2 1842.2 1453.1 1857.9 1453.1C1873.5 1453.1 1890.2 1453.6 1904.3 1454.1C1918.4 1454.6 1928.6 1455.2 1942.3 1456.2C1956.1 1457.1 1972.7 1459.1 1986.8 1459.7C2000.9 1460.2 2014.2 1459.6 2026.8 1459.5C2039.4 1459.5 2051.3 1458.2 2062.4 1459.4C2073.5 1460.7 2088.3 1465.9 2093.5 1467.1M1648.9 1461.2C1655.6 1461.2 1675.6 1461.4 1688.9 1461.1C1702.3 1460.7 1715.6 1460 1728.9 1459.2C1742.3 1458.4 1755.4 1456.4 1768.9 1456.1C1782.5 1455.9 1795.6 1457.1 1810.5 1457.6C1825.3 1458.1 1842.2 1459.1 1857.9 1459.2C1873.5 1459.3 1890.2 1458.6 1904.3 1458C1918.4 1457.4 1928.6 1456.6 1942.3 1455.7C1956.1 1454.8 1972.7 1453.1 1986.8 1452.8C2000.9 1452.5 2014.2 1453.1 2026.8 1453.7C2039.4 1454.3 2051.3 1455.3 2062.4 1456.5C2073.5 1457.8 2088.3 1460.5 2093.5 1461.2M1648.9 1454.5C1655.6 1455.1 1675.6 1457.8 1688.9 1458.6C1702.3 1459.4 1715.6 1459.9 1728.9 1459.3C1742.3 1458.7 1755.4 1456.2 1768.9 1455C1782.5 1453.7 1795.6 1452.6 1810.5 1451.8C1825.3 1451 1842.2 1450.9 1857.9 1450.3C1873.5 1449.8 1890.2 1448.7 1904.3 1448.4C1918.4 1448 1928.6 1447.7 1942.3 1448.3C1956.1 1448.9 1972.7 1450.3 1986.8 1452C2000.9 1453.7 2014.2 1456.8 2026.8 1458.5C2039.4 1460.3 2051.3 1463.3 2062.4 1462.7C2073.5 1462 2088.3 1455.8 2093.5 1454.5M1648.9 1455.5C1655.6 1455.7 1675.6 1456.7 1688.9 1456.8C1702.3 1457 1715.6 1457 1728.9 1456.2C1742.3 1455.4 1755.4 1453.3 1768.9 1451.9C1782.5 1450.6 1795.6 1449.1 1810.5 1448.2C1825.3 1447.4 1842.2 1446.7 1857.9 1446.8C1873.5 1447 1890.2 1448.2 1904.3 1449.1C1918.4 1450 1928.6 1451.6 1942.3 1452.2C1956.1 1452.7 1972.7 1452.2 1986.8 1452.5C2000.9 1452.7 2014.2 1453 2026.8 1453.7C2039.4 1454.4 2051.3 1456.5 2062.4 1456.7C2073.5 1457 2088.3 1455.7 2093.5 1455.5M1648.9 1443.6C1655.6 1444.1 1675.6 1445.9 1688.9 1446.6C1702.3 1447.4 1715.6 1447.7 1728.9 1448.1C1742.3 1448.5 1755.4 1448.9 1768.9 1449.1C1782.5 1449.4 1795.6 1449.4 1810.5 1449.5C1825.3 1449.6 1842.2 1449.4 1857.9 1449.6C1873.5 1449.8 1890.2 1450.5 1904.3 1450.7C1918.4 1451 1928.6 1451.3 1942.3 1451C1956.1 1450.8 1972.7 1449.8 1986.8 1449.4C2000.9 1448.9 2014.2 1448.5 2026.8 1448.5C2039.4 1448.4 2051.3 1449.9 2062.4 1449.1C2073.5 1448.3 2088.3 1444.5 2093.5 1443.6M1648.9 1439C1655.6 1439.4 1675.6 1440.9 1688.9 1441.7C1702.3 1442.5 1715.6 1443.6 1728.9 1443.6C1742.3 1443.7 1755.4 1442.5 1768.9 1442.1C1782.5 1441.8 1795.6 1441.2 1810.5 1441.6C1825.3 1442.1 1842.2 1443.7 1857.9 1444.9C1873.5 1446 1890.2 1447.5 1904.3 1448.5C1918.4 1449.5 1928.6 1450.8 1942.3 1450.6C1956.1 1450.4 1972.7 1448.8 1986.8 1447.3C2000.9 1445.8 2014.2 1442.7 2026.8 1441.5C2039.4 1440.3 2051.3 1440.6 2062.4 1440.1C2073.5 1439.7 2088.3 1439.2 2093.5 1439M1648.9 1458C1655.6 1456.7 1675.6 1452.5 1688.9 1450.3C1702.3 1448 1715.6 1445.6 1728.9 1444.5C1742.3 1443.3 1755.4 1443.9 1768.9 1443.4C1782.5 1442.8 1795.6 1442.1 1810.5 1440.9C1825.3 1439.8 1842.2 1437 1857.9 1436.3C1873.5 1435.6 1890.2 1435.9 1904.3 1436.9C1918.4 1437.9 1928.6 1441.1 1942.3 1442.1C1956.1 1443.1 1972.7 1442.7 1986.8 1442.9C2000.9 1443.1 2014.2 1442.7 2026.8 1443.4C2039.4 1444.2 2051.3 1445.1 2062.4 1447.5C2073.5 1450 2088.3 1456.2 2093.5 1458M1648.9 1443.3C1655.6 1443.5 1675.6 1444.5 1688.9 1444.7C1702.3 1444.9 1715.6 1445.1 1728.9 1444.6C1742.3 1444.1 1755.4 1442.8 1768.9 1441.7C1782.5 1440.6 1795.6 1439.1 1810.5 1438C1825.3 1436.8 1842.2 1435.7 1857.9 1434.8C1873.5 1433.9 1890.2 1432.4 1904.3 1432.5C1918.4 1432.6 1928.6 1434.1 1942.3 1435.3C1956.1 1436.5 1972.7 1439 1986.8 1439.6C2000.9 1440.1 2014.2 1438.3 2026.8 1438.6C2039.4 1439 2051.3 1440.9 2062.4 1441.6C2073.5 1442.4 2088.3 1443 2093.5 1443.3M1648.9 1434.5C1655.6 1434.9 1675.6 1436.5 1688.9 1436.9C1702.3 1437.3 1715.6 1436.7 1728.9 1436.9C1742.3 1437.1 1755.4 1437.8 1768.9 1438.1C1782.5 1438.4 1795.6 1439 1810.5 1438.8C1825.3 1438.6 1842.2 1437.2 1857.9 1436.9C1873.5 1436.6 1890.2 1436.8 1904.3 1437C1918.4 1437.1 1928.6 1437.8 1942.3 1437.7C1956.1 1437.5 1972.7 1436.6 1986.8 1436C2000.9 1435.4 2014.2 1434 2026.8 1434.1C2039.4 1434.2 2051.3 1436.5 2062.4 1436.5C2073.5 1436.6 2088.3 1434.8 2093.5 1434.5M1648.9 1444.4C1655.6 1444.2 1675.6 1444.4 1688.9 1443.3C1702.3 1442.2 1715.6 1439.9 1728.9 1437.9C1742.3 1435.8 1755.4 1432.2 1768.9 1431.1C1782.5 1430 1795.6 1430.8 1810.5 1431C1825.3 1431.3 1842.2 1432.2 1857.9 1432.4C1873.5 1432.6 1890.2 1432.3 1904.3 1432.3C1918.4 1432.3 1928.6 1432.1 1942.3 1432.4C1956.1 1432.7 1972.7 1432.9 1986.8 1434.1C2000.9 1435.3 2014.2 1438 2026.8 1439.7C2039.4 1441.4 2051.3 1443.7 2062.4 1444.5C2073.5 1445.3 2088.3 1444.4 2093.5 1444.4M1648.9 1439.9C1655.6 1439.5 1675.6 1438.1 1688.9 1437.5C1702.3 1436.8 1715.6 1436.4 1728.9 1435.9C1742.3 1435.4 1755.4 1435.6 1768.9 1434.6C1782.5 1433.5 1795.6 1431.1 1810.5 1429.5C1825.3 1427.8 1842.2 1425.2 1857.9 1424.5C1873.5 1423.9 1890.2 1424.8 1904.3 1425.6C1918.4 1426.4 1928.6 1428 1942.3 1429.6C1956.1 1431.2 1972.7 1434.1 1986.8 1435.2C2000.9 1436.3 2014.2 1435.8 2026.8 1436C2039.4 1436.2 2051.3 1435.6 2062.4 1436.3C2073.5 1436.9 2088.3 1439.3 2093.5 1439.9M1648.9 1429.8C1655.6 1429.9 1675.6 1430.3 1688.9 1430.3C1702.3 1430.3 1715.6 1429.5 1728.9 1429.8C1742.3 1430 1755.4 1431.3 1768.9 1431.6C1782.5 1432 1795.6 1431.9 1810.5 1432C1825.3 1432.1 1842.2 1431.8 1857.9 1432.4C1873.5 1433.1 1890.2 1435 1904.3 1435.8C1918.4 1436.6 1928.6 1437.2 1942.3 1437.4C1956.1 1437.5 1972.7 1436.9 1986.8 1436.7C2000.9 1436.5 2014.2 1436.6 2026.8 1436.1C2039.4 1435.6 2051.3 1434.8 2062.4 1433.7C2073.5 1432.7 2088.3 1430.5 2093.5 1429.8M1648.9 1438.8C1655.6 1437.7 1675.6 1434.4 1688.9 1432.2C1702.3 1430 1715.6 1427.2 1728.9 1425.7C1742.3 1424.1 1755.4 1423.5 1768.9 1423.1C1782.5 1422.7 1795.6 1423 1810.5 1423.2C1825.3 1423.3 1842.2 1423.7 1857.9 1424C1873.5 1424.3 1890.2 1424.8 1904.3 1425C1918.4 1425.2 1928.6 1424.6 1942.3 1425.2C1956.1 1425.9 1972.7 1427.7 1986.8 1429C2000.9 1430.3 2014.2 1432.4 2026.8 1432.9C2039.4 1433.4 2051.3 1431 2062.4 1432C2073.5 1433 2088.3 1437.7 2093.5 1438.8M1648.9 1433.5C1655.6 1432.8 1675.6 1431.2 1688.9 1429.8C1702.3 1428.5 1715.6 1426.1 1728.9 1425.3C1742.3 1424.6 1755.4 1424.9 1768.9 1425.4C1782.5 1426 1795.6 1427.9 1810.5 1428.5C1825.3 1429.1 1842.2 1429.3 1857.9 1429.1C1873.5 1428.9 1890.2 1427.6 1904.3 1427.3C1918.4 1427 1928.6 1427.2 1942.3 1427.2C1956.1 1427.3 1972.7 1427.4 1986.8 1427.8C2000.9 1428.1 2014.2 1428.6 2026.8 1429.2C2039.4 1429.8 2051.3 1430.6 2062.4 1431.3C2073.5 1432 2088.3 1433.1 2093.5 1433.5M1648.9 1425.4C1655.6 1425.3 1675.6 1425 1688.9 1424.8C1702.3 1424.5 1715.6 1423.4 1728.9 1423.8C1742.3 1424.2 1755.4 1426.3 1768.9 1427.3C1782.5 1428.4 1795.6 1430.1 1810.5 1430.2C1825.3 1430.2 1842.2 1428.6 1857.9 1427.6C1873.5 1426.6 1890.2 1425 1904.3 1424.3C1918.4 1423.6 1928.6 1423.4 1942.3 1423.4C1956.1 1423.4 1972.7 1423.9 1986.8 1424.2C2000.9 1424.5 2014.2 1425.2 2026.8 1425.3C2039.4 1425.4 2051.3 1424.8 2062.4 1424.8C2073.5 1424.8 2088.3 1425.3 2093.5 1425.4M1648.9 1392.3C1652.6 1392.4 1662.2 1392.1 1671.1 1393.1C1680 1394 1691.1 1395.8 1702.3 1397.9C1713.4 1400.1 1726 1403.3 1737.8 1406C1749.7 1408.7 1761.3 1411.6 1773.4 1414C1785.5 1416.5 1797.9 1418.5 1810.5 1420.5C1823.1 1422.5 1842.6 1425.2 1849 1426.1M1648.9 1392.3C1653.3 1392.7 1666.7 1392.9 1675.6 1394.7C1684.5 1396.4 1693.4 1399.8 1702.3 1402.8C1711.1 1405.7 1720 1409.2 1728.9 1412.4C1737.8 1415.7 1746.7 1419.2 1755.6 1422.1C1764.5 1425.1 1773.4 1427.8 1782.3 1430.2C1791.2 1432.6 1804.5 1435.6 1809 1436.6M1648.9 1392.3C1654.8 1392.5 1672.6 1392.9 1684.5 1393.9C1696.3 1394.8 1706.7 1396.2 1720 1397.9C1733.4 1399.7 1749.4 1402.1 1764.5 1404.4C1779.6 1406.7 1796.4 1409.5 1810.5 1411.6C1824.5 1413.8 1833.3 1415.3 1849 1417.3C1864.6 1419.3 1895.1 1422.7 1904.3 1423.7M2093.5 1392.3C2089.8 1392.4 2080.2 1392.4 2071.3 1393.1C2062.4 1393.8 2051.3 1394.7 2040.1 1396.3C2029 1397.9 2017.9 1400.2 2004.6 1402.8C1991.2 1405.3 1973.5 1408.8 1960.1 1411.6C1946.8 1414.5 1933.9 1417.5 1924.6 1419.7C1915.3 1421.8 1907.7 1423.7 1904.3 1424.5M2093.5 1392.3C2090.5 1392.5 2081.6 1392.9 2075.7 1393.9C2069.8 1394.8 2064.6 1395.9 2057.9 1397.9C2051.3 1399.9 2043.1 1403 2035.7 1406C2028.3 1408.9 2020.1 1412.7 2013.5 1415.7C2006.8 1418.6 2003.1 1421.3 1995.7 1423.7C1988.3 1426.1 1973.5 1429.1 1969 1430.2M1849 1502.8C1854.2 1500.1 1870.9 1491.3 1880.1 1486.6C1889.3 1481.9 1894.7 1479.2 1904.3 1474.5C1914 1469.8 1927.1 1463.8 1937.9 1458.4C1948.7 1453 1959.4 1447 1969 1442.3C1978.6 1437.6 1991.2 1432.2 1995.7 1430.2M1810.5 1462.4C1816.9 1464.5 1837.4 1469.8 1849 1474.5C1860.6 1479.2 1870.9 1486.6 1880.1 1490.7C1889.3 1494.7 1900.3 1497.4 1904.3 1498.7M1810.5 1494.7C1805.8 1492.7 1792.9 1486.6 1782.3 1482.6C1771.7 1478.6 1752.6 1472.5 1746.7 1470.5"/></g><use href="#b1_1" stroke="#153c74" stroke-width="1.8"/></g>
<line x1="1810.5" y1="1172.1" x2="1810.5" y2="1494.7" stroke="#1a1ad0" stroke-width="1.1" stroke-linecap="butt" />
<line x1="1904.3" y1="1172.1" x2="1904.3" y2="1494.7" stroke="#1a1ad0" stroke-width="1.1" stroke-linecap="butt" />
<line x1="1648.9" y1="1333.4" x2="2093.5" y2="1333.4" stroke="#2a7a2a" stroke-width="1.1" stroke-dasharray="2 2.4"/>
<rect x="1648.9" y="1172.1" width="444.6" height="322.6" fill="none" stroke="#000" stroke-width="3"/>
<text x="1634.9" y="1180.1" font-size="35" text-anchor="end" >2</text>
<text x="1634.9" y="1260.8" font-size="35" text-anchor="end" >1</text>
<line x1="1648.9" y1="1252.8" x2="1657.9" y2="1252.8" stroke="#000" stroke-width="2.4" stroke-linecap="butt" />
<text x="1634.9" y="1341.4" font-size="35" text-anchor="end" >0</text>
<line x1="1648.9" y1="1333.4" x2="1657.9" y2="1333.4" stroke="#000" stroke-width="2.4" stroke-linecap="butt" />
<text x="1634.9" y="1422" font-size="35" text-anchor="end" >1</text>
<line x1="1585.9" y1="1412.5" x2="1609.9" y2="1412.5" stroke="#000" stroke-width="1.9" stroke-linecap="butt" />
<line x1="1648.9" y1="1414" x2="1657.9" y2="1414" stroke="#000" stroke-width="2.4" stroke-linecap="butt" />
<text x="1634.9" y="1502.7" font-size="35" text-anchor="end" >2</text>
<line x1="1585.9" y1="1493.2" x2="1609.9" y2="1493.2" stroke="#000" stroke-width="1.9" stroke-linecap="butt" />
<text x="1652.9" y="1542.3" font-size="38.3" text-anchor="middle" font-style="italic" >Γ</text>
<text x="1815.5" y="1545.2" font-size="38.3" text-anchor="middle" font-style="italic" >M</text>
<text x="1909.8" y="1545.2" font-size="38.3" text-anchor="middle" font-style="italic" >K</text>
<text x="2097.5" y="1542.3" font-size="38.3" text-anchor="middle" font-style="italic" >Γ</text>
<text transform="translate(1576.9 1343.4) rotate(-90)" font-size="37.5" text-anchor="middle" textLength="198" lengthAdjust="spacing">Energy/eV</text>
<text x="1665.5" y="1319.3" font-size="33" font-style="italic" >ε</text>
<text x="1684.7" y="1325.7" font-size="25.4" >F</text>
<text x="1859.2" y="1155.6" font-size="36.8" text-anchor="middle" textLength="85.8" lengthAdjust="spacing" >8.95°</text>
<line x1="2070.5" y1="1296.6" x2="2070.5" y2="1370.7" stroke="#14a64f" stroke-width="3.2" stroke-linecap="butt" />
<polygon points="2070.5,1275 2063.3,1302 2077.7,1302" fill="#14a64f"/>
<polygon points="2070.5,1392.3 2063.3,1365.3 2077.7,1365.3" fill="#14a64f"/>
<text x="1922.1" y="1323.3" font-size="36.5" textLength="133.3" lengthAdjust="spacing" >1.44 eV</text>
<clipPath id="cp2"><rect x="2236.7" y="1172.1" width="444.6" height="322.6"/></clipPath>
<g clip-path="url(#cp2)" fill="none"><g stroke="#0b2146" stroke-width="3.4"><path id="b2_0" d="M2236.7 1256.8C2244.1 1257.5 2266.3 1259.9 2281.2 1260.8C2296 1261.8 2310.8 1262.4 2325.6 1262.4C2340.4 1262.4 2358 1261.4 2370.1 1260.8C2382.2 1260.3 2387.2 1259.9 2398.3 1259.2C2409.4 1258.5 2430.4 1257.2 2436.8 1256.8M2236.7 1414C2240.4 1414.3 2250 1414.3 2258.9 1415.7C2267.8 1417 2278.9 1419.7 2290.1 1422.1C2301.2 1424.5 2312.3 1427.1 2325.6 1430.2C2339 1433.3 2358 1438 2370.1 1440.7C2382.2 1443.4 2387.2 1445.1 2398.3 1446.3C2409.4 1447.5 2425.2 1445.9 2436.8 1447.9C2448.4 1449.9 2458.7 1455.7 2467.9 1458.4C2477.1 1461.1 2484.7 1461.8 2492.1 1464.1C2499.5 1466.3 2503.1 1469.7 2512.4 1472.1C2521.7 1474.5 2542 1477.5 2547.9 1478.6M2681.3 1414C2677.6 1414.3 2666.5 1414.7 2659.1 1415.7C2651.7 1416.6 2645 1417.9 2636.8 1419.7C2628.7 1421.4 2619.1 1424.4 2610.2 1426.1C2601.3 1427.9 2587.9 1429.5 2583.5 1430.2M2459 1478.6C2464.5 1476.2 2483.2 1468.1 2492.1 1464.1C2501 1460 2504.5 1456.7 2512.4 1454.4C2520.2 1452.1 2534.6 1451 2539 1450.3M2236.7 1494.7C2240.4 1494 2251.5 1492 2258.9 1490.7C2266.3 1489.3 2273.8 1488 2281.2 1486.6C2288.6 1485.3 2299.7 1483.3 2303.4 1482.6M2681.3 1494.7C2677.6 1493.8 2666.5 1490.7 2659.1 1489.1C2651.7 1487.4 2644.2 1486.8 2636.8 1485C2629.4 1483.3 2618.3 1479.6 2614.6 1478.6M2236.7 1212.4C2244.1 1212.7 2266.3 1214.3 2281.2 1214C2296 1213.8 2318.2 1211.3 2325.6 1210.8M2681.3 1212.4C2673.9 1213.1 2651.7 1216.5 2636.8 1216.5C2622 1216.5 2599.8 1213.1 2592.4 1212.4"/></g><use href="#b2_0" stroke="#153c74" stroke-width="1.6"/></g>
<g clip-path="url(#cp2)" fill="none"><g stroke="#6e1226" stroke-width="3.8"><path id="b2_1" d="M2236.7 1253.7C2243.4 1253.6 2263.4 1254 2276.7 1253.3C2290.1 1252.6 2303.4 1252.7 2316.7 1249.6C2330.1 1246.5 2343.2 1239.4 2356.7 1234.9C2370.3 1230.3 2383.4 1221.4 2398.3 1222.4C2413.1 1223.5 2430 1235.7 2445.7 1241.3C2461.3 1247 2478 1253.9 2492.1 1256.3C2506.2 1258.8 2516.4 1256.6 2530.1 1256.2C2543.9 1255.7 2560.5 1254.1 2574.6 1253.5C2588.7 1252.8 2602 1252.3 2614.6 1252.2C2627.2 1252.1 2639.1 1252.4 2650.2 1252.7C2661.3 1252.9 2676.1 1253.5 2681.3 1253.7M2236.7 1252.8C2243.4 1252.9 2263.4 1254.2 2276.7 1253.4C2290.1 1252.6 2303.4 1251.3 2316.7 1247.9C2330.1 1244.5 2343.2 1237.1 2356.7 1232.9C2370.3 1228.7 2383.4 1221.4 2398.3 1222.5C2413.1 1223.7 2430 1234.9 2445.7 1239.7C2461.3 1244.6 2478 1249.4 2492.1 1251.8C2506.2 1254.2 2516.4 1253.1 2530.1 1254C2543.9 1254.9 2560.5 1256.8 2574.6 1257.4C2588.7 1258 2602 1257.6 2614.6 1257.5C2627.2 1257.4 2639.1 1257.5 2650.2 1256.8C2661.3 1256 2676.1 1253.5 2681.3 1252.9M2236.7 1254.7C2243.4 1254.5 2263.4 1254.5 2276.7 1253.4C2290.1 1252.3 2303.4 1251.5 2316.7 1247.9C2330.1 1244.4 2343.2 1236.6 2356.7 1232.1C2370.3 1227.6 2383.4 1219.5 2398.3 1220.8C2413.1 1222.2 2430 1234.6 2445.7 1240C2461.3 1245.5 2478 1251.3 2492.1 1253.6C2506.2 1255.9 2516.4 1253.8 2530.1 1253.8C2543.9 1253.8 2560.5 1253.7 2574.6 1253.8C2588.7 1253.9 2602 1254.5 2614.6 1254.5C2627.2 1254.6 2639.1 1253.8 2650.2 1253.8C2661.3 1253.9 2676.1 1254.6 2681.3 1254.7M2236.7 1252C2243.4 1252.2 2263.4 1254 2276.7 1253.7C2290.1 1253.4 2303.4 1253.3 2316.7 1250C2330.1 1246.7 2343.2 1238.3 2356.7 1233.6C2370.3 1228.9 2383.4 1220.7 2398.3 1221.7C2413.1 1222.7 2430 1234.5 2445.7 1239.5C2461.3 1244.4 2478 1249.5 2492.1 1251.6C2506.2 1253.8 2516.4 1252 2530.1 1252.4C2543.9 1252.7 2560.5 1253.4 2574.6 1253.8C2588.7 1254.2 2602 1254.7 2614.6 1255C2627.2 1255.3 2639.1 1256 2650.2 1255.5C2661.3 1255 2676.1 1252.6 2681.3 1252M2236.7 1252.7C2243.4 1252.5 2263.4 1252.3 2276.7 1251C2290.1 1249.7 2303.4 1248.5 2316.7 1244.8C2330.1 1241.1 2343.2 1233.7 2356.7 1228.8C2370.3 1224 2383.4 1215.6 2398.3 1215.8C2413.1 1216.1 2430 1225.7 2445.7 1230.3C2461.3 1235 2478 1240.6 2492.1 1243.8C2506.2 1247 2516.4 1248 2530.1 1249.4C2543.9 1250.8 2560.5 1251.8 2574.6 1252.1C2588.7 1252.3 2602 1251.3 2614.6 1250.8C2627.2 1250.3 2639.1 1248.6 2650.2 1249C2661.3 1249.3 2676.1 1252.1 2681.3 1252.8M2236.7 1247.1C2243.4 1247 2263.4 1246.9 2276.7 1246.2C2290.1 1245.4 2303.4 1245.7 2316.7 1242.5C2330.1 1239.2 2343.2 1231.5 2356.7 1226.7C2370.3 1222 2383.4 1213 2398.3 1214C2413.1 1215 2430 1226.8 2445.7 1232.5C2461.3 1238.2 2478 1245.2 2492.1 1248.2C2506.2 1251.2 2516.4 1250.6 2530.1 1250.5C2543.9 1250.5 2560.5 1248.8 2574.6 1247.8C2588.7 1246.8 2602 1245.3 2614.6 1244.8C2627.2 1244.2 2639.1 1244.2 2650.2 1244.5C2661.3 1244.9 2676.1 1246.7 2681.3 1247.1M2236.7 1247.2C2243.4 1246.9 2263.4 1246.2 2276.7 1245.2C2290.1 1244.3 2303.4 1244.3 2316.7 1241.4C2330.1 1238.4 2343.2 1231.5 2356.7 1227.6C2370.3 1223.6 2383.4 1216.3 2398.3 1217.5C2413.1 1218.7 2430 1229.8 2445.7 1234.8C2461.3 1239.7 2478 1244.8 2492.1 1247.1C2506.2 1249.3 2516.4 1248.2 2530.1 1248.3C2543.9 1248.4 2560.5 1247.8 2574.6 1247.6C2588.7 1247.5 2602 1247.7 2614.6 1247.4C2627.2 1247 2639.1 1245.6 2650.2 1245.6C2661.3 1245.6 2676.1 1247 2681.3 1247.2M2236.7 1246.8C2243.4 1246.8 2263.4 1247.8 2276.7 1247.1C2290.1 1246.4 2303.4 1246.3 2316.7 1242.6C2330.1 1238.8 2343.2 1230.2 2356.7 1224.7C2370.3 1219.2 2383.4 1209.4 2398.3 1209.6C2413.1 1209.9 2430 1220.6 2445.7 1225.9C2461.3 1231.2 2478 1238.2 2492.1 1241.4C2506.2 1244.6 2516.4 1244.3 2530.1 1245C2543.9 1245.6 2560.5 1245.4 2574.6 1245.5C2588.7 1245.5 2602 1245.2 2614.6 1245.3C2627.2 1245.3 2639.1 1245.4 2650.2 1245.7C2661.3 1246 2676.1 1246.6 2681.3 1246.8M2236.7 1243.5C2243.4 1243.2 2263.4 1242.5 2276.7 1241.5C2290.1 1240.4 2303.4 1240.6 2316.7 1237.2C2330.1 1233.8 2343.2 1226.1 2356.7 1221.2C2370.3 1216.3 2383.4 1207 2398.3 1207.7C2413.1 1208.3 2430 1219.8 2445.7 1225.2C2461.3 1230.5 2478 1237 2492.1 1239.8C2506.2 1242.7 2516.4 1241.4 2530.1 1242.3C2543.9 1243.2 2560.5 1244.2 2574.6 1245.1C2588.7 1245.9 2602 1247 2614.6 1247.1C2627.2 1247.3 2639.1 1246.5 2650.2 1245.9C2661.3 1245.3 2676.1 1243.9 2681.3 1243.5M2236.7 1241.5C2243.4 1241.6 2263.4 1242.7 2276.7 1242C2290.1 1241.4 2303.4 1241.4 2316.7 1237.7C2330.1 1234.1 2343.2 1225.3 2356.7 1220.1C2370.3 1214.9 2383.4 1205.8 2398.3 1206.6C2413.1 1207.3 2430 1219.3 2445.7 1224.7C2461.3 1230 2478 1236 2492.1 1238.6C2506.2 1241.1 2516.4 1239.5 2530.1 1239.8C2543.9 1240 2560.5 1240.2 2574.6 1240.2C2588.7 1240.3 2602 1240.2 2614.6 1240.1C2627.2 1240.1 2639.1 1239.9 2650.2 1240.1C2661.3 1240.3 2676.1 1241.3 2681.3 1241.5M2236.7 1242.7C2243.4 1242.8 2263.4 1244.2 2276.7 1243.6C2290.1 1243 2303.4 1243.4 2316.7 1239C2330.1 1234.7 2343.2 1224.1 2356.7 1217.3C2370.3 1210.6 2383.4 1199.5 2398.3 1198.6C2413.1 1197.8 2430 1207.7 2445.7 1212.1C2461.3 1216.5 2478 1222.2 2492.1 1224.9C2506.2 1227.7 2516.4 1227.5 2530.1 1228.7C2543.9 1230 2560.5 1231.4 2574.6 1232.2C2588.7 1233.1 2602 1233.6 2614.6 1234C2627.2 1234.5 2639.1 1233.4 2650.2 1234.9C2661.3 1236.3 2676.1 1241.4 2681.3 1242.7M2236.7 1224.7C2243.4 1224.6 2263.4 1224 2276.7 1223.9C2290.1 1223.9 2303.4 1225.7 2316.7 1224.5C2330.1 1223.3 2343.2 1219.9 2356.7 1216.9C2370.3 1213.8 2383.4 1205.1 2398.3 1206.2C2413.1 1207.3 2430 1218 2445.7 1223.4C2461.3 1228.8 2478 1236.4 2492.1 1238.8C2506.2 1241.3 2516.4 1238.4 2530.1 1237.9C2543.9 1237.3 2560.5 1235.5 2574.6 1235.5C2588.7 1235.5 2602 1237.6 2614.6 1237.7C2627.2 1237.7 2639.1 1238 2650.2 1235.8C2661.3 1233.6 2676.1 1226.5 2681.3 1224.7M2236.7 1227.9C2243.4 1227.5 2263.4 1227 2276.7 1225.4C2290.1 1223.8 2303.4 1221.4 2316.7 1218.4C2330.1 1215.3 2343.2 1209.5 2356.7 1206.8C2370.3 1204.1 2383.4 1200.8 2398.3 1202.1C2413.1 1203.3 2430 1210.4 2445.7 1214.4C2461.3 1218.4 2478 1222.8 2492.1 1226C2506.2 1229.2 2516.4 1232.6 2530.1 1233.3C2543.9 1234.1 2560.5 1231.7 2574.6 1230.2C2588.7 1228.7 2602 1224.9 2614.6 1224.3C2627.2 1223.8 2639.1 1226.4 2650.2 1227C2661.3 1227.6 2676.1 1227.8 2681.3 1228M2236.7 1216.6C2243.4 1216.4 2263.4 1215.8 2276.7 1215.2C2290.1 1214.5 2303.4 1214.5 2316.7 1212.7C2330.1 1211 2343.2 1207.3 2356.7 1204.7C2370.3 1202.1 2383.4 1196.3 2398.3 1197C2413.1 1197.8 2430 1205.3 2445.7 1209.3C2461.3 1213.3 2478 1218.1 2492.1 1221.1C2506.2 1224.1 2516.4 1225.8 2530.1 1227.2C2543.9 1228.6 2560.5 1229.7 2574.6 1229.7C2588.7 1229.7 2602 1228 2614.6 1227.1C2627.2 1226.2 2639.1 1226.1 2650.2 1224.4C2661.3 1222.6 2676.1 1217.9 2681.3 1216.6M2236.7 1211.4C2243.4 1212.2 2263.4 1215 2276.7 1216.1C2290.1 1217.1 2303.4 1218.6 2316.7 1217.6C2330.1 1216.7 2343.2 1213.3 2356.7 1210.5C2370.3 1207.6 2383.4 1200.3 2398.3 1200.3C2413.1 1200.4 2430 1207.6 2445.7 1210.8C2461.3 1213.9 2478 1218.5 2492.1 1219.3C2506.2 1220.1 2516.4 1216.5 2530.1 1215.7C2543.9 1214.8 2560.5 1213.4 2574.6 1214.2C2588.7 1215 2602 1219.2 2614.6 1220.5C2627.2 1221.8 2639.1 1223.5 2650.2 1222C2661.3 1220.5 2676.1 1213.2 2681.3 1211.4M2236.7 1210.8C2243.4 1212 2263.4 1216.7 2276.7 1218.1C2290.1 1219.5 2303.4 1221.1 2316.7 1219.1C2330.1 1217.1 2343.2 1210.8 2356.7 1206.2C2370.3 1201.6 2383.4 1192.5 2398.3 1191.5C2413.1 1190.6 2430 1197.6 2445.7 1200.4C2461.3 1203.2 2478 1206.9 2492.1 1208.2C2506.2 1209.5 2516.4 1207.4 2530.1 1208.2C2543.9 1208.9 2560.5 1211.4 2574.6 1212.7C2588.7 1214 2602 1215.1 2614.6 1216C2627.2 1217 2639.1 1219.2 2650.2 1218.4C2661.3 1217.5 2676.1 1212.1 2681.3 1210.8M2236.7 1205.5C2243.4 1205.8 2263.4 1207.1 2276.7 1207.2C2290.1 1207.3 2303.4 1207.6 2316.7 1205.8C2330.1 1204.1 2343.2 1199.4 2356.7 1196.8C2370.3 1194.2 2383.4 1189.5 2398.3 1190.1C2413.1 1190.7 2430 1197.5 2445.7 1200.3C2461.3 1203.1 2478 1205.9 2492.1 1206.8C2506.2 1207.7 2516.4 1205.6 2530.1 1205.5C2543.9 1205.4 2560.5 1206.4 2574.6 1206.1C2588.7 1205.9 2602 1204.1 2614.6 1204C2627.2 1203.9 2639.1 1205.4 2650.2 1205.7C2661.3 1205.9 2676.1 1205.6 2681.3 1205.5M2236.7 1195.7C2243.4 1196.4 2263.4 1199.5 2276.7 1200.3C2290.1 1201 2303.4 1201.3 2316.7 1200C2330.1 1198.8 2343.2 1194.7 2356.7 1192.7C2370.3 1190.6 2383.4 1186.9 2398.3 1187.8C2413.1 1188.6 2430 1194.8 2445.7 1197.8C2461.3 1200.8 2478 1204.8 2492.1 1205.8C2506.2 1206.8 2516.4 1204.8 2530.1 1203.6C2543.9 1202.4 2560.5 1199.6 2574.6 1198.7C2588.7 1197.9 2602 1198.6 2614.6 1198.4C2627.2 1198.1 2639.1 1197.6 2650.2 1197.2C2661.3 1196.7 2676.1 1195.9 2681.3 1195.7M2236.7 1195.7C2243.4 1196.3 2263.4 1199.2 2276.7 1199.6C2290.1 1200.1 2303.4 1200.6 2316.7 1198.4C2330.1 1196.3 2343.2 1189.6 2356.7 1186.8C2370.3 1184 2383.4 1181.1 2398.3 1181.7C2413.1 1182.3 2430 1188 2445.7 1190.2C2461.3 1192.5 2478 1193.8 2492.1 1195C2506.2 1196.2 2516.4 1196.1 2530.1 1197.4C2543.9 1198.6 2560.5 1201.1 2574.6 1202.6C2588.7 1204 2602 1205.7 2614.6 1206.2C2627.2 1206.7 2639.1 1207.2 2650.2 1205.5C2661.3 1203.7 2676.1 1197.3 2681.3 1195.7M2236.7 1196C2243.4 1196.5 2263.4 1198.6 2276.7 1199C2290.1 1199.4 2303.4 1200.7 2316.7 1198.6C2330.1 1196.5 2343.2 1190.4 2356.7 1186.5C2370.3 1182.6 2383.4 1175.9 2398.3 1175.1C2413.1 1174.3 2430 1178.7 2445.7 1181.7C2461.3 1184.7 2478 1191.2 2492.1 1193.2C2506.2 1195.3 2516.4 1194.6 2530.1 1193.9C2543.9 1193.2 2560.5 1189.1 2574.6 1189.1C2588.7 1189.1 2602 1191.9 2614.6 1193.8C2627.2 1195.8 2639.1 1200.7 2650.2 1201.1C2661.3 1201.4 2676.1 1196.8 2681.3 1196M2236.7 1186C2243.4 1186.7 2263.4 1189.8 2276.7 1190.1C2290.1 1190.5 2303.4 1190.4 2316.7 1188.2C2330.1 1186.1 2343.2 1180.4 2356.7 1177.1C2370.3 1173.8 2383.4 1169.6 2398.3 1168.6C2413.1 1167.5 2430 1169.4 2445.7 1170.8C2461.3 1172.2 2478 1174.8 2492.1 1176.7C2506.2 1178.7 2516.4 1180.9 2530.1 1182.5C2543.9 1184.2 2560.5 1185.6 2574.6 1186.5C2588.7 1187.3 2602 1187.1 2614.6 1187.5C2627.2 1187.8 2639.1 1188.6 2650.2 1188.4C2661.3 1188.1 2676.1 1186.4 2681.3 1186M2236.7 1191.1C2243.4 1191.2 2263.4 1192 2276.7 1191.3C2290.1 1190.5 2303.4 1188.7 2316.7 1186.7C2330.1 1184.7 2343.2 1181.3 2356.7 1179.1C2370.3 1176.9 2383.4 1174.3 2398.3 1173.3C2413.1 1172.4 2430 1172.9 2445.7 1173.3C2461.3 1173.8 2478 1175.5 2492.1 1176.3C2506.2 1177.1 2516.4 1177.7 2530.1 1178.1C2543.9 1178.6 2560.5 1178 2574.6 1178.8C2588.7 1179.5 2602 1181.5 2614.6 1182.5C2627.2 1183.4 2639.1 1182.8 2650.2 1184.2C2661.3 1185.7 2676.1 1190 2681.3 1191.2M2236.7 1174.9C2243.4 1175.4 2263.4 1178.1 2276.7 1178.2C2290.1 1178.3 2303.4 1177.8 2316.7 1175.5C2330.1 1173.1 2343.2 1167.4 2356.7 1164.2C2370.3 1161.1 2383.4 1157.3 2398.3 1156.5C2413.1 1155.7 2430 1157.6 2445.7 1159.4C2461.3 1161.1 2478 1165 2492.1 1167C2506.2 1169.1 2516.4 1170.7 2530.1 1171.6C2543.9 1172.5 2560.5 1171.8 2574.6 1172.6C2588.7 1173.3 2602 1174.4 2614.6 1176.1C2627.2 1177.7 2639.1 1182.7 2650.2 1182.5C2661.3 1182.3 2676.1 1176.1 2681.3 1174.9M2236.7 1171.5C2243.4 1171.4 2263.4 1171.6 2276.7 1171.1C2290.1 1170.6 2303.4 1169.2 2316.7 1168.6C2330.1 1168.1 2343.2 1168.1 2356.7 1167.7C2370.3 1167.2 2383.4 1165.9 2398.3 1166C2413.1 1166 2430 1167.1 2445.7 1167.8C2461.3 1168.5 2478 1170.2 2492.1 1170.3C2506.2 1170.5 2516.4 1168.9 2530.1 1168.6C2543.9 1168.3 2560.5 1167.9 2574.6 1168.3C2588.7 1168.7 2602 1170.2 2614.6 1171C2627.2 1171.9 2639.1 1173.4 2650.2 1173.4C2661.3 1173.5 2676.1 1171.8 2681.3 1171.5M2236.7 1172C2243.4 1172 2263.4 1172.9 2276.7 1172.1C2290.1 1171.3 2303.4 1168.7 2316.7 1167C2330.1 1165.3 2343.2 1162.8 2356.7 1161.8C2370.3 1160.9 2383.4 1161.1 2398.3 1161.2C2413.1 1161.3 2430 1162.2 2445.7 1162.3C2461.3 1162.5 2478 1162.2 2492.1 1162.1C2506.2 1162 2516.4 1161.3 2530.1 1161.8C2543.9 1162.3 2560.5 1164.1 2574.6 1165.1C2588.7 1166 2602 1167.3 2614.6 1167.5C2627.2 1167.8 2639.1 1165.8 2650.2 1166.5C2661.3 1167.3 2676.1 1171.1 2681.3 1172M2236.7 1270.5C2240.4 1270.4 2251.5 1270.5 2258.9 1269.7C2266.3 1268.9 2273 1267.4 2281.2 1265.7C2289.3 1263.9 2298.9 1261.1 2307.8 1259.2C2316.7 1257.3 2324.1 1255.8 2334.5 1254.4C2344.9 1252.9 2364.2 1251 2370.1 1250.3M2681.3 1270.5C2677.6 1270.4 2666.5 1270.5 2659.1 1269.7C2651.7 1268.9 2645 1267.5 2636.8 1265.7C2628.7 1263.8 2619.1 1260.5 2610.2 1258.4C2601.3 1256.2 2593.9 1254.4 2583.5 1252.8C2573.1 1251.1 2553.8 1249.4 2547.9 1248.7M2281.2 1258.4C2288.6 1258.5 2310.8 1259.2 2325.6 1259.2C2340.4 1259.2 2358 1258.5 2370.1 1258.4C2382.2 1258.3 2387.2 1258.5 2398.3 1258.4C2409.4 1258.3 2421.1 1257.5 2436.8 1257.6C2452.4 1257.7 2473.6 1259.1 2492.1 1259.2C2510.6 1259.3 2531.2 1258.8 2547.9 1258.4C2564.6 1258 2577.6 1257.5 2592.4 1256.8C2607.2 1256.1 2629.4 1254.8 2636.8 1254.4M2303.4 1248.7C2310.8 1248.3 2332 1246.3 2347.8 1246.3C2363.7 1246.3 2385.7 1249 2398.3 1248.7C2410.9 1248.4 2413.3 1246.4 2423.4 1244.7C2433.6 1242.9 2447.6 1240.1 2459 1238.2C2470.4 1236.4 2486.6 1234.2 2492.1 1233.4M2303.4 1244.7C2310.8 1244.4 2332 1241.7 2347.8 1243.1C2363.7 1244.4 2385.7 1251.5 2398.3 1252.8C2410.9 1254 2413.3 1251.9 2423.4 1250.3C2433.6 1248.7 2447.6 1245.6 2459 1243.1C2470.4 1240.5 2486.6 1236.4 2492.1 1235M2398.3 1254.4C2404.7 1253.8 2425.2 1252.8 2436.8 1251.1C2448.4 1249.5 2458.7 1247.1 2467.9 1244.7C2477.1 1242.3 2482.5 1236.6 2492.1 1236.6C2501.8 1236.6 2514.9 1242 2525.7 1244.7C2536.5 1247.4 2545.7 1251 2556.8 1252.8C2567.9 1254.5 2586.5 1254.8 2592.4 1255.2M2236.7 1443.2C2243.4 1443.3 2263.4 1443.5 2276.7 1443.6C2290.1 1443.7 2303.4 1443.9 2316.7 1444C2330.1 1444.2 2343.2 1444.6 2356.7 1444.5C2370.3 1444.5 2383.4 1443.9 2398.3 1443.8C2413.1 1443.8 2430 1444.1 2445.7 1444.5C2461.3 1444.8 2478 1445.9 2492.1 1445.8C2506.2 1445.7 2516.4 1444.4 2530.1 1443.8C2543.9 1443.1 2560.5 1441.6 2574.6 1441.9C2588.7 1442.1 2602 1444.4 2614.6 1445.3C2627.2 1446.2 2639.1 1447.5 2650.2 1447.2C2661.3 1446.8 2676.1 1443.9 2681.3 1443.2M2236.7 1439.3C2243.4 1439.2 2263.4 1438.5 2276.7 1438.6C2290.1 1438.7 2303.4 1439.3 2316.7 1439.8C2330.1 1440.2 2343.2 1441.2 2356.7 1441.3C2370.3 1441.3 2383.4 1440.4 2398.3 1440.1C2413.1 1439.8 2430 1439.1 2445.7 1439.4C2461.3 1439.7 2478 1441.2 2492.1 1441.9C2506.2 1442.6 2516.4 1443.4 2530.1 1443.6C2543.9 1443.8 2560.5 1443.2 2574.6 1443.2C2588.7 1443.2 2602 1443.2 2614.6 1443.8C2627.2 1444.4 2639.1 1447.4 2650.2 1446.7C2661.3 1445.9 2676.1 1440.6 2681.3 1439.3M2236.7 1440C2243.4 1439.9 2263.4 1439.7 2276.7 1439.6C2290.1 1439.6 2303.4 1439.7 2316.7 1439.9C2330.1 1440 2343.2 1440.3 2356.7 1440.4C2370.3 1440.6 2383.4 1440.5 2398.3 1440.7C2413.1 1440.8 2430 1441.3 2445.7 1441.3C2461.3 1441.3 2478 1441.1 2492.1 1440.7C2506.2 1440.4 2516.4 1439.6 2530.1 1439.2C2543.9 1438.8 2560.5 1438.5 2574.6 1438.3C2588.7 1438.1 2602 1437.9 2614.6 1438.2C2627.2 1438.5 2639.1 1440 2650.2 1440.3C2661.3 1440.6 2676.1 1440 2681.3 1440M2236.7 1439.7C2243.4 1439.7 2263.4 1440 2276.7 1439.8C2290.1 1439.6 2303.4 1438.8 2316.7 1438.5C2330.1 1438.2 2343.2 1437.9 2356.7 1438C2370.3 1438.1 2383.4 1438.9 2398.3 1439C2413.1 1439.1 2430 1439 2445.7 1438.6C2461.3 1438.3 2478 1437.7 2492.1 1437.1C2506.2 1436.4 2516.4 1435.5 2530.1 1434.8C2543.9 1434.1 2560.5 1433 2574.6 1432.9C2588.7 1432.8 2602 1433.9 2614.6 1434.2C2627.2 1434.5 2639.1 1433.9 2650.2 1434.8C2661.3 1435.7 2676.1 1438.9 2681.3 1439.7M2236.7 1437.4C2243.4 1438.2 2263.4 1440.9 2276.7 1441.7C2290.1 1442.5 2303.4 1442.9 2316.7 1442.3C2330.1 1441.7 2343.2 1439.4 2356.7 1438C2370.3 1436.7 2383.4 1435.2 2398.3 1434.2C2413.1 1433.2 2430 1432.5 2445.7 1432C2461.3 1431.5 2478 1431.3 2492.1 1431.2C2506.2 1431.2 2516.4 1430.9 2530.1 1431.6C2543.9 1432.2 2560.5 1433.8 2574.6 1435.1C2588.7 1436.4 2602 1438.7 2614.6 1439.4C2627.2 1440.1 2639.1 1439.6 2650.2 1439.3C2661.3 1439 2676.1 1437.8 2681.3 1437.4M2236.7 1437.1C2243.4 1436.6 2263.4 1435.2 2276.7 1434.3C2290.1 1433.4 2303.4 1432.3 2316.7 1431.6C2330.1 1431 2343.2 1430.9 2356.7 1430.4C2370.3 1429.9 2383.4 1429.2 2398.3 1428.8C2413.1 1428.4 2430 1427.7 2445.7 1428C2461.3 1428.4 2478 1430.1 2492.1 1430.8C2506.2 1431.5 2516.4 1431.9 2530.1 1432.5C2543.9 1433 2560.5 1433.4 2574.6 1434.1C2588.7 1434.8 2602 1436.1 2614.6 1436.5C2627.2 1436.9 2639.1 1436.3 2650.2 1436.4C2661.3 1436.5 2676.1 1437 2681.3 1437.1M2236.7 1430.1C2243.4 1430.3 2263.4 1430.9 2276.7 1431.2C2290.1 1431.6 2303.4 1431.9 2316.7 1432.1C2330.1 1432.3 2343.2 1432.4 2356.7 1432.3C2370.3 1432.2 2383.4 1431.5 2398.3 1431.7C2413.1 1431.9 2430 1433 2445.7 1433.4C2461.3 1433.9 2478 1434.8 2492.1 1434.5C2506.2 1434.1 2516.4 1432.2 2530.1 1431.3C2543.9 1430.5 2560.5 1429.6 2574.6 1429.1C2588.7 1428.6 2602 1428.7 2614.6 1428.4C2627.2 1428.2 2639.1 1427.4 2650.2 1427.6C2661.3 1427.9 2676.1 1429.7 2681.3 1430.1M2236.7 1429.1C2243.4 1429.2 2263.4 1429.5 2276.7 1429.6C2290.1 1429.8 2303.4 1430.4 2316.7 1430C2330.1 1429.6 2343.2 1428.2 2356.7 1427.2C2370.3 1426.2 2383.4 1424.5 2398.3 1423.9C2413.1 1423.2 2430 1423.2 2445.7 1423.3C2461.3 1423.5 2478 1424.2 2492.1 1424.7C2506.2 1425.3 2516.4 1425.6 2530.1 1426.4C2543.9 1427.1 2560.5 1428.3 2574.6 1429.1C2588.7 1429.9 2602 1430.7 2614.6 1431C2627.2 1431.3 2639.1 1431.2 2650.2 1430.9C2661.3 1430.6 2676.1 1429.4 2681.3 1429.1M2236.7 1428.5C2243.4 1428.4 2263.4 1428.5 2276.7 1428.2C2290.1 1427.9 2303.4 1427.5 2316.7 1426.7C2330.1 1426 2343.2 1424.5 2356.7 1423.6C2370.3 1422.7 2383.4 1421.8 2398.3 1421.2C2413.1 1420.5 2430 1419.9 2445.7 1419.6C2461.3 1419.3 2478 1419 2492.1 1419.4C2506.2 1419.7 2516.4 1420.8 2530.1 1421.8C2543.9 1422.7 2560.5 1424 2574.6 1424.9C2588.7 1425.9 2602 1426.5 2614.6 1427.5C2627.2 1428.5 2639.1 1430.6 2650.2 1430.8C2661.3 1430.9 2676.1 1428.8 2681.3 1428.5M2236.7 1431.8C2243.4 1431.9 2263.4 1432.5 2276.7 1432.1C2290.1 1431.7 2303.4 1430.7 2316.7 1429.3C2330.1 1427.9 2343.2 1425.3 2356.7 1423.6C2370.3 1421.8 2383.4 1419.9 2398.3 1418.9C2413.1 1417.8 2430 1417.3 2445.7 1417.4C2461.3 1417.4 2478 1418.5 2492.1 1419.2C2506.2 1419.8 2516.4 1420.8 2530.1 1421.5C2543.9 1422.1 2560.5 1422.4 2574.6 1423C2588.7 1423.6 2602 1424.2 2614.6 1425C2627.2 1425.9 2639.1 1426.9 2650.2 1428C2661.3 1429.2 2676.1 1431.2 2681.3 1431.8M2236.7 1506.2C2243.4 1506.7 2263.4 1509.5 2276.7 1509C2290.1 1508.4 2303.4 1505.5 2316.7 1503C2330.1 1500.5 2343.2 1495.7 2356.7 1493.8C2370.3 1491.8 2383.4 1491 2398.3 1491.3C2413.1 1491.6 2430 1493.6 2445.7 1495.5C2461.3 1497.5 2478 1501.7 2492.1 1503.2C2506.2 1504.7 2516.4 1504.4 2530.1 1504.5C2543.9 1504.6 2560.5 1503.2 2574.6 1503.7C2588.7 1504.2 2602 1506.9 2614.6 1507.6C2627.2 1508.3 2639.1 1508.2 2650.2 1507.9C2661.3 1507.7 2676.1 1506.5 2681.3 1506.2M2236.7 1493.5C2243.4 1494.7 2263.4 1500 2276.7 1501C2290.1 1502 2303.4 1499.9 2316.7 1499.5C2330.1 1499.2 2343.2 1497.3 2356.7 1498.8C2370.3 1500.4 2383.4 1506.1 2398.3 1509.1C2413.1 1512 2430 1516 2445.7 1516.5C2461.3 1517 2478 1513.6 2492.1 1512C2506.2 1510.3 2516.4 1508.1 2530.1 1506.6C2543.9 1505.2 2560.5 1504.4 2574.6 1503.3C2588.7 1502.2 2602 1501.1 2614.6 1500C2627.2 1498.8 2639.1 1497.3 2650.2 1496.2C2661.3 1495.1 2676.1 1493.9 2681.3 1493.5M2236.7 1485.7C2243.4 1485.3 2263.4 1483.4 2276.7 1483.1C2290.1 1482.9 2303.4 1483.4 2316.7 1484.2C2330.1 1484.9 2343.2 1486.1 2356.7 1487.5C2370.3 1489 2383.4 1490.5 2398.3 1492.7C2413.1 1494.9 2430 1498.9 2445.7 1500.6C2461.3 1502.3 2478 1503.7 2492.1 1502.8C2506.2 1502 2516.4 1498.2 2530.1 1495.7C2543.9 1493.2 2560.5 1489.1 2574.6 1487.9C2588.7 1486.6 2602 1487.7 2614.6 1488.4C2627.2 1489 2639.1 1492 2650.2 1491.6C2661.3 1491.1 2676.1 1486.7 2681.3 1485.7M2236.7 1481.9C2243.4 1482.8 2263.4 1485.7 2276.7 1487.1C2290.1 1488.4 2303.4 1489.9 2316.7 1490.3C2330.1 1490.6 2343.2 1489.7 2356.7 1489C2370.3 1488.3 2383.4 1485.9 2398.3 1485.9C2413.1 1486 2430 1488 2445.7 1489.3C2461.3 1490.6 2478 1492.9 2492.1 1493.7C2506.2 1494.5 2516.4 1494.8 2530.1 1494.3C2543.9 1493.7 2560.5 1491.9 2574.6 1490.6C2588.7 1489.2 2602 1487.2 2614.6 1486C2627.2 1484.8 2639.1 1484.2 2650.2 1483.5C2661.3 1482.8 2676.1 1482.2 2681.3 1481.9M2236.7 1479C2243.4 1479.3 2263.4 1480.9 2276.7 1481.2C2290.1 1481.5 2303.4 1480.6 2316.7 1481C2330.1 1481.3 2343.2 1481.7 2356.7 1483.3C2370.3 1485 2383.4 1489 2398.3 1490.9C2413.1 1492.8 2430 1494.3 2445.7 1494.8C2461.3 1495.2 2478 1494.6 2492.1 1493.6C2506.2 1492.5 2516.4 1491.1 2530.1 1488.5C2543.9 1485.9 2560.5 1480.3 2574.6 1477.8C2588.7 1475.4 2602 1474.6 2614.6 1473.9C2627.2 1473.2 2639.1 1472.8 2650.2 1473.7C2661.3 1474.5 2676.1 1478.1 2681.3 1479M2236.7 1481C2243.4 1480.7 2263.4 1479.9 2276.7 1479.2C2290.1 1478.6 2303.4 1477.7 2316.7 1477.2C2330.1 1476.8 2343.2 1476.7 2356.7 1476.4C2370.3 1476.1 2383.4 1475.9 2398.3 1475.6C2413.1 1475.2 2430 1474.3 2445.7 1474.4C2461.3 1474.4 2478 1475.7 2492.1 1476C2506.2 1476.3 2516.4 1476.6 2530.1 1476.1C2543.9 1475.5 2560.5 1473.7 2574.6 1472.8C2588.7 1472 2602 1471 2614.6 1471C2627.2 1470.9 2639.1 1470.8 2650.2 1472.5C2661.3 1474.2 2676.1 1479.6 2681.3 1481M2236.7 1471.4C2243.4 1471.4 2263.4 1471.8 2276.7 1471.7C2290.1 1471.5 2303.4 1470.2 2316.7 1470.3C2330.1 1470.4 2343.2 1471 2356.7 1472.3C2370.3 1473.6 2383.4 1476.7 2398.3 1478.3C2413.1 1480 2430 1481.7 2445.7 1482.3C2461.3 1482.9 2478 1482.5 2492.1 1481.8C2506.2 1481.1 2516.4 1479.6 2530.1 1478C2543.9 1476.4 2560.5 1473.9 2574.6 1472.3C2588.7 1470.6 2602 1468.7 2614.6 1468.2C2627.2 1467.7 2639.1 1468.7 2650.2 1469.2C2661.3 1469.7 2676.1 1471 2681.3 1471.4M2236.7 1481.1C2243.4 1480.4 2263.4 1477.7 2276.7 1476.6C2290.1 1475.6 2303.4 1474.8 2316.7 1474.6C2330.1 1474.4 2343.2 1475.4 2356.7 1475.4C2370.3 1475.4 2383.4 1475.3 2398.3 1474.6C2413.1 1473.9 2430 1472.4 2445.7 1471.1C2461.3 1469.8 2478 1467.7 2492.1 1466.7C2506.2 1465.7 2516.4 1464.5 2530.1 1465.1C2543.9 1465.8 2560.5 1468.6 2574.6 1470.6C2588.7 1472.7 2602 1476.5 2614.6 1477.4C2627.2 1478.4 2639.1 1476 2650.2 1476.6C2661.3 1477.2 2676.1 1480.3 2681.3 1481.1M2236.7 1460.7C2243.4 1460.5 2263.4 1459.2 2276.7 1459.2C2290.1 1459.2 2303.4 1459.7 2316.7 1460.6C2330.1 1461.5 2343.2 1462.5 2356.7 1464.4C2370.3 1466.3 2383.4 1469.4 2398.3 1471.8C2413.1 1474.2 2430 1477.2 2445.7 1478.7C2461.3 1480.2 2478 1480.9 2492.1 1480.7C2506.2 1480.5 2516.4 1479.2 2530.1 1477.5C2543.9 1475.7 2560.5 1472.1 2574.6 1470.4C2588.7 1468.7 2602 1468.2 2614.6 1467.3C2627.2 1466.5 2639.1 1466.3 2650.2 1465.2C2661.3 1464.1 2676.1 1461.5 2681.3 1460.7M2236.7 1453.3C2243.4 1454 2263.4 1455.5 2276.7 1457.5C2290.1 1459.5 2303.4 1463.3 2316.7 1465.2C2330.1 1467.1 2343.2 1468.9 2356.7 1469C2370.3 1469.1 2383.4 1467.4 2398.3 1465.9C2413.1 1464.4 2430 1461.4 2445.7 1459.9C2461.3 1458.3 2478 1456.7 2492.1 1456.5C2506.2 1456.2 2516.4 1457.4 2530.1 1458.2C2543.9 1458.9 2560.5 1460 2574.6 1461C2588.7 1462 2602 1463.4 2614.6 1464.2C2627.2 1465 2639.1 1467.5 2650.2 1465.7C2661.3 1463.9 2676.1 1455.3 2681.3 1453.3M2236.7 1462.5C2243.4 1462.6 2263.4 1463.9 2276.7 1463.3C2290.1 1462.7 2303.4 1460.3 2316.7 1459C2330.1 1457.7 2343.2 1456 2356.7 1455.6C2370.3 1455.3 2383.4 1457.8 2398.3 1456.8C2413.1 1455.9 2430 1451.4 2445.7 1450.2C2461.3 1449 2478 1448.1 2492.1 1449.7C2506.2 1451.3 2516.4 1457.5 2530.1 1459.8C2543.9 1462.1 2560.5 1463.5 2574.6 1463.6C2588.7 1463.8 2602 1461 2614.6 1460.7C2627.2 1460.4 2639.1 1461.6 2650.2 1461.8C2661.3 1462.1 2676.1 1462.4 2681.3 1462.5M2236.7 1450.5C2243.4 1450.6 2263.4 1450.8 2276.7 1450.7C2290.1 1450.6 2303.4 1449.7 2316.7 1449.9C2330.1 1450.2 2343.2 1451 2356.7 1452.5C2370.3 1453.9 2383.4 1457 2398.3 1458.5C2413.1 1460 2430 1461.2 2445.7 1461.4C2461.3 1461.6 2478 1460.8 2492.1 1459.6C2506.2 1458.4 2516.4 1455.7 2530.1 1454.3C2543.9 1452.8 2560.5 1451.1 2574.6 1451C2588.7 1450.9 2602 1452.6 2614.6 1453.7C2627.2 1454.8 2639.1 1458.1 2650.2 1457.6C2661.3 1457.1 2676.1 1451.7 2681.3 1450.5M2236.7 1453C2243.4 1452.9 2263.4 1452.6 2276.7 1452.4C2290.1 1452.2 2303.4 1452.4 2316.7 1452C2330.1 1451.6 2343.2 1450.7 2356.7 1449.9C2370.3 1449.1 2383.4 1446.8 2398.3 1447C2413.1 1447.2 2430 1450.6 2445.7 1451.2C2461.3 1451.7 2478 1451.9 2492.1 1450.1C2506.2 1448.3 2516.4 1442.7 2530.1 1440.2C2543.9 1437.7 2560.5 1435.3 2574.6 1434.9C2588.7 1434.5 2602 1436.9 2614.6 1438C2627.2 1439 2639.1 1438.7 2650.2 1441.2C2661.3 1443.7 2676.1 1451.1 2681.3 1453M2236.7 1396.3C2242.6 1396.4 2260.4 1396.4 2272.3 1397.1C2284.1 1397.8 2295.2 1398.7 2307.8 1400.3C2320.4 1402 2336 1405 2347.8 1406.8C2359.7 1408.5 2370.6 1409.9 2379 1410.8C2387.4 1411.8 2388.6 1412.4 2398.3 1412.4C2407.9 1412.4 2421.1 1411.2 2436.8 1410.8C2452.4 1410.4 2475.1 1410.4 2492.1 1410C2509.2 1409.6 2523.8 1409.5 2539 1408.4C2554.3 1407.3 2568.7 1405.2 2583.5 1403.6C2598.3 1402 2611.6 1399.9 2627.9 1398.7C2644.3 1397.5 2672.4 1396.7 2681.3 1396.3M2236.7 1397.1C2242.6 1397.4 2260.4 1397.8 2272.3 1398.7C2284.1 1399.7 2295.2 1401 2307.8 1402.8C2320.4 1404.5 2336 1407.5 2347.8 1409.2C2359.7 1411 2370.6 1412.4 2379 1413.2C2387.4 1414 2388.6 1414 2398.3 1414C2407.9 1414 2421.1 1413.5 2436.8 1413.2C2452.4 1413 2476.6 1412.3 2492.1 1412.4C2507.7 1412.6 2517.9 1414 2530.1 1414C2542.4 1414 2553.8 1413.8 2565.7 1412.4C2577.6 1411.1 2589.4 1408 2601.3 1406C2613.1 1404 2623.5 1401.8 2636.8 1400.3C2650.2 1398.9 2673.9 1397.7 2681.3 1397.1M2325.6 1415.7C2333 1415.9 2358 1416.9 2370.1 1417.3C2382.2 1417.7 2383.4 1417.8 2398.3 1418.1C2413.1 1418.4 2443.4 1418.6 2459 1418.9C2474.6 1419.2 2477.3 1419.7 2492.1 1419.7C2506.9 1419.7 2531.2 1419.3 2547.9 1418.9C2564.6 1418.5 2585 1417.5 2592.4 1417.3"/></g><use href="#b2_1" stroke="#a91d38" stroke-width="2"/></g>
<line x1="2398.3" y1="1172.1" x2="2398.3" y2="1494.7" stroke="#1a1ad0" stroke-width="1.1" stroke-linecap="butt" />
<line x1="2492.1" y1="1172.1" x2="2492.1" y2="1494.7" stroke="#1a1ad0" stroke-width="1.1" stroke-linecap="butt" />
<line x1="2236.7" y1="1333.4" x2="2681.3" y2="1333.4" stroke="#2a7a2a" stroke-width="1.1" stroke-dasharray="2 2.4"/>
<rect x="2236.7" y="1172.1" width="444.6" height="322.6" fill="none" stroke="#000" stroke-width="3"/>
<text x="2222.7" y="1180.1" font-size="35" text-anchor="end" >2</text>
<text x="2222.7" y="1260.8" font-size="35" text-anchor="end" >1</text>
<line x1="2236.7" y1="1252.8" x2="2245.7" y2="1252.8" stroke="#000" stroke-width="2.4" stroke-linecap="butt" />
<text x="2222.7" y="1341.4" font-size="35" text-anchor="end" >0</text>
<line x1="2236.7" y1="1333.4" x2="2245.7" y2="1333.4" stroke="#000" stroke-width="2.4" stroke-linecap="butt" />
<text x="2222.7" y="1422" font-size="35" text-anchor="end" >1</text>
<line x1="2173.7" y1="1412.5" x2="2197.7" y2="1412.5" stroke="#000" stroke-width="1.9" stroke-linecap="butt" />
<line x1="2236.7" y1="1414" x2="2245.7" y2="1414" stroke="#000" stroke-width="2.4" stroke-linecap="butt" />
<text x="2222.7" y="1502.7" font-size="35" text-anchor="end" >2</text>
<line x1="2173.7" y1="1493.2" x2="2197.7" y2="1493.2" stroke="#000" stroke-width="1.9" stroke-linecap="butt" />
<text x="2240.7" y="1542.3" font-size="38.3" text-anchor="middle" font-style="italic" >Γ</text>
<text x="2403.3" y="1545.2" font-size="38.3" text-anchor="middle" font-style="italic" >M</text>
<text x="2497.6" y="1545.2" font-size="38.3" text-anchor="middle" font-style="italic" >K</text>
<text x="2685.3" y="1542.3" font-size="38.3" text-anchor="middle" font-style="italic" >Γ</text>
<text transform="translate(2164.7 1343.4) rotate(-90)" font-size="37.5" text-anchor="middle" textLength="198" lengthAdjust="spacing">Energy/eV</text>
<text x="2253.3" y="1319.3" font-size="33" font-style="italic" >ε</text>
<text x="2272.5" y="1325.7" font-size="25.4" >F</text>
<text x="2459" y="1155.6" font-size="36.8" text-anchor="middle" textLength="106.7" lengthAdjust="spacing" >10.89°</text>
<line x1="2666.6" y1="1296.6" x2="2666.6" y2="1370.7" stroke="#14a64f" stroke-width="3.2" stroke-linecap="butt" />
<polygon points="2666.6,1275 2659.4,1302 2673.8,1302" fill="#14a64f"/>
<polygon points="2666.6,1392.3 2659.4,1365.3 2673.8,1365.3" fill="#14a64f"/>
<text x="2509" y="1323" font-size="36.5" textLength="133.3" lengthAdjust="spacing" >1.56 eV</text>
<clipPath id="cp3"><rect x="2824.7" y="1172.1" width="444" height="322.6"/></clipPath>
<g clip-path="url(#cp3)"><rect x="2824" y="1172" width="445" height="78" fill="#f7e9ee"/><rect x="2824" y="1420" width="445" height="76" fill="#f7e9ee"/></g>
<g clip-path="url(#cp3)" fill="none"><g stroke="#0b2146" stroke-width="3.4"><path id="b3_0" d="M2824.7 1255C2831.4 1254.8 2851.3 1255 2864.7 1253.8C2878 1252.7 2891.3 1250.3 2904.6 1248.1C2917.9 1246 2931 1241.8 2944.6 1241.1C2958.2 1240.4 2971.2 1242.3 2986 1244.2C3000.8 1246 3017.8 1251.4 3033.4 1252.3C3049 1253.1 3065.7 1250.2 3079.8 1249.1C3093.8 1248 3104 1245.5 3117.7 1245.8C3131.5 1246 3148.1 1250 3162.1 1250.6C3176.2 1251.1 3189.5 1250.4 3202.1 1249.2C3214.7 1248 3226.5 1242.6 3237.6 1243.6C3248.7 1244.5 3263.5 1253.1 3268.7 1255M2824.7 1245.9C2831.4 1245.8 2851.3 1246.2 2864.7 1245.3C2878 1244.4 2891.3 1242.6 2904.6 1240.4C2917.9 1238.2 2931 1234.2 2944.6 1232.2C2958.2 1230.2 2971.2 1228.6 2986 1228.4C3000.8 1228.2 3017.8 1229.6 3033.4 1230.9C3049 1232.3 3065.7 1235.3 3079.8 1236.5C3093.8 1237.6 3104 1237.5 3117.7 1237.9C3131.5 1238.3 3148.1 1237.4 3162.1 1239C3176.2 1240.6 3189.5 1245.3 3202.1 1247.3C3214.7 1249.3 3226.5 1251.1 3237.6 1250.9C3248.7 1250.7 3263.5 1246.7 3268.7 1245.9M2824.7 1233.1C2831.4 1233.5 2851.3 1235.6 2864.7 1235.6C2878 1235.5 2891.3 1233.6 2904.6 1232.7C2917.9 1231.9 2931 1229.7 2944.6 1230.4C2958.2 1231.1 2971.2 1234.7 2986 1236.7C3000.8 1238.7 3017.8 1241.7 3033.4 1242.4C3049 1243.1 3065.7 1241.5 3079.8 1240.7C3093.8 1239.9 3104 1238.1 3117.7 1237.5C3131.5 1236.9 3148.1 1237 3162.1 1237.2C3176.2 1237.5 3189.5 1238.5 3202.1 1239C3214.7 1239.6 3226.5 1241.5 3237.6 1240.6C3248.7 1239.6 3263.5 1234.3 3268.7 1233.1M2824.7 1231.7C2831.4 1231.3 2851.3 1230 2864.7 1229.6C2878 1229.2 2891.3 1228.6 2904.6 1229.2C2917.9 1229.8 2931 1232.5 2944.6 1233.1C2958.2 1233.7 2971.2 1233.6 2986 1232.8C3000.8 1232.1 3017.8 1229.8 3033.4 1228.7C3049 1227.6 3065.7 1226.7 3079.8 1226.5C3093.8 1226.2 3104 1226.6 3117.7 1227.1C3131.5 1227.7 3148.1 1229 3162.1 1229.7C3176.2 1230.4 3189.5 1231 3202.1 1231.3C3214.7 1231.6 3226.5 1231.4 3237.6 1231.4C3248.7 1231.5 3263.5 1231.7 3268.7 1231.7M2824.7 1231.1C2831.4 1230.4 2851.3 1228.4 2864.7 1227C2878 1225.6 2891.3 1224.3 2904.6 1222.5C2917.9 1220.6 2931 1217.3 2944.6 1215.9C2958.2 1214.5 2971.2 1214.4 2986 1214C3000.8 1213.6 3017.8 1214.2 3033.4 1213.6C3049 1213 3065.7 1210.1 3079.8 1210.2C3093.8 1210.3 3104 1212.5 3117.7 1214.3C3131.5 1216.1 3148.1 1220.5 3162.1 1221.1C3176.2 1221.7 3189.5 1219.2 3202.1 1218.1C3214.7 1217.1 3226.5 1212.7 3237.6 1214.9C3248.7 1217 3263.5 1228.4 3268.7 1231.1M2824.7 1216.7C2831.4 1215.7 2851.3 1212.2 2864.7 1211C2878 1209.9 2891.3 1209.4 2904.6 1209.8C2917.9 1210.2 2931 1213.2 2944.6 1213.3C2958.2 1213.5 2971.2 1211.6 2986 1210.9C3000.8 1210.1 3017.8 1208.5 3033.4 1208.8C3049 1209 3065.7 1211.8 3079.8 1212.3C3093.8 1212.9 3104 1212.7 3117.7 1211.9C3131.5 1211.2 3148.1 1208.4 3162.1 1207.8C3176.2 1207.2 3189.5 1207.4 3202.1 1208.4C3214.7 1209.5 3226.5 1212.7 3237.6 1214C3248.7 1215.4 3263.5 1216.2 3268.7 1216.7M2824.7 1205.7C2831.4 1204.6 2851.3 1200.1 2864.7 1199.1C2878 1198.2 2891.3 1199.3 2904.6 1200C2917.9 1200.6 2931 1202.7 2944.6 1202.9C2958.2 1203.1 2971.2 1201.4 2986 1201C3000.8 1200.7 3017.8 1200.2 3033.4 1200.7C3049 1201.2 3065.7 1203.1 3079.8 1204C3093.8 1204.9 3104 1206.1 3117.7 1206.3C3131.5 1206.5 3148.1 1205.3 3162.1 1205.2C3176.2 1205.2 3189.5 1204.9 3202.1 1205.9C3214.7 1206.9 3226.5 1211.4 3237.6 1211.4C3248.7 1211.4 3263.5 1206.7 3268.7 1205.7M2824.7 1197.2C2831.4 1198.1 2851.3 1201.8 2864.7 1202.3C2878 1202.9 2891.3 1201 2904.6 1200.5C2917.9 1200 2931 1198.9 2944.6 1199.4C2958.2 1199.9 2971.2 1202.2 2986 1203.3C3000.8 1204.5 3017.8 1206.3 3033.4 1206.4C3049 1206.5 3065.7 1204.2 3079.8 1203.9C3093.8 1203.5 3104 1204.4 3117.7 1204.5C3131.5 1204.7 3148.1 1205.8 3162.1 1204.7C3176.2 1203.6 3189.5 1199.7 3202.1 1197.9C3214.7 1196.1 3226.5 1194.2 3237.6 1194.1C3248.7 1194 3263.5 1196.7 3268.7 1197.2M2824.7 1186.2C2831.4 1187 2851.3 1188.6 2864.7 1190.5C2878 1192.3 2891.3 1195.8 2904.6 1197.2C2917.9 1198.5 2931 1198.9 2944.6 1198.6C2958.2 1198.4 2971.2 1196.5 2986 1195.8C3000.8 1195.1 3017.8 1194.5 3033.4 1194.3C3049 1194.2 3065.7 1195.3 3079.8 1195.1C3093.8 1194.8 3104 1193.9 3117.7 1193C3131.5 1192.2 3148.1 1189.2 3162.1 1190C3176.2 1190.7 3189.5 1194.8 3202.1 1197.4C3214.7 1200.1 3226.5 1207.6 3237.6 1205.7C3248.7 1203.9 3263.5 1189.5 3268.7 1186.2M2824.7 1388.2C2828.4 1388.4 2839.5 1388.2 2846.9 1389C2854.3 1389.9 2861 1391.2 2869.1 1393.1C2877.2 1395 2886.9 1397.5 2895.7 1400.3C2904.6 1403.2 2913.5 1406.8 2922.4 1410C2931.3 1413.2 2940.9 1417.1 2949 1419.7C2957.2 1422.2 2965 1424.1 2971.2 1425.3C2977.4 1426.6 2977.2 1426.6 2986 1427C2994.9 1427.4 3012.9 1426.6 3024.5 1427.8C3036.1 1429 3046.4 1431.8 3055.6 1434.2C3064.8 1436.6 3075.7 1440.9 3079.8 1442.3M2824.7 1388.2C2830.6 1388.4 2849.1 1388.2 2860.2 1389C2871.3 1389.9 2880.9 1391.3 2891.3 1393.1C2901.7 1394.8 2911.3 1396.7 2922.4 1399.5C2933.5 1402.4 2947.3 1406.3 2957.9 1410C2968.5 1413.8 2977.2 1418.8 2986 1422.1C2994.9 1425.5 3007 1428.8 3011.2 1430.2M2824.7 1388.2C2827.7 1388.8 2836.5 1389.6 2842.5 1391.5C2848.4 1393.3 2854.3 1396.4 2860.2 1399.5C2866.1 1402.6 2872.1 1406.3 2878 1410C2883.9 1413.8 2889.8 1418.1 2895.7 1422.1C2901.7 1426.1 2906.8 1430.2 2913.5 1434.2C2920.2 1438.2 2932 1444.3 2935.7 1446.3M3268.7 1388.2C3265 1388.4 3253.9 1388.4 3246.5 1389C3239.1 1389.7 3232.4 1390.8 3224.3 1392.3C3216.2 1393.8 3206.5 1395.6 3197.7 1397.9C3188.8 1400.2 3179.9 1403.3 3171 1406C3162.1 1408.7 3153.3 1411.6 3144.4 1414C3135.5 1416.5 3126.6 1418.5 3117.7 1420.5C3108.9 1422.5 3095.5 1425.2 3091.1 1426.1M3268.7 1388.2C3265.7 1388.6 3256.9 1389.2 3250.9 1390.7C3245 1392.1 3239.1 1394.3 3233.2 1397.1C3227.3 1399.9 3220.6 1404.1 3215.4 1407.6C3210.2 1411.1 3206.5 1415 3202.1 1418.1C3197.7 1421.2 3191 1424.8 3188.8 1426.1M2869.1 1498.7C2873.5 1496 2886.9 1487.3 2895.7 1482.6C2904.6 1477.9 2913.5 1471.4 2922.4 1470.5C2931.3 1469.6 2940.1 1472.3 2949 1477C2957.9 1481.7 2971.2 1495.1 2975.7 1498.7M3011.2 1498.7C3015.6 1494.7 3026.4 1481.9 3037.8 1474.5C3049.3 1467.1 3067.2 1455 3079.8 1454.4C3092.4 1453.7 3102.5 1463.8 3113.3 1470.5C3124.1 1477.2 3139.2 1490.7 3144.4 1494.7M3179.9 1498.7C3184.3 1496.7 3197.7 1486.6 3206.5 1486.6C3215.4 1486.6 3228.7 1496.7 3233.2 1498.7M2957.9 1438.2C2969 1438.5 3004.2 1439.1 3024.5 1439.9C3044.8 1440.7 3061.3 1443.4 3079.8 1443.1C3098.3 1442.8 3118.8 1439.7 3135.5 1438.2C3152.2 1436.8 3172.5 1434.9 3179.9 1434.2M2824.7 1464.5C2831.4 1464.7 2851.3 1465.4 2864.7 1465.9C2878 1466.3 2891.3 1466.3 2904.6 1467.2C2917.9 1468.2 2931 1470.4 2944.6 1471.5C2958.2 1472.6 2971.2 1473.6 2986 1473.6C3000.8 1473.7 3017.8 1472.3 3033.4 1471.5C3049 1470.8 3065.7 1469.6 3079.8 1469.4C3093.8 1469.1 3104 1469.7 3117.7 1470C3131.5 1470.2 3148.1 1470.9 3162.1 1470.9C3176.2 1470.8 3189.5 1470.3 3202.1 1469.5C3214.7 1468.7 3226.5 1467 3237.6 1466.2C3248.7 1465.3 3263.5 1464.8 3268.7 1464.5M2824.7 1457.5C2831.4 1458.6 2851.3 1462.6 2864.7 1464C2878 1465.5 2891.3 1465.7 2904.6 1466C2917.9 1466.3 2931 1466.3 2944.6 1465.9C2958.2 1465.4 2971.2 1464.4 2986 1463.5C3000.8 1462.5 3017.8 1460.7 3033.4 1460.2C3049 1459.7 3065.7 1460 3079.8 1460.5C3093.8 1461 3104 1462.8 3117.7 1463.2C3131.5 1463.6 3148.1 1463.1 3162.1 1462.8C3176.2 1462.5 3189.5 1461.5 3202.1 1461.2C3214.7 1461 3226.5 1461.7 3237.6 1461.1C3248.7 1460.5 3263.5 1458.1 3268.7 1457.5M2824.7 1462.8C2831.4 1462.6 2851.3 1462.2 2864.7 1461.6C2878 1461 2891.3 1460.2 2904.6 1459.1C2917.9 1458 2931 1456.4 2944.6 1455.1C2958.2 1453.8 2971.2 1452.3 2986 1451.2C3000.8 1450.2 3017.8 1449.3 3033.4 1448.8C3049 1448.3 3065.7 1447.5 3079.8 1448C3093.8 1448.5 3104 1449.9 3117.7 1451.9C3131.5 1453.9 3148.1 1457.9 3162.1 1459.9C3176.2 1462 3189.5 1463.2 3202.1 1464.1C3214.7 1465 3226.5 1465.6 3237.6 1465.4C3248.7 1465.2 3263.5 1463.2 3268.7 1462.8M2824.7 1460.2C2831.4 1459.7 2851.3 1458.3 2864.7 1457.4C2878 1456.6 2891.3 1455.9 2904.6 1455.1C2917.9 1454.3 2931 1453.3 2944.6 1452.8C2958.2 1452.2 2971.2 1451.8 2986 1451.8C3000.8 1451.8 3017.8 1452.5 3033.4 1452.9C3049 1453.2 3065.7 1453.7 3079.8 1453.9C3093.8 1454.1 3104 1454 3117.7 1454.1C3131.5 1454.1 3148.1 1454.1 3162.1 1454.2C3176.2 1454.2 3189.5 1453.8 3202.1 1454.3C3214.7 1454.7 3226.5 1455.6 3237.6 1456.6C3248.7 1457.6 3263.5 1459.6 3268.7 1460.2M2824.7 1446.8C2831.4 1446.3 2851.3 1444.5 2864.7 1443.7C2878 1442.9 2891.3 1442.1 2904.6 1441.9C2917.9 1441.7 2931 1442.5 2944.6 1442.6C2958.2 1442.8 2971.2 1442.5 2986 1442.6C3000.8 1442.6 3017.8 1442.8 3033.4 1443C3049 1443.3 3065.7 1443.9 3079.8 1444.1C3093.8 1444.4 3104 1444.8 3117.7 1444.6C3131.5 1444.4 3148.1 1443.1 3162.1 1442.9C3176.2 1442.7 3189.5 1442.4 3202.1 1443.4C3214.7 1444.3 3226.5 1447.9 3237.6 1448.4C3248.7 1449 3263.5 1447.1 3268.7 1446.8M2824.7 1433.3C2831.4 1433.6 2851.3 1434.8 2864.7 1435.5C2878 1436.2 2891.3 1437.1 2904.6 1437.5C2917.9 1437.9 2931 1437.6 2944.6 1438C2958.2 1438.4 2971.2 1439.2 2986 1440C3000.8 1440.8 3017.8 1442.3 3033.4 1442.8C3049 1443.4 3065.7 1443.2 3079.8 1443.3C3093.8 1443.4 3104 1443.1 3117.7 1443.3C3131.5 1443.5 3148.1 1444.2 3162.1 1444.6C3176.2 1444.9 3189.5 1445.8 3202.1 1445.5C3214.7 1445.3 3226.5 1445.3 3237.6 1443.2C3248.7 1441.2 3263.5 1434.9 3268.7 1433.3M2824.7 1435.9C2831.4 1436.3 2851.3 1438.1 2864.7 1438.3C2878 1438.5 2891.3 1437.8 2904.6 1437.2C2917.9 1436.6 2931 1435 2944.6 1434.6C2958.2 1434.2 2971.2 1434.5 2986 1434.7C3000.8 1434.8 3017.8 1435.4 3033.4 1435.4C3049 1435.4 3065.7 1434.9 3079.8 1434.5C3093.8 1434.1 3104 1433.6 3117.7 1433.3C3131.5 1432.9 3148.1 1432.5 3162.1 1432.5C3176.2 1432.6 3189.5 1433 3202.1 1433.6C3214.7 1434.2 3226.5 1435.8 3237.6 1436.2C3248.7 1436.5 3263.5 1435.9 3268.7 1435.9M2824.7 1428.2C2831.4 1428.7 2851.3 1430.3 2864.7 1431.6C2878 1432.9 2891.3 1435.6 2904.6 1435.9C2917.9 1436.2 2931 1434.2 2944.6 1433.2C2958.2 1432.3 2971.2 1430.7 2986 1430.2C3000.8 1429.7 3017.8 1430.7 3033.4 1430.3C3049 1429.8 3065.7 1428.3 3079.8 1427.3C3093.8 1426.4 3104 1424.8 3117.7 1424.3C3131.5 1423.9 3148.1 1423.8 3162.1 1424.7C3176.2 1425.5 3189.5 1428 3202.1 1429.4C3214.7 1430.7 3226.5 1433.1 3237.6 1432.9C3248.7 1432.7 3263.5 1428.9 3268.7 1428.2"/></g><use href="#b3_0" stroke="#153c74" stroke-width="1.5"/></g>
<g clip-path="url(#cp3)" fill="none"><g stroke="#6e1226" stroke-width="3.2"><path id="b3_1" d="M2824.7 1232.2C2831.4 1233.8 2851.3 1238.4 2864.7 1241.4C2878 1244.3 2891.3 1247.4 2904.6 1249.7C2917.9 1252 2931 1253.3 2944.6 1255.2C2958.2 1257 2971.2 1259.9 2986 1261.1C3000.8 1262.2 3017.8 1263 3033.4 1262.1C3049 1261.2 3065.7 1258.1 3079.8 1255.6C3093.8 1253.1 3104 1249.2 3117.7 1247.2C3131.5 1245.2 3148.1 1244.1 3162.1 1243.6C3176.2 1243.1 3189.5 1244.9 3202.1 1244.3C3214.7 1243.8 3226.5 1242.3 3237.6 1240.3C3248.7 1238.3 3263.5 1233.6 3268.7 1232.2M2824.7 1253.1C2831.4 1254 2851.3 1258.7 2864.7 1258.7C2878 1258.6 2891.3 1254.4 2904.6 1252.6C2917.9 1250.8 2931 1250.2 2944.6 1248.1C2958.2 1246 2971.2 1242.8 2986 1240C3000.8 1237.3 3017.8 1232.2 3033.4 1231.7C3049 1231.1 3065.7 1233.8 3079.8 1236.7C3093.8 1239.5 3104 1244.8 3117.7 1248.7C3131.5 1252.6 3148.1 1258.1 3162.1 1260C3176.2 1261.9 3189.5 1260.8 3202.1 1260C3214.7 1259.1 3226.5 1255.9 3237.6 1254.8C3248.7 1253.6 3263.5 1253.3 3268.7 1253.1M2824.7 1238.2C2831.4 1237.7 2851.3 1235.3 2864.7 1234.9C2878 1234.4 2891.3 1235 2904.6 1235.7C2917.9 1236.3 2931 1236.3 2944.6 1238.8C2958.2 1241.3 2971.2 1247.6 2986 1250.6C3000.8 1253.7 3017.8 1256.7 3033.4 1257C3049 1257.3 3065.7 1253.5 3079.8 1252.6C3093.8 1251.7 3104 1252.2 3117.7 1251.7C3131.5 1251.3 3148.1 1251 3162.1 1250C3176.2 1248.9 3189.5 1247.1 3202.1 1245.3C3214.7 1243.5 3226.5 1240.4 3237.6 1239.2C3248.7 1238 3263.5 1238.4 3268.7 1238.2M2824.7 1234C2831.4 1234.5 2851.3 1236.8 2864.7 1236.7C2878 1236.6 2891.3 1234.1 2904.6 1233.2C2917.9 1232.3 2931 1232.5 2944.6 1231.2C2958.2 1230 2971.2 1228 2986 1225.9C3000.8 1223.9 3017.8 1219.2 3033.4 1218.9C3049 1218.6 3065.7 1222.2 3079.8 1224C3093.8 1225.9 3104 1228.3 3117.7 1230.1C3131.5 1232 3148.1 1233.6 3162.1 1235.1C3176.2 1236.7 3189.5 1238.4 3202.1 1239.6C3214.7 1240.8 3226.5 1243.5 3237.6 1242.6C3248.7 1241.6 3263.5 1235.4 3268.7 1234M2824.7 1229.3C2831.4 1230.1 2851.3 1234.5 2864.7 1234C2878 1233.4 2891.3 1229.2 2904.6 1226.3C2917.9 1223.5 2931 1217.2 2944.6 1216.8C2958.2 1216.4 2971.2 1220.8 2986 1223.9C3000.8 1227 3017.8 1233 3033.4 1235.3C3049 1237.6 3065.7 1238.4 3079.8 1237.6C3093.8 1236.8 3104 1232.7 3117.7 1230.4C3131.5 1228.1 3148.1 1224.8 3162.1 1223.9C3176.2 1223 3189.5 1225.1 3202.1 1225C3214.7 1225 3226.5 1222.7 3237.6 1223.4C3248.7 1224.1 3263.5 1228.4 3268.7 1229.3M2824.7 1225C2831.4 1224.8 2851.3 1223.7 2864.7 1223.8C2878 1223.8 2891.3 1224.8 2904.6 1225.2C2917.9 1225.6 2931 1225.6 2944.6 1226C2958.2 1226.4 2971.2 1227.8 2986 1227.6C3000.8 1227.3 3017.8 1225.5 3033.4 1224.6C3049 1223.8 3065.7 1221.7 3079.8 1222.2C3093.8 1222.6 3104 1225.7 3117.7 1227.3C3131.5 1228.9 3148.1 1232.1 3162.1 1232C3176.2 1231.8 3189.5 1228.2 3202.1 1226.7C3214.7 1225.2 3226.5 1223.3 3237.6 1223C3248.7 1222.7 3263.5 1224.6 3268.7 1225M2824.7 1210.6C2831.4 1210.9 2851.3 1211 2864.7 1212.3C2878 1213.5 2891.3 1216.1 2904.6 1218C2917.9 1219.9 2931 1221.8 2944.6 1223.6C2958.2 1225.5 2971.2 1227.6 2986 1229.3C3000.8 1231 3017.8 1232.5 3033.4 1233.8C3049 1235.1 3065.7 1237.5 3079.8 1237.2C3093.8 1236.9 3104 1235.1 3117.7 1232.1C3131.5 1229.2 3148.1 1222.3 3162.1 1219.6C3176.2 1216.9 3189.5 1216.8 3202.1 1216.1C3214.7 1215.4 3226.5 1216.2 3237.6 1215.3C3248.7 1214.4 3263.5 1211.4 3268.7 1210.6M2824.7 1219.7C2831.4 1219 2851.3 1216.4 2864.7 1215.7C2878 1215 2891.3 1216.7 2904.6 1215.5C2917.9 1214.2 2931 1210.2 2944.6 1208.3C2958.2 1206.3 2971.2 1204.5 2986 1203.6C3000.8 1202.8 3017.8 1203.3 3033.4 1203.4C3049 1203.5 3065.7 1203.2 3079.8 1204.2C3093.8 1205.2 3104 1206.8 3117.7 1209.6C3131.5 1212.3 3148.1 1217.6 3162.1 1220.8C3176.2 1223.9 3189.5 1227.4 3202.1 1228.3C3214.7 1229.3 3226.5 1227.7 3237.6 1226.3C3248.7 1224.8 3263.5 1220.8 3268.7 1219.7M2824.7 1213.5C2831.4 1213.6 2851.3 1213.6 2864.7 1214.4C2878 1215.2 2891.3 1217.3 2904.6 1218.3C2917.9 1219.3 2931 1220.3 2944.6 1220.3C2958.2 1220.4 2971.2 1218.6 2986 1218.4C3000.8 1218.2 3017.8 1218.7 3033.4 1219C3049 1219.2 3065.7 1219.1 3079.8 1219.9C3093.8 1220.8 3104 1224.4 3117.7 1224.3C3131.5 1224.2 3148.1 1221.9 3162.1 1219.3C3176.2 1216.7 3189.5 1211 3202.1 1208.7C3214.7 1206.4 3226.5 1204.5 3237.6 1205.3C3248.7 1206.1 3263.5 1212.1 3268.7 1213.5M2824.7 1209.3C2831.4 1210.7 2851.3 1216.8 2864.7 1218.1C2878 1219.5 2891.3 1218.5 2904.6 1217.5C2917.9 1216.4 2931 1212.7 2944.6 1211.8C2958.2 1210.9 2971.2 1212.4 2986 1212.3C3000.8 1212.1 3017.8 1212.3 3033.4 1211C3049 1209.7 3065.7 1206 3079.8 1204.4C3093.8 1202.7 3104 1199.9 3117.7 1201.1C3131.5 1202.3 3148.1 1208.1 3162.1 1211.8C3176.2 1215.4 3189.5 1221.8 3202.1 1223C3214.7 1224.2 3226.5 1221.4 3237.6 1219.1C3248.7 1216.9 3263.5 1210.9 3268.7 1209.3M2824.7 1215.5C2831.4 1215.7 2851.3 1217.5 2864.7 1216.9C2878 1216.3 2891.3 1214 2904.6 1211.9C2917.9 1209.8 2931 1207.1 2944.6 1204.1C2958.2 1201 2971.2 1196.6 2986 1193.7C3000.8 1190.9 3017.8 1186.8 3033.4 1186.9C3049 1187 3065.7 1191.3 3079.8 1194.3C3093.8 1197.4 3104 1202.2 3117.7 1205.2C3131.5 1208.2 3148.1 1210.1 3162.1 1212.4C3176.2 1214.8 3189.5 1217.8 3202.1 1219C3214.7 1220.3 3226.5 1220.4 3237.6 1219.8C3248.7 1219.2 3263.5 1216.2 3268.7 1215.5M2824.7 1215.2C2831.4 1213.7 2851.3 1208.6 2864.7 1206.1C2878 1203.7 2891.3 1202.7 2904.6 1200.7C2917.9 1198.6 2931 1195.9 2944.6 1193.7C2958.2 1191.6 2971.2 1187.8 2986 1187.8C3000.8 1187.8 3017.8 1191.8 3033.4 1193.7C3049 1195.6 3065.7 1198.6 3079.8 1199.2C3093.8 1199.8 3104 1196.2 3117.7 1197.5C3131.5 1198.8 3148.1 1203.2 3162.1 1207.1C3176.2 1210.9 3189.5 1218.1 3202.1 1220.7C3214.7 1223.3 3226.5 1223.6 3237.6 1222.7C3248.7 1221.8 3263.5 1216.5 3268.7 1215.2M2824.7 1199.1C2831.4 1199 2851.3 1198.7 2864.7 1198.5C2878 1198.3 2891.3 1199.1 2904.6 1198.1C2917.9 1197.1 2931 1193.4 2944.6 1192.3C2958.2 1191.3 2971.2 1191.2 2986 1191.8C3000.8 1192.3 3017.8 1194.8 3033.4 1195.6C3049 1196.4 3065.7 1197.3 3079.8 1196.4C3093.8 1195.5 3104 1192.1 3117.7 1190C3131.5 1187.9 3148.1 1184 3162.1 1184C3176.2 1184 3189.5 1187.9 3202.1 1189.9C3214.7 1192 3226.5 1194.9 3237.6 1196.5C3248.7 1198 3263.5 1198.7 3268.7 1199.1M2824.7 1213.1C2831.4 1210.6 2851.3 1202 2864.7 1198.1C2878 1194.1 2891.3 1190.8 2904.6 1189.6C2917.9 1188.4 2931 1190.2 2944.6 1190.9C2958.2 1191.5 2971.2 1193.2 2986 1193.7C3000.8 1194.1 3017.8 1194.5 3033.4 1193.6C3049 1192.7 3065.7 1189.6 3079.8 1188.4C3093.8 1187.1 3104 1185.2 3117.7 1186C3131.5 1186.8 3148.1 1190.6 3162.1 1193.3C3176.2 1196.1 3189.5 1199.9 3202.1 1202.6C3214.7 1205.3 3226.5 1207.7 3237.6 1209.5C3248.7 1211.2 3263.5 1212.5 3268.7 1213.1M2824.7 1180.8C2831.4 1181.9 2851.3 1186.6 2864.7 1187.5C2878 1188.5 2891.3 1185.8 2904.6 1186.5C2917.9 1187.2 2931 1190.6 2944.6 1191.6C2958.2 1192.7 2971.2 1193.2 2986 1192.6C3000.8 1192 3017.8 1188.3 3033.4 1187.8C3049 1187.4 3065.7 1189.4 3079.8 1190C3093.8 1190.6 3104 1192.1 3117.7 1191.5C3131.5 1190.8 3148.1 1188.1 3162.1 1186.3C3176.2 1184.4 3189.5 1181.4 3202.1 1180.1C3214.7 1178.8 3226.5 1178.3 3237.6 1178.4C3248.7 1178.5 3263.5 1180.4 3268.7 1180.8M2824.7 1164.2C2831.4 1165.2 2851.3 1167.9 2864.7 1170.1C2878 1172.2 2891.3 1174.7 2904.6 1177.1C2917.9 1179.5 2931 1182.3 2944.6 1184.4C2958.2 1186.6 2971.2 1188.8 2986 1190C3000.8 1191.1 3017.8 1191.9 3033.4 1191.6C3049 1191.3 3065.7 1189 3079.8 1188C3093.8 1187.1 3104 1185.7 3117.7 1185.8C3131.5 1185.8 3148.1 1188.3 3162.1 1188.3C3176.2 1188.2 3189.5 1186.7 3202.1 1185.5C3214.7 1184.3 3226.5 1184.5 3237.6 1180.9C3248.7 1177.4 3263.5 1167 3268.7 1164.2M2824.7 1172.5C2831.4 1172 2851.3 1170.7 2864.7 1169.3C2878 1167.9 2891.3 1164.9 2904.6 1164.2C2917.9 1163.5 2931 1162.9 2944.6 1165.2C2958.2 1167.6 2971.2 1174.8 2986 1178.2C3000.8 1181.6 3017.8 1185.3 3033.4 1185.7C3049 1186 3065.7 1181.1 3079.8 1180.3C3093.8 1179.5 3104 1181 3117.7 1180.7C3131.5 1180.4 3148.1 1179.5 3162.1 1178.6C3176.2 1177.7 3189.5 1175.9 3202.1 1175.2C3214.7 1174.5 3226.5 1174.9 3237.6 1174.4C3248.7 1174 3263.5 1172.8 3268.7 1172.5M2824.7 1168.7C2831.4 1168.8 2851.3 1169.3 2864.7 1169.6C2878 1169.9 2891.3 1169.4 2904.6 1170.7C2917.9 1171.9 2931 1175.7 2944.6 1177C2958.2 1178.3 2971.2 1178.8 2986 1178.7C3000.8 1178.5 3017.8 1177.4 3033.4 1176C3049 1174.7 3065.7 1171.8 3079.8 1170.6C3093.8 1169.4 3104 1168.2 3117.7 1169C3131.5 1169.9 3148.1 1174.3 3162.1 1175.6C3176.2 1176.8 3189.5 1176.6 3202.1 1176.6C3214.7 1176.5 3226.5 1176.4 3237.6 1175.1C3248.7 1173.8 3263.5 1169.8 3268.7 1168.7M2824.7 1165.2C2831.4 1165.9 2851.3 1169.2 2864.7 1169.1C2878 1169.1 2891.3 1166.2 2904.6 1164.9C2917.9 1163.6 2931 1160.9 2944.6 1161.6C2958.2 1162.3 2971.2 1165.3 2986 1169.1C3000.8 1172.9 3017.8 1181 3033.4 1184.1C3049 1187.2 3065.7 1189.9 3079.8 1187.8C3093.8 1185.7 3104 1176.8 3117.7 1171.4C3131.5 1166 3148.1 1158.6 3162.1 1155.3C3176.2 1151.9 3189.5 1151.2 3202.1 1151.2C3214.7 1151.2 3226.5 1152.9 3237.6 1155.2C3248.7 1157.5 3263.5 1163.5 3268.7 1165.2M2824.7 1150.5C2831.4 1150.7 2851.3 1150.4 2864.7 1151.7C2878 1153.1 2891.3 1157.4 2904.6 1158.7C2917.9 1160.1 2931 1161 2944.6 1159.7C2958.2 1158.4 2971.2 1152 2986 1150.9C3000.8 1149.9 3017.8 1151.2 3033.4 1153.4C3049 1155.7 3065.7 1162.7 3079.8 1164.5C3093.8 1166.3 3104 1165 3117.7 1164.2C3131.5 1163.3 3148.1 1160 3162.1 1159.5C3176.2 1159 3189.5 1159.5 3202.1 1161.1C3214.7 1162.8 3226.5 1171.3 3237.6 1169.6C3248.7 1167.8 3263.5 1153.7 3268.7 1150.5M2824.7 1281C2828.4 1280.8 2839.5 1281.1 2846.9 1280.2C2854.3 1279.2 2861 1277.5 2869.1 1275.3C2877.2 1273.2 2886.9 1270.4 2895.7 1267.3C2904.6 1264.2 2913.5 1260.3 2922.4 1256.8C2931.3 1253.3 2940.1 1249.7 2949 1246.3C2957.9 1242.9 2971.2 1238.2 2975.7 1236.6M3268.7 1281C3265 1280.8 3253.9 1281.1 3246.5 1280.2C3239.1 1279.2 3232.4 1277.6 3224.3 1275.3C3216.2 1273 3206.5 1269.8 3197.7 1266.5C3188.8 1263.1 3179.9 1258.8 3171 1255.2C3162.1 1251.5 3153.3 1248 3144.4 1244.7C3135.5 1241.3 3122.2 1236.6 3117.7 1235M2824.7 1244.7C2832.1 1246 2854.3 1250.1 2869.1 1252.8C2883.9 1255.4 2898.7 1258.7 2913.5 1260.8C2928.3 1263 2945.8 1264.6 2957.9 1265.7C2970 1266.7 2974.9 1266.1 2986 1267.3C2997.1 1268.5 3012.9 1271.4 3024.5 1272.9C3036.1 1274.4 3046.4 1275.5 3055.6 1276.1C3064.8 1276.8 3070.2 1277.1 3079.8 1276.9C3089.4 1276.8 3100.3 1276.7 3113.3 1275.3C3126.3 1274 3142.9 1271.6 3157.7 1268.9C3172.5 1266.2 3188.8 1262.2 3202.1 1259.2C3215.4 1256.2 3226.5 1253.6 3237.6 1251.1C3248.7 1248.7 3263.5 1245.8 3268.7 1244.7M2824.7 1252.8C2833.6 1253.8 2859.5 1257.6 2878 1259.2C2896.5 1260.8 2917.7 1261.5 2935.7 1262.4C2953.7 1263.4 2971.2 1265.4 2986 1264.8C3000.8 1264.3 3008.9 1260.9 3024.5 1259.2C3040.1 1257.5 3061.3 1254.8 3079.8 1254.4C3098.3 1254 3115.1 1256.1 3135.5 1256.8C3155.9 1257.5 3179.9 1259.1 3202.1 1258.4C3224.3 1257.7 3257.6 1253.7 3268.7 1252.8M2824.7 1459.6C2831.4 1458.7 2851.3 1455.9 2864.7 1454.3C2878 1452.7 2891.3 1450.8 2904.6 1450C2917.9 1449.2 2931 1449.8 2944.6 1449.6C2958.2 1449.4 2971.2 1449 2986 1448.6C3000.8 1448.3 3017.8 1447.9 3033.4 1447.5C3049 1447.1 3065.7 1446 3079.8 1446.3C3093.8 1446.7 3104 1447.7 3117.7 1449.4C3131.5 1451.2 3148.1 1455.6 3162.1 1456.7C3176.2 1457.9 3189.5 1456.7 3202.1 1456.2C3214.7 1455.8 3226.5 1453.5 3237.6 1454.1C3248.7 1454.6 3263.5 1458.7 3268.7 1459.6M2824.7 1451.3C2831.4 1451.6 2851.3 1452.4 2864.7 1452.7C2878 1452.9 2891.3 1452.5 2904.6 1452.8C2917.9 1453.2 2931 1454.4 2944.6 1454.7C2958.2 1455 2971.2 1455.1 2986 1454.7C3000.8 1454.3 3017.8 1452.9 3033.4 1452.4C3049 1451.8 3065.7 1451.7 3079.8 1451.7C3093.8 1451.6 3104 1451.8 3117.7 1451.8C3131.5 1451.9 3148.1 1452.3 3162.1 1451.9C3176.2 1451.5 3189.5 1450.1 3202.1 1449.3C3214.7 1448.6 3226.5 1447 3237.6 1447.3C3248.7 1447.7 3263.5 1450.7 3268.7 1451.3M2824.7 1448.5C2831.4 1448.5 2851.3 1448.9 2864.7 1448.4C2878 1447.9 2891.3 1446.1 2904.6 1445.6C2917.9 1445.1 2931 1445.6 2944.6 1445.3C2958.2 1445.1 2971.2 1444.8 2986 1444.1C3000.8 1443.5 3017.8 1441.8 3033.4 1441.4C3049 1440.9 3065.7 1441.8 3079.8 1441.5C3093.8 1441.3 3104 1440 3117.7 1439.8C3131.5 1439.6 3148.1 1439.3 3162.1 1440.3C3176.2 1441.3 3189.5 1444.2 3202.1 1445.7C3214.7 1447.3 3226.5 1449.2 3237.6 1449.6C3248.7 1450.1 3263.5 1448.7 3268.7 1448.5M2824.7 1444.7C2831.4 1444.6 2851.3 1443.8 2864.7 1443.7C2878 1443.7 2891.3 1444.8 2904.6 1444.5C2917.9 1444.3 2931 1442.9 2944.6 1442.2C2958.2 1441.4 2971.2 1440.9 2986 1440.2C3000.8 1439.5 3017.8 1438.4 3033.4 1438C3049 1437.6 3065.7 1437.1 3079.8 1437.7C3093.8 1438.2 3104 1440.4 3117.7 1441.5C3131.5 1442.5 3148.1 1443.5 3162.1 1443.9C3176.2 1444.3 3189.5 1443.9 3202.1 1443.7C3214.7 1443.5 3226.5 1442.5 3237.6 1442.7C3248.7 1442.8 3263.5 1444.4 3268.7 1444.7M2824.7 1437.4C2831.4 1437.7 2851.3 1438.7 2864.7 1439.2C2878 1439.7 2891.3 1440.2 2904.6 1440.2C2917.9 1440.2 2931 1439 2944.6 1438.9C2958.2 1438.9 2971.2 1439.4 2986 1439.9C3000.8 1440.4 3017.8 1441.5 3033.4 1442.1C3049 1442.6 3065.7 1443.4 3079.8 1443.4C3093.8 1443.5 3104 1442.9 3117.7 1442.5C3131.5 1442.1 3148.1 1440.9 3162.1 1440.9C3176.2 1441 3189.5 1442.7 3202.1 1442.8C3214.7 1443 3226.5 1442.9 3237.6 1442C3248.7 1441.1 3263.5 1438.2 3268.7 1437.4M2824.7 1433.3C2831.4 1433.3 2851.3 1432.7 2864.7 1433.1C2878 1433.5 2891.3 1434.7 2904.6 1435.6C2917.9 1436.6 2931 1438 2944.6 1438.8C2958.2 1439.7 2971.2 1440.1 2986 1440.6C3000.8 1441.2 3017.8 1442 3033.4 1442C3049 1442 3065.7 1441.6 3079.8 1440.5C3093.8 1439.4 3104 1437.1 3117.7 1435.7C3131.5 1434.3 3148.1 1432.3 3162.1 1432.2C3176.2 1432 3189.5 1434.2 3202.1 1434.6C3214.7 1435.1 3226.5 1435 3237.6 1434.8C3248.7 1434.6 3263.5 1433.5 3268.7 1433.3M2824.7 1438.4C2831.4 1437.9 2851.3 1435.7 2864.7 1435.1C2878 1434.5 2891.3 1434.7 2904.6 1434.9C2917.9 1435.1 2931 1435.9 2944.6 1436.2C2958.2 1436.4 2971.2 1436.4 2986 1436.6C3000.8 1436.9 3017.8 1437.9 3033.4 1437.6C3049 1437.3 3065.7 1436 3079.8 1434.7C3093.8 1433.4 3104 1430.4 3117.7 1429.6C3131.5 1428.8 3148.1 1429.3 3162.1 1429.8C3176.2 1430.3 3189.5 1431.6 3202.1 1432.6C3214.7 1433.6 3226.5 1435 3237.6 1436C3248.7 1437 3263.5 1438 3268.7 1438.4M2824.7 1433.4C2831.4 1433.1 2851.3 1432.1 2864.7 1431.8C2878 1431.6 2891.3 1431.9 2904.6 1431.9C2917.9 1431.8 2931 1431.7 2944.6 1431.7C2958.2 1431.8 2971.2 1432 2986 1432C3000.8 1432.1 3017.8 1432.4 3033.4 1432.1C3049 1431.7 3065.7 1430.8 3079.8 1430.1C3093.8 1429.4 3104 1428.2 3117.7 1428.1C3131.5 1428 3148.1 1428.8 3162.1 1429.4C3176.2 1429.9 3189.5 1431.3 3202.1 1431.3C3214.7 1431.3 3226.5 1429.1 3237.6 1429.5C3248.7 1429.8 3263.5 1432.7 3268.7 1433.4M2824.7 1428.5C2831.4 1428.7 2851.3 1429.7 2864.7 1430.2C2878 1430.6 2891.3 1431.2 2904.6 1431.1C2917.9 1431 2931 1430.2 2944.6 1429.7C2958.2 1429.3 2971.2 1428.3 2986 1428.3C3000.8 1428.3 3017.8 1429.1 3033.4 1429.8C3049 1430.4 3065.7 1431.6 3079.8 1432C3093.8 1432.4 3104 1432.1 3117.7 1432C3131.5 1432 3148.1 1431.5 3162.1 1431.5C3176.2 1431.5 3189.5 1432.2 3202.1 1432C3214.7 1431.9 3226.5 1431.2 3237.6 1430.6C3248.7 1430 3263.5 1428.8 3268.7 1428.5M2824.7 1500.9C2831.4 1500.4 2851.3 1499.1 2864.7 1497.9C2878 1496.8 2891.3 1494.7 2904.6 1494.2C2917.9 1493.8 2931 1495.5 2944.6 1495.3C2958.2 1495.2 2971.2 1493.2 2986 1493.3C3000.8 1493.4 3017.8 1494.2 3033.4 1496C3049 1497.8 3065.7 1502.8 3079.8 1504.2C3093.8 1505.6 3104 1503.8 3117.7 1504.4C3131.5 1505 3148.1 1507.3 3162.1 1507.8C3176.2 1508.3 3189.5 1509.2 3202.1 1507.3C3214.7 1505.4 3226.5 1497.6 3237.6 1496.6C3248.7 1495.5 3263.5 1500.2 3268.7 1500.9M2824.7 1502.6C2831.4 1503 2851.3 1504.9 2864.7 1505.1C2878 1505.3 2891.3 1504.1 2904.6 1503.7C2917.9 1503.3 2931 1502.9 2944.6 1502.5C2958.2 1502 2971.2 1501.4 2986 1501C3000.8 1500.6 3017.8 1499.9 3033.4 1500C3049 1500.1 3065.7 1501.5 3079.8 1501.5C3093.8 1501.5 3104 1500.9 3117.7 1500.1C3131.5 1499.3 3148.1 1498.3 3162.1 1496.9C3176.2 1495.6 3189.5 1493.3 3202.1 1492.1C3214.7 1490.8 3226.5 1487.6 3237.6 1489.4C3248.7 1491.1 3263.5 1500.4 3268.7 1502.6M2824.7 1490.4C2831.4 1491.3 2851.3 1495 2864.7 1495.8C2878 1496.6 2891.3 1495.9 2904.6 1495.2C2917.9 1494.5 2931 1492.8 2944.6 1491.7C2958.2 1490.5 2971.2 1488.8 2986 1488.2C3000.8 1487.6 3017.8 1487.2 3033.4 1488.2C3049 1489.1 3065.7 1492.6 3079.8 1494.1C3093.8 1495.6 3104 1496.6 3117.7 1497.2C3131.5 1497.9 3148.1 1496.8 3162.1 1498.3C3176.2 1499.7 3189.5 1503.5 3202.1 1506C3214.7 1508.5 3226.5 1515.7 3237.6 1513.1C3248.7 1510.5 3263.5 1494.2 3268.7 1490.4M2824.7 1477.7C2831.4 1478.7 2851.3 1481.6 2864.7 1483.3C2878 1484.9 2891.3 1487.2 2904.6 1487.6C2917.9 1488.1 2931 1486.8 2944.6 1486.1C2958.2 1485.3 2971.2 1483.7 2986 1483.3C3000.8 1482.9 3017.8 1482.7 3033.4 1483.7C3049 1484.6 3065.7 1487.8 3079.8 1489C3093.8 1490.2 3104 1492 3117.7 1490.8C3131.5 1489.5 3148.1 1484.1 3162.1 1481.3C3176.2 1478.5 3189.5 1475.1 3202.1 1473.8C3214.7 1472.6 3226.5 1472.9 3237.6 1473.6C3248.7 1474.2 3263.5 1477.1 3268.7 1477.7M2824.7 1496.8C2831.4 1496.9 2851.3 1499.2 2864.7 1497.7C2878 1496.2 2891.3 1491.2 2904.6 1487.5C2917.9 1483.8 2931 1478 2944.6 1475.4C2958.2 1472.8 2971.2 1472.6 2986 1471.8C3000.8 1471.1 3017.8 1470.8 3033.4 1470.8C3049 1470.8 3065.7 1471.4 3079.8 1471.8C3093.8 1472.2 3104 1472.1 3117.7 1473.1C3131.5 1474.1 3148.1 1475.9 3162.1 1478C3176.2 1480 3189.5 1483.7 3202.1 1485.4C3214.7 1487.2 3226.5 1486.7 3237.6 1488.6C3248.7 1490.5 3263.5 1495.4 3268.7 1496.8M2824.7 1470.8C2831.4 1471.6 2851.3 1474 2864.7 1476C2878 1478 2891.3 1481.3 2904.6 1482.8C2917.9 1484.3 2931 1485.5 2944.6 1485.2C2958.2 1484.8 2971.2 1481.1 2986 1480.6C3000.8 1480.1 3017.8 1481 3033.4 1481.9C3049 1482.8 3065.7 1486.3 3079.8 1486.1C3093.8 1485.9 3104 1482.9 3117.7 1480.9C3131.5 1479 3148.1 1475 3162.1 1474.5C3176.2 1474 3189.5 1477.1 3202.1 1478C3214.7 1478.9 3226.5 1481 3237.6 1479.8C3248.7 1478.6 3263.5 1472.3 3268.7 1470.8M2824.7 1478.7C2831.4 1479.5 2851.3 1483.3 2864.7 1483.6C2878 1484 2891.3 1482.1 2904.6 1480.6C2917.9 1479.2 2931 1476.1 2944.6 1475.1C2958.2 1474.1 2971.2 1475 2986 1474.6C3000.8 1474.2 3017.8 1473.1 3033.4 1472.8C3049 1472.5 3065.7 1472.9 3079.8 1473C3093.8 1473.1 3104 1473.1 3117.7 1473.3C3131.5 1473.6 3148.1 1473 3162.1 1474.4C3176.2 1475.9 3189.5 1480.2 3202.1 1481.9C3214.7 1483.7 3226.5 1485.7 3237.6 1485.1C3248.7 1484.6 3263.5 1479.7 3268.7 1478.7M2824.7 1469.1C2831.4 1470.4 2851.3 1475.7 2864.7 1476.7C2878 1477.7 2891.3 1476.6 2904.6 1475.2C2917.9 1473.8 2931 1469.4 2944.6 1468.1C2958.2 1466.8 2971.2 1467 2986 1467.2C3000.8 1467.4 3017.8 1468.8 3033.4 1469.5C3049 1470.1 3065.7 1471.5 3079.8 1471.4C3093.8 1471.3 3104 1469 3117.7 1468.9C3131.5 1468.8 3148.1 1469.4 3162.1 1470.7C3176.2 1472 3189.5 1475 3202.1 1476.6C3214.7 1478.2 3226.5 1481.4 3237.6 1480.1C3248.7 1478.9 3263.5 1470.9 3268.7 1469.1M2824.7 1454.1C2831.4 1453.3 2851.3 1449.1 2864.7 1449C2878 1449 2891.3 1452.1 2904.6 1453.9C2917.9 1455.7 2931 1457.8 2944.6 1459.6C2958.2 1461.5 2971.2 1462.9 2986 1465.2C3000.8 1467.4 3017.8 1471.3 3033.4 1473.4C3049 1475.5 3065.7 1477.1 3079.8 1477.7C3093.8 1478.3 3104 1477.7 3117.7 1476.8C3131.5 1475.9 3148.1 1473.6 3162.1 1472.2C3176.2 1470.7 3189.5 1469.3 3202.1 1468C3214.7 1466.6 3226.5 1466.2 3237.6 1463.9C3248.7 1461.6 3263.5 1455.8 3268.7 1454.1M2824.7 1438.9C2831.4 1440.1 2851.3 1444.1 2864.7 1446.2C2878 1448.4 2891.3 1449.6 2904.6 1451.8C2917.9 1454 2931 1455.9 2944.6 1459.4C2958.2 1463 2971.2 1470.2 2986 1473.3C3000.8 1476.5 3017.8 1479.1 3033.4 1478.4C3049 1477.7 3065.7 1471.5 3079.8 1469.2C3093.8 1466.9 3104 1465.5 3117.7 1464.7C3131.5 1464 3148.1 1465.2 3162.1 1464.7C3176.2 1464.1 3189.5 1462.7 3202.1 1461.5C3214.7 1460.3 3226.5 1461.3 3237.6 1457.5C3248.7 1453.7 3263.5 1442 3268.7 1438.9M2824.7 1470.5C2831.4 1468.8 2851.3 1461.8 2864.7 1460C2878 1458.2 2891.3 1458.8 2904.6 1459.9C2917.9 1461 2931 1466.5 2944.6 1466.7C2958.2 1466.8 2971.2 1462.9 2986 1460.9C3000.8 1458.8 3017.8 1454.5 3033.4 1454.4C3049 1454.4 3065.7 1458.9 3079.8 1460.5C3093.8 1462.2 3104 1463.7 3117.7 1464.2C3131.5 1464.7 3148.1 1463.6 3162.1 1463.5C3176.2 1463.4 3189.5 1464.4 3202.1 1463.7C3214.7 1462.9 3226.5 1457.9 3237.6 1459.1C3248.7 1460.2 3263.5 1468.6 3268.7 1470.5M2824.7 1426.1C2832.1 1425.5 2854.3 1423.9 2869.1 1422.1C2883.9 1420.4 2898.7 1417.8 2913.5 1415.7C2928.3 1413.5 2945.8 1410.7 2957.9 1409.2C2970 1407.7 2974.9 1408.1 2986 1406.8C2997.1 1405.4 3012.9 1402.5 3024.5 1401.1C3036.1 1399.8 3046.4 1399.3 3055.6 1398.7C3064.8 1398.2 3070.2 1397.7 3079.8 1397.9C3089.4 1398.2 3100.3 1398.6 3113.3 1400.3C3126.3 1402.1 3142.9 1405.4 3157.7 1408.4C3172.5 1411.4 3188.8 1415.5 3202.1 1418.1C3215.4 1420.6 3226.5 1422.4 3237.6 1423.7C3248.7 1425.1 3263.5 1425.7 3268.7 1426.1M2824.7 1427.8C2832.1 1427.2 2854.3 1426.1 2869.1 1424.5C2883.9 1422.9 2898.7 1420.2 2913.5 1418.1C2928.3 1415.9 2945.8 1413.4 2957.9 1411.6C2970 1409.9 2974.9 1407.6 2986 1407.6C2997.1 1407.6 3012.9 1410.3 3024.5 1411.6C3036.1 1413 3046.4 1414.7 3055.6 1415.7C3064.8 1416.6 3070.2 1417.1 3079.8 1417.3C3089.4 1417.4 3100.3 1416.1 3113.3 1416.5C3126.3 1416.9 3142.9 1418.5 3157.7 1419.7C3172.5 1420.9 3183.6 1422.4 3202.1 1423.7C3220.6 1425.1 3257.6 1427.1 3268.7 1427.8"/></g><use href="#b3_1" stroke="#a91d38" stroke-width="1.4"/></g>
<line x1="2986" y1="1172.1" x2="2986" y2="1494.7" stroke="#9a9ae0" stroke-width="1.1" stroke-linecap="butt" />
<line x1="3079.8" y1="1172.1" x2="3079.8" y2="1494.7" stroke="#9a9ae0" stroke-width="1.1" stroke-linecap="butt" />
<line x1="2824.7" y1="1333.4" x2="3268.7" y2="1333.4" stroke="#b8b8a8" stroke-width="1.1" stroke-dasharray="2 2.4"/>
<rect x="2824.7" y="1172.1" width="444" height="322.6" fill="none" stroke="#000" stroke-width="3"/>
<text x="2810.7" y="1180.1" font-size="35" text-anchor="end" >2</text>
<text x="2810.7" y="1260.8" font-size="35" text-anchor="end" >1</text>
<line x1="2824.7" y1="1252.8" x2="2833.7" y2="1252.8" stroke="#000" stroke-width="2.4" stroke-linecap="butt" />
<text x="2810.7" y="1341.4" font-size="35" text-anchor="end" >0</text>
<line x1="2824.7" y1="1333.4" x2="2833.7" y2="1333.4" stroke="#000" stroke-width="2.4" stroke-linecap="butt" />
<text x="2810.7" y="1422" font-size="35" text-anchor="end" >1</text>
<line x1="2761.7" y1="1412.5" x2="2785.7" y2="1412.5" stroke="#000" stroke-width="1.9" stroke-linecap="butt" />
<line x1="2824.7" y1="1414" x2="2833.7" y2="1414" stroke="#000" stroke-width="2.4" stroke-linecap="butt" />
<text x="2810.7" y="1502.7" font-size="35" text-anchor="end" >2</text>
<line x1="2761.7" y1="1493.2" x2="2785.7" y2="1493.2" stroke="#000" stroke-width="1.9" stroke-linecap="butt" />
<text x="2828.7" y="1542.3" font-size="38.3" text-anchor="middle" font-style="italic" >Γ</text>
<text x="2991" y="1545.2" font-size="38.3" text-anchor="middle" font-style="italic" >M</text>
<text x="3085.3" y="1545.2" font-size="38.3" text-anchor="middle" font-style="italic" >K</text>
<text x="3272.7" y="1542.3" font-size="38.3" text-anchor="middle" font-style="italic" >Γ</text>
<text transform="translate(2752.7 1343.4) rotate(-90)" font-size="37.5" text-anchor="middle" textLength="198" lengthAdjust="spacing">Energy/eV</text>
<text x="2841.3" y="1319.3" font-size="33" font-style="italic" >ε</text>
<text x="2860.5" y="1325.7" font-size="25.4" >F</text>
<text x="3046.7" y="1155.6" font-size="36.8" text-anchor="middle" textLength="106.7" lengthAdjust="spacing" >13.59°</text>
<line x1="3252.8" y1="1309.6" x2="3252.8" y2="1361.4" stroke="#14a64f" stroke-width="3.2" stroke-linecap="butt" />
<polygon points="3252.8,1288 3245.6,1315 3260,1315" fill="#14a64f"/>
<polygon points="3252.8,1383 3245.6,1356 3260,1356" fill="#14a64f"/>
<text x="3098" y="1327" font-size="36.5" textLength="133.3" lengthAdjust="spacing" >1.34 eV</text>
<clipPath id="cp4"><rect x="1649.1" y="1638.5" width="443.9" height="322.4"/></clipPath>
<g clip-path="url(#cp4)" fill="none"><g stroke="#0b2146" stroke-width="3.4"><path id="b4_0" d="M1649.1 1872.2C1652.8 1872.4 1663.9 1872.2 1671.3 1873C1678.7 1873.9 1685.4 1875.2 1693.5 1877.1C1701.6 1879 1711.2 1881.4 1720.1 1884.3C1729 1887.3 1737.9 1889.4 1746.8 1894.8C1755.6 1900.2 1766 1909.6 1773.4 1916.6C1780.8 1923.6 1785 1931.3 1791.1 1936.7C1797.3 1942.1 1803 1945.5 1810.4 1948.8C1817.8 1952.2 1825.4 1954.9 1835.5 1956.9C1845.6 1958.9 1859.6 1960.9 1871 1960.9C1882.5 1960.9 1893 1961.6 1904.1 1956.9C1915.2 1952.2 1926.9 1940.1 1937.6 1932.7C1948.4 1925.3 1957.6 1918.6 1968.7 1912.5C1979.8 1906.5 1992.4 1901.8 2004.2 1896.4C2016.1 1891 2029.4 1884.1 2039.7 1880.3C2050.1 1876.5 2057.5 1875.2 2066.4 1873.9C2075.2 1872.5 2088.6 1872.5 2093 1872.2M1649.1 1872.2C1651.3 1872.6 1657.2 1872.6 1662.4 1874.7C1667.6 1876.7 1674.3 1880 1680.2 1884.3C1686.1 1888.6 1692 1894.4 1697.9 1900.5C1703.8 1906.5 1710.5 1913.9 1715.7 1920.6C1720.9 1927.3 1724.6 1933.4 1729 1940.8C1733.4 1948.1 1740.1 1960.9 1742.3 1964.9M2093 1872.2C2090.8 1872.6 2084.9 1872.6 2079.7 1874.7C2074.5 1876.7 2067.1 1880.7 2061.9 1884.3C2056.7 1888 2053 1893.7 2048.6 1896.4C2044.2 1899.1 2042.7 1899.6 2035.3 1900.5C2027.9 1901.3 2009.4 1901.1 2004.2 1901.3M1795.6 1964.9C1798.1 1961.8 1803.8 1950.8 1810.4 1946.4C1817.1 1942 1827.7 1939.9 1835.5 1938.3C1843.4 1936.7 1854 1937 1857.7 1936.7M1810.4 1948.8C1805.7 1946.8 1790.7 1941.4 1782.3 1936.7C1773.9 1932 1763.8 1923.3 1760.1 1920.6M1702.4 1703C1706.8 1705.9 1720.1 1716.7 1729 1720.7C1737.9 1724.7 1746.8 1727.2 1755.6 1727.2C1764.5 1727.2 1773.1 1724.1 1782.3 1720.7C1791.4 1717.4 1799.3 1708.9 1810.4 1707C1821.5 1705.1 1837.3 1709.8 1848.9 1709.4C1860.4 1709 1870.7 1706.3 1879.9 1704.6C1889.1 1702.8 1896 1697.9 1904.1 1699C1912.3 1700 1919.5 1707.4 1928.8 1711C1938 1714.7 1950.2 1719.6 1959.8 1720.7C1969.4 1721.8 1982 1718 1986.5 1717.5M1737.9 1678.8C1745.3 1678.1 1770.2 1676.1 1782.3 1674.8C1794.4 1673.4 1801.5 1668.7 1810.4 1670.7C1819.3 1672.8 1825.4 1683.5 1835.5 1686.9C1845.6 1690.2 1859.6 1689.5 1871 1690.9C1882.5 1692.2 1898.6 1694.2 1904.1 1694.9"/></g><use href="#b4_0" stroke="#153c74" stroke-width="1.6"/></g>
<g clip-path="url(#cp4)" fill="none"><g stroke="#6e1226" stroke-width="3.8"><path id="b4_1" d="M1649.1 1736.8C1652.1 1736.6 1660.9 1736.6 1666.9 1735.2C1672.8 1733.9 1678.7 1731.5 1684.6 1728.8C1690.5 1726.1 1696.4 1723.1 1702.4 1719.1C1708.3 1715.1 1714.2 1709.7 1720.1 1704.6C1726 1699.5 1732 1693.4 1737.9 1688.5C1743.8 1683.5 1748.2 1678.4 1755.6 1674.8C1763 1671.1 1773.1 1668.5 1782.3 1666.7C1791.4 1665 1805.7 1664.7 1810.4 1664.3M2093 1736.8C2090.8 1736.6 2084.1 1736.6 2079.7 1735.2C2075.2 1733.9 2071.5 1731.7 2066.4 1728.8C2061.2 1725.8 2054.5 1721.8 2048.6 1717.5C2042.7 1713.2 2036.8 1708.1 2030.9 1703C2024.9 1697.9 2019 1691.6 2013.1 1686.9C2007.2 1682.2 2002.7 1677.5 1995.3 1674.8C1987.9 1672.1 1978.3 1670.1 1968.7 1670.7C1959.1 1671.4 1942.8 1677.5 1937.6 1678.8M1649.1 1707C1655 1707.3 1672.8 1707.3 1684.6 1708.6C1696.4 1710 1708.3 1713.3 1720.1 1715.1C1732 1716.8 1745.3 1718.4 1755.6 1719.1C1766 1719.8 1773.1 1719.4 1782.3 1719.1C1791.4 1718.8 1801.5 1716.8 1810.4 1717.5C1819.3 1718.2 1825.4 1721 1835.5 1723.1C1845.6 1725.3 1859.6 1728.6 1871 1730.4C1882.5 1732.1 1893 1733.3 1904.1 1733.6C1915.2 1733.9 1926.9 1733.1 1937.6 1732C1948.4 1730.9 1957.6 1729 1968.7 1727.2C1979.8 1725.3 1992.4 1723.1 2004.2 1720.7C2016.1 1718.3 2029.4 1714.8 2039.7 1712.7C2050.1 1710.5 2057.5 1708.8 2066.4 1707.8C2075.2 1706.9 2088.6 1707.1 2093 1707M1649.1 1699C1656.5 1699.4 1678.7 1700.4 1693.5 1701.4C1708.3 1702.3 1723.1 1703.5 1737.9 1704.6C1752.7 1705.7 1770.2 1707.1 1782.3 1707.8C1794.4 1708.5 1799.3 1709.2 1810.4 1708.6C1821.5 1708.1 1833.2 1705.8 1848.9 1704.6C1864.5 1703.4 1885.6 1699.6 1904.1 1701.4C1922.6 1703.1 1946.1 1712.1 1959.8 1715.1C1973.6 1718 1976.1 1719.8 1986.5 1719.1C1996.8 1718.4 2010.1 1714 2022 1711C2033.8 1708.1 2045.7 1703.4 2057.5 1701.4C2069.3 1699.4 2087.1 1699.4 2093 1699M1649.1 1696.5C1658 1696.5 1683.9 1695.7 1702.4 1696.5C1720.9 1697.3 1742.1 1700 1760.1 1701.4C1778.1 1702.7 1795.6 1705.7 1810.4 1704.6C1825.2 1703.5 1833.2 1697.2 1848.9 1694.9C1864.5 1692.6 1885.6 1692.2 1904.1 1690.9C1922.6 1689.5 1939.4 1686.2 1959.8 1686.9C1980.2 1687.5 2004.2 1693.3 2026.4 1694.9C2048.6 1696.5 2081.9 1696.3 2093 1696.5M1649.1 1670.7C1655 1671.4 1672.8 1672.8 1684.6 1674.8C1696.4 1676.8 1708.3 1679.7 1720.1 1682.8C1732 1685.9 1745.3 1690.2 1755.6 1693.3C1766 1696.4 1773.1 1699.2 1782.3 1701.4C1791.4 1703.5 1799.3 1708.6 1810.4 1706.2C1821.5 1703.8 1833.2 1691.4 1848.9 1686.9C1864.5 1682.3 1887.1 1681.2 1904.1 1678.8C1921.1 1676.4 1934.3 1674 1951 1672.4C1967.6 1670.7 1986.5 1669.7 2004.2 1669.1C2022 1668.6 2042.7 1668.9 2057.5 1669.1C2072.3 1669.4 2087.1 1670.5 2093 1670.7M1649.1 1669.1C1656.5 1669.4 1678.7 1669.4 1693.5 1670.7C1708.3 1672.1 1723.1 1674.5 1737.9 1677.2C1752.7 1679.9 1770.2 1688.2 1782.3 1686.9C1794.4 1685.5 1801.5 1669.8 1810.4 1669.1C1819.3 1668.5 1825.4 1681.2 1835.5 1682.8C1845.6 1684.4 1859.6 1679.7 1871 1678.8C1882.5 1677.9 1890.8 1679.3 1904.1 1677.2C1917.4 1675 1934.3 1668.3 1951 1665.9C1967.6 1663.5 1987.9 1662.9 2004.2 1662.7C2020.5 1662.4 2033.8 1663.2 2048.6 1664.3C2063.4 1665.4 2085.6 1668.3 2093 1669.1M1649.1 1666.7C1656.5 1666.3 1678.7 1665.2 1693.5 1664.3C1708.3 1663.4 1723.1 1661.9 1737.9 1661.1C1752.7 1660.3 1770.2 1659.5 1782.3 1659.5C1794.4 1659.5 1799.3 1660.5 1810.4 1661.1C1821.5 1661.6 1833.2 1660.4 1848.9 1662.7C1864.5 1665 1887.1 1675.4 1904.1 1674.8C1921.1 1674.1 1934.3 1662 1951 1658.7C1967.6 1655.3 1986.5 1654.2 2004.2 1654.6C2022 1655 2042.7 1659.1 2057.5 1661.1C2072.3 1663.1 2087.1 1665.8 2093 1666.7M1649.1 1662.7C1655 1661.6 1674.3 1658.9 1684.6 1656.2C1695 1653.5 1702.4 1649.5 1711.2 1646.6C1720.1 1643.6 1726 1637.8 1737.9 1638.5C1749.7 1639.2 1770.2 1647.2 1782.3 1650.6C1794.4 1653.9 1799.3 1658 1810.4 1658.7C1821.5 1659.3 1833.2 1654.6 1848.9 1654.6C1864.5 1654.6 1887.1 1659.3 1904.1 1658.7C1921.1 1658 1935.7 1653.9 1951 1650.6C1966.2 1647.2 1982 1639.2 1995.3 1638.5C2008.7 1637.8 2019.8 1643.2 2030.9 1646.6C2042 1649.9 2051.6 1656 2061.9 1658.7C2072.3 1661.3 2087.8 1662 2093 1662.7M1649.1 1661.1C1653.5 1659.7 1666.9 1656.5 1675.7 1653C1684.6 1649.5 1695 1643.9 1702.4 1640.1C1709.8 1636.4 1717.2 1632.1 1720.1 1630.4M2093 1661.1C2088.6 1659.7 2075.2 1656.5 2066.4 1653C2057.5 1649.5 2047.1 1643.9 2039.7 1640.1C2032.3 1636.4 2024.9 1632.1 2022 1630.4M1773.4 1630.4C1779.6 1632.9 1797.8 1643.3 1810.4 1644.9C1823 1646.6 1838.7 1642.5 1848.9 1640.1C1859 1637.7 1867.4 1632.1 1871 1630.4M1879.9 1630.4C1884 1633.8 1892.3 1648.6 1904.1 1650.6C1916 1652.6 1938.7 1645.9 1951 1642.5C1963.2 1639.2 1973.1 1632.5 1977.6 1630.4M1649.1 1672.4C1656.5 1673.4 1678.7 1676.7 1693.5 1678.8C1708.3 1680.9 1723.1 1685.2 1737.9 1685.2C1752.7 1685.2 1770.2 1680.5 1782.3 1678.8C1794.4 1677.1 1799.3 1675.8 1810.4 1674.8C1821.5 1673.7 1833.2 1671 1848.9 1672.4C1864.5 1673.7 1885.6 1679.7 1904.1 1682.8C1922.6 1685.9 1943.1 1690.5 1959.8 1690.9C1976.5 1691.3 1989.4 1687.5 2004.2 1685.2C2019 1683 2033.8 1679.3 2048.6 1677.2C2063.4 1675 2085.6 1673.2 2093 1672.4M1649.1 1860.2C1653.5 1860.4 1666.9 1860.7 1675.7 1861.8C1684.6 1862.8 1692 1864.2 1702.4 1866.6C1712.7 1869 1726 1872.9 1737.9 1876.3C1749.7 1879.6 1761.3 1884.1 1773.4 1886.7C1785.5 1889.4 1797.8 1891.4 1810.4 1892.4C1823 1893.3 1833.2 1892.8 1848.9 1892.4C1864.5 1892 1888.6 1890.6 1904.1 1890C1919.7 1889.3 1929.8 1889.6 1942.1 1888.4C1954.3 1887.2 1965.7 1885.1 1977.6 1882.7C1989.4 1880.3 2001.3 1876.7 2013.1 1873.9C2024.9 1871 2035.3 1868.1 2048.6 1865.8C2061.9 1863.5 2085.6 1861.1 2093 1860.2M1649.1 1861.8C1653.5 1862 1666.9 1862.2 1675.7 1863.4C1684.6 1864.6 1692 1866.3 1702.4 1869C1712.7 1871.7 1726 1875.9 1737.9 1879.5C1749.7 1883.1 1761.3 1888 1773.4 1890.8C1785.5 1893.6 1797.8 1895.7 1810.4 1896.4C1823 1897.1 1833.2 1895.2 1848.9 1894.8C1864.5 1894.4 1888.6 1894 1904.1 1894C1919.7 1894 1929.8 1895.2 1942.1 1894.8C1954.3 1894.4 1965.7 1894 1977.6 1891.6C1989.4 1889.2 2001.3 1884.1 2013.1 1880.3C2024.9 1876.5 2035.3 1872.1 2048.6 1869C2061.9 1865.9 2085.6 1863 2093 1861.8M1649.1 1906.1C1656.5 1905.8 1678.7 1905.6 1693.5 1904.5C1708.3 1903.4 1723.1 1901 1737.9 1899.6C1752.7 1898.3 1770.2 1896.7 1782.3 1896.4C1794.4 1896.2 1799.3 1897.5 1810.4 1898C1821.5 1898.6 1833.2 1899.6 1848.9 1899.6C1864.5 1899.6 1885.6 1898.6 1904.1 1898C1922.6 1897.5 1943.1 1896.4 1959.8 1896.4C1976.5 1896.4 1989.4 1896.7 2004.2 1898C2019 1899.4 2033.8 1903.1 2048.6 1904.5C2063.4 1905.8 2085.6 1905.8 2093 1906.1M1649.1 1906.9C1656.5 1906.9 1678.7 1907.3 1693.5 1906.9C1708.3 1906.5 1723.1 1904.9 1737.9 1904.5C1752.7 1904.1 1770.2 1903.8 1782.3 1904.5C1794.4 1905.2 1799.3 1908.2 1810.4 1908.5C1821.5 1908.8 1833.2 1906.8 1848.9 1906.1C1864.5 1905.4 1885.6 1904.3 1904.1 1904.5C1922.6 1904.6 1943.1 1904.9 1959.8 1906.9C1976.5 1908.9 1989.4 1913.2 2004.2 1916.6C2019 1919.9 2033.8 1924.8 2048.6 1927C2063.4 1929.3 2085.6 1929.7 2093 1930.3M1649.1 1930.3C1656.5 1928.9 1678.7 1924.9 1693.5 1922.2C1708.3 1919.5 1723.1 1916.3 1737.9 1914.2C1752.7 1912 1770.2 1909.6 1782.3 1909.3C1794.4 1909 1799.3 1912.5 1810.4 1912.5C1821.5 1912.5 1833.2 1910.4 1848.9 1909.3C1864.5 1908.2 1885.6 1905.6 1904.1 1906.1C1922.6 1906.6 1943.1 1909.9 1959.8 1912.5C1976.5 1915.2 1989.4 1919.3 2004.2 1922.2C2019 1925.2 2033.8 1928.4 2048.6 1930.3C2063.4 1932.2 2085.6 1933 2093 1933.5M1649.1 1935.1C1656.5 1934.3 1678.7 1932.4 1693.5 1930.3C1708.3 1928.1 1723.1 1922.7 1737.9 1922.2C1752.7 1921.7 1770.2 1926 1782.3 1927C1794.4 1928.1 1799.3 1927.3 1810.4 1928.7C1821.5 1930 1833.2 1932.4 1848.9 1935.1C1864.5 1937.8 1889.3 1943.8 1904.1 1944.8C1918.9 1945.7 1926.9 1944.1 1937.6 1940.8C1948.4 1937.4 1957.6 1928.7 1968.7 1924.6C1979.8 1920.6 1990.9 1916.6 2004.2 1916.6C2017.5 1916.6 2033.8 1921.5 2048.6 1924.6C2063.4 1927.7 2085.6 1933.4 2093 1935.1M1649.1 1938.3C1656.5 1938.1 1678.7 1938.1 1693.5 1936.7C1708.3 1935.4 1723.1 1931.3 1737.9 1930.3C1752.7 1929.2 1770.2 1930.8 1782.3 1930.3C1794.4 1929.7 1799.3 1926.6 1810.4 1927C1821.5 1927.5 1837.3 1930 1848.9 1932.7C1860.4 1935.4 1870.7 1940.5 1879.9 1943.2C1889.1 1945.9 1894.5 1948.3 1904.1 1948.8C1913.7 1949.3 1924.7 1946.4 1937.6 1946.4C1950.6 1946.4 1967.2 1949.1 1982 1948.8C1996.8 1948.5 2013.1 1946.3 2026.4 1944.8C2039.7 1943.3 2050.8 1941 2061.9 1939.9C2073 1938.9 2087.8 1938.6 2093 1938.3M1649.1 1943.2C1656.5 1943.4 1678.7 1944.2 1693.5 1944.8C1708.3 1945.3 1723.1 1947.1 1737.9 1946.4C1752.7 1945.7 1770.2 1942.4 1782.3 1940.8C1794.4 1939.1 1799.3 1936 1810.4 1936.7C1821.5 1937.4 1833.2 1941.8 1848.9 1944.8C1864.5 1947.7 1887.1 1952.4 1904.1 1954.5C1921.1 1956.5 1934.3 1956.9 1951 1956.9C1967.6 1956.9 1987.9 1955.8 2004.2 1954.5C2020.5 1953.1 2033.8 1950.7 2048.6 1948.8C2063.4 1946.9 2085.6 1944.1 2093 1943.2M1649.1 1948.8C1655 1949.5 1672.8 1951.1 1684.6 1952.8C1696.4 1954.6 1709.8 1956.6 1720.1 1959.3C1730.5 1962 1742.3 1967.3 1746.8 1969M2093 1948.8C2087.1 1949.5 2068.6 1951.1 2057.5 1952.8C2046.4 1954.6 2035.3 1956.6 2026.4 1959.3C2017.5 1962 2007.9 1967.3 2004.2 1969M1649.1 1956.9C1653.5 1957.5 1668.3 1958.9 1675.7 1960.9C1683.1 1962.9 1690.5 1967.6 1693.5 1969M2093 1956.9C2088.6 1957.5 2073.8 1958.9 2066.4 1960.9C2059 1962.9 2051.6 1967.6 2048.6 1969M1715.7 1969C1723.1 1966.5 1744.3 1958.5 1760.1 1954.5C1775.9 1950.4 1795.6 1945.3 1810.4 1944.8C1825.2 1944.2 1833.2 1948.8 1848.9 1951.2C1864.5 1953.6 1888.6 1956.3 1904.1 1959.3C1919.7 1962.2 1935.7 1967.3 1942.1 1969"/></g><use href="#b4_1" stroke="#a91d38" stroke-width="2"/></g>
<line x1="1810.4" y1="1638.5" x2="1810.4" y2="1960.9" stroke="#1a1ad0" stroke-width="1.1" stroke-linecap="butt" />
<line x1="1904.1" y1="1638.5" x2="1904.1" y2="1960.9" stroke="#1a1ad0" stroke-width="1.1" stroke-linecap="butt" />
<line x1="1649.1" y1="1799.7" x2="2093" y2="1799.7" stroke="#2a7a2a" stroke-width="1.1" stroke-dasharray="2 2.4"/>
<rect x="1649.1" y="1638.5" width="443.9" height="322.4" fill="none" stroke="#000" stroke-width="3"/>
<text x="1635.1" y="1646.5" font-size="35" text-anchor="end" >2</text>
<text x="1635.1" y="1727.1" font-size="35" text-anchor="end" >1</text>
<line x1="1649.1" y1="1719.1" x2="1658.1" y2="1719.1" stroke="#000" stroke-width="2.4" stroke-linecap="butt" />
<text x="1635.1" y="1807.7" font-size="35" text-anchor="end" >0</text>
<line x1="1649.1" y1="1799.7" x2="1658.1" y2="1799.7" stroke="#000" stroke-width="2.4" stroke-linecap="butt" />
<text x="1635.1" y="1888.3" font-size="35" text-anchor="end" >1</text>
<line x1="1586.1" y1="1878.8" x2="1610.1" y2="1878.8" stroke="#000" stroke-width="1.9" stroke-linecap="butt" />
<line x1="1649.1" y1="1880.3" x2="1658.1" y2="1880.3" stroke="#000" stroke-width="2.4" stroke-linecap="butt" />
<text x="1635.1" y="1968.9" font-size="35" text-anchor="end" >2</text>
<line x1="1586.1" y1="1959.4" x2="1610.1" y2="1959.4" stroke="#000" stroke-width="1.9" stroke-linecap="butt" />
<text x="1653.1" y="2008.5" font-size="38.3" text-anchor="middle" font-style="italic" >Γ</text>
<text x="1815.4" y="2011.4" font-size="38.3" text-anchor="middle" font-style="italic" >M</text>
<text x="1909.6" y="2011.4" font-size="38.3" text-anchor="middle" font-style="italic" >K</text>
<text x="2097" y="2008.5" font-size="38.3" text-anchor="middle" font-style="italic" >Γ</text>
<text transform="translate(1577.1 1809.7) rotate(-90)" font-size="37.5" text-anchor="middle" textLength="198" lengthAdjust="spacing">Energy/eV</text>
<text x="1665.7" y="1785.6" font-size="33" font-style="italic" >ε</text>
<text x="1684.9" y="1792" font-size="25.4" >F</text>
<text x="1871" y="1622" font-size="36.8" text-anchor="middle" textLength="106.7" lengthAdjust="spacing" >19.11°</text>
<line x1="2070.2" y1="1757.6" x2="2070.2" y2="1831.1" stroke="#14a64f" stroke-width="3.2" stroke-linecap="butt" />
<polygon points="2070.2,1736 2063,1763 2077.4,1763" fill="#14a64f"/>
<polygon points="2070.2,1852.7 2063,1825.7 2077.4,1825.7" fill="#14a64f"/>
<text x="1923" y="1787" font-size="36.5" textLength="133.3" lengthAdjust="spacing" >1.50 eV</text>
<clipPath id="cp5"><rect x="2236.6" y="1638.5" width="444.3" height="322.4"/></clipPath>
<g clip-path="url(#cp5)" fill="none"><g stroke="#0b2146" stroke-width="3.4"><path id="b5_0" d="M2236.6 1881.9C2239.6 1882.2 2248.4 1882.4 2254.4 1883.5C2260.3 1884.6 2266.2 1886.2 2272.1 1888.4C2278.1 1890.5 2284 1893.1 2289.9 1896.4C2295.8 1899.8 2301.8 1904.5 2307.7 1908.5C2313.6 1912.5 2318.8 1916.2 2325.5 1920.6C2332.1 1925 2340.3 1931.3 2347.7 1935.1C2355.1 1938.9 2361.5 1941.6 2369.9 1943.2C2378.3 1944.8 2389.2 1945.6 2398.1 1944.8C2406.9 1944 2416.1 1940.3 2423.2 1938.3C2430.4 1936.3 2438 1933.6 2441 1932.7M2680.9 1884.3C2677.9 1884.7 2669.1 1885.4 2663.1 1886.7C2657.2 1888.1 2651.3 1889.7 2645.4 1892.4C2639.4 1895.1 2633.5 1899.2 2627.6 1902.9C2621.7 1906.5 2615.7 1910.1 2609.8 1914.2C2603.9 1918.2 2598 1922.6 2592 1927C2586.1 1931.5 2580.2 1935.8 2574.3 1940.8C2568.3 1945.7 2561.7 1952.2 2556.5 1956.9C2551.3 1961.6 2545.4 1966.9 2543.2 1969M2414.3 1952.8C2416.5 1954.2 2422.5 1958.2 2427.6 1960.9C2432.8 1963.6 2442.5 1967.6 2445.4 1969M2369.9 1723.1C2374.6 1722.5 2387 1718.7 2398.1 1719.1C2409.2 1719.5 2420.9 1725.5 2436.5 1725.5C2452.2 1725.5 2474.8 1719.2 2491.9 1719.1C2508.9 1719 2525.7 1724.1 2538.7 1724.7C2551.7 1725.4 2564.6 1723.4 2569.8 1723.1"/></g><use href="#b5_0" stroke="#153c74" stroke-width="1.6"/></g>
<g clip-path="url(#cp5)" fill="none"><g stroke="#6e1226" stroke-width="3.8"><path id="b5_1" d="M2236.6 1719.7C2243.3 1720.2 2263.3 1721.2 2276.6 1722.6C2289.9 1724 2303.2 1726.3 2316.6 1727.9C2329.9 1729.6 2343 1731.7 2356.6 1732.2C2370.1 1732.8 2383.2 1731.4 2398.1 1731.3C2412.9 1731.3 2429.8 1732.2 2445.4 1731.9C2461.1 1731.6 2477.8 1731.4 2491.9 1729.5C2505.9 1727.6 2516.1 1722.4 2529.8 1720.5C2543.6 1718.5 2560.2 1717.1 2574.3 1717.6C2588.3 1718.1 2601.7 1722 2614.3 1723.6C2626.8 1725.2 2638.7 1727.7 2649.8 1727.1C2660.9 1726.4 2675.7 1720.9 2680.9 1719.7M2236.6 1715.8C2243.3 1715.5 2263.3 1713.2 2276.6 1713.8C2289.9 1714.5 2303.2 1718.1 2316.6 1719.8C2329.9 1721.5 2343 1723.5 2356.6 1724.1C2370.1 1724.6 2383.2 1722.9 2398.1 1723.1C2412.9 1723.3 2429.8 1724.4 2445.4 1725.4C2461.1 1726.5 2477.8 1728.8 2491.9 1729.2C2505.9 1729.7 2516.1 1729.5 2529.8 1728C2543.6 1726.5 2560.2 1722.7 2574.3 1720.4C2588.3 1718.2 2601.7 1716.4 2614.3 1714.5C2626.8 1712.7 2638.7 1709.2 2649.8 1709.4C2660.9 1709.6 2675.7 1714.8 2680.9 1715.8M2236.6 1714.2C2243.3 1714.9 2263.3 1717.9 2276.6 1718.3C2289.9 1718.7 2303.2 1718 2316.6 1716.6C2329.9 1715.1 2343 1711 2356.6 1709.6C2370.1 1708.2 2383.2 1707.4 2398.1 1708.2C2412.9 1708.9 2429.8 1712.4 2445.4 1714.2C2461.1 1716 2477.8 1718.3 2491.9 1718.8C2505.9 1719.2 2516.1 1717.9 2529.8 1716.9C2543.6 1715.9 2560.2 1713.7 2574.3 1712.5C2588.3 1711.3 2601.7 1709.9 2614.3 1709.6C2626.8 1709.4 2638.7 1710.3 2649.8 1711.1C2660.9 1711.8 2675.7 1713.7 2680.9 1714.2M2236.6 1713.2C2243.3 1713 2263.3 1711.9 2276.6 1712.3C2289.9 1712.6 2303.2 1714 2316.6 1715.3C2329.9 1716.5 2343 1719.1 2356.6 1719.8C2370.1 1720.5 2383.2 1720.6 2398.1 1719.4C2412.9 1718.1 2429.8 1714.4 2445.4 1712.1C2461.1 1709.8 2477.8 1706.6 2491.9 1705.4C2505.9 1704.3 2516.1 1704.6 2529.8 1705.3C2543.6 1706.1 2560.2 1708.6 2574.3 1709.8C2588.3 1711.1 2601.7 1712 2614.3 1712.7C2626.8 1713.5 2638.7 1714.3 2649.8 1714.4C2660.9 1714.4 2675.7 1713.4 2680.9 1713.2M2236.6 1692.9C2243.3 1694 2263.3 1696.6 2276.6 1699.1C2289.9 1701.6 2303.2 1705.3 2316.6 1707.9C2329.9 1710.6 2343 1712.7 2356.6 1715C2370.1 1717.3 2383.2 1720.5 2398.1 1721.9C2412.9 1723.2 2429.8 1723.5 2445.4 1722.9C2461.1 1722.3 2477.8 1719.2 2491.9 1718C2505.9 1716.9 2516.1 1716.7 2529.8 1716C2543.6 1715.2 2560.2 1715 2574.3 1713.4C2588.3 1711.8 2601.7 1708.9 2614.3 1706.3C2626.8 1703.8 2638.7 1700.2 2649.8 1698C2660.9 1695.8 2675.7 1693.8 2680.9 1692.9M2236.6 1705.9C2243.3 1706.5 2263.3 1709.2 2276.6 1709.8C2289.9 1710.4 2303.2 1710 2316.6 1709.6C2329.9 1709.2 2343 1707.2 2356.6 1707.3C2370.1 1707.4 2383.2 1710.3 2398.1 1710.4C2412.9 1710.5 2429.8 1709.6 2445.4 1708.1C2461.1 1706.6 2477.8 1702.3 2491.9 1701.1C2505.9 1700 2516.1 1701.2 2529.8 1701.3C2543.6 1701.4 2560.2 1701.1 2574.3 1701.7C2588.3 1702.3 2601.7 1703.2 2614.3 1704.9C2626.8 1706.5 2638.7 1711.4 2649.8 1711.6C2660.9 1711.8 2675.7 1706.8 2680.9 1705.9M2236.6 1696C2243.3 1695.6 2263.3 1693.8 2276.6 1693.8C2289.9 1693.9 2303.2 1695.5 2316.6 1696.3C2329.9 1697.1 2343 1697.4 2356.6 1698.7C2370.1 1700 2383.2 1702.3 2398.1 1704.1C2412.9 1706 2429.8 1709.2 2445.4 1709.8C2461.1 1710.4 2477.8 1709.9 2491.9 1707.8C2505.9 1705.7 2516.1 1699.9 2529.8 1697.1C2543.6 1694.2 2560.2 1690.2 2574.3 1690.6C2588.3 1691 2601.7 1696.3 2614.3 1699.3C2626.8 1702.3 2638.7 1709 2649.8 1708.4C2660.9 1707.9 2675.7 1698.1 2680.9 1696M2236.6 1706.7C2243.3 1706.4 2263.3 1705.9 2276.6 1704.6C2289.9 1703.4 2303.2 1700.8 2316.6 1699.4C2329.9 1697.9 2343 1696.4 2356.6 1695.9C2370.1 1695.4 2383.2 1695.6 2398.1 1696.5C2412.9 1697.3 2429.8 1699.8 2445.4 1701.2C2461.1 1702.5 2477.8 1704.4 2491.9 1704.4C2505.9 1704.4 2516.1 1702.6 2529.8 1701.2C2543.6 1699.7 2560.2 1696 2574.3 1695.5C2588.3 1695 2601.7 1696.3 2614.3 1698.1C2626.8 1699.9 2638.7 1704.9 2649.8 1706.3C2660.9 1707.8 2675.7 1706.7 2680.9 1706.7M2236.6 1691.4C2243.3 1691.3 2263.3 1690.6 2276.6 1691.2C2289.9 1691.8 2303.2 1693.5 2316.6 1695C2329.9 1696.5 2343 1698.7 2356.6 1700.1C2370.1 1701.5 2383.2 1703.2 2398.1 1703.5C2412.9 1703.7 2429.8 1702.3 2445.4 1701.7C2461.1 1701.2 2477.8 1700.6 2491.9 1700.2C2505.9 1699.8 2516.1 1699.7 2529.8 1699.2C2543.6 1698.7 2560.2 1698.4 2574.3 1697.4C2588.3 1696.4 2601.7 1695.3 2614.3 1693.3C2626.8 1691.4 2638.7 1686.1 2649.8 1685.8C2660.9 1685.4 2675.7 1690.4 2680.9 1691.4M2236.6 1691.5C2243.3 1691.7 2263.3 1692.8 2276.6 1693.1C2289.9 1693.3 2303.2 1693.5 2316.6 1693C2329.9 1692.4 2343 1690.4 2356.6 1690C2370.1 1689.5 2383.2 1688.8 2398.1 1690.4C2412.9 1692.1 2429.8 1698.2 2445.4 1700C2461.1 1701.9 2477.8 1702.3 2491.9 1701.5C2505.9 1700.8 2516.1 1696.4 2529.8 1695.5C2543.6 1694.6 2560.2 1695.6 2574.3 1696.2C2588.3 1696.7 2601.7 1698.8 2614.3 1698.8C2626.8 1698.9 2638.7 1697.6 2649.8 1696.4C2660.9 1695.2 2675.7 1692.3 2680.9 1691.5M2236.6 1679.7C2243.3 1680 2263.3 1680.6 2276.6 1681.3C2289.9 1681.9 2303.2 1682.2 2316.6 1683.6C2329.9 1685 2343 1688.2 2356.6 1689.5C2370.1 1690.8 2383.2 1690.9 2398.1 1691.3C2412.9 1691.8 2429.8 1691.4 2445.4 1692.2C2461.1 1693 2477.8 1695.6 2491.9 1696.2C2505.9 1696.7 2516.1 1696.6 2529.8 1695.3C2543.6 1694 2560.2 1690.9 2574.3 1688.4C2588.3 1685.9 2601.7 1682 2614.3 1680.4C2626.8 1678.7 2638.7 1678.6 2649.8 1678.5C2660.9 1678.4 2675.7 1679.5 2680.9 1679.7M2236.6 1677.9C2243.3 1677.7 2263.3 1676.4 2276.6 1676.6C2289.9 1676.9 2303.2 1677 2316.6 1679.3C2329.9 1681.5 2343 1686.5 2356.6 1690.2C2370.1 1693.9 2383.2 1699.7 2398.1 1701.5C2412.9 1703.2 2429.8 1702.4 2445.4 1700.8C2461.1 1699.2 2477.8 1693.8 2491.9 1691.8C2505.9 1689.9 2516.1 1689.7 2529.8 1688.9C2543.6 1688.2 2560.2 1688.9 2574.3 1687.4C2588.3 1685.8 2601.7 1682 2614.3 1679.7C2626.8 1677.5 2638.7 1674.4 2649.8 1674.1C2660.9 1673.8 2675.7 1677.3 2680.9 1677.9M2236.6 1683C2243.3 1684.1 2263.3 1688.5 2276.6 1689.3C2289.9 1690 2303.2 1688.6 2316.6 1687.4C2329.9 1686.3 2343 1683.5 2356.6 1682.5C2370.1 1681.4 2383.2 1681 2398.1 1681.2C2412.9 1681.4 2429.8 1682.6 2445.4 1683.7C2461.1 1684.7 2477.8 1686.7 2491.9 1687.4C2505.9 1688.1 2516.1 1687.8 2529.8 1687.8C2543.6 1687.8 2560.2 1687.2 2574.3 1687.2C2588.3 1687.1 2601.7 1687.2 2614.3 1687.5C2626.8 1687.8 2638.7 1690 2649.8 1689.2C2660.9 1688.5 2675.7 1684.1 2680.9 1683M2236.6 1681.3C2243.3 1682.6 2263.3 1689 2276.6 1689.2C2289.9 1689.4 2303.2 1684.9 2316.6 1682.5C2329.9 1680.1 2343 1675.9 2356.6 1674.8C2370.1 1673.6 2383.2 1675.2 2398.1 1675.5C2412.9 1675.8 2429.8 1675.8 2445.4 1676.6C2461.1 1677.3 2477.8 1678.9 2491.9 1680C2505.9 1681.1 2516.1 1682.9 2529.8 1683.3C2543.6 1683.6 2560.2 1682.1 2574.3 1682.3C2588.3 1682.5 2601.7 1683.1 2614.3 1684.3C2626.8 1685.4 2638.7 1689.8 2649.8 1689.3C2660.9 1688.8 2675.7 1682.6 2680.9 1681.3M2236.6 1674.5C2243.3 1674.8 2263.3 1675.3 2276.6 1676.3C2289.9 1677.3 2303.2 1678.6 2316.6 1680.3C2329.9 1682 2343 1685.5 2356.6 1686.7C2370.1 1687.9 2383.2 1687.6 2398.1 1687.7C2412.9 1687.8 2429.8 1686.9 2445.4 1687.1C2461.1 1687.2 2477.8 1688.6 2491.9 1688.7C2505.9 1688.7 2516.1 1689.1 2529.8 1687.5C2543.6 1685.9 2560.2 1681.7 2574.3 1679.1C2588.3 1676.5 2601.7 1672.7 2614.3 1671.7C2626.8 1670.8 2638.7 1673.1 2649.8 1673.5C2660.9 1674 2675.7 1674.4 2680.9 1674.5M2236.6 1658.8C2243.3 1658.3 2263.3 1653.5 2276.6 1655.6C2289.9 1657.6 2303.2 1665.8 2316.6 1671.1C2329.9 1676.5 2343 1684.2 2356.6 1687.6C2370.1 1691 2383.2 1690.9 2398.1 1691.4C2412.9 1691.9 2429.8 1692.2 2445.4 1690.5C2461.1 1688.8 2477.8 1684.7 2491.9 1681.4C2505.9 1678.1 2516.1 1673.5 2529.8 1670.8C2543.6 1668.2 2560.2 1666.5 2574.3 1665.6C2588.3 1664.7 2601.7 1665.5 2614.3 1665.5C2626.8 1665.6 2638.7 1667 2649.8 1665.9C2660.9 1664.8 2675.7 1660 2680.9 1658.8M2236.6 1665C2243.3 1665.3 2263.3 1665.7 2276.6 1666.9C2289.9 1668.1 2303.2 1671.4 2316.6 1672.2C2329.9 1672.9 2343 1673 2356.6 1671.6C2370.1 1670.2 2383.2 1664.7 2398.1 1663.6C2412.9 1662.5 2429.8 1663.9 2445.4 1665C2461.1 1666.1 2477.8 1669.8 2491.9 1670.2C2505.9 1670.5 2516.1 1667.8 2529.8 1667C2543.6 1666.2 2560.2 1664.6 2574.3 1665.4C2588.3 1666.2 2601.7 1669.9 2614.3 1671.8C2626.8 1673.7 2638.7 1678 2649.8 1676.8C2660.9 1675.7 2675.7 1667 2680.9 1665M2236.6 1667.3C2243.3 1668 2263.3 1670 2276.6 1671.6C2289.9 1673.3 2303.2 1677.1 2316.6 1676.9C2329.9 1676.8 2343 1672.8 2356.6 1670.8C2370.1 1668.8 2383.2 1666.5 2398.1 1664.9C2412.9 1663.4 2429.8 1662.5 2445.4 1661.5C2461.1 1660.4 2477.8 1657.7 2491.9 1658.6C2505.9 1659.4 2516.1 1664.4 2529.8 1666.6C2543.6 1668.9 2560.2 1672.1 2574.3 1671.9C2588.3 1671.7 2601.7 1667.5 2614.3 1665.6C2626.8 1663.6 2638.7 1660 2649.8 1660.3C2660.9 1660.6 2675.7 1666.1 2680.9 1667.3M2236.6 1655.9C2243.3 1656.2 2263.3 1657.9 2276.6 1657.9C2289.9 1657.8 2303.2 1655.5 2316.6 1655.5C2329.9 1655.5 2343 1656.3 2356.6 1657.9C2370.1 1659.6 2383.2 1664.2 2398.1 1665.2C2412.9 1666.1 2429.8 1665.3 2445.4 1663.6C2461.1 1661.9 2477.8 1656.8 2491.9 1655.2C2505.9 1653.6 2516.1 1653.5 2529.8 1654C2543.6 1654.5 2560.2 1657.5 2574.3 1658.2C2588.3 1658.9 2601.7 1658.2 2614.3 1658.2C2626.8 1658.2 2638.7 1658.4 2649.8 1658C2660.9 1657.6 2675.7 1656.2 2680.9 1655.9M2236.6 1661C2243.3 1660.2 2263.3 1656.3 2276.6 1656.1C2289.9 1655.8 2303.2 1658.3 2316.6 1659.7C2329.9 1661 2343 1664.1 2356.6 1664C2370.1 1663.9 2383.2 1660 2398.1 1659.2C2412.9 1658.3 2429.8 1658.5 2445.4 1659C2461.1 1659.5 2477.8 1662.7 2491.9 1662.4C2505.9 1662.1 2516.1 1657.6 2529.8 1657.2C2543.6 1656.8 2560.2 1658.2 2574.3 1660C2588.3 1661.7 2601.7 1667.4 2614.3 1667.8C2626.8 1668.1 2638.7 1663 2649.8 1661.9C2660.9 1660.8 2675.7 1661.2 2680.9 1661M2236.6 1645C2243.3 1645.6 2263.3 1646.7 2276.6 1648.5C2289.9 1650.3 2303.2 1654.1 2316.6 1655.7C2329.9 1657.4 2343 1658.4 2356.6 1658.5C2370.1 1658.5 2383.2 1655.7 2398.1 1656C2412.9 1656.3 2429.8 1658.4 2445.4 1660.1C2461.1 1661.8 2477.8 1665.9 2491.9 1666.3C2505.9 1666.8 2516.1 1664.4 2529.8 1662.7C2543.6 1661 2560.2 1657.8 2574.3 1656.2C2588.3 1654.6 2601.7 1654 2614.3 1653C2626.8 1651.9 2638.7 1651.3 2649.8 1650C2660.9 1648.6 2675.7 1645.9 2680.9 1645M2236.6 1645.4C2243.3 1646.6 2263.3 1650.2 2276.6 1652.4C2289.9 1654.7 2303.2 1657.9 2316.6 1659C2329.9 1660.1 2343 1658.5 2356.6 1659.1C2370.1 1659.7 2383.2 1661.3 2398.1 1662.6C2412.9 1663.9 2429.8 1666.8 2445.4 1666.8C2461.1 1666.8 2477.8 1663.9 2491.9 1662.5C2505.9 1661.2 2516.1 1660.7 2529.8 1658.7C2543.6 1656.7 2560.2 1653.1 2574.3 1650.4C2588.3 1647.7 2601.7 1643.3 2614.3 1642.4C2626.8 1641.4 2638.7 1644.2 2649.8 1644.7C2660.9 1645.2 2675.7 1645.3 2680.9 1645.4M2236.6 1640.7C2243.3 1641.3 2263.3 1643.3 2276.6 1644.3C2289.9 1645.3 2303.2 1645.7 2316.6 1646.9C2329.9 1648.2 2343 1651 2356.6 1651.9C2370.1 1652.7 2383.2 1652.1 2398.1 1651.9C2412.9 1651.7 2429.8 1649.9 2445.4 1650.7C2461.1 1651.5 2477.8 1655.9 2491.9 1656.7C2505.9 1657.4 2516.1 1657.2 2529.8 1655.1C2543.6 1652.9 2560.2 1646.4 2574.3 1643.9C2588.3 1641.3 2601.7 1640.4 2614.3 1639.9C2626.8 1639.4 2638.7 1640.8 2649.8 1640.9C2660.9 1641.1 2675.7 1640.7 2680.9 1640.7M2236.6 1651.6C2243.3 1650.9 2263.3 1648.1 2276.6 1647.4C2289.9 1646.6 2303.2 1647 2316.6 1647C2329.9 1647.1 2343 1647.8 2356.6 1647.6C2370.1 1647.4 2383.2 1646.1 2398.1 1645.8C2412.9 1645.4 2429.8 1645.2 2445.4 1645.6C2461.1 1646 2477.8 1647.5 2491.9 1648.1C2505.9 1648.8 2516.1 1649.2 2529.8 1649.8C2543.6 1650.4 2560.2 1651.3 2574.3 1651.8C2588.3 1652.2 2601.7 1652.2 2614.3 1652.4C2626.8 1652.6 2638.7 1653.3 2649.8 1653.2C2660.9 1653 2675.7 1651.9 2680.9 1651.6M2236.6 1644.1C2243.3 1644 2263.3 1643.3 2276.6 1643.2C2289.9 1643.2 2303.2 1643.4 2316.6 1643.8C2329.9 1644.2 2343 1644.3 2356.6 1645.4C2370.1 1646.6 2383.2 1649.1 2398.1 1650.7C2412.9 1652.3 2429.8 1654.9 2445.4 1654.9C2461.1 1654.8 2477.8 1651.9 2491.9 1650.3C2505.9 1648.7 2516.1 1646.4 2529.8 1645.4C2543.6 1644.3 2560.2 1644.5 2574.3 1644.1C2588.3 1643.7 2601.7 1644.1 2614.3 1643.1C2626.8 1642 2638.7 1637.7 2649.8 1637.9C2660.9 1638 2675.7 1643.1 2680.9 1644.1M2236.6 1649.7C2243.3 1649 2263.3 1647.5 2276.6 1645.4C2289.9 1643.4 2303.2 1639.5 2316.6 1637.4C2329.9 1635.2 2343 1633 2356.6 1632.6C2370.1 1632.2 2383.2 1634.1 2398.1 1634.8C2412.9 1635.6 2429.8 1636.3 2445.4 1637.1C2461.1 1637.9 2477.8 1639.1 2491.9 1639.5C2505.9 1639.9 2516.1 1640.4 2529.8 1639.4C2543.6 1638.4 2560.2 1634.8 2574.3 1633.7C2588.3 1632.6 2601.7 1632.5 2614.3 1632.7C2626.8 1632.9 2638.7 1632.1 2649.8 1635C2660.9 1637.8 2675.7 1647.2 2680.9 1649.7M2236.6 1634.5C2243.3 1634.6 2263.3 1635.7 2276.6 1635C2289.9 1634.4 2303.2 1631.6 2316.6 1630.9C2329.9 1630.2 2343 1630.4 2356.6 1631C2370.1 1631.6 2383.2 1634 2398.1 1634.4C2412.9 1634.8 2429.8 1633.6 2445.4 1633.5C2461.1 1633.4 2477.8 1633.6 2491.9 1633.9C2505.9 1634.3 2516.1 1635.6 2529.8 1635.4C2543.6 1635.3 2560.2 1633.7 2574.3 1632.8C2588.3 1631.9 2601.7 1629.9 2614.3 1630C2626.8 1630.1 2638.7 1632.3 2649.8 1633.1C2660.9 1633.8 2675.7 1634.3 2680.9 1634.5M2236.6 1642.7C2243.3 1643 2263.3 1645.2 2276.6 1644.5C2289.9 1643.8 2303.2 1640.9 2316.6 1638.5C2329.9 1636.1 2343 1632 2356.6 1629.9C2370.1 1627.8 2383.2 1626.4 2398.1 1625.9C2412.9 1625.4 2429.8 1626.1 2445.4 1626.8C2461.1 1627.4 2477.8 1629 2491.9 1629.8C2505.9 1630.6 2516.1 1631.1 2529.8 1631.8C2543.6 1632.4 2560.2 1633.1 2574.3 1633.4C2588.3 1633.8 2601.7 1633.1 2614.3 1633.7C2626.8 1634.3 2638.7 1635.4 2649.8 1636.9C2660.9 1638.4 2675.7 1641.7 2680.9 1642.7M2236.6 1739.2C2240.3 1739.1 2251.4 1739.2 2258.8 1738.4C2266.2 1737.6 2272.9 1736.3 2281 1734.4C2289.2 1732.5 2298.8 1729.4 2307.7 1727.2C2316.6 1724.9 2324 1722.3 2334.3 1720.7C2344.7 1719.1 2364 1718 2369.9 1717.5M2680.9 1739.2C2677.2 1739.1 2666.1 1739.2 2658.7 1738.4C2651.3 1737.6 2644.6 1736.3 2636.5 1734.4C2628.3 1732.5 2618.7 1729.4 2609.8 1727.2C2600.9 1724.9 2593.5 1722.3 2583.2 1720.7C2572.8 1719.1 2553.5 1718 2547.6 1717.5M2281 1723.1C2288.4 1723.8 2310.7 1726.1 2325.5 1727.2C2340.3 1728.2 2357.8 1729 2369.9 1729.6C2382 1730.1 2387 1730 2398.1 1730.4C2409.2 1730.8 2420.9 1731.6 2436.5 1732C2452.2 1732.4 2473.3 1732.9 2491.9 1732.8C2510.4 1732.7 2530.9 1732.1 2547.6 1731.2C2564.3 1730.2 2577.2 1728.6 2592 1727.2C2606.8 1725.7 2629.1 1723.1 2636.5 1722.3M2236.6 1913.5C2243.3 1913.2 2263.3 1912.6 2276.6 1912.2C2289.9 1911.8 2303.2 1911.3 2316.6 1911C2329.9 1910.7 2343 1910.9 2356.6 1910.5C2370.1 1910.1 2383.2 1909.3 2398.1 1908.6C2412.9 1908 2429.8 1907.2 2445.4 1906.4C2461.1 1905.7 2477.8 1904.9 2491.9 1904.4C2505.9 1903.8 2516.1 1902.8 2529.8 1903C2543.6 1903.2 2560.2 1904.4 2574.3 1905.6C2588.3 1906.9 2601.7 1909.3 2614.3 1910.5C2626.8 1911.8 2638.7 1912.6 2649.8 1913C2660.9 1913.5 2675.7 1913.4 2680.9 1913.5M2236.6 1901.5C2243.3 1901.7 2263.3 1902.2 2276.6 1902.8C2289.9 1903.4 2303.2 1904.5 2316.6 1904.9C2329.9 1905.3 2343 1905 2356.6 1905.3C2370.1 1905.6 2383.2 1905.8 2398.1 1906.6C2412.9 1907.3 2429.8 1909.2 2445.4 1909.8C2461.1 1910.5 2477.8 1910.6 2491.9 1910.3C2505.9 1910 2516.1 1908.8 2529.8 1908.2C2543.6 1907.6 2560.2 1906.9 2574.3 1906.6C2588.3 1906.3 2601.7 1906.6 2614.3 1906.3C2626.8 1906 2638.7 1905.4 2649.8 1904.6C2660.9 1903.8 2675.7 1902 2680.9 1901.5M2236.6 1903.4C2243.3 1903.3 2263.3 1903.2 2276.6 1902.7C2289.9 1902.2 2303.2 1901 2316.6 1900.4C2329.9 1899.9 2343 1899.2 2356.6 1899.4C2370.1 1899.6 2383.2 1900.8 2398.1 1901.6C2412.9 1902.4 2429.8 1903.4 2445.4 1904C2461.1 1904.6 2477.8 1904.7 2491.9 1905.2C2505.9 1905.6 2516.1 1906.6 2529.8 1906.7C2543.6 1906.8 2560.2 1906.4 2574.3 1905.6C2588.3 1904.7 2601.7 1902.4 2614.3 1901.3C2626.8 1900.2 2638.7 1898.5 2649.8 1898.9C2660.9 1899.2 2675.7 1902.7 2680.9 1903.4M2236.6 1901C2243.3 1900.9 2263.3 1900.3 2276.6 1899.9C2289.9 1899.5 2303.2 1898.8 2316.6 1898.7C2329.9 1898.6 2343 1899.1 2356.6 1899.4C2370.1 1899.8 2383.2 1900.4 2398.1 1900.6C2412.9 1900.8 2429.8 1900.6 2445.4 1900.9C2461.1 1901.1 2477.8 1901.6 2491.9 1902C2505.9 1902.4 2516.1 1903.3 2529.8 1903.2C2543.6 1903.1 2560.2 1901.8 2574.3 1901.3C2588.3 1900.8 2601.7 1899.9 2614.3 1900.1C2626.8 1900.2 2638.7 1902 2649.8 1902.1C2660.9 1902.3 2675.7 1901.2 2680.9 1901M2236.6 1894.6C2243.3 1894.9 2263.3 1895.4 2276.6 1896.2C2289.9 1897.1 2303.2 1898.2 2316.6 1899.6C2329.9 1901 2343 1903.2 2356.6 1904.6C2370.1 1906.1 2383.2 1907.8 2398.1 1908.4C2412.9 1908.9 2429.8 1908.3 2445.4 1907.9C2461.1 1907.5 2477.8 1906.7 2491.9 1905.9C2505.9 1905.2 2516.1 1904.3 2529.8 1903.6C2543.6 1902.9 2560.2 1902.4 2574.3 1901.9C2588.3 1901.3 2601.7 1901.4 2614.3 1900.4C2626.8 1899.3 2638.7 1896.6 2649.8 1895.7C2660.9 1894.7 2675.7 1894.8 2680.9 1894.6M2236.6 1890.6C2243.3 1891.2 2263.3 1893.2 2276.6 1894.4C2289.9 1895.7 2303.2 1897.1 2316.6 1897.9C2329.9 1898.7 2343 1898.7 2356.6 1899.2C2370.1 1899.7 2383.2 1899.9 2398.1 1900.9C2412.9 1901.9 2429.8 1904.3 2445.4 1904.9C2461.1 1905.5 2477.8 1905.4 2491.9 1904.7C2505.9 1904 2516.1 1901.7 2529.8 1900.7C2543.6 1899.7 2560.2 1899.1 2574.3 1898.5C2588.3 1898 2601.7 1898 2614.3 1897.3C2626.8 1896.7 2638.7 1896 2649.8 1894.9C2660.9 1893.8 2675.7 1891.3 2680.9 1890.6M2236.6 1888.6C2243.3 1889 2263.3 1889.8 2276.6 1891C2289.9 1892.2 2303.2 1894.4 2316.6 1895.7C2329.9 1897 2343 1898.2 2356.6 1898.8C2370.1 1899.5 2383.2 1899.3 2398.1 1899.7C2412.9 1900 2429.8 1900.7 2445.4 1901C2461.1 1901.4 2477.8 1901.6 2491.9 1901.5C2505.9 1901.5 2516.1 1901.3 2529.8 1900.8C2543.6 1900.2 2560.2 1899 2574.3 1898.2C2588.3 1897.5 2601.7 1896.8 2614.3 1896.1C2626.8 1895.5 2638.7 1895.8 2649.8 1894.5C2660.9 1893.3 2675.7 1889.6 2680.9 1888.6M2236.6 1893.9C2243.3 1893.5 2263.3 1892 2276.6 1891.7C2289.9 1891.3 2303.2 1891.1 2316.6 1891.7C2329.9 1892.3 2343 1894.1 2356.6 1895.2C2370.1 1896.4 2383.2 1897.6 2398.1 1898.7C2412.9 1899.8 2429.8 1901.2 2445.4 1901.7C2461.1 1902.2 2477.8 1902.3 2491.9 1901.6C2505.9 1900.8 2516.1 1898.2 2529.8 1897.1C2543.6 1896.1 2560.2 1895.3 2574.3 1895.2C2588.3 1895 2601.7 1896.2 2614.3 1896C2626.8 1895.8 2638.7 1894.4 2649.8 1894C2660.9 1893.7 2675.7 1893.9 2680.9 1893.9M2236.6 1896.5C2243.3 1896 2263.3 1894.4 2276.6 1893.8C2289.9 1893.1 2303.2 1892.9 2316.6 1892.8C2329.9 1892.8 2343 1893.1 2356.6 1893.2C2370.1 1893.4 2383.2 1893.3 2398.1 1893.8C2412.9 1894.4 2429.8 1895.7 2445.4 1896.5C2461.1 1897.2 2477.8 1898.1 2491.9 1898.2C2505.9 1898.3 2516.1 1897.5 2529.8 1897.1C2543.6 1896.7 2560.2 1896 2574.3 1895.8C2588.3 1895.7 2601.7 1896.2 2614.3 1896.1C2626.8 1896.1 2638.7 1895.6 2649.8 1895.7C2660.9 1895.7 2675.7 1896.3 2680.9 1896.5M2236.6 1879.7C2243.3 1880.6 2263.3 1883 2276.6 1885.1C2289.9 1887.2 2303.2 1890.5 2316.6 1892.4C2329.9 1894.4 2343 1895.6 2356.6 1896.9C2370.1 1898.3 2383.2 1899.6 2398.1 1900.5C2412.9 1901.4 2429.8 1902.8 2445.4 1902.3C2461.1 1901.8 2477.8 1899.2 2491.9 1897.7C2505.9 1896.1 2516.1 1894.2 2529.8 1892.8C2543.6 1891.4 2560.2 1890.6 2574.3 1889.2C2588.3 1887.8 2601.7 1885.3 2614.3 1884.6C2626.8 1883.8 2638.7 1885.5 2649.8 1884.7C2660.9 1883.9 2675.7 1880.5 2680.9 1879.7M2236.6 1887.9C2243.3 1888.4 2263.3 1889.8 2276.6 1890.7C2289.9 1891.6 2303.2 1892.9 2316.6 1893.4C2329.9 1893.9 2343 1893.9 2356.6 1893.9C2370.1 1893.9 2383.2 1893.5 2398.1 1893.3C2412.9 1893.2 2429.8 1892.9 2445.4 1893C2461.1 1893 2477.8 1893.7 2491.9 1893.7C2505.9 1893.8 2516.1 1893.9 2529.8 1893.4C2543.6 1892.8 2560.2 1890.9 2574.3 1890.2C2588.3 1889.5 2601.7 1889.4 2614.3 1889.2C2626.8 1889 2638.7 1889.1 2649.8 1888.8C2660.9 1888.6 2675.7 1888.1 2680.9 1887.9M2236.6 1888.2C2243.3 1888.3 2263.3 1889 2276.6 1888.8C2289.9 1888.6 2303.2 1887.3 2316.6 1887.1C2329.9 1886.8 2343 1886.4 2356.6 1887.2C2370.1 1888 2383.2 1890.7 2398.1 1891.8C2412.9 1892.9 2429.8 1894.1 2445.4 1893.9C2461.1 1893.8 2477.8 1891.8 2491.9 1890.9C2505.9 1889.9 2516.1 1888.8 2529.8 1888.1C2543.6 1887.5 2560.2 1887.1 2574.3 1886.9C2588.3 1886.7 2601.7 1886.9 2614.3 1886.9C2626.8 1886.9 2638.7 1886.7 2649.8 1886.9C2660.9 1887.1 2675.7 1888 2680.9 1888.2M2236.6 1882.3C2243.3 1882.2 2263.3 1881.1 2276.6 1881.4C2289.9 1881.7 2303.2 1883.3 2316.6 1884.3C2329.9 1885.4 2343 1886.8 2356.6 1887.7C2370.1 1888.7 2383.2 1889.5 2398.1 1890C2412.9 1890.5 2429.8 1890.8 2445.4 1891C2461.1 1891.1 2477.8 1891.2 2491.9 1891C2505.9 1890.9 2516.1 1890.6 2529.8 1890C2543.6 1889.4 2560.2 1888.1 2574.3 1887.5C2588.3 1886.8 2601.7 1886.5 2614.3 1886C2626.8 1885.5 2638.7 1885.4 2649.8 1884.8C2660.9 1884.1 2675.7 1882.7 2680.9 1882.3M2236.6 1971.3C2243.3 1972.3 2263.3 1976.1 2276.6 1977.1C2289.9 1978.1 2303.2 1978.2 2316.6 1977C2329.9 1975.8 2343 1971.7 2356.6 1969.9C2370.1 1968 2383.2 1966.3 2398.1 1965.7C2412.9 1965.2 2429.8 1966.3 2445.4 1966.6C2461.1 1966.9 2477.8 1967.4 2491.9 1967.7C2505.9 1967.9 2516.1 1967.6 2529.8 1968C2543.6 1968.4 2560.2 1969.6 2574.3 1970.2C2588.3 1970.8 2601.7 1971.2 2614.3 1971.7C2626.8 1972.2 2638.7 1973.4 2649.8 1973.4C2660.9 1973.3 2675.7 1971.6 2680.9 1971.3M2236.6 1974C2243.3 1973.9 2263.3 1973.5 2276.6 1973.3C2289.9 1973.1 2303.2 1973.6 2316.6 1972.9C2329.9 1972.2 2343 1970.4 2356.6 1968.9C2370.1 1967.3 2383.2 1965 2398.1 1963.6C2412.9 1962.1 2429.8 1961.1 2445.4 1960.2C2461.1 1959.4 2477.8 1958.3 2491.9 1958.6C2505.9 1958.8 2516.1 1960.4 2529.8 1961.8C2543.6 1963.2 2560.2 1965.4 2574.3 1966.9C2588.3 1968.4 2601.7 1968.9 2614.3 1970.6C2626.8 1972.2 2638.7 1976.4 2649.8 1976.9C2660.9 1977.5 2675.7 1974.5 2680.9 1974M2236.6 1964.7C2243.3 1966 2263.3 1970.3 2276.6 1972.2C2289.9 1974 2303.2 1976.4 2316.6 1976C2329.9 1975.6 2343 1972.6 2356.6 1969.6C2370.1 1966.6 2383.2 1960.8 2398.1 1958.2C2412.9 1955.5 2429.8 1954.3 2445.4 1953.8C2461.1 1953.4 2477.8 1954.6 2491.9 1955.7C2505.9 1956.7 2516.1 1958.4 2529.8 1960.1C2543.6 1961.7 2560.2 1964.7 2574.3 1965.6C2588.3 1966.6 2601.7 1965.9 2614.3 1965.9C2626.8 1966 2638.7 1966.2 2649.8 1966C2660.9 1965.8 2675.7 1964.9 2680.9 1964.7M2236.6 1953.6C2243.3 1953.5 2263.3 1952.6 2276.6 1953.5C2289.9 1954.3 2303.2 1957.3 2316.6 1958.6C2329.9 1960 2343 1961 2356.6 1961.7C2370.1 1962.5 2383.2 1962.1 2398.1 1963.3C2412.9 1964.5 2429.8 1967.5 2445.4 1968.9C2461.1 1970.3 2477.8 1971.4 2491.9 1971.5C2505.9 1971.5 2516.1 1970.5 2529.8 1969.2C2543.6 1968 2560.2 1965.6 2574.3 1964.1C2588.3 1962.6 2601.7 1960.5 2614.3 1960.1C2626.8 1959.6 2638.7 1962.4 2649.8 1961.3C2660.9 1960.2 2675.7 1954.8 2680.9 1953.6M2236.6 1963.1C2243.3 1962.9 2263.3 1961.8 2276.6 1961.5C2289.9 1961.1 2303.2 1961 2316.6 1960.8C2329.9 1960.6 2343 1960.3 2356.6 1960.4C2370.1 1960.5 2383.2 1961.4 2398.1 1961.4C2412.9 1961.4 2429.8 1961.2 2445.4 1960.3C2461.1 1959.4 2477.8 1957.1 2491.9 1956.1C2505.9 1955 2516.1 1954 2529.8 1954C2543.6 1954 2560.2 1955.2 2574.3 1956.1C2588.3 1957 2601.7 1957.9 2614.3 1959.3C2626.8 1960.6 2638.7 1963.5 2649.8 1964.1C2660.9 1964.8 2675.7 1963.3 2680.9 1963.1M2236.6 1959.1C2243.3 1958.8 2263.3 1957.7 2276.6 1957.4C2289.9 1957.1 2303.2 1957.6 2316.6 1957.4C2329.9 1957.2 2343 1957 2356.6 1956.4C2370.1 1955.7 2383.2 1955.3 2398.1 1953.6C2412.9 1951.8 2429.8 1948.5 2445.4 1946.1C2461.1 1943.6 2477.8 1939.3 2491.9 1938.7C2505.9 1938.1 2516.1 1940.7 2529.8 1942.7C2543.6 1944.7 2560.2 1949.1 2574.3 1950.7C2588.3 1952.3 2601.7 1951.6 2614.3 1952.1C2626.8 1952.6 2638.7 1952.4 2649.8 1953.6C2660.9 1954.7 2675.7 1958.2 2680.9 1959.1M2236.6 1953.3C2243.3 1953.4 2263.3 1954.4 2276.6 1954.2C2289.9 1953.9 2303.2 1952.2 2316.6 1951.8C2329.9 1951.4 2343 1951.9 2356.6 1951.7C2370.1 1951.5 2383.2 1951.2 2398.1 1950.5C2412.9 1949.8 2429.8 1947.5 2445.4 1947.4C2461.1 1947.4 2477.8 1948.9 2491.9 1950.3C2505.9 1951.7 2516.1 1955.2 2529.8 1955.9C2543.6 1956.6 2560.2 1955.7 2574.3 1954.5C2588.3 1953.3 2601.7 1950 2614.3 1948.4C2626.8 1946.9 2638.7 1944.3 2649.8 1945.1C2660.9 1945.9 2675.7 1951.9 2680.9 1953.3M2236.6 1957C2243.3 1956.3 2263.3 1954.8 2276.6 1953.2C2289.9 1951.6 2303.2 1948.9 2316.6 1947.3C2329.9 1945.7 2343 1944.3 2356.6 1943.7C2370.1 1943 2383.2 1943.6 2398.1 1943.3C2412.9 1943.1 2429.8 1942.2 2445.4 1942.1C2461.1 1942.1 2477.8 1942.7 2491.9 1943.1C2505.9 1943.6 2516.1 1944.4 2529.8 1944.8C2543.6 1945.3 2560.2 1944.9 2574.3 1945.8C2588.3 1946.7 2601.7 1948.3 2614.3 1950.1C2626.8 1952 2638.7 1955.7 2649.8 1956.9C2660.9 1958 2675.7 1956.9 2680.9 1957M2236.6 1949.1C2243.3 1948.7 2263.3 1947 2276.6 1946.8C2289.9 1946.7 2303.2 1948 2316.6 1948.2C2329.9 1948.4 2343 1948 2356.6 1948.1C2370.1 1948.1 2383.2 1947.9 2398.1 1948.6C2412.9 1949.2 2429.8 1951.5 2445.4 1951.8C2461.1 1952.1 2477.8 1951.4 2491.9 1950.4C2505.9 1949.4 2516.1 1947.1 2529.8 1945.8C2543.6 1944.4 2560.2 1943 2574.3 1942.3C2588.3 1941.6 2601.7 1941.1 2614.3 1941.5C2626.8 1941.8 2638.7 1943.1 2649.8 1944.3C2660.9 1945.6 2675.7 1948.3 2680.9 1949.1M2236.6 1939.4C2243.3 1939.3 2263.3 1939 2276.6 1939.1C2289.9 1939.2 2303.2 1939.6 2316.6 1940.1C2329.9 1940.6 2343 1941.7 2356.6 1942.1C2370.1 1942.4 2383.2 1942.4 2398.1 1942.2C2412.9 1942 2429.8 1940.6 2445.4 1940.9C2461.1 1941.2 2477.8 1943.2 2491.9 1943.9C2505.9 1944.7 2516.1 1945.8 2529.8 1945.3C2543.6 1944.8 2560.2 1942.2 2574.3 1940.9C2588.3 1939.5 2601.7 1938 2614.3 1937.4C2626.8 1936.8 2638.7 1937 2649.8 1937.3C2660.9 1937.6 2675.7 1939 2680.9 1939.4M2236.6 1936.1C2243.3 1937 2263.3 1940.7 2276.6 1941.3C2289.9 1941.9 2303.2 1940.9 2316.6 1939.8C2329.9 1938.7 2343 1935.1 2356.6 1934.8C2370.1 1934.4 2383.2 1936.6 2398.1 1937.7C2412.9 1938.8 2429.8 1941.1 2445.4 1941.3C2461.1 1941.4 2477.8 1939.1 2491.9 1938.4C2505.9 1937.8 2516.1 1937.8 2529.8 1937.2C2543.6 1936.6 2560.2 1935.4 2574.3 1934.9C2588.3 1934.4 2601.7 1933.7 2614.3 1934.1C2626.8 1934.5 2638.7 1937 2649.8 1937.3C2660.9 1937.7 2675.7 1936.3 2680.9 1936.1M2236.6 1940.3C2243.3 1939.9 2263.3 1939.6 2276.6 1938.1C2289.9 1936.5 2303.2 1932.5 2316.6 1931C2329.9 1929.5 2343 1929.1 2356.6 1928.8C2370.1 1928.6 2383.2 1929.5 2398.1 1929.4C2412.9 1929.3 2429.8 1928.3 2445.4 1928.2C2461.1 1928 2477.8 1927.8 2491.9 1928.6C2505.9 1929.4 2516.1 1931.4 2529.8 1933C2543.6 1934.6 2560.2 1937.5 2574.3 1938.1C2588.3 1938.7 2601.7 1937 2614.3 1936.4C2626.8 1935.9 2638.7 1934.3 2649.8 1934.9C2660.9 1935.6 2675.7 1939.4 2680.9 1940.3M2236.6 1938.6C2243.3 1938.4 2263.3 1937.8 2276.6 1937.3C2289.9 1936.9 2303.2 1936.4 2316.6 1935.8C2329.9 1935.2 2343 1934.8 2356.6 1933.7C2370.1 1932.5 2383.2 1929.9 2398.1 1929.1C2412.9 1928.4 2429.8 1928.7 2445.4 1929.1C2461.1 1929.5 2477.8 1931.5 2491.9 1931.5C2505.9 1931.5 2516.1 1929.3 2529.8 1929.2C2543.6 1929 2560.2 1929.1 2574.3 1930.5C2588.3 1931.9 2601.7 1935.6 2614.3 1937.6C2626.8 1939.6 2638.7 1942.1 2649.8 1942.2C2660.9 1942.4 2675.7 1939.2 2680.9 1938.6M2236.6 1936.7C2243.3 1937 2263.3 1938.7 2276.6 1938.7C2289.9 1938.7 2303.2 1938 2316.6 1936.7C2329.9 1935.4 2343 1932.6 2356.6 1930.8C2370.1 1929 2383.2 1927.1 2398.1 1925.9C2412.9 1924.7 2429.8 1923.9 2445.4 1923.5C2461.1 1923.2 2477.8 1923.6 2491.9 1924C2505.9 1924.3 2516.1 1924.5 2529.8 1925.8C2543.6 1927.1 2560.2 1929.8 2574.3 1931.6C2588.3 1933.4 2601.7 1935.6 2614.3 1936.7C2626.8 1937.8 2638.7 1938.2 2649.8 1938.2C2660.9 1938.2 2675.7 1936.9 2680.9 1936.7M2236.6 1921.5C2243.3 1922.4 2263.3 1925.4 2276.6 1927.1C2289.9 1928.8 2303.2 1931.4 2316.6 1931.6C2329.9 1931.7 2343 1930 2356.6 1927.9C2370.1 1925.9 2383.2 1921.5 2398.1 1919.4C2412.9 1917.3 2429.8 1915.7 2445.4 1915.3C2461.1 1914.8 2477.8 1915.8 2491.9 1916.5C2505.9 1917.2 2516.1 1918.5 2529.8 1919.6C2543.6 1920.7 2560.2 1922.6 2574.3 1923.3C2588.3 1924.1 2601.7 1924 2614.3 1924.1C2626.8 1924.3 2638.7 1924.5 2649.8 1924C2660.9 1923.6 2675.7 1921.9 2680.9 1921.5M2236.6 1930C2243.3 1930.5 2263.3 1932.6 2276.6 1932.6C2289.9 1932.5 2303.2 1931.6 2316.6 1929.8C2329.9 1928 2343 1923.8 2356.6 1921.7C2370.1 1919.6 2383.2 1918.3 2398.1 1917.2C2412.9 1916 2429.8 1915.5 2445.4 1914.8C2461.1 1914.2 2477.8 1912.9 2491.9 1913.1C2505.9 1913.3 2516.1 1914.5 2529.8 1916C2543.6 1917.5 2560.2 1920.5 2574.3 1922.1C2588.3 1923.7 2601.7 1924 2614.3 1925.8C2626.8 1927.6 2638.7 1932.4 2649.8 1933.1C2660.9 1933.8 2675.7 1930.5 2680.9 1930M2236.6 1880.3C2244 1879.8 2266.2 1878.4 2281 1877.1C2295.8 1875.7 2310.7 1873.6 2325.5 1872.2C2340.3 1870.9 2357.8 1869.7 2369.9 1869C2382 1868.3 2389.2 1869 2398.1 1868.2C2406.9 1867.4 2413.1 1865.4 2423.2 1864.2C2433.3 1863 2447.3 1861.6 2458.8 1861C2470.2 1860.3 2480.7 1860 2491.9 1860.2C2503 1860.3 2512.4 1860.6 2525.4 1861.8C2538.4 1863 2555 1865.4 2569.8 1867.4C2584.6 1869.4 2600.9 1872 2614.3 1873.9C2627.6 1875.7 2638.7 1877.6 2649.8 1878.7C2660.9 1879.8 2675.7 1880 2680.9 1880.3M2236.6 1880.3C2244 1879.9 2266.2 1879 2281 1877.9C2295.8 1876.8 2310.7 1875.1 2325.5 1873.9C2340.3 1872.6 2357.8 1871.3 2369.9 1870.6C2382 1870 2389.2 1868.9 2398.1 1869.8C2406.9 1870.8 2413.1 1873.6 2423.2 1876.3C2433.3 1879 2447.3 1883.4 2458.8 1885.9C2470.2 1888.5 2480.7 1891.2 2491.9 1891.6C2503 1892 2512.4 1889.6 2525.4 1888.4C2538.4 1887.2 2555 1885.4 2569.8 1884.3C2584.6 1883.3 2595.7 1882.6 2614.3 1881.9C2632.8 1881.2 2669.8 1880.6 2680.9 1880.3M2236.6 1912.5C2244 1913.9 2266.2 1917.9 2281 1920.6C2295.8 1923.3 2318.1 1927.3 2325.5 1928.7M2680.9 1908.5C2673.5 1909.9 2651.3 1913.9 2636.5 1916.6C2621.7 1919.3 2599.4 1923.3 2592 1924.6M2236.6 1916.6C2247.7 1915.9 2281 1913.7 2303.2 1912.5C2325.5 1911.3 2358.8 1909.9 2369.9 1909.3M2680.9 1916.6C2669.8 1916.2 2636.5 1915.1 2614.3 1914.2C2592 1913.2 2558.7 1911.5 2547.6 1910.9"/></g><use href="#b5_1" stroke="#a91d38" stroke-width="2"/></g>
<line x1="2398.1" y1="1638.5" x2="2398.1" y2="1960.9" stroke="#1a1ad0" stroke-width="1.1" stroke-linecap="butt" />
<line x1="2491.9" y1="1638.5" x2="2491.9" y2="1960.9" stroke="#1a1ad0" stroke-width="1.1" stroke-linecap="butt" />
<line x1="2236.6" y1="1799.7" x2="2680.9" y2="1799.7" stroke="#2a7a2a" stroke-width="1.1" stroke-dasharray="2 2.4"/>
<rect x="2236.6" y="1638.5" width="444.3" height="322.4" fill="none" stroke="#000" stroke-width="3"/>
<text x="2222.6" y="1646.5" font-size="35" text-anchor="end" >2</text>
<text x="2222.6" y="1727.1" font-size="35" text-anchor="end" >1</text>
<line x1="2236.6" y1="1719.1" x2="2245.6" y2="1719.1" stroke="#000" stroke-width="2.4" stroke-linecap="butt" />
<text x="2222.6" y="1807.7" font-size="35" text-anchor="end" >0</text>
<line x1="2236.6" y1="1799.7" x2="2245.6" y2="1799.7" stroke="#000" stroke-width="2.4" stroke-linecap="butt" />
<text x="2222.6" y="1888.3" font-size="35" text-anchor="end" >1</text>
<line x1="2173.6" y1="1878.8" x2="2197.6" y2="1878.8" stroke="#000" stroke-width="1.9" stroke-linecap="butt" />
<line x1="2236.6" y1="1880.3" x2="2245.6" y2="1880.3" stroke="#000" stroke-width="2.4" stroke-linecap="butt" />
<text x="2222.6" y="1968.9" font-size="35" text-anchor="end" >2</text>
<line x1="2173.6" y1="1959.4" x2="2197.6" y2="1959.4" stroke="#000" stroke-width="1.9" stroke-linecap="butt" />
<text x="2240.6" y="2008.5" font-size="38.3" text-anchor="middle" font-style="italic" >Γ</text>
<text x="2403.1" y="2011.4" font-size="38.3" text-anchor="middle" font-style="italic" >M</text>
<text x="2497.4" y="2011.4" font-size="38.3" text-anchor="middle" font-style="italic" >K</text>
<text x="2684.9" y="2008.5" font-size="38.3" text-anchor="middle" font-style="italic" >Γ</text>
<text transform="translate(2164.6 1809.7) rotate(-90)" font-size="37.5" text-anchor="middle" textLength="198" lengthAdjust="spacing">Energy/eV</text>
<text x="2253.2" y="1785.6" font-size="33" font-style="italic" >ε</text>
<text x="2272.4" y="1792" font-size="25.4" >F</text>
<text x="2458.8" y="1622" font-size="36.8" text-anchor="middle" textLength="106.7" lengthAdjust="spacing" >23.41°</text>
<line x1="2520.1" y1="1840.9" x2="2651.5" y2="1760.9" stroke="#14a64f" stroke-width="3.2" stroke-linecap="butt" />
<polygon points="2501.7,1852.1 2528.5,1844.2 2521,1831.9" fill="#14a64f"/>
<polygon points="2669.9,1749.7 2650.6,1769.9 2643.1,1757.6" fill="#14a64f"/>
<text x="2469.7" y="1782.6" font-size="36.5" textLength="133.3" lengthAdjust="spacing" >1.50 eV</text>
<clipPath id="cp6"><rect x="2824.4" y="1638.5" width="444" height="322.4"/></clipPath>
<g clip-path="url(#cp6)" fill="none"><g stroke="#0b2146" stroke-width="4"><path id="b6_0" d="M2824.4 1890.2C2827.3 1890.8 2835.3 1891.5 2841.8 1893.9C2848.2 1896.2 2856 1900.2 2863.1 1904.5C2870.2 1908.8 2877.8 1914.4 2884.4 1919.8C2891 1925.1 2896.6 1930.7 2902.7 1936.5C2908.8 1942.4 2916.7 1950.5 2921 1954.8C2925.3 1959.1 2927.3 1961.2 2928.6 1962.4M2824.4 1890.2C2826.3 1891.3 2831.8 1893.3 2835.7 1896.9C2839.6 1900.6 2843.8 1906.6 2847.9 1912.1C2851.9 1917.7 2856 1923.8 2860.1 1930.4C2864.1 1937 2869.2 1946.4 2872.2 1951.8C2875.3 1957.1 2877.3 1960.6 2878.3 1962.4M3268.4 1890.2C3265.4 1890.8 3256.7 1891.5 3250.1 1893.9C3243.5 1896.2 3235.9 1901 3228.8 1904.5C3221.7 1908.1 3215.1 1910.9 3207.5 1915.2C3199.8 1919.5 3191.2 1924.8 3183.1 1930.4C3174.9 1936 3165.8 1943.4 3158.7 1948.7C3151.6 1954 3143.5 1960.1 3140.4 1962.4M3268.4 1890.2C3266.4 1891.3 3260.3 1893.5 3256.2 1896.9C3252.1 1900.3 3248.1 1905 3244 1910.6C3240 1916.2 3235.9 1923.6 3231.8 1930.4C3227.8 1937.3 3222.7 1946.4 3219.6 1951.8C3216.6 1957.1 3214.6 1960.6 3213.5 1962.4"/></g><use href="#b6_0" stroke="#153c74" stroke-width="2"/></g>
<g clip-path="url(#cp6)" fill="none"><g stroke="#6e1226" stroke-width="3.8"><path id="b6_1" d="M2824.4 1740.9C2828.3 1738.5 2838.9 1731.2 2847.9 1726.3C2856.9 1721.3 2868.2 1716.1 2878.3 1711C2888.5 1705.9 2899.7 1699.6 2908.8 1695.8C2918 1692 2927.1 1688.2 2933.2 1688.2C2939.3 1688.2 2940.3 1692.5 2945.4 1695.8C2950.5 1699.1 2956.7 1704.2 2963.7 1708C2970.7 1711.8 2978.8 1716.6 2987.4 1718.6C2996.1 1720.7 3005.7 1718.9 3015.5 1720.2C3025.2 1721.4 3035.1 1724.2 3045.9 1726.3C3056.8 1728.3 3070.2 1731.6 3080.4 1732.4C3090.5 1733.1 3097.4 1732.6 3106.9 1730.8C3116.4 1729.1 3127.7 1725.5 3137.4 1721.7C3147 1717.9 3156.7 1711 3164.8 1708C3172.9 1704.9 3180 1703.4 3186.1 1703.4C3192.2 1703.4 3194.2 1704.7 3201.4 1708C3208.5 1711.3 3220.7 1718.6 3228.8 1723.2C3236.9 1727.8 3243.5 1732.5 3250.1 1735.4C3256.7 1738.3 3265.4 1740 3268.4 1740.9M2824.4 1725.7C2828.3 1725.1 2838.9 1725.6 2847.9 1722.6C2856.9 1719.7 2868.2 1714 2878.3 1708C2888.5 1702 2898.7 1692 2908.8 1686.6C2919 1681.3 2929.1 1678.3 2939.3 1676C2949.4 1673.7 2961.7 1673.7 2969.8 1672.9C2977.8 1672.2 2982.4 1670.6 2987.4 1671.4C2992.5 1672.2 2993 1672.4 3000.2 1677.5C3007.4 1682.6 3020.5 1694.3 3030.7 1701.9C3040.9 1709.5 3052.9 1718.6 3061.2 1723.2C3069.5 1727.8 3073.8 1729.3 3080.4 1729.3C3087 1729.3 3093.8 1727.8 3100.8 1723.2C3107.8 1718.6 3114.5 1708.5 3122.1 1701.9C3129.7 1695.3 3139.9 1687.4 3146.5 1683.6C3153.1 1679.8 3156.7 1679.5 3161.7 1679C3166.8 1678.5 3170.4 1678.8 3177 1680.6C3183.6 1682.3 3192.7 1685.1 3201.4 1689.7C3210 1694.3 3220.7 1702.9 3228.8 1708C3236.9 1713.1 3243.5 1717.4 3250.1 1720.2C3256.7 1723 3265.4 1724 3268.4 1724.7M2824.4 1723.2C2829.3 1721.7 2844 1720.2 2854 1714.1C2864 1708 2875.3 1694.3 2884.4 1686.6C2893.6 1679 2902.2 1673.5 2908.8 1668.4C2915.4 1663.2 2919 1657.1 2924 1655.6C2929.1 1654 2933.7 1658.2 2939.3 1659.2C2944.9 1660.2 2949.5 1661.9 2957.6 1661.7C2965.6 1661.4 2980.3 1657.6 2987.4 1657.7C2994.5 1657.8 2993 1656.9 3000.2 1662.3C3007.4 1667.6 3020.5 1680 3030.7 1689.7C3040.9 1699.3 3052.9 1713.8 3061.2 1720.2C3069.5 1726.5 3073.8 1727.5 3080.4 1727.8C3087 1728 3093.8 1727 3100.8 1721.7C3107.8 1716.4 3115.5 1702.4 3122.1 1695.8C3128.7 1689.2 3134.3 1684.9 3140.4 1682.1C3146.5 1679.3 3149.6 1679.3 3158.7 1679C3167.8 1678.8 3186.1 1678.3 3195.3 1680.6C3204.4 1682.8 3206.4 1687.7 3213.5 1692.7C3220.7 1697.8 3228.8 1706 3237.9 1711C3247.1 1716 3263.3 1720.7 3268.4 1722.6M2824.4 1686C2828.3 1684.6 2838.9 1681.5 2847.9 1677.5C2856.9 1673.5 2868.2 1666.7 2878.3 1662.3C2888.5 1657.8 2901.2 1653 2908.8 1650.7C2916.4 1648.4 2919 1648.8 2924 1648.6C2929.1 1648.4 2933.7 1650 2939.3 1649.5C2944.9 1649 2949.5 1645.4 2957.6 1645.5C2965.6 1645.6 2980.3 1649.1 2987.4 1650.1C2994.5 1651.1 2993 1649.1 3000.2 1651.6C3007.4 1654.1 3020.5 1660.5 3030.7 1665.3C3040.9 1670.1 3052.9 1677.1 3061.2 1680.6C3069.5 1684 3072.8 1685.5 3080.4 1686C3088 1686.5 3096.4 1685 3106.9 1683.6C3117.4 1682.2 3134.3 1681.1 3143.5 1677.5C3152.6 1673.9 3155.6 1667.2 3161.7 1662.3C3167.8 1657.3 3174.4 1649.2 3180 1647.6C3185.6 1646.1 3188.7 1649.7 3195.3 1653.1C3201.9 1656.6 3211.5 1663.8 3219.6 1668.4C3227.8 1672.9 3235.9 1677.6 3244 1680.6C3252.1 1683.5 3264.3 1685.1 3268.4 1686M2824.4 1671.4C2828.3 1670.9 2838.9 1670.6 2847.9 1668.4C2856.9 1666.1 2868.2 1661.5 2878.3 1657.7C2888.5 1653.9 2898.7 1648.6 2908.8 1645.5C2919 1642.5 2932.2 1640.9 2939.3 1639.4C2946.4 1637.9 2949.4 1636.9 2951.5 1636.4M3158.7 1636.4C3159.7 1636.7 3160.7 1637.2 3164.8 1638.5C3168.9 1639.8 3174.9 1641 3183.1 1644C3191.2 1646.9 3203.4 1652.4 3213.5 1656.2C3223.7 1660 3234.9 1664.4 3244 1666.8C3253.2 1669.3 3264.3 1670.1 3268.4 1670.8M2824.4 1651.6C2828.3 1651.1 2841.4 1650.1 2847.9 1648.6C2854.3 1647 2858.5 1644.5 2863.1 1642.5C2867.7 1640.4 2873.3 1637.4 2875.3 1636.4M3222.7 1636.4C3223.2 1636.7 3222.2 1637 3225.7 1638.5C3229.3 1640 3236.9 1643.5 3244 1645.5C3251.1 1647.5 3264.3 1649.8 3268.4 1650.7M2824.4 1648.6C2827.3 1647.8 2836.3 1646 2841.8 1644C2847.2 1642 2854.5 1637.6 2857 1636.4M3237.9 1636.4C3238.4 1636.7 3237.9 1637.2 3241 1638.5C3244 1639.8 3251.6 1642.5 3256.2 1644C3260.8 1645.5 3266.4 1647 3268.4 1647.6M2824.4 1892.3C2830.9 1892.1 2849 1891.4 2863.1 1890.8C2877.2 1890.2 2896.1 1888.8 2908.8 1888.7C2921.5 1888.6 2929.1 1889.1 2939.3 1890.2C2949.4 1891.3 2961.7 1894.3 2969.8 1895.4C2977.8 1896.5 2982.4 1897.2 2987.4 1896.9C2992.5 1896.7 2993 1897.4 3000.2 1893.9C3007.4 1890.3 3021.6 1880.7 3030.7 1875.6C3039.8 1870.5 3046.8 1866.1 3055.1 1863.4C3063.4 1860.7 3071.7 1859.2 3080.4 1859.4C3089 1859.7 3097.4 1862 3106.9 1864.9C3116.4 1867.9 3127.2 1873.5 3137.4 1877.1C3147.5 1880.7 3157.7 1884.1 3167.8 1886.2C3178 1888.4 3188.2 1889.3 3198.3 1890.2C3208.5 1891.1 3217.1 1891.2 3228.8 1891.4C3240.5 1891.6 3261.8 1891.4 3268.4 1891.4M2824.4 1909.1C2830.9 1908.6 2849 1907.5 2863.1 1906C2877.2 1904.6 2896.1 1901.3 2908.8 1900.6C2921.5 1899.8 2926.2 1900.7 2939.3 1901.5C2952.4 1902.3 2976.3 1904.9 2987.4 1905.4C2998.6 1905.9 2999.1 1903.4 3006.3 1904.5C3013.5 1905.6 3021.6 1908.8 3030.7 1912.1C3039.8 1915.4 3052.9 1921.4 3061.2 1924.3C3069.5 1927.2 3075.3 1929 3080.4 1929.5C3085.5 1930 3085.7 1930.3 3091.7 1927.4C3097.6 1924.5 3107.9 1916.7 3116 1912.1C3124.2 1907.6 3132.3 1903 3140.4 1900C3148.5 1896.9 3156.7 1894.9 3164.8 1893.9C3172.9 1892.8 3181 1892.8 3189.2 1893.9C3197.3 1894.9 3204.4 1897.2 3213.5 1900C3222.7 1902.7 3234.9 1908.5 3244 1910.6C3253.2 1912.8 3264.3 1912.4 3268.4 1912.8M2824.4 1913.7C2830.9 1913.9 2849 1914 2863.1 1915.2C2877.2 1916.4 2896.1 1919.9 2908.8 1920.7C2921.5 1921.4 2929.1 1920.9 2939.3 1919.8C2949.4 1918.6 2961.7 1915 2969.8 1913.7C2977.8 1912.3 2981.3 1911.8 2987.4 1911.5C2993.5 1911.3 2999.1 1910.5 3006.3 1912.1C3013.5 1913.8 3021.6 1917.2 3030.7 1921.3C3039.8 1925.3 3052.9 1933.2 3061.2 1936.5C3069.5 1939.8 3072.8 1940.3 3080.4 1941.1C3088 1941.9 3097.4 1940.8 3106.9 1941.1C3116.4 1941.3 3127.2 1942.9 3137.4 1942.6C3147.5 1942.4 3157.7 1941.6 3167.8 1939.6C3178 1937.5 3188.2 1934.5 3198.3 1930.4C3208.5 1926.4 3217.1 1919.8 3228.8 1915.2C3240.5 1910.6 3261.8 1905 3268.4 1903M2824.4 1920.7C2830.9 1921.5 2851.6 1923 2863.1 1925.9C2874.6 1928.8 2883.9 1935 2893.6 1938C2903.2 1941.1 2913.4 1943.9 2921 1944.1C2928.6 1944.4 2932.2 1941.6 2939.3 1939.6C2946.4 1937.5 2955.6 1933.6 2963.7 1932C2971.7 1930.3 2981.3 1929.3 2987.4 1929.8C2993.5 1930.3 2995.1 1932.4 3000.2 1935C3005.4 1937.6 3012.4 1942.4 3018.5 1945.7C3024.6 1949 3031.7 1952.9 3036.8 1954.8C3041.9 1956.7 3044.9 1957.5 3049 1957.2C3053.1 1957 3055.9 1955.7 3061.2 1953.3C3066.4 1950.8 3072.8 1943.1 3080.4 1942.6C3088 1942.1 3097.4 1948.5 3106.9 1950.2C3116.4 1952 3127.2 1953.3 3137.4 1953.3C3147.5 1953.3 3157.7 1952.5 3167.8 1950.2C3178 1947.9 3188.2 1943.4 3198.3 1939.6C3208.5 1935.8 3217.1 1930.9 3228.8 1927.4C3240.5 1923.8 3261.8 1919.8 3268.4 1918.2M2824.4 1939.6C2828.3 1939.8 2841.4 1939.6 2847.9 1941.1C2854.3 1942.6 2857 1945.2 2863.1 1948.7C2869.2 1952.3 2880.9 1960.1 2884.4 1962.4M2824.4 1944.1C2827.3 1945.4 2836.8 1948.7 2841.8 1951.8C2846.7 1954.8 2851.9 1960.6 2854 1962.4M3268.4 1939.6C3265.4 1940.3 3256.7 1942.1 3250.1 1944.1C3243.5 1946.2 3235.9 1948.7 3228.8 1951.8C3221.7 1954.8 3211 1960.6 3207.5 1962.4M3268.4 1944.1C3265.9 1945.2 3257.7 1947.2 3253.2 1950.2C3248.6 1953.3 3243 1960.4 3241 1962.4"/></g><use href="#b6_1" stroke="#a91d38" stroke-width="2"/></g>
<line x1="2985.7" y1="1638.5" x2="2985.7" y2="1960.9" stroke="#1a1ad0" stroke-width="1.1" stroke-linecap="butt" />
<line x1="3079.5" y1="1638.5" x2="3079.5" y2="1960.9" stroke="#1a1ad0" stroke-width="1.1" stroke-linecap="butt" />
<line x1="2824.4" y1="1799.7" x2="3268.4" y2="1799.7" stroke="#2a7a2a" stroke-width="1.1" stroke-dasharray="2 2.4"/>
<rect x="2824.4" y="1638.5" width="444" height="322.4" fill="none" stroke="#000" stroke-width="3"/>
<text x="2810.4" y="1646.5" font-size="35" text-anchor="end" >2</text>
<text x="2810.4" y="1727.1" font-size="35" text-anchor="end" >1</text>
<line x1="2824.4" y1="1719.1" x2="2833.4" y2="1719.1" stroke="#000" stroke-width="2.4" stroke-linecap="butt" />
<text x="2810.4" y="1807.7" font-size="35" text-anchor="end" >0</text>
<line x1="2824.4" y1="1799.7" x2="2833.4" y2="1799.7" stroke="#000" stroke-width="2.4" stroke-linecap="butt" />
<text x="2810.4" y="1888.3" font-size="35" text-anchor="end" >1</text>
<line x1="2761.4" y1="1878.8" x2="2785.4" y2="1878.8" stroke="#000" stroke-width="1.9" stroke-linecap="butt" />
<line x1="2824.4" y1="1880.3" x2="2833.4" y2="1880.3" stroke="#000" stroke-width="2.4" stroke-linecap="butt" />
<text x="2810.4" y="1968.9" font-size="35" text-anchor="end" >2</text>
<line x1="2761.4" y1="1959.4" x2="2785.4" y2="1959.4" stroke="#000" stroke-width="1.9" stroke-linecap="butt" />
<text x="2828.4" y="2008.5" font-size="38.3" text-anchor="middle" font-style="italic" >Γ</text>
<text x="2990.7" y="2011.4" font-size="38.3" text-anchor="middle" font-style="italic" >M</text>
<text x="3085" y="2011.4" font-size="38.3" text-anchor="middle" font-style="italic" >K</text>
<text x="3272.4" y="2008.5" font-size="38.3" text-anchor="middle" font-style="italic" >Γ</text>
<text transform="translate(2752.4 1809.7) rotate(-90)" font-size="37.5" text-anchor="middle" textLength="198" lengthAdjust="spacing">Energy/eV</text>
<text x="2841" y="1785.6" font-size="33" font-style="italic" >ε</text>
<text x="2860.2" y="1792" font-size="25.4" >F</text>
<text x="3046.4" y="1622" font-size="36.8" text-anchor="middle" textLength="53.3" lengthAdjust="spacing" >30°</text>
<line x1="3099.8" y1="1841.3" x2="3241" y2="1761.3" stroke="#14a64f" stroke-width="3.2" stroke-linecap="butt" />
<polygon points="3081,1852 3108,1844.9 3100.9,1832.4" fill="#14a64f"/>
<polygon points="3259.8,1750.6 3239.9,1770.2 3232.8,1757.7" fill="#14a64f"/>
<text x="3052.6" y="1789.6" font-size="36.5" textLength="133.3" lengthAdjust="spacing" >1.48 eV</text>
<defs><linearGradient id="rb" x1="0" x2="1" y1="0" y2="0"><stop offset="0.0000" stop-color="#6800a8"/><stop offset="0.0250" stop-color="#6000bc"/><stop offset="0.0500" stop-color="#5400d4"/><stop offset="0.0750" stop-color="#4200ec"/><stop offset="0.1000" stop-color="#2c00fa"/><stop offset="0.1250" stop-color="#1600ff"/><stop offset="0.1500" stop-color="#0000ff"/><stop offset="0.1750" stop-color="#0046ff"/><stop offset="0.2000" stop-color="#007bff"/><stop offset="0.2250" stop-color="#00a9ff"/><stop offset="0.2500" stop-color="#00d5ff"/><stop offset="0.2750" stop-color="#00ffff"/><stop offset="0.3000" stop-color="#00ff92"/><stop offset="0.3250" stop-color="#00ff00"/><stop offset="0.3500" stop-color="#36ff00"/><stop offset="0.3750" stop-color="#5eff00"/><stop offset="0.4000" stop-color="#81ff00"/><stop offset="0.4250" stop-color="#a3ff00"/><stop offset="0.4500" stop-color="#c3ff00"/><stop offset="0.4750" stop-color="#e1ff00"/><stop offset="0.5000" stop-color="#ffff00"/><stop offset="0.5250" stop-color="#ffdf00"/><stop offset="0.5500" stop-color="#ffbe00"/><stop offset="0.5750" stop-color="#ff9b00"/><stop offset="0.6000" stop-color="#ff7700"/><stop offset="0.6250" stop-color="#ff4f00"/><stop offset="0.6500" stop-color="#ff2100"/><stop offset="0.6750" stop-color="#ff0000"/><stop offset="0.7000" stop-color="#ff0000"/><stop offset="0.7250" stop-color="#ff0000"/><stop offset="0.7500" stop-color="#ff0000"/><stop offset="0.7750" stop-color="#ff0000"/><stop offset="0.8000" stop-color="#ff0000"/><stop offset="0.8250" stop-color="#ec0000"/><stop offset="0.8500" stop-color="#d60000"/><stop offset="0.8750" stop-color="#bf0000"/><stop offset="0.9000" stop-color="#a80000"/><stop offset="0.9250" stop-color="#900000"/><stop offset="0.9500" stop-color="#780000"/><stop offset="0.9750" stop-color="#600000"/><stop offset="1.0000" stop-color="#480000"/></linearGradient></defs>
<rect x="604.6" y="1279.7" width="478.8" height="608.5" fill="url(#rb)"/>
<clipPath id="cpO"><rect x="224.3" y="1279.7" width="984" height="608.5"/></clipPath>
<g clip-path="url(#cpO)" fill="none" stroke-width="3.7" stroke-linejoin="round">
<path d="M224.3 1849C225.3 1843.5 228.4 1830 230.4 1816.4C232.4 1802.9 234.8 1785.3 236.5 1767.7C238.2 1750.1 239.4 1704 240.6 1710.8C241.7 1717.6 242.4 1786.6 243.4 1808.3C244.4 1830 245.1 1834.7 246.7 1840.8C248.2 1846.9 250.7 1847.6 252.7 1844.9C254.8 1842.2 257.1 1844.2 258.8 1824.6C260.5 1804.9 261.8 1755.5 262.9 1727C264.1 1698.6 264.9 1650.5 265.7 1653.9C266.6 1657.3 267.3 1724.3 268.2 1747.4C269.1 1770.4 269.9 1802.2 271 1792.1C272.2 1781.9 273.9 1715.5 275.1 1686.4C276.3 1657.3 277.5 1630.5 278.3 1617.3C279.1 1604.1 279.4 1599 280 1607.2C280.6 1615.3 281.1 1673.2 282 1666.1C282.9 1659 284 1597.5 285.2 1564.5C286.5 1531.4 288.3 1481.3 289.3 1467.8C290.3 1454.2 290.7 1460.3 291.3 1483.2C292 1506.1 292.7 1564.5 293.4 1605.1C294 1645.8 294.7 1700.3 295.4 1727C296.1 1753.8 296.4 1752.8 297.4 1765.6C298.4 1778.5 300.1 1797.1 301.5 1804.3C302.8 1811.4 304.3 1804.9 305.5 1808.3C306.8 1811.7 307.6 1822.5 308.8 1824.6C310 1826.6 311.5 1828.6 312.9 1820.5C314.2 1812.4 315.6 1789.5 316.9 1775.8C318.2 1762.1 319.6 1742.5 320.6 1738.4C321.6 1734.4 322 1739.8 323 1751.4C324 1763.1 325.2 1793.4 326.7 1808.3C328.2 1823.2 330.1 1833 332 1840.8C333.8 1848.6 335.7 1852.9 338 1855.1C340.4 1857.2 343.5 1853.2 346.2 1853.8C348.9 1854.5 350.9 1858.6 354.3 1859.1C357.7 1859.7 363.1 1859.5 366.5 1857.1C369.9 1854.7 372.2 1853 374.6 1844.9C377 1836.8 379 1818.3 380.7 1808.3C382.4 1798.3 383.4 1786.8 384.8 1784.7C386.1 1782.7 387.1 1796.8 388.8 1796.1C390.5 1795.5 393.2 1782 394.9 1780.7C396.6 1779.3 397.6 1783.4 399 1788C400.3 1792.6 401.5 1805.6 403 1808.3C404.5 1811 406.2 1800.9 407.9 1804.3C409.6 1807.6 411.3 1822.9 413.2 1828.6C415.1 1834.4 416.9 1837.3 419.3 1838.8C421.6 1840.3 424.4 1837.9 427.4 1837.6C430.4 1837.2 434.8 1835.9 437.6 1836.8C440.3 1837.6 441.3 1839.8 443.6 1842.9C446 1845.9 448.4 1853 451.8 1855.1C455.2 1857.1 460.2 1856.6 464 1855.1C467.7 1853.5 471.4 1846 474.1 1845.7C476.8 1845.4 477.8 1851.3 480.2 1853C482.6 1854.8 483.6 1855.6 488.3 1856.3C493.1 1856.9 501.9 1855.9 508.6 1857.1C515.4 1858.2 516.1 1862 528.9 1863.2C541.8 1864.4 549.3 1864.2 585.8 1864.4C622.4 1864.6 644.5 1864.4 748.2 1864.4C851.9 1864.4 1131.2 1864.4 1207.8 1864.4" stroke="#f0608a"/>
<path d="M224.3 1859.1C225.7 1852.7 230.1 1832 232.4 1820.5C234.8 1809 236.5 1792.1 238.5 1790C240.6 1788 242.6 1805.3 244.6 1808.3C246.7 1811.4 248.7 1811.7 250.7 1808.3C252.7 1804.9 255.1 1798.2 256.8 1788C258.5 1777.8 259.5 1756.2 260.9 1747.4C262.2 1738.6 263.6 1736.5 264.9 1735.2C266.3 1733.8 267.3 1741.9 269 1739.2C270.7 1736.5 273.1 1729.1 275.1 1718.9C277.1 1708.8 279.1 1693.2 281.2 1678.3C283.2 1663.4 285.6 1641.7 287.3 1629.5C289 1617.3 290 1607.2 291.3 1605.1C292.7 1603.1 293.7 1610.5 295.4 1617.3C297.1 1624.1 299.8 1640.3 301.5 1645.8C303.2 1651.2 304.2 1656.6 305.5 1649.8C306.9 1643.1 308.3 1620 309.6 1605.1C311 1590.2 312.3 1567.2 313.7 1560.4C315 1553.7 316.4 1570.6 317.7 1564.5C319.1 1558.4 320.4 1538.8 321.8 1523.8C323.2 1508.9 324.6 1488.3 325.9 1475.1C327.1 1461.9 327.9 1448 329.1 1444.6C330.3 1441.2 331.8 1444.3 333.2 1454.8C334.5 1465.3 336 1516.4 337.2 1507.6C338.4 1498.8 339.5 1433.1 340.5 1401.9C341.5 1370.8 342.5 1335.7 343.3 1320.7C344.1 1305.6 344.6 1308.3 345.4 1311.7C346.1 1315.1 347 1312.4 347.8 1341C348.6 1369.6 349.3 1435.8 350.2 1483.2C351.2 1530.6 352.3 1588.9 353.5 1625.4C354.7 1662 356.3 1685.5 357.5 1702.7C358.8 1719.8 359.8 1726.9 361.2 1728.3C362.5 1729.6 364.1 1723.2 365.7 1710.8C367.2 1698.4 369 1678.3 370.5 1653.9C372 1629.5 373.2 1599.7 374.6 1564.5C376 1529.3 377.5 1479.8 378.7 1442.6C379.8 1405.3 380.6 1363.3 381.5 1341C382.4 1318.6 383.1 1312.5 383.9 1308.5C384.8 1304.4 385.6 1307.8 386.8 1316.6C387.9 1325.4 389.5 1355.9 390.8 1361.3C392.2 1366.7 393.7 1356.7 394.9 1349.1C396.1 1341.5 397.1 1318.5 398.2 1315.8C399.2 1313.1 400.1 1318.5 401 1332.8C401.9 1347.2 402.8 1378.9 403.8 1401.9C404.9 1425 405.9 1449.3 407.1 1471C408.3 1492.7 409.5 1512.3 411.2 1532C412.8 1551.6 415.2 1572.6 417.2 1588.9C419.3 1605.1 421 1614.6 423.3 1629.5C425.7 1644.4 428.8 1665.4 431.5 1678.3C434.2 1691.1 436.9 1698.6 439.6 1706.7C442.3 1714.9 445 1720.3 447.7 1727C450.4 1733.8 453.5 1741.3 455.8 1747.4C458.2 1753.5 459.9 1759.6 461.9 1763.6C464 1767.7 466 1767 468 1771.7C470.1 1776.5 471.7 1785.6 474.1 1792.1C476.5 1798.5 479.2 1805.6 482.2 1810.4C485.3 1815.1 488.7 1818.1 492.4 1820.5C496.1 1822.9 499.8 1823.6 504.6 1824.6C509.3 1825.6 515.4 1824.9 520.8 1826.6C526.2 1828.3 531 1832 537.1 1834.7C543.2 1837.4 550.6 1840.6 557.4 1842.9C564.1 1845.1 569.6 1846.5 577.7 1848.1C585.8 1849.8 594.6 1851.5 606.1 1853C617.6 1854.5 627.8 1855.7 646.7 1857.1C665.7 1858.4 698.9 1860.2 719.8 1861.1C740.7 1862.1 747.5 1862.2 772.1 1862.6C796.8 1863 795.3 1863.2 867.9 1863.5C940.5 1863.8 1151.2 1864.3 1207.8 1864.4" stroke="#a426f2"/>
<path d="M224.3 1864.4C227 1863.2 234.5 1860 240.6 1857.1C246.7 1854.2 255.5 1851.7 260.9 1846.9C266.3 1842.2 269.7 1841.8 273.1 1828.6C276.4 1815.4 278.8 1787.3 281.2 1767.7C283.5 1748 285.4 1725 287.3 1710.8C289.2 1696.6 290.9 1682.3 292.6 1682.3C294.2 1682.3 295.6 1702 297.4 1710.8C299.3 1719.6 301.8 1731.4 303.5 1735.2C305.2 1738.9 305.9 1740.6 307.6 1733.1C309.3 1725.7 311.6 1706.4 313.7 1690.5C315.7 1674.6 317.9 1658.6 319.8 1637.6C321.7 1616.6 323.4 1584.1 325 1564.5C326.7 1544.8 328.4 1523.2 329.9 1519.8C331.4 1516.4 332.5 1529.9 334 1544.2C335.5 1558.4 337.2 1588.9 338.9 1605.1C340.5 1621.4 342.4 1638.3 344.1 1641.7C345.9 1645.1 347.7 1632.2 349.4 1625.4C351.1 1618.7 352.5 1603.4 354.3 1601.1C356.1 1598.7 358.5 1609.5 360.4 1611.2C362.3 1612.9 364.1 1609.9 365.7 1611.2C367.2 1612.6 367.9 1620 369.7 1619.3C371.6 1618.7 374.5 1609.5 376.6 1607.2C378.8 1604.8 380.7 1615.6 382.7 1605.1C384.8 1594.6 386.8 1564.5 388.8 1544.2C390.8 1523.8 392.9 1497.4 394.9 1483.2C396.9 1469 399 1464.9 401 1458.8C403 1452.7 405.4 1446 407.1 1446.6C408.8 1447.3 409.7 1450 411.2 1462.9C412.6 1475.8 414.2 1503.5 416 1523.8C417.9 1544.2 419.9 1566.5 422.1 1584.8C424.4 1603.1 426.9 1620 429.4 1633.6C432 1647.1 435.5 1660 437.6 1666.1C439.6 1672.2 439.2 1676.2 441.6 1670.1C444 1664.1 448.7 1639 451.8 1629.5C454.8 1620 457.5 1616.6 459.9 1613.3C462.3 1609.9 464.1 1607.2 466 1609.2C467.9 1611.2 468.9 1619.3 471.3 1625.4C473.6 1631.5 477 1641.4 480.2 1645.8C483.4 1650.2 486.3 1647.8 490.4 1651.9C494.4 1655.9 499.5 1661.7 504.6 1670.1C509.7 1678.6 516.1 1696.9 520.8 1702.7C525.6 1708.4 528.9 1701.3 533 1704.7C537.1 1708.1 539.8 1716.5 545.2 1723C550.6 1729.4 558.7 1737.9 565.5 1743.3C572.3 1748.7 579 1751.8 585.8 1755.5C592.6 1759.2 602.7 1764 606.1 1765.6C609.5 1767.3 602 1762.6 606.1 1765.6C610.2 1768.7 623.2 1781 630.9 1783.9C638.6 1786.8 645.5 1782.5 652.4 1783C659.4 1783.5 666.6 1784.3 672.8 1787C679 1789.7 684 1794.9 689.5 1799.4C695.1 1803.9 700.5 1810.4 706.3 1814C712.1 1817.6 716.1 1818.6 724.3 1821C732.4 1823.5 746.8 1826.8 755.4 1828.4C764 1830 768.7 1828.7 775.7 1830.4C782.7 1832.2 790.3 1836.3 797.3 1838.7C804.3 1841.2 807.3 1842.5 817.6 1844.9C828 1847.4 845.8 1851 859.5 1853.3C873.3 1855.5 882.9 1856.8 900.2 1858.4C917.6 1859.9 933.1 1861.7 963.7 1862.6C994.2 1863.6 1042.7 1863.8 1083.4 1864.1C1124.1 1864.4 1187.1 1864.4 1207.8 1864.4" stroke="#1aa11a"/>
<path d="M224.3 1857.1C225.3 1852.3 228 1839.8 230.4 1828.6C232.8 1817.5 236.2 1793.1 238.5 1790C240.9 1787 242.3 1807.6 244.6 1810.4C247 1813.1 250.4 1814.8 252.7 1806.3C255.1 1797.8 257.1 1772.1 258.8 1759.6C260.5 1747 261.2 1736.2 262.9 1731.1C264.6 1726 267 1732.5 269 1729.1C271 1725.7 273.1 1721.3 275.1 1710.8C277.1 1700.3 279.1 1681.7 281.2 1666.1C283.2 1650.5 285.6 1627.8 287.3 1617.3C289 1606.8 290 1602.4 291.3 1603.1C292.7 1603.8 293.7 1614.9 295.4 1621.4C297.1 1627.8 299.8 1637 301.5 1641.7C303.2 1646.4 304.2 1653.9 305.5 1649.8C306.9 1645.8 308.3 1631.5 309.6 1617.3C311 1603.1 312.5 1574 313.7 1564.5C314.9 1555 315.6 1556.4 316.9 1560.4C318.3 1564.4 320.2 1588.9 321.8 1588.5C323.4 1588.2 325.1 1567.1 326.7 1558.3C328.2 1549.6 329.7 1532.8 331.1 1536C332.6 1539.3 333.7 1559.5 335.2 1577.7C336.7 1595.9 338.6 1631.2 340.1 1645.3C341.6 1659.4 342.6 1661.9 344.1 1662.4C345.7 1662.9 347.7 1653.3 349.4 1648.2C351.1 1643.1 352.8 1635 354.3 1631.8C355.8 1628.5 356.7 1628.3 358.4 1628.7C360 1629.1 362.4 1631.8 364.4 1634.1C366.5 1636.5 368.5 1640.3 370.5 1642.6C372.6 1644.8 374.6 1650.7 376.6 1647.9C378.7 1645 380.7 1639.4 382.7 1625.6C384.8 1611.8 386.8 1585.9 388.8 1565.2C390.8 1544.5 392.9 1517.3 394.9 1501.5C396.9 1485.7 399.1 1477.4 401 1470.6C402.9 1463.8 404.7 1459.5 406.3 1460.8C407.8 1462.1 408.9 1466.3 410.3 1478.5C411.8 1490.6 413.4 1515.5 415.2 1534C417 1552.5 418.9 1572.3 421.3 1589.6C423.7 1606.8 426.7 1624.6 429.4 1637.7C432.1 1650.8 435.3 1662 437.6 1668.1C439.8 1674.2 440.8 1676.6 442.8 1674.2C444.9 1671.8 447.2 1660 449.7 1653.9C452.2 1647.7 455.2 1640.9 457.9 1637.5C460.6 1634 462.9 1633 466 1633.1C469 1633.2 472.4 1635.3 476.1 1638.1C479.9 1640.9 483.6 1643.6 488.3 1650C493.1 1656.3 499.2 1666.8 504.6 1676.2C510 1685.7 514.7 1697.5 520.8 1706.9C526.9 1716.3 534.4 1725.4 541.1 1732.5C547.9 1739.6 554 1744.9 561.4 1749.4C568.9 1753.9 578.4 1755.8 585.8 1759.6C593.3 1763.3 598.6 1767.4 606.1 1771.7C613.6 1776.1 623.2 1782.9 630.9 1785.7C638.6 1788.4 645.5 1786.7 652.4 1788.3C659.4 1789.9 666 1792.4 672.8 1795.4C679.6 1798.3 682.8 1802.2 693.1 1806C703.5 1809.8 722.9 1815.4 735 1818.4C747.2 1821.3 755.8 1821.5 766.2 1823.7C776.5 1825.9 788.7 1829 797.3 1831.7C805.9 1834.3 807.3 1836.5 817.6 1839.6C828 1842.7 845.8 1847.4 859.5 1850.2C873.3 1853 886.5 1854.7 900.2 1856.4C914 1858.1 924.8 1859.2 942.1 1860.4C959.5 1861.6 960.1 1862.9 1004.4 1863.5C1048.6 1864.2 1173.9 1864.3 1207.8 1864.4" stroke="#f07a1a"/>
<path d="M224.3 1857.1C225.3 1852.3 228 1839.8 230.4 1828.6C232.8 1817.5 236.2 1793.1 238.5 1790C240.9 1787 242.3 1807.6 244.6 1810.4C247 1813.1 250.4 1814.8 252.7 1806.3C255.1 1797.8 257.1 1772.1 258.8 1759.6C260.5 1747 261.2 1736.2 262.9 1731.1C264.6 1726 267 1732.5 269 1729.1C271 1725.7 273.1 1721.3 275.1 1710.8C277.1 1700.3 279.1 1681.7 281.2 1666.1C283.2 1650.5 285.6 1627.8 287.3 1617.3C289 1606.8 290 1602.4 291.3 1603.1C292.7 1603.8 293.7 1614.9 295.4 1621.4C297.1 1627.8 299.8 1637 301.5 1641.7C303.2 1646.4 304.2 1653.9 305.5 1649.8C306.9 1645.8 308.3 1631.5 309.6 1617.3C311 1603.1 312.5 1574 313.7 1564.5C314.9 1555 315.6 1556.4 316.9 1560.4C318.3 1564.5 320.2 1588.1 321.8 1588.9C323.4 1589.7 325.1 1570.9 326.7 1565.2C328.2 1559.4 329.7 1549 331.1 1554.3C332.6 1559.6 333.7 1577.7 335.2 1597.1C336.7 1616.4 338.6 1655.1 340.1 1670.4C341.6 1685.7 342.6 1689.8 344.1 1689.1C345.7 1688.4 347.7 1673.9 349.4 1666.1C351.1 1658.4 352.8 1647.4 354.3 1642.6C355.8 1637.8 356.7 1637.3 358.4 1637.3C360 1637.3 362.4 1640.5 364.4 1642.3C366.5 1644.2 368.5 1646.7 370.5 1648.4C372.6 1650 374.6 1654.6 376.6 1652.3C378.7 1650 380.7 1645.7 382.7 1634.7C384.8 1623.7 386.8 1602.2 388.8 1586.3C390.8 1570.4 392.9 1550.1 394.9 1539.5C396.9 1528.9 399.1 1526.5 401 1522.5C402.9 1518.6 404.7 1514.7 406.3 1515.7C407.8 1516.8 408.9 1519.1 410.3 1528.6C411.8 1538.1 413.4 1558.8 415.2 1572.7C417 1586.6 418.9 1599.7 421.3 1612.2C423.7 1624.6 426.7 1636.7 429.4 1647.5C432.1 1658.2 435.3 1670.2 437.6 1676.6C439.8 1682.9 440.8 1686.4 442.8 1685.4C444.9 1684.4 447.2 1674.6 449.7 1670.6C452.2 1666.6 455.2 1662.8 457.9 1661.5C460.6 1660.3 462.9 1661.5 466 1663C469 1664.5 472.4 1668 476.1 1670.6C479.9 1673.2 483.6 1674.3 488.3 1678.5C493.1 1682.7 499.2 1689 504.6 1695.8C510 1702.7 514.7 1712 520.8 1719.8C526.9 1727.6 534.4 1735.9 541.1 1742.5C547.9 1749.1 554 1755.1 561.4 1759.5C568.9 1764 578.4 1765.7 585.8 1769.1C593.3 1772.5 599.4 1776.6 606.1 1779.7C612.9 1782.8 620.5 1786 626.4 1787.7C632.4 1789.4 635.7 1788.2 641.7 1790.1C647.6 1792 655 1795.4 662 1798.9C669 1802.5 674.8 1807.3 683.6 1811.3C692.3 1815.3 702.7 1819 714.7 1822.8C726.7 1826.7 741.6 1830.9 755.4 1834.3C769.1 1837.8 783.5 1840.7 797.3 1843.6C811 1846.6 824.2 1849.7 838 1852C851.7 1854.4 865.9 1856.2 879.9 1857.8C893.8 1859.3 901 1860.2 921.8 1861.2C942.5 1862.2 956.7 1863.2 1004.4 1863.7C1052 1864.2 1173.9 1864.3 1207.8 1864.4" stroke="#e31212"/>
<path d="M224.3 1859.7C225.3 1855.4 228 1843.6 230.4 1833.8C232.8 1824 236.2 1802.1 238.5 1800.9C240.9 1799.7 242.3 1821.9 244.6 1826.8C247 1831.7 250.4 1836.9 252.7 1830.5C255.1 1824.1 257.1 1799.8 258.8 1788.5C260.5 1777.1 261.2 1766.7 262.9 1762.4C264.6 1758.2 267 1765.6 269 1763C271 1760.4 273.1 1756.7 275.1 1747C277.1 1737.4 279.1 1719.7 281.2 1705.1C283.2 1690.5 285.6 1669.3 287.3 1659.7C289 1650.1 290 1646.3 291.3 1647.6C292.7 1648.8 293.7 1660.6 295.4 1667.4C297.1 1674.1 299.8 1683.4 301.5 1687.9C303.2 1692.5 304.2 1699.3 305.5 1694.5C306.9 1689.7 308.3 1674.4 309.6 1659C311 1643.6 312.5 1612.8 313.7 1602C314.9 1591.1 315.6 1591.6 316.9 1593.9C318.3 1596.3 320.2 1617.4 321.8 1616C323.4 1614.6 325.1 1593.7 326.7 1585.5C328.2 1577.3 329.7 1564.6 331.1 1566.9C332.6 1569.2 333.7 1583.6 335.2 1599.1C336.7 1614.6 338.6 1646.7 340.1 1659.9C341.6 1673.1 342.6 1677.1 344.1 1678.2C345.7 1679.4 347.7 1671.3 349.4 1666.6C351.1 1661.9 352.8 1653.4 354.3 1650C355.8 1646.6 356.7 1645.8 358.4 1646.1C360 1646.3 362.4 1649.7 364.4 1651.5C366.5 1653.3 368.5 1655.7 370.5 1656.8C372.6 1657.8 374.6 1661.1 376.6 1657.9C378.7 1654.6 380.7 1649 382.7 1637C384.8 1625.1 386.8 1602.8 388.8 1586.3C390.8 1569.8 392.9 1548.9 394.9 1537.8C396.9 1526.8 399.1 1524 401 1519.9C402.9 1515.7 404.7 1511.9 406.3 1513C407.8 1514.1 408.9 1516.6 410.3 1526.4C411.8 1536.1 413.4 1557.2 415.2 1571.5C417 1585.9 418.9 1599.5 421.3 1612.5C423.7 1625.6 426.7 1638.3 429.4 1649.8C432.1 1661.2 435.3 1674.2 437.6 1681.4C439.8 1688.5 440.8 1692.6 442.8 1692.7C444.9 1692.8 447.2 1684.6 449.7 1682.1C452.2 1679.6 455.2 1677.9 457.9 1677.7C460.6 1677.6 462.9 1679.8 466 1680.9C469 1682 472.4 1683.9 476.1 1684.5C479.9 1685.1 483.6 1682 488.3 1684.4C493.1 1686.9 499.2 1692.4 504.6 1699.4C510 1706.3 514.7 1717.7 520.8 1726.2C526.9 1734.7 534.4 1743.5 541.1 1750.4C547.9 1757.3 554 1763.2 561.4 1767.7C568.9 1772.1 578.4 1773.8 585.8 1777.1C593.3 1780.4 599.4 1784.4 606.1 1787.3C612.9 1790.3 620.5 1794.1 626.4 1794.7C632.4 1795.3 635.7 1789.8 641.7 1791C647.6 1792.1 655 1797.9 662 1801.6C669 1805.3 674.8 1809.3 683.6 1813.1C692.3 1816.9 702.7 1820.5 714.7 1824.2C726.7 1828 741.6 1832.2 755.4 1835.6C769.1 1839.1 783.5 1842 797.3 1844.9C811 1847.9 824.2 1851 838 1853.3C851.7 1855.5 865.9 1857 879.9 1858.4C893.8 1859.8 901 1860.6 921.8 1861.5C942.5 1862.4 956.7 1863.2 1004.4 1863.7C1052 1864.2 1173.9 1864.3 1207.8 1864.4" stroke="#ffee00"/>
<path d="M224.3 1857.1C225.3 1852.3 228 1839.8 230.4 1828.6C232.8 1817.5 236.2 1793.1 238.5 1790C240.9 1787 242.3 1807.6 244.6 1810.4C247 1813.1 250.4 1814.8 252.7 1806.3C255.1 1797.8 257.1 1772.1 258.8 1759.6C260.5 1747 261.2 1736.2 262.9 1731.1C264.6 1726 267 1732.5 269 1729.1C271 1725.7 273.1 1721.3 275.1 1710.8C277.1 1700.3 279.1 1681.7 281.2 1666.1C283.2 1650.5 285.6 1627.8 287.3 1617.3C289 1606.8 290 1602.4 291.3 1603.1C292.7 1603.8 293.7 1614.9 295.4 1621.4C297.1 1627.8 299.8 1637 301.5 1641.7C303.2 1646.4 304.2 1653.9 305.5 1649.8C306.9 1645.8 308.3 1631.5 309.6 1617.3C311 1603.1 312.5 1574 313.7 1564.5C314.9 1555 315.6 1556.4 316.9 1560.4C318.3 1564.5 320.2 1588.2 321.8 1588.9C323.4 1589.5 325.1 1570.9 326.7 1564.5C328.2 1558.1 329.7 1546.9 331.1 1550.3C332.6 1553.7 333.7 1568.9 335.2 1584.8C336.7 1600.7 338.6 1632.9 340.1 1645.8C341.6 1658.6 342.6 1662 344.1 1662C345.7 1662 347.7 1651.9 349.4 1645.8C351.1 1639.7 352.8 1629.6 354.3 1625.4C355.8 1621.2 356.7 1619.9 358.4 1620.6C360 1621.2 362.4 1626 364.4 1629.5C366.5 1633 368.5 1638.7 370.5 1641.7C372.6 1644.7 374.6 1650.5 376.6 1647.8C378.7 1645.1 380.7 1639.3 382.7 1625.4C384.8 1611.6 386.8 1585.5 388.8 1564.5C390.8 1543.5 392.9 1515.7 394.9 1499.5C396.9 1483.2 399.1 1474.1 401 1467C402.9 1459.8 404.7 1455.4 406.3 1456.8C407.8 1458.2 408.9 1462.6 410.3 1475.1C411.8 1487.6 413.4 1513 415.2 1532C417 1550.9 418.9 1571.3 421.3 1588.9C423.7 1606.5 426.7 1624.4 429.4 1637.6C432.1 1650.8 435.3 1662 437.6 1668.1C439.8 1674.2 440.8 1676.6 442.8 1674.2C444.9 1671.8 447.2 1660 449.7 1653.9C452.2 1647.8 455.2 1641 457.9 1637.6C460.6 1634.3 462.9 1633.2 466 1633.6C469 1633.9 472.4 1636.3 476.1 1639.7C479.9 1643.1 483.6 1646.8 488.3 1653.9C493.1 1661 499.2 1672.9 504.6 1682.3C510 1691.8 514.7 1702.3 520.8 1710.8C526.9 1719.3 534.4 1726.7 541.1 1733.1C547.9 1739.6 554 1745 561.4 1749.4C568.9 1753.8 578.4 1755.8 585.8 1759.6C593.3 1763.3 598.6 1767.3 606.1 1771.7C613.6 1776.2 623.2 1783.1 630.9 1786C638.6 1788.9 645.5 1787.3 652.4 1789.2C659.4 1791.1 666 1794.3 672.8 1797.4C679.6 1800.5 682.8 1803.6 693.1 1807.8C703.5 1811.9 721.3 1818.2 735 1822.3C748.8 1826.4 762 1829.1 775.7 1832.6C789.5 1836 803.7 1839.8 817.6 1842.9C831.6 1846 845.8 1848.7 859.5 1851.1C873.3 1853.5 886.5 1855.8 900.2 1857.3C914 1858.9 924.8 1859.4 942.1 1860.4C959.5 1861.5 960.1 1862.9 1004.4 1863.5C1048.6 1864.2 1173.9 1864.3 1207.8 1864.4" stroke="#1464e6"/>
<path d="M224.3 1857.1C225.3 1852.3 228 1839.8 230.4 1828.6C232.8 1817.5 236.2 1793.1 238.5 1790C240.9 1787 242.3 1807.6 244.6 1810.4C247 1813.1 250.4 1814.8 252.7 1806.3C255.1 1797.8 257.1 1772.1 258.8 1759.6C260.5 1747 261.2 1736.2 262.9 1731.1C264.6 1726 267 1732.5 269 1729.1C271 1725.7 273.1 1721.3 275.1 1710.8C277.1 1700.3 279.1 1681.7 281.2 1666.1C283.2 1650.5 285.6 1627.8 287.3 1617.3C289 1606.8 290 1602.4 291.3 1603.1C292.7 1603.8 293.7 1614.9 295.4 1621.4C297.1 1627.8 299.8 1637 301.5 1641.7C303.2 1646.4 304.2 1653.9 305.5 1649.8C306.9 1645.8 308.3 1631.5 309.6 1617.3C311 1603.1 312.5 1574 313.7 1564.5C314.9 1555 315.6 1556.4 316.9 1560.4C318.3 1564.5 320.2 1588.2 321.8 1588.9C323.4 1589.5 325.1 1570.9 326.7 1564.5C328.2 1558.1 329.7 1546.9 331.1 1550.3C332.6 1553.7 333.7 1568.9 335.2 1584.9C336.7 1600.9 338.6 1633.2 340.1 1646.4C341.6 1659.6 342.6 1663.2 344.1 1663.9C345.7 1664.7 347.7 1656 349.4 1650.9C351.1 1645.8 352.8 1637 354.3 1633.3C355.8 1629.5 356.7 1628.3 358.4 1628.4C360 1628.5 362.4 1631.4 364.4 1633.8C366.5 1636.2 368.5 1640.5 370.5 1642.8C372.6 1645.2 374.6 1650.8 376.6 1648C378.7 1645.1 380.7 1639.4 382.7 1625.7C384.8 1611.9 386.8 1586 388.8 1565.5C390.8 1545 392.9 1518 394.9 1502.5C396.9 1487 399.1 1479 401 1472.4C402.9 1465.8 404.7 1461.5 406.3 1462.8C407.8 1464.1 408.9 1468.1 410.3 1480.1C411.8 1492.2 413.4 1516.7 415.2 1535C417 1553.3 418.9 1572.8 421.3 1589.9C423.7 1607 426.7 1624.7 429.4 1637.8C432.1 1650.9 435.3 1662.2 437.6 1668.5C439.8 1674.9 440.8 1677.4 442.8 1675.9C444.9 1674.5 447.2 1664.4 449.7 1660C452.2 1655.6 455.2 1652.3 457.9 1649.5C460.6 1646.7 462.9 1644.4 466 1643.1C469 1641.7 472.4 1642 476.1 1641.5C479.9 1641.1 483.6 1636.1 488.3 1640.5C493.1 1644.9 499.2 1658.5 504.6 1668C510 1677.6 514.7 1687.5 520.8 1697.9C526.9 1708.4 534.4 1723.2 541.1 1730.8C547.9 1738.5 554 1740.5 561.4 1743.6C568.9 1746.7 578.4 1745.8 585.8 1749.4C593.3 1752.9 599.4 1759.8 606.1 1764.9C612.9 1769.9 619.7 1776.3 626.4 1779.8C633.2 1783.2 639 1783.4 646.7 1785.7C654.5 1787.9 665.1 1790.2 672.8 1793.2C680.5 1796.1 686.2 1800.6 693.1 1803.4C700.1 1806.1 707.7 1807.6 714.7 1809.5C721.7 1811.5 728.2 1813.2 735 1814.9C741.8 1816.5 748.6 1817.9 755.4 1819.3C762.2 1820.7 768.7 1821.2 775.7 1823.1C782.7 1824.9 790.3 1827.9 797.3 1830.3C804.3 1832.8 810.8 1835.4 817.6 1837.9C824.4 1840.3 831 1842.9 838 1844.9C845 1847 849.1 1848.2 859.5 1850.1C869.9 1852 886.5 1854.5 900.2 1856.3C914 1858 924.8 1859.2 942.1 1860.4C959.5 1861.6 980.8 1862.7 1004.4 1863.3C1027.9 1863.9 1049.4 1863.9 1083.4 1864C1117.3 1864.2 1187.1 1864.3 1207.8 1864.4" stroke="#8e1282"/>
</g>
<line x1="269.4" y1="1888.2" x2="269.4" y2="1875.2" stroke="#000" stroke-width="3.1" stroke-linecap="butt" />
<text x="270.7" y="1944.3" font-size="41.7" text-anchor="middle" textLength="67" lengthAdjust="spacing" >100</text>
<line x1="389.1" y1="1888.2" x2="389.1" y2="1875.2" stroke="#000" stroke-width="3.1" stroke-linecap="butt" />
<text x="390.4" y="1944.3" font-size="41.7" text-anchor="middle" textLength="67" lengthAdjust="spacing" >200</text>
<line x1="508.8" y1="1888.2" x2="508.8" y2="1875.2" stroke="#000" stroke-width="3.1" stroke-linecap="butt" />
<text x="510.1" y="1944.3" font-size="41.7" text-anchor="middle" textLength="67" lengthAdjust="spacing" >300</text>
<line x1="628.5" y1="1888.2" x2="628.5" y2="1875.2" stroke="#000" stroke-width="3.1" stroke-linecap="butt" />
<text x="629.8" y="1944.3" font-size="41.7" text-anchor="middle" textLength="67" lengthAdjust="spacing" >400</text>
<line x1="748.2" y1="1888.2" x2="748.2" y2="1875.2" stroke="#000" stroke-width="3.1" stroke-linecap="butt" />
<text x="749.5" y="1944.3" font-size="41.7" text-anchor="middle" textLength="67" lengthAdjust="spacing" >500</text>
<line x1="867.9" y1="1888.2" x2="867.9" y2="1875.2" stroke="#000" stroke-width="3.1" stroke-linecap="butt" />
<text x="869.2" y="1944.3" font-size="41.7" text-anchor="middle" textLength="67" lengthAdjust="spacing" >600</text>
<line x1="987.6" y1="1888.2" x2="987.6" y2="1875.2" stroke="#000" stroke-width="3.1" stroke-linecap="butt" />
<text x="988.9" y="1944.3" font-size="41.7" text-anchor="middle" textLength="67" lengthAdjust="spacing" >700</text>
<line x1="1107.3" y1="1888.2" x2="1107.3" y2="1875.2" stroke="#000" stroke-width="3.1" stroke-linecap="butt" />
<text x="1108.6" y="1944.3" font-size="41.7" text-anchor="middle" textLength="67" lengthAdjust="spacing" >800</text>
<line x1="224.3" y1="1864.4" x2="237.3" y2="1864.4" stroke="#000" stroke-width="3.1" stroke-linecap="butt" />
<text x="204.2" y="1878.7" font-size="42" text-anchor="end" >0</text>
<line x1="224.3" y1="1775.9" x2="237.3" y2="1775.9" stroke="#000" stroke-width="3.1" stroke-linecap="butt" />
<text x="204.2" y="1790.2" font-size="42" text-anchor="end" >1</text>
<line x1="224.3" y1="1687.5" x2="237.3" y2="1687.5" stroke="#000" stroke-width="3.1" stroke-linecap="butt" />
<text x="204.2" y="1701.8" font-size="42" text-anchor="end" >2</text>
<line x1="224.3" y1="1599" x2="237.3" y2="1599" stroke="#000" stroke-width="3.1" stroke-linecap="butt" />
<text x="204.2" y="1613.3" font-size="42" text-anchor="end" >3</text>
<line x1="224.3" y1="1510.5" x2="237.3" y2="1510.5" stroke="#000" stroke-width="3.1" stroke-linecap="butt" />
<text x="204.2" y="1524.8" font-size="42" text-anchor="end" >4</text>
<line x1="224.3" y1="1422.1" x2="237.3" y2="1422.1" stroke="#000" stroke-width="3.1" stroke-linecap="butt" />
<text x="204.2" y="1436.4" font-size="42" text-anchor="end" >5</text>
<line x1="224.3" y1="1333.6" x2="237.3" y2="1333.6" stroke="#000" stroke-width="3.1" stroke-linecap="butt" />
<text x="204.2" y="1347.9" font-size="42" text-anchor="end" >6</text>
<rect x="224.3" y="1279.7" width="984" height="608.5" fill="none" stroke="#000" stroke-width="3"/>
<text x="261.5" y="1333" font-size="40.5" textLength="55.5" lengthAdjust="spacing" >(b)</text>
<text x="554.6" y="2009.6" font-size="40.5" textLength="323" lengthAdjust="spacing" >Wavelength/nm</text>
<text transform="translate(136.5 1587) rotate(-90)" font-size="41" text-anchor="middle" textLength="283" lengthAdjust="spacing"><tspan font-style="italic">α</tspan><tspan font-size="28.5" dy="7">a</tspan><tspan dy="-7">/(10</tspan><tspan font-size="28.5" dy="-14">5</tspan><tspan dy="14"> cm</tspan><tspan font-size="28.5" dy="-14">−1</tspan><tspan dy="14">)</tspan></text>
<text x="550.2" y="1258.1" font-size="42" textLength="332.4" lengthAdjust="spacing" >Optical propcrty</text>
<line x1="216" y1="1047.4" x2="264.6" y2="1047.4" stroke="#a44df0" stroke-width="2.8" stroke-linecap="butt" />
<text x="280.4" y="1059.6" font-size="34.4" textLength="217.4" lengthAdjust="spacing" >Sb monolayer</text>
<line x1="216" y1="1095.4" x2="264.6" y2="1095.4" stroke="#f0608a" stroke-width="2.8" stroke-linecap="butt" />
<text x="280.4" y="1107.6" font-size="34.4" textLength="243.8" lengthAdjust="spacing" >SnC monolayer</text>
<line x1="216" y1="1144" x2="264.6" y2="1144" stroke="#e31212" stroke-width="2.8" stroke-linecap="butt" />
<text x="280.4" y="1156.2" font-size="34.4" textLength="465.4" lengthAdjust="spacing" >Sb/SnC vdwH with <tspan font-style="italic">θ</tspan> = 8.95°</text>
<line x1="216" y1="1191.5" x2="264.6" y2="1191.5" stroke="#f07a1a" stroke-width="2.8" stroke-linecap="butt" />
<text x="280.4" y="1203.7" font-size="34.4" textLength="482.8" lengthAdjust="spacing" >Sb/SnC vdwH with <tspan font-style="italic">θ</tspan> = 10.89°</text>
<line x1="794.8" y1="1047.4" x2="843.9" y2="1047.4" stroke="#ffee00" stroke-width="2.8" stroke-linecap="butt" />
<text x="859.5" y="1059.6" font-size="34.4" textLength="482.8" lengthAdjust="spacing" >Sb/SnC vdwH with <tspan font-style="italic">θ</tspan> = 13.59°</text>
<line x1="794.8" y1="1095.4" x2="843.9" y2="1095.4" stroke="#1aa11a" stroke-width="2.8" stroke-linecap="butt" />
<text x="859.5" y="1107.6" font-size="34.4" textLength="482.8" lengthAdjust="spacing" >Sb/SnC vdwH with <tspan font-style="italic">θ</tspan> = 19.11°</text>
<line x1="794.8" y1="1144" x2="843.9" y2="1144" stroke="#1464e6" stroke-width="2.8" stroke-linecap="butt" />
<text x="859.5" y="1156.2" font-size="34.4" textLength="482.8" lengthAdjust="spacing" >Sb/SnC vdwH with <tspan font-style="italic">θ</tspan> = 23.41°</text>
<line x1="794.8" y1="1191.5" x2="843.9" y2="1191.5" stroke="#8e1282" stroke-width="2.8" stroke-linecap="butt" />
<text x="859.5" y="1203.7" font-size="34.4" textLength="434" lengthAdjust="spacing" >Sb/SnC vdwH with <tspan font-style="italic">θ</tspan> = 30°</text>
</svg></body></html>
